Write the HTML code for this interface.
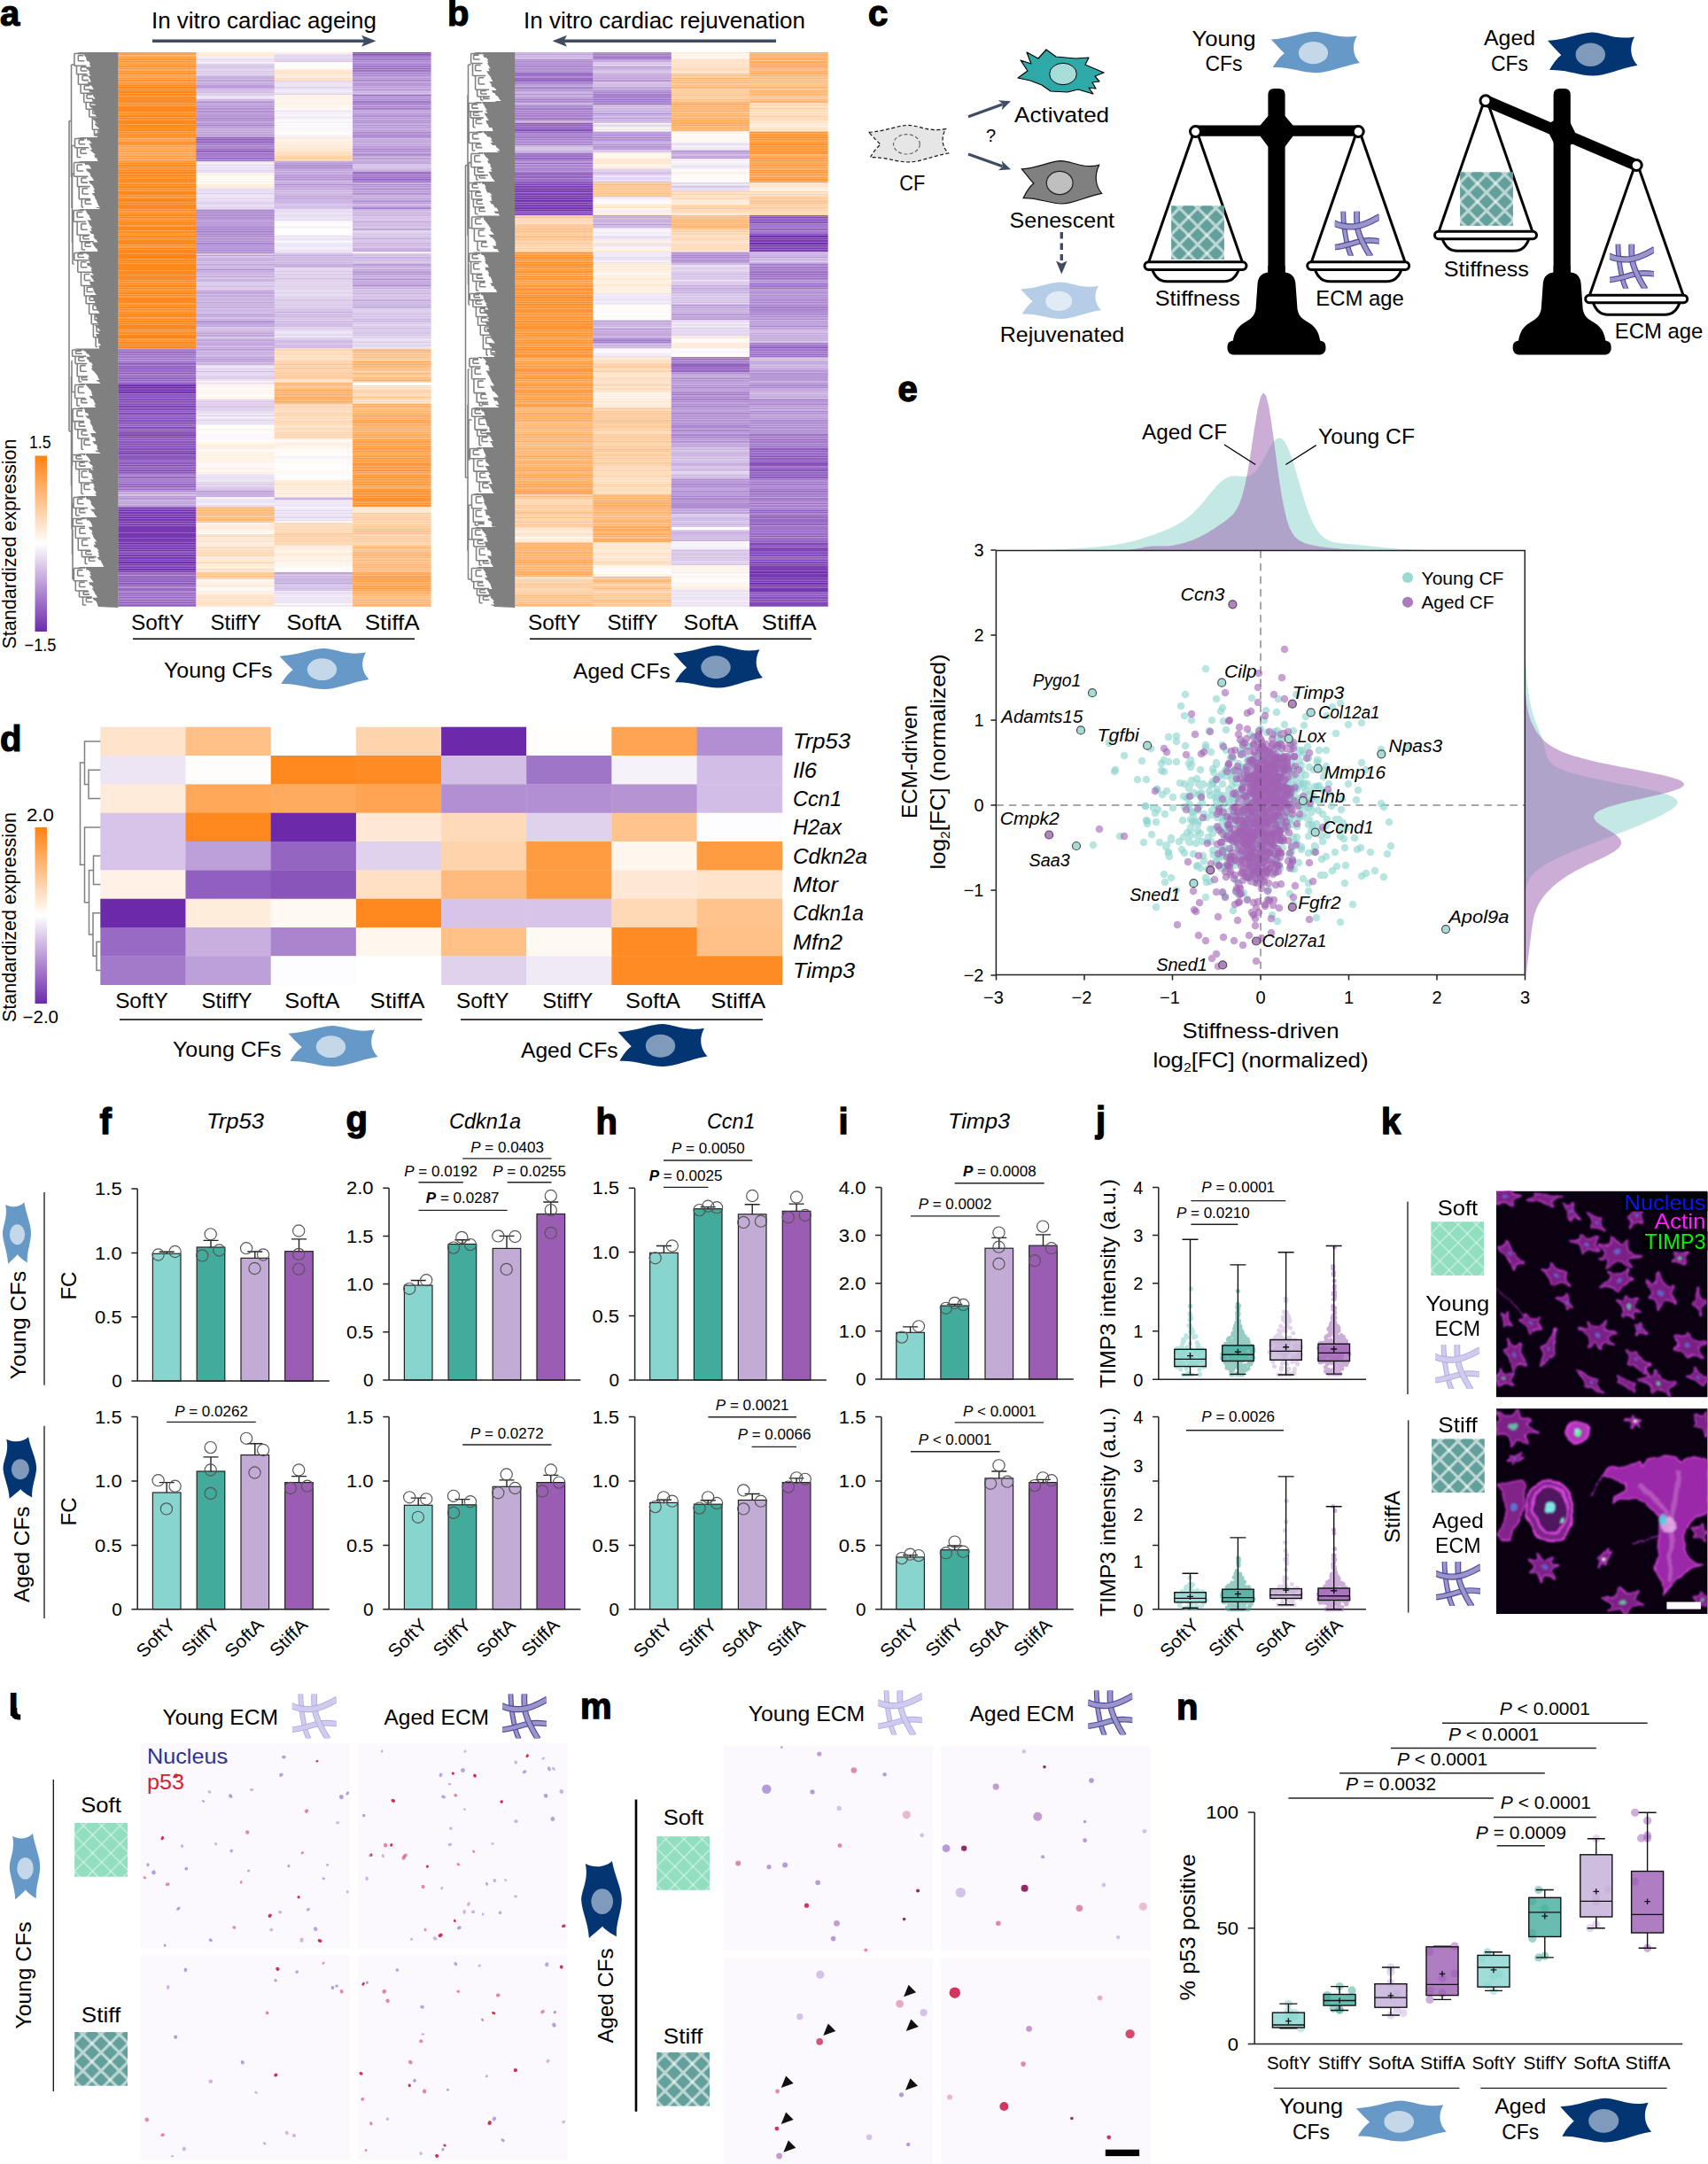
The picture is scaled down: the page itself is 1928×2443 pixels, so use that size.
<!DOCTYPE html>
<html><head><meta charset="utf-8"><title>Figure</title>
<style>html,body{margin:0;padding:0;background:#fff}svg{display:block}text{font-family:"Liberation Sans",sans-serif;fill:#000}</style>
</head><body><svg width="1928" height="2443" viewBox="0 0 1928 2443" fill="none"><rect width="1928" height="2443" fill="#fff"/><text x="0" y="29" font-size="40" font-weight="bold" stroke="#000" stroke-width="1.2">a</text><text x="505" y="29" font-size="40" font-weight="bold" stroke="#000" stroke-width="1.2">b</text><text x="298" y="32" font-size="25" text-anchor="middle" textLength="254" lengthAdjust="spacingAndGlyphs">In vitro cardiac ageing</text><text x="750" y="32" font-size="25" text-anchor="middle" textLength="318" lengthAdjust="spacingAndGlyphs">In vitro cardiac rejuvenation</text><path d="M172 46.3H414" stroke="#3f4d63" stroke-width="3.4"/><path d="M424.5 46.3L408 39.8L411.5 46.3L408 52.8z" fill="#3f4d63"/><path d="M876 46.3H634" stroke="#3f4d63" stroke-width="3.4"/><path d="M623.5 46.3L640 39.8L636.5 46.3L640 52.8z" fill="#3f4d63"/><path d="M133.2 59v3.2h88.4v-3.2z" fill="#ffa04c"/><path d="M133.2 62.2v1.6h88.4v-1.6z" fill="#ffa450"/><path d="M133.2 63.8v1.6h88.4v-1.6z" fill="#ff9c40"/><path d="M133.2 65.4v1.6h88.4v-1.6z" fill="#ff983c"/><path d="M133.2 67v1.6h88.4v-1.6z" fill="#ff9434"/><path d="M133.2 68.6v1.6h88.4v-1.6z" fill="#ff9430"/><path d="M133.2 70.2v1.6h88.4v-1.6z" fill="#ff902c"/><path d="M133.2 71.8v1.6h88.4v-1.6z" fill="#ff9838"/><path d="M133.2 73.4v3.2h88.4v-3.2z" fill="#ff9434"/><path d="M133.2 76.6v1.6h88.4v-1.6z" fill="#ff9838"/><path d="M133.2 78.2v1.6h88.4v-1.6z" fill="#ff9c48"/><path d="M133.2 79.8v1.6h88.4v-1.6z" fill="#ff9434"/><path d="M133.2 81.4v1.6h88.4v-1.6z" fill="#ff902c"/><path d="M133.2 83v1.6h88.4v-1.6z" fill="#ff9434"/><path d="M133.2 84.6v1.6h88.4v-1.6z" fill="#ff9c40"/><path d="M133.2 86.2v1.6h88.4v-1.6z" fill="#ff983c"/><path d="M133.2 87.8v1.6h88.4v-1.6z" fill="#ff9838"/><path d="M133.2 89.4v1.6h88.4v-1.6z" fill="#ff902c"/><path d="M133.2 91v1.6h88.4v-1.6z" fill="#ff9434"/><path d="M133.2 92.6v1.6h88.4v-1.6z" fill="#ff9438"/><path d="M133.2 94.2v1.6h88.4v-1.6z" fill="#ff8418"/><path d="M133.2 95.8v1.6h88.4v-1.6z" fill="#ff881c"/><path d="M133.2 97.4v1.6h88.4v-1.6z" fill="#ff8418"/><path d="M133.2 99v1.6h88.4v-1.6z" fill="#ff8820"/><path d="M133.2 100.6v1.6h88.4v-1.6z" fill="#ff881c"/><path d="M133.2 102.2v3.2h88.4v-3.2z" fill="#ff8418"/><path d="M133.2 105.4v3.2h88.4v-3.2z" fill="#ff881c"/><path d="M133.2 108.6v6.4h88.4v-6.4z" fill="#ff8c24"/><path d="M133.2 115v1.6h88.4v-1.6z" fill="#ff8820"/><path d="M133.2 116.6v1.6h88.4v-1.6z" fill="#ff8c20"/><path d="M133.2 118.2v1.6h88.4v-1.6z" fill="#ff881c"/><path d="M133.2 119.8v3.2h88.4v-3.2z" fill="#ff8820"/><path d="M133.2 123v3.2h88.4v-3.2z" fill="#ff881c"/><path d="M133.2 126.2v1.6h88.4v-1.6z" fill="#ff8418"/><path d="M133.2 127.8v1.6h88.4v-1.6z" fill="#ff8820"/><path d="M133.2 129.4v1.6h88.4v-1.6z" fill="#ff881c"/><path d="M133.2 131v1.6h88.4v-1.6z" fill="#ff8820"/><path d="M133.2 132.6v1.6h88.4v-1.6z" fill="#ff8418"/><path d="M133.2 134.2v1.6h88.4v-1.6z" fill="#ff8414"/><path d="M133.2 135.8v3.2h88.4v-3.2z" fill="#ff881c"/><path d="M133.2 139v1.6h88.4v-1.6z" fill="#ff8820"/><path d="M133.2 140.6v3.2h88.4v-3.2z" fill="#ff881c"/><path d="M133.2 143.8v1.6h88.4v-1.6z" fill="#ff8414"/><path d="M133.2 145.4v1.6h88.4v-1.6z" fill="#ff881c"/><path d="M133.2 147v1.6h88.4v-1.6z" fill="#ff8820"/><path d="M133.2 148.6v1.6h88.4v-1.6z" fill="#ff8c28"/><path d="M133.2 150.2v1.6h88.4v-1.6z" fill="#ff8418"/><path d="M133.2 151.8v1.6h88.4v-1.6z" fill="#ff881c"/><path d="M133.2 153.4v1.6h88.4v-1.6z" fill="#ff8c24"/><path d="M133.2 155v1.6h88.4v-1.6z" fill="#ff9c48"/><path d="M133.2 156.6v1.6h88.4v-1.6z" fill="#ffa050"/><path d="M133.2 158.2v1.6h88.4v-1.6z" fill="#ff9028"/><path d="M133.2 159.8v3.2h88.4v-3.2z" fill="#ff9434"/><path d="M133.2 163v1.6h88.4v-1.6z" fill="#ff9840"/><path d="M133.2 164.6v1.6h88.4v-1.6z" fill="#ffa450"/><path d="M133.2 166.2v1.6h88.4v-1.6z" fill="#ff9c44"/><path d="M133.2 167.8v1.6h88.4v-1.6z" fill="#ffa450"/><path d="M133.2 169.4v1.6h88.4v-1.6z" fill="#ff9c44"/><path d="M133.2 171v1.6h88.4v-1.6z" fill="#ffa858"/><path d="M133.2 172.6v1.6h88.4v-1.6z" fill="#ffa450"/><path d="M133.2 174.2v1.6h88.4v-1.6z" fill="#ff9c40"/><path d="M133.2 175.8v1.6h88.4v-1.6z" fill="#ff9840"/><path d="M133.2 177.4v3.2h88.4v-3.2z" fill="#ffa454"/><path d="M133.2 180.6v1.6h88.4v-1.6z" fill="#ff9c44"/><path d="M133.2 182.2v1.6h88.4v-1.6z" fill="#ff881c"/><path d="M133.2 183.8v1.6h88.4v-1.6z" fill="#ff8c24"/><path d="M133.2 185.4v3.2h88.4v-3.2z" fill="#ff8820"/><path d="M133.2 188.6v1.6h88.4v-1.6z" fill="#ff8c20"/><path d="M133.2 190.2v1.6h88.4v-1.6z" fill="#ff8820"/><path d="M133.2 191.8v1.6h88.4v-1.6z" fill="#ff8418"/><path d="M133.2 193.4v1.6h88.4v-1.6z" fill="#ff881c"/><path d="M133.2 195v1.6h88.4v-1.6z" fill="#ff8418"/><path d="M133.2 196.6v3.2h88.4v-3.2z" fill="#ff8820"/><path d="M133.2 199.8v1.6h88.4v-1.6z" fill="#ff8c20"/><path d="M133.2 201.4v1.6h88.4v-1.6z" fill="#ff8820"/><path d="M133.2 203v3.2h88.4v-3.2z" fill="#ff8c24"/><path d="M133.2 206.2v1.6h88.4v-1.6z" fill="#ff881c"/><path d="M133.2 207.8v1.6h88.4v-1.6z" fill="#ff8418"/><path d="M133.2 209.4v1.6h88.4v-1.6z" fill="#ff881c"/><path d="M133.2 211v1.6h88.4v-1.6z" fill="#ff8418"/><path d="M133.2 212.6v1.6h88.4v-1.6z" fill="#ff881c"/><path d="M133.2 214.2v1.6h88.4v-1.6z" fill="#ff8820"/><path d="M133.2 215.8v3.2h88.4v-3.2z" fill="#ff881c"/><path d="M133.2 219v1.6h88.4v-1.6z" fill="#ff8820"/><path d="M133.2 220.6v1.6h88.4v-1.6z" fill="#ff8c20"/><path d="M133.2 222.2v1.6h88.4v-1.6z" fill="#ff8820"/><path d="M133.2 223.8v4.8h88.4v-4.8z" fill="#ff881c"/><path d="M133.2 228.6v1.6h88.4v-1.6z" fill="#ff8418"/><path d="M133.2 230.2v4.8h88.4v-4.8z" fill="#ff881c"/><path d="M133.2 235v1.6h88.4v-1.6z" fill="#ff8c24"/><path d="M133.2 236.6v1.6h88.4v-1.6z" fill="#ff8c28"/><path d="M133.2 238.2v1.6h88.4v-1.6z" fill="#ff8820"/><path d="M133.2 239.8v1.6h88.4v-1.6z" fill="#ff8c24"/><path d="M133.2 241.4v3.2h88.4v-3.2z" fill="#ff881c"/><path d="M133.2 244.6v1.6h88.4v-1.6z" fill="#ff8418"/><path d="M133.2 246.2v1.6h88.4v-1.6z" fill="#ff881c"/><path d="M133.2 247.8v1.6h88.4v-1.6z" fill="#ff8c24"/><path d="M133.2 249.4v1.6h88.4v-1.6z" fill="#ff881c"/><path d="M133.2 251v3.2h88.4v-3.2z" fill="#ff8c24"/><path d="M133.2 254.2v1.6h88.4v-1.6z" fill="#ff8820"/><path d="M133.2 255.8v4.8h88.4v-4.8z" fill="#ff881c"/><path d="M133.2 260.6v3.2h88.4v-3.2z" fill="#ff8c24"/><path d="M133.2 263.8v1.6h88.4v-1.6z" fill="#ff9028"/><path d="M133.2 265.4v1.6h88.4v-1.6z" fill="#ff8820"/><path d="M133.2 267v1.6h88.4v-1.6z" fill="#ff881c"/><path d="M133.2 268.6v1.6h88.4v-1.6z" fill="#ff8c20"/><path d="M133.2 270.2v4.8h88.4v-4.8z" fill="#ff881c"/><path d="M133.2 275v1.6h88.4v-1.6z" fill="#ff8c20"/><path d="M133.2 276.6v1.6h88.4v-1.6z" fill="#ff8c24"/><path d="M133.2 278.2v1.6h88.4v-1.6z" fill="#ff8c20"/><path d="M133.2 279.8v1.6h88.4v-1.6z" fill="#ff8418"/><path d="M133.2 281.4v4.8h88.4v-4.8z" fill="#ff881c"/><path d="M133.2 286.2v6.4h88.4v-6.4z" fill="#ff8418"/><path d="M133.2 292.6v3.2h88.4v-3.2z" fill="#ff8820"/><path d="M133.2 295.8v1.6h88.4v-1.6z" fill="#ff8418"/><path d="M133.2 297.4v8h88.4v-8z" fill="#ff881c"/><path d="M133.2 305.4v4.8h88.4v-4.8z" fill="#ff8820"/><path d="M133.2 310.2v4.8h88.4v-4.8z" fill="#ff8c24"/><path d="M133.2 315v1.6h88.4v-1.6z" fill="#ff8c20"/><path d="M133.2 316.6v1.6h88.4v-1.6z" fill="#ff881c"/><path d="M133.2 318.2v1.6h88.4v-1.6z" fill="#ff8c24"/><path d="M133.2 319.8v1.6h88.4v-1.6z" fill="#ff881c"/><path d="M133.2 321.4v3.2h88.4v-3.2z" fill="#ff8820"/><path d="M133.2 324.6v1.6h88.4v-1.6z" fill="#ff881c"/><path d="M133.2 326.2v1.6h88.4v-1.6z" fill="#ff8818"/><path d="M133.2 327.8v1.6h88.4v-1.6z" fill="#ff881c"/><path d="M133.2 329.4v3.2h88.4v-3.2z" fill="#ff8820"/><path d="M133.2 332.6v1.6h88.4v-1.6z" fill="#ff881c"/><path d="M133.2 334.2v1.6h88.4v-1.6z" fill="#ff8818"/><path d="M133.2 335.8v3.2h88.4v-3.2z" fill="#ff8820"/><path d="M133.2 339v3.2h88.4v-3.2z" fill="#ff8c20"/><path d="M133.2 342.2v1.6h88.4v-1.6z" fill="#ff8c24"/><path d="M133.2 343.8v1.6h88.4v-1.6z" fill="#ff881c"/><path d="M133.2 345.4v3.2h88.4v-3.2z" fill="#ff8820"/><path d="M133.2 348.6v1.6h88.4v-1.6z" fill="#ff881c"/><path d="M133.2 350.2v1.6h88.4v-1.6z" fill="#ff8820"/><path d="M133.2 351.8v1.6h88.4v-1.6z" fill="#ff881c"/><path d="M133.2 353.4v1.6h88.4v-1.6z" fill="#ff8818"/><path d="M133.2 355v3.2h88.4v-3.2z" fill="#ff8c24"/><path d="M133.2 358.2v1.6h88.4v-1.6z" fill="#ff8c20"/><path d="M133.2 359.8v1.6h88.4v-1.6z" fill="#ff881c"/><path d="M133.2 361.4v1.6h88.4v-1.6z" fill="#ff8818"/><path d="M133.2 363v1.6h88.4v-1.6z" fill="#ff8820"/><path d="M133.2 364.6v1.6h88.4v-1.6z" fill="#ff8418"/><path d="M133.2 366.2v4.8h88.4v-4.8z" fill="#ff881c"/><path d="M133.2 371v1.6h88.4v-1.6z" fill="#ff8820"/><path d="M133.2 372.6v1.6h88.4v-1.6z" fill="#ff8c24"/><path d="M133.2 374.2v3.2h88.4v-3.2z" fill="#ff8c20"/><path d="M133.2 377.4v1.6h88.4v-1.6z" fill="#ff881c"/><path d="M133.2 379v3.2h88.4v-3.2z" fill="#ff8414"/><path d="M133.2 382.2v1.6h88.4v-1.6z" fill="#ff8820"/><path d="M133.2 383.8v1.6h88.4v-1.6z" fill="#ff8c24"/><path d="M133.2 385.4v3.2h88.4v-3.2z" fill="#ff8820"/><path d="M133.2 388.6v1.6h88.4v-1.6z" fill="#ff8418"/><path d="M133.2 390.2v3.2h88.4v-3.2z" fill="#ff881c"/><path d="M133.2 393.4v1.6h88.4v-1.6z" fill="#ac84d0"/><path d="M133.2 395v1.6h88.4v-1.6z" fill="#a47ccc"/><path d="M133.2 396.6v1.6h88.4v-1.6z" fill="#9060c0"/><path d="M133.2 398.2v1.6h88.4v-1.6z" fill="#9868c4"/><path d="M133.2 399.8v1.6h88.4v-1.6z" fill="#9c70c8"/><path d="M133.2 401.4v1.6h88.4v-1.6z" fill="#a078c8"/><path d="M133.2 403v1.6h88.4v-1.6z" fill="#a47ccc"/><path d="M133.2 404.6v1.6h88.4v-1.6z" fill="#a478c8"/><path d="M133.2 406.2v1.6h88.4v-1.6z" fill="#a47ccc"/><path d="M133.2 407.8v1.6h88.4v-1.6z" fill="#9c70c8"/><path d="M133.2 409.4v1.6h88.4v-1.6z" fill="#8c58bc"/><path d="M133.2 411v1.6h88.4v-1.6z" fill="#986cc4"/><path d="M133.2 412.6v3.2h88.4v-3.2z" fill="#9464c0"/><path d="M133.2 415.8v1.6h88.4v-1.6z" fill="#8854bc"/><path d="M133.2 417.4v1.6h88.4v-1.6z" fill="#9464c0"/><path d="M133.2 419v1.6h88.4v-1.6z" fill="#9c6cc4"/><path d="M133.2 420.6v1.6h88.4v-1.6z" fill="#8c58bc"/><path d="M133.2 422.2v1.6h88.4v-1.6z" fill="#9c6cc4"/><path d="M133.2 423.8v1.6h88.4v-1.6z" fill="#9060c0"/><path d="M133.2 425.4v1.6h88.4v-1.6z" fill="#9464c0"/><path d="M133.2 427v1.6h88.4v-1.6z" fill="#9060c0"/><path d="M133.2 428.6v1.6h88.4v-1.6z" fill="#9460c0"/><path d="M133.2 430.2v1.6h88.4v-1.6z" fill="#986cc4"/><path d="M133.2 431.8v1.6h88.4v-1.6z" fill="#8c58bc"/><path d="M133.2 433.4v1.6h88.4v-1.6z" fill="#7438b0"/><path d="M133.2 435v1.6h88.4v-1.6z" fill="#6c2cac"/><path d="M133.2 436.6v1.6h88.4v-1.6z" fill="#6c28a8"/><path d="M133.2 438.2v1.6h88.4v-1.6z" fill="#7030ac"/><path d="M133.2 439.8v1.6h88.4v-1.6z" fill="#6c2cac"/><path d="M133.2 441.4v1.6h88.4v-1.6z" fill="#7030ac"/><path d="M133.2 443v1.6h88.4v-1.6z" fill="#7438b0"/><path d="M133.2 444.6v1.6h88.4v-1.6z" fill="#8450b8"/><path d="M133.2 446.2v1.6h88.4v-1.6z" fill="#7838b0"/><path d="M133.2 447.8v1.6h88.4v-1.6z" fill="#8048b8"/><path d="M133.2 449.4v1.6h88.4v-1.6z" fill="#8854bc"/><path d="M133.2 451v1.6h88.4v-1.6z" fill="#8450b8"/><path d="M133.2 452.6v1.6h88.4v-1.6z" fill="#8048b4"/><path d="M133.2 454.2v1.6h88.4v-1.6z" fill="#8044b4"/><path d="M133.2 455.8v1.6h88.4v-1.6z" fill="#8048b8"/><path d="M133.2 457.4v1.6h88.4v-1.6z" fill="#7c40b4"/><path d="M133.2 459v1.6h88.4v-1.6z" fill="#7c44b4"/><path d="M133.2 460.6v3.2h88.4v-3.2z" fill="#844cb8"/><path d="M133.2 463.8v1.6h88.4v-1.6z" fill="#8c58bc"/><path d="M133.2 465.4v1.6h88.4v-1.6z" fill="#844cb8"/><path d="M133.2 467v1.6h88.4v-1.6z" fill="#7c44b4"/><path d="M133.2 468.6v1.6h88.4v-1.6z" fill="#905cc0"/><path d="M133.2 470.2v1.6h88.4v-1.6z" fill="#8048b8"/><path d="M133.2 471.8v1.6h88.4v-1.6z" fill="#8450b8"/><path d="M133.2 473.4v1.6h88.4v-1.6z" fill="#8850b8"/><path d="M133.2 475v1.6h88.4v-1.6z" fill="#8450b8"/><path d="M133.2 476.6v1.6h88.4v-1.6z" fill="#8048b8"/><path d="M133.2 478.2v1.6h88.4v-1.6z" fill="#8450b8"/><path d="M133.2 479.8v1.6h88.4v-1.6z" fill="#9464c0"/><path d="M133.2 481.4v1.6h88.4v-1.6z" fill="#844cb8"/><path d="M133.2 483v1.6h88.4v-1.6z" fill="#8450b8"/><path d="M133.2 484.6v1.6h88.4v-1.6z" fill="#8c5cbc"/><path d="M133.2 486.2v4.8h88.4v-4.8z" fill="#8c58bc"/><path d="M133.2 491v1.6h88.4v-1.6z" fill="#783cb0"/><path d="M133.2 492.6v1.6h88.4v-1.6z" fill="#8048b4"/><path d="M133.2 494.2v1.6h88.4v-1.6z" fill="#8850b8"/><path d="M133.2 495.8v1.6h88.4v-1.6z" fill="#8854bc"/><path d="M133.2 497.4v1.6h88.4v-1.6z" fill="#8c58bc"/><path d="M133.2 499v1.6h88.4v-1.6z" fill="#8850b8"/><path d="M133.2 500.6v1.6h88.4v-1.6z" fill="#8048b8"/><path d="M133.2 502.2v1.6h88.4v-1.6z" fill="#844cb8"/><path d="M133.2 503.8v1.6h88.4v-1.6z" fill="#8048b4"/><path d="M133.2 505.4v1.6h88.4v-1.6z" fill="#844cb8"/><path d="M133.2 507v1.6h88.4v-1.6z" fill="#8450b8"/><path d="M133.2 508.6v1.6h88.4v-1.6z" fill="#8044b4"/><path d="M133.2 510.2v3.2h88.4v-3.2z" fill="#7c44b4"/><path d="M133.2 513.4v6.4h88.4v-6.4z" fill="#8c58bc"/><path d="M133.2 519.8v1.6h88.4v-1.6z" fill="#8c5cbc"/><path d="M133.2 521.4v1.6h88.4v-1.6z" fill="#8854bc"/><path d="M133.2 523v1.6h88.4v-1.6z" fill="#905cc0"/><path d="M133.2 524.6v1.6h88.4v-1.6z" fill="#844cb8"/><path d="M133.2 526.2v1.6h88.4v-1.6z" fill="#8c58bc"/><path d="M133.2 527.8v1.6h88.4v-1.6z" fill="#8850b8"/><path d="M133.2 529.4v1.6h88.4v-1.6z" fill="#9060c0"/><path d="M133.2 531v1.6h88.4v-1.6z" fill="#8850b8"/><path d="M133.2 532.6v1.6h88.4v-1.6z" fill="#8854bc"/><path d="M133.2 534.2v1.6h88.4v-1.6z" fill="#8c58bc"/><path d="M133.2 535.8v1.6h88.4v-1.6z" fill="#a880cc"/><path d="M133.2 537.4v1.6h88.4v-1.6z" fill="#9868c4"/><path d="M133.2 539v1.6h88.4v-1.6z" fill="#9468c0"/><path d="M133.2 540.6v1.6h88.4v-1.6z" fill="#a478c8"/><path d="M133.2 542.2v1.6h88.4v-1.6z" fill="#9464c0"/><path d="M133.2 543.8v1.6h88.4v-1.6z" fill="#a074c8"/><path d="M133.2 545.4v1.6h88.4v-1.6z" fill="#9868c4"/><path d="M133.2 547v1.6h88.4v-1.6z" fill="#9c6cc4"/><path d="M133.2 548.6v1.6h88.4v-1.6z" fill="#8c58bc"/><path d="M133.2 550.2v1.6h88.4v-1.6z" fill="#a078c8"/><path d="M133.2 551.8v1.6h88.4v-1.6z" fill="#9868c4"/><path d="M133.2 553.4v1.6h88.4v-1.6z" fill="#b088d0"/><path d="M133.2 555v1.6h88.4v-1.6z" fill="#c8ace0"/><path d="M133.2 556.6v1.6h88.4v-1.6z" fill="#bc9cd8"/><path d="M133.2 558.2v1.6h88.4v-1.6z" fill="#d4bce4"/><path d="M133.2 559.8v1.6h88.4v-1.6z" fill="#b898d4"/><path d="M133.2 561.4v1.6h88.4v-1.6z" fill="#b490d4"/><path d="M133.2 563v1.6h88.4v-1.6z" fill="#b898d4"/><path d="M133.2 564.6v1.6h88.4v-1.6z" fill="#c4acdc"/><path d="M133.2 566.2v1.6h88.4v-1.6z" fill="#b898d4"/><path d="M133.2 567.8v1.6h88.4v-1.6z" fill="#bca0d8"/><path d="M133.2 569.4v1.6h88.4v-1.6z" fill="#c0a4dc"/><path d="M133.2 571v1.6h88.4v-1.6z" fill="#b494d4"/><path d="M133.2 572.6v1.6h88.4v-1.6z" fill="#783cb0"/><path d="M133.2 574.2v1.6h88.4v-1.6z" fill="#7438b0"/><path d="M133.2 575.8v1.6h88.4v-1.6z" fill="#7030ac"/><path d="M133.2 577.4v1.6h88.4v-1.6z" fill="#7838b0"/><path d="M133.2 579v1.6h88.4v-1.6z" fill="#7438b0"/><path d="M133.2 580.6v1.6h88.4v-1.6z" fill="#7434b0"/><path d="M133.2 582.2v1.6h88.4v-1.6z" fill="#7030ac"/><path d="M133.2 583.8v1.6h88.4v-1.6z" fill="#6c28a8"/><path d="M133.2 585.4v1.6h88.4v-1.6z" fill="#7838b0"/><path d="M133.2 587v1.6h88.4v-1.6z" fill="#7438b0"/><path d="M133.2 588.6v1.6h88.4v-1.6z" fill="#7034ac"/><path d="M133.2 590.2v1.6h88.4v-1.6z" fill="#783cb0"/><path d="M133.2 591.8v1.6h88.4v-1.6z" fill="#7434ac"/><path d="M133.2 593.4v1.6h88.4v-1.6z" fill="#783cb0"/><path d="M133.2 595v6.4h88.4v-6.4z" fill="#7838b0"/><path d="M133.2 601.4v1.6h88.4v-1.6z" fill="#7434ac"/><path d="M133.2 603v4.8h88.4v-4.8z" fill="#7438b0"/><path d="M133.2 607.8v3.2h88.4v-3.2z" fill="#783cb0"/><path d="M133.2 611v1.6h88.4v-1.6z" fill="#7c40b4"/><path d="M133.2 612.6v1.6h88.4v-1.6z" fill="#6c28a8"/><path d="M133.2 614.2v1.6h88.4v-1.6z" fill="#7434b0"/><path d="M133.2 615.8v1.6h88.4v-1.6z" fill="#7030ac"/><path d="M133.2 617.4v1.6h88.4v-1.6z" fill="#7c40b4"/><path d="M133.2 619v1.6h88.4v-1.6z" fill="#783cb0"/><path d="M133.2 620.6v1.6h88.4v-1.6z" fill="#7434ac"/><path d="M133.2 622.2v1.6h88.4v-1.6z" fill="#7c44b4"/><path d="M133.2 623.8v1.6h88.4v-1.6z" fill="#783cb0"/><path d="M133.2 625.4v1.6h88.4v-1.6z" fill="#7c44b4"/><path d="M133.2 627v1.6h88.4v-1.6z" fill="#7438b0"/><path d="M133.2 628.6v3.2h88.4v-3.2z" fill="#783cb0"/><path d="M133.2 631.8v1.6h88.4v-1.6z" fill="#7838b0"/><path d="M133.2 633.4v1.6h88.4v-1.6z" fill="#7434b0"/><path d="M133.2 635v1.6h88.4v-1.6z" fill="#6c2cac"/><path d="M133.2 636.6v1.6h88.4v-1.6z" fill="#7838b0"/><path d="M133.2 638.2v1.6h88.4v-1.6z" fill="#783cb0"/><path d="M133.2 639.8v1.6h88.4v-1.6z" fill="#7438b0"/><path d="M133.2 641.4v1.6h88.4v-1.6z" fill="#7434ac"/><path d="M133.2 643v1.6h88.4v-1.6z" fill="#7838b0"/><path d="M133.2 644.6v1.6h88.4v-1.6z" fill="#783cb0"/><path d="M133.2 646.2v3.2h88.4v-3.2z" fill="#9868c4"/><path d="M133.2 649.4v1.6h88.4v-1.6z" fill="#a078c8"/><path d="M133.2 651v1.6h88.4v-1.6z" fill="#8c58bc"/><path d="M133.2 652.6v1.6h88.4v-1.6z" fill="#905cc0"/><path d="M133.2 654.2v1.6h88.4v-1.6z" fill="#844cb8"/><path d="M133.2 655.8v1.6h88.4v-1.6z" fill="#8c5cbc"/><path d="M133.2 657.4v1.6h88.4v-1.6z" fill="#905cbc"/><path d="M133.2 659v1.6h88.4v-1.6z" fill="#8c5cbc"/><path d="M133.2 660.6v1.6h88.4v-1.6z" fill="#9060c0"/><path d="M133.2 662.2v1.6h88.4v-1.6z" fill="#a47ccc"/><path d="M133.2 663.8v3.2h88.4v-3.2z" fill="#9868c4"/><path d="M133.2 667v1.6h88.4v-1.6z" fill="#ac84d0"/><path d="M133.2 668.6v1.6h88.4v-1.6z" fill="#986cc4"/><path d="M133.2 670.2v1.6h88.4v-1.6z" fill="#8c5cbc"/><path d="M133.2 671.8v1.6h88.4v-1.6z" fill="#a074c8"/><path d="M133.2 673.4v1.6h88.4v-1.6z" fill="#9468c4"/><path d="M133.2 675v1.6h88.4v-1.6z" fill="#ac84cc"/><path d="M133.2 676.6v1.6h88.4v-1.6z" fill="#9460c0"/><path d="M133.2 678.2v1.6h88.4v-1.6z" fill="#9868c4"/><path d="M133.2 679.8v1.6h88.4v-1.6z" fill="#905cbc"/><path d="M133.2 681.4v1.6h88.4v-1.6z" fill="#9c6cc4"/><path d="M133.2 683v1.6h88.4v-1.6z" fill="#9060c0"/><path d="M133.2 684.6v0.4h88.4v-0.4z" fill="#9868c4"/><path d="M221.3 59v1.6h88.7v-1.6z" fill="#ffe8d4"/><path d="M221.3 60.6v1.6h88.7v-1.6z" fill="#ffecd8"/><path d="M221.3 62.2v1.6h88.7v-1.6z" fill="#ffe4cc"/><path d="M221.3 63.8v1.6h88.7v-1.6z" fill="#f4f0f8"/><path d="M221.3 65.4v1.6h88.7v-1.6z" fill="#ece4f4"/><path d="M221.3 67v1.6h88.7v-1.6z" fill="#e4d8f0"/><path d="M221.3 68.6v1.6h88.7v-1.6z" fill="#ece4f4"/><path d="M221.3 70.2v1.6h88.7v-1.6z" fill="#f4f0f8"/><path d="M221.3 71.8v1.6h88.7v-1.6z" fill="#dcccec"/><path d="M221.3 73.4v3.2h88.7v-3.2z" fill="#d4c4e8"/><path d="M221.3 76.6v1.6h88.7v-1.6z" fill="#d8c8e8"/><path d="M221.3 78.2v1.6h88.7v-1.6z" fill="#e0d0ec"/><path d="M221.3 79.8v1.6h88.7v-1.6z" fill="#d8c8e8"/><path d="M221.3 81.4v1.6h88.7v-1.6z" fill="#dcccec"/><path d="M221.3 83v1.6h88.7v-1.6z" fill="#e0d4ec"/><path d="M221.3 84.6v1.6h88.7v-1.6z" fill="#d4c4e8"/><path d="M221.3 86.2v1.6h88.7v-1.6z" fill="#bc9cd8"/><path d="M221.3 87.8v1.6h88.7v-1.6z" fill="#c4acdc"/><path d="M221.3 89.4v1.6h88.7v-1.6z" fill="#c0a8dc"/><path d="M221.3 91v1.6h88.7v-1.6z" fill="#c0a0d8"/><path d="M221.3 92.6v1.6h88.7v-1.6z" fill="#c8b0e0"/><path d="M221.3 94.2v1.6h88.7v-1.6z" fill="#bca0d8"/><path d="M221.3 95.8v3.2h88.7v-3.2z" fill="#bc9cd8"/><path d="M221.3 99v1.6h88.7v-1.6z" fill="#c0a4dc"/><path d="M221.3 100.6v1.6h88.7v-1.6z" fill="#d0b8e4"/><path d="M221.3 102.2v1.6h88.7v-1.6z" fill="#ccb4e0"/><path d="M221.3 103.8v1.6h88.7v-1.6z" fill="#d0bce4"/><path d="M221.3 105.4v1.6h88.7v-1.6z" fill="#dccce8"/><path d="M221.3 107v1.6h88.7v-1.6z" fill="#dcccec"/><path d="M221.3 108.6v1.6h88.7v-1.6z" fill="#ece4f4"/><path d="M221.3 110.2v1.6h88.7v-1.6z" fill="#e8e0f4"/><path d="M221.3 111.8v1.6h88.7v-1.6z" fill="#ccb4e0"/><path d="M221.3 113.4v1.6h88.7v-1.6z" fill="#c0a4dc"/><path d="M221.3 115v1.6h88.7v-1.6z" fill="#b08cd0"/><path d="M221.3 116.6v1.6h88.7v-1.6z" fill="#bca0d8"/><path d="M221.3 118.2v3.2h88.7v-3.2z" fill="#bc9cd8"/><path d="M221.3 121.4v1.6h88.7v-1.6z" fill="#b08cd0"/><path d="M221.3 123v1.6h88.7v-1.6z" fill="#b898d4"/><path d="M221.3 124.6v3.2h88.7v-3.2z" fill="#b490d4"/><path d="M221.3 127.8v3.2h88.7v-3.2z" fill="#bc9cd8"/><path d="M221.3 131v1.6h88.7v-1.6z" fill="#b090d0"/><path d="M221.3 132.6v1.6h88.7v-1.6z" fill="#ac84d0"/><path d="M221.3 134.2v1.6h88.7v-1.6z" fill="#a47ccc"/><path d="M221.3 135.8v1.6h88.7v-1.6z" fill="#b090d4"/><path d="M221.3 137.4v1.6h88.7v-1.6z" fill="#c0a0d8"/><path d="M221.3 139v1.6h88.7v-1.6z" fill="#b494d4"/><path d="M221.3 140.6v1.6h88.7v-1.6z" fill="#a880cc"/><path d="M221.3 142.2v1.6h88.7v-1.6z" fill="#b08cd0"/><path d="M221.3 143.8v1.6h88.7v-1.6z" fill="#bc9cd8"/><path d="M221.3 145.4v1.6h88.7v-1.6z" fill="#c4acdc"/><path d="M221.3 147v1.6h88.7v-1.6z" fill="#c0a8dc"/><path d="M221.3 148.6v1.6h88.7v-1.6z" fill="#bca0d8"/><path d="M221.3 150.2v1.6h88.7v-1.6z" fill="#c0a0d8"/><path d="M221.3 151.8v1.6h88.7v-1.6z" fill="#b898d4"/><path d="M221.3 153.4v1.6h88.7v-1.6z" fill="#bca0d8"/><path d="M221.3 155v1.6h88.7v-1.6z" fill="#9464c0"/><path d="M221.3 156.6v1.6h88.7v-1.6z" fill="#905cbc"/><path d="M221.3 158.2v1.6h88.7v-1.6z" fill="#9060c0"/><path d="M221.3 159.8v1.6h88.7v-1.6z" fill="#8c5cbc"/><path d="M221.3 161.4v1.6h88.7v-1.6z" fill="#a478c8"/><path d="M221.3 163v1.6h88.7v-1.6z" fill="#ac84d0"/><path d="M221.3 164.6v1.6h88.7v-1.6z" fill="#a47ccc"/><path d="M221.3 166.2v1.6h88.7v-1.6z" fill="#a078c8"/><path d="M221.3 167.8v1.6h88.7v-1.6z" fill="#9c6cc4"/><path d="M221.3 169.4v1.6h88.7v-1.6z" fill="#905cc0"/><path d="M221.3 171v1.6h88.7v-1.6z" fill="#986cc4"/><path d="M221.3 172.6v1.6h88.7v-1.6z" fill="#9c70c4"/><path d="M221.3 174.2v1.6h88.7v-1.6z" fill="#905cbc"/><path d="M221.3 175.8v1.6h88.7v-1.6z" fill="#a478c8"/><path d="M221.3 177.4v1.6h88.7v-1.6z" fill="#986cc4"/><path d="M221.3 179v1.6h88.7v-1.6z" fill="#a078c8"/><path d="M221.3 180.6v1.6h88.7v-1.6z" fill="#a074c8"/><path d="M221.3 182.2v1.6h88.7v-1.6z" fill="#e4d8f0"/><path d="M221.3 183.8v1.6h88.7v-1.6z" fill="#f8f4f8"/><path d="M221.3 185.4v1.6h88.7v-1.6z" fill="#e4d8f0"/><path d="M221.3 187v1.6h88.7v-1.6z" fill="#f0e8f4"/><path d="M221.3 188.6v1.6h88.7v-1.6z" fill="#e8dcf0"/><path d="M221.3 190.2v1.6h88.7v-1.6z" fill="#e8e0f4"/><path d="M221.3 191.8v1.6h88.7v-1.6z" fill="#e4d4f0"/><path d="M221.3 193.4v1.6h88.7v-1.6z" fill="#e4d8f0"/><path d="M221.3 195v1.6h88.7v-1.6z" fill="#fff4ec"/><path d="M221.3 196.6v1.6h88.7v-1.6z" fill="#ffecdc"/><path d="M221.3 198.2v1.6h88.7v-1.6z" fill="#fcf8fc"/><path d="M221.3 199.8v1.6h88.7v-1.6z" fill="#fffcf8"/><path d="M221.3 201.4v1.6h88.7v-1.6z" fill="#fff4e8"/><path d="M221.3 203v1.6h88.7v-1.6z" fill="#fffcfc"/><path d="M221.3 204.6v1.6h88.7v-1.6z" fill="#fff0e4"/><path d="M221.3 206.2v1.6h88.7v-1.6z" fill="#fffcf8"/><path d="M221.3 207.8v3.2h88.7v-3.2z" fill="#fff0e0"/><path d="M221.3 211v1.6h88.7v-1.6z" fill="#ffe8d4"/><path d="M221.3 212.6v1.6h88.7v-1.6z" fill="#e8e0f4"/><path d="M221.3 214.2v1.6h88.7v-1.6z" fill="#e0d0ec"/><path d="M221.3 215.8v1.6h88.7v-1.6z" fill="#e8e0f4"/><path d="M221.3 217.4v1.6h88.7v-1.6z" fill="#e0d0ec"/><path d="M221.3 219v1.6h88.7v-1.6z" fill="#e8e0f4"/><path d="M221.3 220.6v1.6h88.7v-1.6z" fill="#ece4f4"/><path d="M221.3 222.2v1.6h88.7v-1.6z" fill="#e8dcf0"/><path d="M221.3 223.8v1.6h88.7v-1.6z" fill="#e0d4ec"/><path d="M221.3 225.4v1.6h88.7v-1.6z" fill="#ece0f4"/><path d="M221.3 227v1.6h88.7v-1.6z" fill="#e4d8f0"/><path d="M221.3 228.6v1.6h88.7v-1.6z" fill="#dcccec"/><path d="M221.3 230.2v1.6h88.7v-1.6z" fill="#e0d0ec"/><path d="M221.3 231.8v1.6h88.7v-1.6z" fill="#e8e0f4"/><path d="M221.3 233.4v1.6h88.7v-1.6z" fill="#e0d0ec"/><path d="M221.3 235v1.6h88.7v-1.6z" fill="#e4d8f0"/><path d="M221.3 236.6v1.6h88.7v-1.6z" fill="#ac88d0"/><path d="M221.3 238.2v1.6h88.7v-1.6z" fill="#a47ccc"/><path d="M221.3 239.8v1.6h88.7v-1.6z" fill="#ac88d0"/><path d="M221.3 241.4v3.2h88.7v-3.2z" fill="#b08cd0"/><path d="M221.3 244.6v1.6h88.7v-1.6z" fill="#ac88d0"/><path d="M221.3 246.2v1.6h88.7v-1.6z" fill="#a47ccc"/><path d="M221.3 247.8v1.6h88.7v-1.6z" fill="#b898d8"/><path d="M221.3 249.4v1.6h88.7v-1.6z" fill="#b898d4"/><path d="M221.3 251v3.2h88.7v-3.2z" fill="#bc9cd8"/><path d="M221.3 254.2v1.6h88.7v-1.6z" fill="#ac88d0"/><path d="M221.3 255.8v1.6h88.7v-1.6z" fill="#a884cc"/><path d="M221.3 257.4v1.6h88.7v-1.6z" fill="#ac84d0"/><path d="M221.3 259v1.6h88.7v-1.6z" fill="#b490d4"/><path d="M221.3 260.6v1.6h88.7v-1.6z" fill="#a078c8"/><path d="M221.3 262.2v1.6h88.7v-1.6z" fill="#a884cc"/><path d="M221.3 263.8v1.6h88.7v-1.6z" fill="#a880cc"/><path d="M221.3 265.4v1.6h88.7v-1.6z" fill="#b08cd0"/><path d="M221.3 267v1.6h88.7v-1.6z" fill="#b898d4"/><path d="M221.3 268.6v1.6h88.7v-1.6z" fill="#b08cd0"/><path d="M221.3 270.2v1.6h88.7v-1.6z" fill="#ac88d0"/><path d="M221.3 271.8v1.6h88.7v-1.6z" fill="#b090d4"/><path d="M221.3 273.4v1.6h88.7v-1.6z" fill="#ac88d0"/><path d="M221.3 275v1.6h88.7v-1.6z" fill="#a47ccc"/><path d="M221.3 276.6v1.6h88.7v-1.6z" fill="#b090d4"/><path d="M221.3 278.2v1.6h88.7v-1.6z" fill="#ac84d0"/><path d="M221.3 279.8v1.6h88.7v-1.6z" fill="#b490d4"/><path d="M221.3 281.4v1.6h88.7v-1.6z" fill="#ac84cc"/><path d="M221.3 283v1.6h88.7v-1.6z" fill="#b89cd8"/><path d="M221.3 284.6v1.6h88.7v-1.6z" fill="#a884cc"/><path d="M221.3 286.2v1.6h88.7v-1.6z" fill="#d8c4e8"/><path d="M221.3 287.8v1.6h88.7v-1.6z" fill="#c0a0d8"/><path d="M221.3 289.4v1.6h88.7v-1.6z" fill="#d4c0e8"/><path d="M221.3 291v1.6h88.7v-1.6z" fill="#c8b0e0"/><path d="M221.3 292.6v1.6h88.7v-1.6z" fill="#c0a4d8"/><path d="M221.3 294.2v1.6h88.7v-1.6z" fill="#c8b0e0"/><path d="M221.3 295.8v1.6h88.7v-1.6z" fill="#ccb8e4"/><path d="M221.3 297.4v1.6h88.7v-1.6z" fill="#c4a8dc"/><path d="M221.3 299v1.6h88.7v-1.6z" fill="#c4acdc"/><path d="M221.3 300.6v1.6h88.7v-1.6z" fill="#ccb4e0"/><path d="M221.3 302.2v1.6h88.7v-1.6z" fill="#c8ace0"/><path d="M221.3 303.8v1.6h88.7v-1.6z" fill="#b08cd0"/><path d="M221.3 305.4v1.6h88.7v-1.6z" fill="#c4a8dc"/><path d="M221.3 307v1.6h88.7v-1.6z" fill="#c8b0e0"/><path d="M221.3 308.6v1.6h88.7v-1.6z" fill="#c4acdc"/><path d="M221.3 310.2v1.6h88.7v-1.6z" fill="#ccb4e0"/><path d="M221.3 311.8v1.6h88.7v-1.6z" fill="#c0a4d8"/><path d="M221.3 313.4v1.6h88.7v-1.6z" fill="#d8c8e8"/><path d="M221.3 315v3.2h88.7v-3.2z" fill="#ccb4e0"/><path d="M221.3 318.2v1.6h88.7v-1.6z" fill="#d4c4e8"/><path d="M221.3 319.8v1.6h88.7v-1.6z" fill="#d8c8e8"/><path d="M221.3 321.4v1.6h88.7v-1.6z" fill="#d8c4e8"/><path d="M221.3 323v1.6h88.7v-1.6z" fill="#d0bce4"/><path d="M221.3 324.6v1.6h88.7v-1.6z" fill="#dcc8e8"/><path d="M221.3 326.2v1.6h88.7v-1.6z" fill="#d4c0e4"/><path d="M221.3 327.8v1.6h88.7v-1.6z" fill="#c0a4dc"/><path d="M221.3 329.4v1.6h88.7v-1.6z" fill="#bc9cd8"/><path d="M221.3 331v1.6h88.7v-1.6z" fill="#c8ace0"/><path d="M221.3 332.6v3.2h88.7v-3.2z" fill="#c4acdc"/><path d="M221.3 335.8v1.6h88.7v-1.6z" fill="#c8b0e0"/><path d="M221.3 337.4v1.6h88.7v-1.6z" fill="#c4acdc"/><path d="M221.3 339v1.6h88.7v-1.6z" fill="#d0bce4"/><path d="M221.3 340.6v1.6h88.7v-1.6z" fill="#c0a4dc"/><path d="M221.3 342.2v1.6h88.7v-1.6z" fill="#c0a8dc"/><path d="M221.3 343.8v1.6h88.7v-1.6z" fill="#c8ace0"/><path d="M221.3 345.4v3.2h88.7v-3.2z" fill="#c8b0e0"/><path d="M221.3 348.6v1.6h88.7v-1.6z" fill="#d0b8e4"/><path d="M221.3 350.2v1.6h88.7v-1.6z" fill="#c0a4dc"/><path d="M221.3 351.8v1.6h88.7v-1.6z" fill="#ccb8e4"/><path d="M221.3 353.4v1.6h88.7v-1.6z" fill="#c8b0e0"/><path d="M221.3 355v1.6h88.7v-1.6z" fill="#bca0d8"/><path d="M221.3 356.6v1.6h88.7v-1.6z" fill="#c0a4dc"/><path d="M221.3 358.2v1.6h88.7v-1.6z" fill="#d0bce4"/><path d="M221.3 359.8v1.6h88.7v-1.6z" fill="#c4acdc"/><path d="M221.3 361.4v1.6h88.7v-1.6z" fill="#bc9cd8"/><path d="M221.3 363v1.6h88.7v-1.6z" fill="#b088d0"/><path d="M221.3 364.6v1.6h88.7v-1.6z" fill="#b89cd8"/><path d="M221.3 366.2v1.6h88.7v-1.6z" fill="#bc9cd8"/><path d="M221.3 367.8v1.6h88.7v-1.6z" fill="#c0a4dc"/><path d="M221.3 369.4v1.6h88.7v-1.6z" fill="#d8c8e8"/><path d="M221.3 371v1.6h88.7v-1.6z" fill="#d0b8e4"/><path d="M221.3 372.6v1.6h88.7v-1.6z" fill="#ccb8e0"/><path d="M221.3 374.2v1.6h88.7v-1.6z" fill="#c0a8dc"/><path d="M221.3 375.8v1.6h88.7v-1.6z" fill="#c0a0d8"/><path d="M221.3 377.4v1.6h88.7v-1.6z" fill="#c4a8dc"/><path d="M221.3 379v1.6h88.7v-1.6z" fill="#c0a4dc"/><path d="M221.3 380.6v1.6h88.7v-1.6z" fill="#d8c8e8"/><path d="M221.3 382.2v1.6h88.7v-1.6z" fill="#bca0d8"/><path d="M221.3 383.8v1.6h88.7v-1.6z" fill="#bc9cd8"/><path d="M221.3 385.4v1.6h88.7v-1.6z" fill="#c8ace0"/><path d="M221.3 387v1.6h88.7v-1.6z" fill="#c0a4dc"/><path d="M221.3 388.6v1.6h88.7v-1.6z" fill="#b898d8"/><path d="M221.3 390.2v1.6h88.7v-1.6z" fill="#ccb4e0"/><path d="M221.3 391.8v1.6h88.7v-1.6z" fill="#c0a8dc"/><path d="M221.3 393.4v1.6h88.7v-1.6z" fill="#b89cd8"/><path d="M221.3 395v1.6h88.7v-1.6z" fill="#c4acdc"/><path d="M221.3 396.6v1.6h88.7v-1.6z" fill="#c8ace0"/><path d="M221.3 398.2v1.6h88.7v-1.6z" fill="#c0a4dc"/><path d="M221.3 399.8v1.6h88.7v-1.6z" fill="#c8b0e0"/><path d="M221.3 401.4v1.6h88.7v-1.6z" fill="#ccb4e0"/><path d="M221.3 403v1.6h88.7v-1.6z" fill="#c0a4dc"/><path d="M221.3 404.6v1.6h88.7v-1.6z" fill="#b89cd8"/><path d="M221.3 406.2v1.6h88.7v-1.6z" fill="#b494d4"/><path d="M221.3 407.8v1.6h88.7v-1.6z" fill="#c4a8dc"/><path d="M221.3 409.4v1.6h88.7v-1.6z" fill="#ccb4e0"/><path d="M221.3 411v1.6h88.7v-1.6z" fill="#c8b0e0"/><path d="M221.3 412.6v1.6h88.7v-1.6z" fill="#e8e0f4"/><path d="M221.3 414.2v1.6h88.7v-1.6z" fill="#ece4f4"/><path d="M221.3 415.8v1.6h88.7v-1.6z" fill="#dcccec"/><path d="M221.3 417.4v1.6h88.7v-1.6z" fill="#e4d8f0"/><path d="M221.3 419v1.6h88.7v-1.6z" fill="#d0bce4"/><path d="M221.3 420.6v1.6h88.7v-1.6z" fill="#e4d8f0"/><path d="M221.3 422.2v1.6h88.7v-1.6z" fill="#e4d4f0"/><path d="M221.3 423.8v3.2h88.7v-3.2z" fill="#e0d0ec"/><path d="M221.3 427v1.6h88.7v-1.6z" fill="#dcccec"/><path d="M221.3 428.6v1.6h88.7v-1.6z" fill="#ece0f4"/><path d="M221.3 430.2v1.6h88.7v-1.6z" fill="#f8f4fc"/><path d="M221.3 431.8v1.6h88.7v-1.6z" fill="#e8dcf0"/><path d="M221.3 433.4v1.6h88.7v-1.6z" fill="#fff0e4"/><path d="M221.3 435v1.6h88.7v-1.6z" fill="#fff8f4"/><path d="M221.3 436.6v1.6h88.7v-1.6z" fill="#fff4ec"/><path d="M221.3 438.2v1.6h88.7v-1.6z" fill="#fffcfc"/><path d="M221.3 439.8v1.6h88.7v-1.6z" fill="#fff4ec"/><path d="M221.3 441.4v1.6h88.7v-1.6z" fill="#fff8f0"/><path d="M221.3 443v1.6h88.7v-1.6z" fill="#fff4ec"/><path d="M221.3 444.6v1.6h88.7v-1.6z" fill="#fff8f4"/><path d="M221.3 446.2v1.6h88.7v-1.6z" fill="#fffcfc"/><path d="M221.3 447.8v1.6h88.7v-1.6z" fill="#fff8f4"/><path d="M221.3 449.4v1.6h88.7v-1.6z" fill="#fff0e4"/><path d="M221.3 451v1.6h88.7v-1.6z" fill="#e4d8f0"/><path d="M221.3 452.6v1.6h88.7v-1.6z" fill="#d8c8e8"/><path d="M221.3 454.2v4.8h88.7v-4.8z" fill="#e0d0ec"/><path d="M221.3 459v1.6h88.7v-1.6z" fill="#d4c0e4"/><path d="M221.3 460.6v1.6h88.7v-1.6z" fill="#e0d0ec"/><path d="M221.3 462.2v1.6h88.7v-1.6z" fill="#d8c8e8"/><path d="M221.3 463.8v1.6h88.7v-1.6z" fill="#e8dcf0"/><path d="M221.3 465.4v1.6h88.7v-1.6z" fill="#e4d8f0"/><path d="M221.3 467v1.6h88.7v-1.6z" fill="#f4f0f8"/><path d="M221.3 468.6v1.6h88.7v-1.6z" fill="#e0d0ec"/><path d="M221.3 470.2v1.6h88.7v-1.6z" fill="#f4ecf8"/><path d="M221.3 471.8v1.6h88.7v-1.6z" fill="#f0e8f4"/><path d="M221.3 473.4v1.6h88.7v-1.6z" fill="#dcd0ec"/><path d="M221.3 475v1.6h88.7v-1.6z" fill="#e8e0f4"/><path d="M221.3 476.6v1.6h88.7v-1.6z" fill="#e8dcf0"/><path d="M221.3 478.2v1.6h88.7v-1.6z" fill="#e8e0f0"/><path d="M221.3 479.8v1.6h88.7v-1.6z" fill="#fcfcfc"/><path d="M221.3 481.4v1.6h88.7v-1.6z" fill="#ffffff"/><path d="M221.3 483v1.6h88.7v-1.6z" fill="#fffcfc"/><path d="M221.3 484.6v1.6h88.7v-1.6z" fill="#fff0e4"/><path d="M221.3 486.2v1.6h88.7v-1.6z" fill="#fffcfc"/><path d="M221.3 487.8v1.6h88.7v-1.6z" fill="#fffffc"/><path d="M221.3 489.4v4.8h88.7v-4.8z" fill="#fcf8fc"/><path d="M221.3 494.2v1.6h88.7v-1.6z" fill="#f8f4fc"/><path d="M221.3 495.8v1.6h88.7v-1.6z" fill="#fffcf8"/><path d="M221.3 497.4v1.6h88.7v-1.6z" fill="#fffcfc"/><path d="M221.3 499v1.6h88.7v-1.6z" fill="#fff8f0"/><path d="M221.3 500.6v1.6h88.7v-1.6z" fill="#fff4e8"/><path d="M221.3 502.2v1.6h88.7v-1.6z" fill="#ffe8d4"/><path d="M221.3 503.8v3.2h88.7v-3.2z" fill="#fff0e4"/><path d="M221.3 507v1.6h88.7v-1.6z" fill="#fff8f4"/><path d="M221.3 508.6v1.6h88.7v-1.6z" fill="#fffcf8"/><path d="M221.3 510.2v1.6h88.7v-1.6z" fill="#ffecd8"/><path d="M221.3 511.8v1.6h88.7v-1.6z" fill="#fff4e8"/><path d="M221.3 513.4v1.6h88.7v-1.6z" fill="#fff0e0"/><path d="M221.3 515v1.6h88.7v-1.6z" fill="#fff4ec"/><path d="M221.3 516.6v1.6h88.7v-1.6z" fill="#fff0e0"/><path d="M221.3 518.2v1.6h88.7v-1.6z" fill="#fff4e8"/><path d="M221.3 519.8v1.6h88.7v-1.6z" fill="#fff0e4"/><path d="M221.3 521.4v1.6h88.7v-1.6z" fill="#fff4e8"/><path d="M221.3 523v1.6h88.7v-1.6z" fill="#fffcf8"/><path d="M221.3 524.6v1.6h88.7v-1.6z" fill="#f8f4f8"/><path d="M221.3 526.2v1.6h88.7v-1.6z" fill="#fff8f4"/><path d="M221.3 527.8v3.2h88.7v-3.2z" fill="#fff4e8"/><path d="M221.3 531v1.6h88.7v-1.6z" fill="#ffffff"/><path d="M221.3 532.6v3.2h88.7v-3.2z" fill="#fff0e4"/><path d="M221.3 535.8v1.6h88.7v-1.6z" fill="#e8e0f4"/><path d="M221.3 537.4v1.6h88.7v-1.6z" fill="#ece0f4"/><path d="M221.3 539v1.6h88.7v-1.6z" fill="#e4dcf0"/><path d="M221.3 540.6v1.6h88.7v-1.6z" fill="#e8e0f4"/><path d="M221.3 542.2v1.6h88.7v-1.6z" fill="#ece4f4"/><path d="M221.3 543.8v1.6h88.7v-1.6z" fill="#e0d4ec"/><path d="M221.3 545.4v1.6h88.7v-1.6z" fill="#dccce8"/><path d="M221.3 547v1.6h88.7v-1.6z" fill="#e0d4ec"/><path d="M221.3 548.6v1.6h88.7v-1.6z" fill="#e0d0ec"/><path d="M221.3 550.2v1.6h88.7v-1.6z" fill="#d0bce4"/><path d="M221.3 551.8v1.6h88.7v-1.6z" fill="#d4c4e8"/><path d="M221.3 553.4v1.6h88.7v-1.6z" fill="#c0a4dc"/><path d="M221.3 555v1.6h88.7v-1.6z" fill="#c0a0d8"/><path d="M221.3 556.6v1.6h88.7v-1.6z" fill="#c4a8dc"/><path d="M221.3 558.2v1.6h88.7v-1.6z" fill="#bca0d8"/><path d="M221.3 559.8v1.6h88.7v-1.6z" fill="#c8b0e0"/><path d="M221.3 561.4v1.6h88.7v-1.6z" fill="#fcfcff"/><path d="M221.3 563v1.6h88.7v-1.6z" fill="#ece4f4"/><path d="M221.3 564.6v1.6h88.7v-1.6z" fill="#e8e0f4"/><path d="M221.3 566.2v1.6h88.7v-1.6z" fill="#e4dcf0"/><path d="M221.3 567.8v1.6h88.7v-1.6z" fill="#f4f0f8"/><path d="M221.3 569.4v1.6h88.7v-1.6z" fill="#ece4f4"/><path d="M221.3 571v1.6h88.7v-1.6z" fill="#e4d8f0"/><path d="M221.3 572.6v1.6h88.7v-1.6z" fill="#ffb874"/><path d="M221.3 574.2v1.6h88.7v-1.6z" fill="#ffb474"/><path d="M221.3 575.8v1.6h88.7v-1.6z" fill="#ffb470"/><path d="M221.3 577.4v1.6h88.7v-1.6z" fill="#ffc088"/><path d="M221.3 579v1.6h88.7v-1.6z" fill="#ffb878"/><path d="M221.3 580.6v1.6h88.7v-1.6z" fill="#ffb474"/><path d="M221.3 582.2v1.6h88.7v-1.6z" fill="#ffc490"/><path d="M221.3 583.8v1.6h88.7v-1.6z" fill="#ffb878"/><path d="M221.3 585.4v1.6h88.7v-1.6z" fill="#ffb470"/><path d="M221.3 587v1.6h88.7v-1.6z" fill="#ffb878"/><path d="M221.3 588.6v1.6h88.7v-1.6z" fill="#ffc490"/><path d="M221.3 590.2v1.6h88.7v-1.6z" fill="#fff4ec"/><path d="M221.3 591.8v6.4h88.7v-6.4z" fill="#ffecdc"/><path d="M221.3 598.2v1.6h88.7v-1.6z" fill="#fff4e8"/><path d="M221.3 599.8v1.6h88.7v-1.6z" fill="#fff4ec"/><path d="M221.3 601.4v1.6h88.7v-1.6z" fill="#fffcf8"/><path d="M221.3 603v1.6h88.7v-1.6z" fill="#ffe0c8"/><path d="M221.3 604.6v1.6h88.7v-1.6z" fill="#ffd8b4"/><path d="M221.3 606.2v3.2h88.7v-3.2z" fill="#ffe8d8"/><path d="M221.3 609.4v1.6h88.7v-1.6z" fill="#ffe4c8"/><path d="M221.3 611v1.6h88.7v-1.6z" fill="#ffe4cc"/><path d="M221.3 612.6v1.6h88.7v-1.6z" fill="#ffece0"/><path d="M221.3 614.2v1.6h88.7v-1.6z" fill="#ffe8d4"/><path d="M221.3 615.8v1.6h88.7v-1.6z" fill="#ffe8d8"/><path d="M221.3 617.4v1.6h88.7v-1.6z" fill="#ffd4b0"/><path d="M221.3 619v1.6h88.7v-1.6z" fill="#ffe8d0"/><path d="M221.3 620.6v1.6h88.7v-1.6z" fill="#ffdcbc"/><path d="M221.3 622.2v1.6h88.7v-1.6z" fill="#ffd4b0"/><path d="M221.3 623.8v1.6h88.7v-1.6z" fill="#ffd8b0"/><path d="M221.3 625.4v1.6h88.7v-1.6z" fill="#ffdcb8"/><path d="M221.3 627v1.6h88.7v-1.6z" fill="#ffd8b8"/><path d="M221.3 628.6v1.6h88.7v-1.6z" fill="#ffece0"/><path d="M221.3 630.2v1.6h88.7v-1.6z" fill="#ffe8d0"/><path d="M221.3 631.8v1.6h88.7v-1.6z" fill="#ffe8d4"/><path d="M221.3 633.4v1.6h88.7v-1.6z" fill="#ffe4d0"/><path d="M221.3 635v1.6h88.7v-1.6z" fill="#ffd4ac"/><path d="M221.3 636.6v1.6h88.7v-1.6z" fill="#fff0e4"/><path d="M221.3 638.2v1.6h88.7v-1.6z" fill="#ffe4c8"/><path d="M221.3 639.8v1.6h88.7v-1.6z" fill="#fff0e4"/><path d="M221.3 641.4v3.2h88.7v-3.2z" fill="#ffe0c4"/><path d="M221.3 644.6v1.6h88.7v-1.6z" fill="#ffe8d4"/><path d="M221.3 646.2v1.6h88.7v-1.6z" fill="#ffbc7c"/><path d="M221.3 647.8v1.6h88.7v-1.6z" fill="#ffc894"/><path d="M221.3 649.4v1.6h88.7v-1.6z" fill="#ffc084"/><path d="M221.3 651v1.6h88.7v-1.6z" fill="#ffc898"/><path d="M221.3 652.6v1.6h88.7v-1.6z" fill="#ffd0a8"/><path d="M221.3 654.2v1.6h88.7v-1.6z" fill="#fff8f4"/><path d="M221.3 655.8v1.6h88.7v-1.6z" fill="#fff4ec"/><path d="M221.3 657.4v1.6h88.7v-1.6z" fill="#fff0e4"/><path d="M221.3 659v1.6h88.7v-1.6z" fill="#fff4e8"/><path d="M221.3 660.6v1.6h88.7v-1.6z" fill="#ffe4d0"/><path d="M221.3 662.2v1.6h88.7v-1.6z" fill="#fff4ec"/><path d="M221.3 663.8v1.6h88.7v-1.6z" fill="#fff8f0"/><path d="M221.3 665.4v1.6h88.7v-1.6z" fill="#fff8f4"/><path d="M221.3 667v1.6h88.7v-1.6z" fill="#ffecdc"/><path d="M221.3 668.6v1.6h88.7v-1.6z" fill="#fff0e4"/><path d="M221.3 670.2v1.6h88.7v-1.6z" fill="#ffecdc"/><path d="M221.3 671.8v1.6h88.7v-1.6z" fill="#ffe0c4"/><path d="M221.3 673.4v1.6h88.7v-1.6z" fill="#ffe4cc"/><path d="M221.3 675v1.6h88.7v-1.6z" fill="#ffe4d0"/><path d="M221.3 676.6v1.6h88.7v-1.6z" fill="#ffe0c8"/><path d="M221.3 678.2v1.6h88.7v-1.6z" fill="#ffdcbc"/><path d="M221.3 679.8v3.2h88.7v-3.2z" fill="#ffe0c0"/><path d="M221.3 683v2h88.7v-2z" fill="#ffe8d4"/><path d="M309.7 59v1.6h88.7v-1.6z" fill="#fff0e0"/><path d="M309.7 60.6v1.6h88.7v-1.6z" fill="#ece0f4"/><path d="M309.7 62.2v1.6h88.7v-1.6z" fill="#dcccec"/><path d="M309.7 63.8v1.6h88.7v-1.6z" fill="#e4d8f0"/><path d="M309.7 65.4v1.6h88.7v-1.6z" fill="#e0d4ec"/><path d="M309.7 67v1.6h88.7v-1.6z" fill="#e0d0ec"/><path d="M309.7 68.6v1.6h88.7v-1.6z" fill="#d8c8e8"/><path d="M309.7 70.2v1.6h88.7v-1.6z" fill="#fffffc"/><path d="M309.7 71.8v3.2h88.7v-3.2z" fill="#fffcfc"/><path d="M309.7 75v1.6h88.7v-1.6z" fill="#fffcf8"/><path d="M309.7 76.6v1.6h88.7v-1.6z" fill="#fffcfc"/><path d="M309.7 78.2v1.6h88.7v-1.6z" fill="#ffe8d0"/><path d="M309.7 79.8v1.6h88.7v-1.6z" fill="#ffe4c8"/><path d="M309.7 81.4v1.6h88.7v-1.6z" fill="#ffe0c8"/><path d="M309.7 83v1.6h88.7v-1.6z" fill="#ffe8d0"/><path d="M309.7 84.6v1.6h88.7v-1.6z" fill="#ffe8d8"/><path d="M309.7 86.2v1.6h88.7v-1.6z" fill="#ffe8d4"/><path d="M309.7 87.8v3.2h88.7v-3.2z" fill="#ffe0c4"/><path d="M309.7 91v1.6h88.7v-1.6z" fill="#e0d4ec"/><path d="M309.7 92.6v1.6h88.7v-1.6z" fill="#e8dcf0"/><path d="M309.7 94.2v1.6h88.7v-1.6z" fill="#ece0f4"/><path d="M309.7 95.8v1.6h88.7v-1.6z" fill="#ece4f4"/><path d="M309.7 97.4v1.6h88.7v-1.6z" fill="#e4d4f0"/><path d="M309.7 99v1.6h88.7v-1.6z" fill="#e4d8f0"/><path d="M309.7 100.6v1.6h88.7v-1.6z" fill="#ece4f4"/><path d="M309.7 102.2v1.6h88.7v-1.6z" fill="#f4ecf8"/><path d="M309.7 103.8v1.6h88.7v-1.6z" fill="#ece4f4"/><path d="M309.7 105.4v1.6h88.7v-1.6z" fill="#e0d4ec"/><path d="M309.7 107v1.6h88.7v-1.6z" fill="#fff0e8"/><path d="M309.7 108.6v1.6h88.7v-1.6z" fill="#fff4e8"/><path d="M309.7 110.2v1.6h88.7v-1.6z" fill="#fff0e4"/><path d="M309.7 111.8v4.8h88.7v-4.8z" fill="#fff4ec"/><path d="M309.7 116.6v1.6h88.7v-1.6z" fill="#fff0e0"/><path d="M309.7 118.2v1.6h88.7v-1.6z" fill="#fff4e8"/><path d="M309.7 119.8v1.6h88.7v-1.6z" fill="#fff4ec"/><path d="M309.7 121.4v1.6h88.7v-1.6z" fill="#fff8f0"/><path d="M309.7 123v1.6h88.7v-1.6z" fill="#fffcf8"/><path d="M309.7 124.6v1.6h88.7v-1.6z" fill="#ece4f4"/><path d="M309.7 126.2v3.2h88.7v-3.2z" fill="#f4f0f8"/><path d="M309.7 129.4v1.6h88.7v-1.6z" fill="#fcf8fc"/><path d="M309.7 131v1.6h88.7v-1.6z" fill="#f0ecf8"/><path d="M309.7 132.6v1.6h88.7v-1.6z" fill="#f0e8f4"/><path d="M309.7 134.2v1.6h88.7v-1.6z" fill="#f8f4fc"/><path d="M309.7 135.8v1.6h88.7v-1.6z" fill="#fcfcfc"/><path d="M309.7 137.4v1.6h88.7v-1.6z" fill="#f4f0f8"/><path d="M309.7 139v1.6h88.7v-1.6z" fill="#fffcfc"/><path d="M309.7 140.6v1.6h88.7v-1.6z" fill="#f8f8fc"/><path d="M309.7 142.2v1.6h88.7v-1.6z" fill="#fcfcfc"/><path d="M309.7 143.8v1.6h88.7v-1.6z" fill="#f8f4fc"/><path d="M309.7 145.4v3.2h88.7v-3.2z" fill="#fcf8fc"/><path d="M309.7 148.6v1.6h88.7v-1.6z" fill="#fffcf8"/><path d="M309.7 150.2v1.6h88.7v-1.6z" fill="#ffffff"/><path d="M309.7 151.8v1.6h88.7v-1.6z" fill="#f8f4fc"/><path d="M309.7 153.4v1.6h88.7v-1.6z" fill="#f4f0f8"/><path d="M309.7 155v1.6h88.7v-1.6z" fill="#ffe8d8"/><path d="M309.7 156.6v1.6h88.7v-1.6z" fill="#fff0e0"/><path d="M309.7 158.2v1.6h88.7v-1.6z" fill="#fff4ec"/><path d="M309.7 159.8v1.6h88.7v-1.6z" fill="#ffecd8"/><path d="M309.7 161.4v1.6h88.7v-1.6z" fill="#fff0e8"/><path d="M309.7 163v3.2h88.7v-3.2z" fill="#ffecdc"/><path d="M309.7 166.2v1.6h88.7v-1.6z" fill="#ffe8d4"/><path d="M309.7 167.8v1.6h88.7v-1.6z" fill="#ffe4c8"/><path d="M309.7 169.4v1.6h88.7v-1.6z" fill="#ffe8d8"/><path d="M309.7 171v1.6h88.7v-1.6z" fill="#ffdcb8"/><path d="M309.7 172.6v1.6h88.7v-1.6z" fill="#ffdcbc"/><path d="M309.7 174.2v1.6h88.7v-1.6z" fill="#ffd8b4"/><path d="M309.7 175.8v1.6h88.7v-1.6z" fill="#ffd0a8"/><path d="M309.7 177.4v1.6h88.7v-1.6z" fill="#ffcca0"/><path d="M309.7 179v1.6h88.7v-1.6z" fill="#ffd4b0"/><path d="M309.7 180.6v1.6h88.7v-1.6z" fill="#ffd0a8"/><path d="M309.7 182.2v1.6h88.7v-1.6z" fill="#b494d4"/><path d="M309.7 183.8v1.6h88.7v-1.6z" fill="#b898d4"/><path d="M309.7 185.4v1.6h88.7v-1.6z" fill="#b08cd0"/><path d="M309.7 187v1.6h88.7v-1.6z" fill="#b490d4"/><path d="M309.7 188.6v1.6h88.7v-1.6z" fill="#ac88d0"/><path d="M309.7 190.2v1.6h88.7v-1.6z" fill="#b894d4"/><path d="M309.7 191.8v1.6h88.7v-1.6z" fill="#c0a4dc"/><path d="M309.7 193.4v1.6h88.7v-1.6z" fill="#c4a8dc"/><path d="M309.7 195v1.6h88.7v-1.6z" fill="#c4acdc"/><path d="M309.7 196.6v1.6h88.7v-1.6z" fill="#bc9cd8"/><path d="M309.7 198.2v1.6h88.7v-1.6z" fill="#b08cd0"/><path d="M309.7 199.8v1.6h88.7v-1.6z" fill="#b894d4"/><path d="M309.7 201.4v1.6h88.7v-1.6z" fill="#b490d4"/><path d="M309.7 203v1.6h88.7v-1.6z" fill="#c4a8dc"/><path d="M309.7 204.6v1.6h88.7v-1.6z" fill="#c4acdc"/><path d="M309.7 206.2v1.6h88.7v-1.6z" fill="#c0a4dc"/><path d="M309.7 207.8v1.6h88.7v-1.6z" fill="#b08cd0"/><path d="M309.7 209.4v1.6h88.7v-1.6z" fill="#c0a4dc"/><path d="M309.7 211v1.6h88.7v-1.6z" fill="#c4acdc"/><path d="M309.7 212.6v1.6h88.7v-1.6z" fill="#c0a0d8"/><path d="M309.7 214.2v1.6h88.7v-1.6z" fill="#c8b0e0"/><path d="M309.7 215.8v1.6h88.7v-1.6z" fill="#ccb4e0"/><path d="M309.7 217.4v1.6h88.7v-1.6z" fill="#d0b8e4"/><path d="M309.7 219v1.6h88.7v-1.6z" fill="#ccb4e0"/><path d="M309.7 220.6v1.6h88.7v-1.6z" fill="#c0a4dc"/><path d="M309.7 222.2v1.6h88.7v-1.6z" fill="#c0a0d8"/><path d="M309.7 223.8v1.6h88.7v-1.6z" fill="#c0a4dc"/><path d="M309.7 225.4v1.6h88.7v-1.6z" fill="#c8b0e0"/><path d="M309.7 227v3.2h88.7v-3.2z" fill="#d0b8e4"/><path d="M309.7 230.2v1.6h88.7v-1.6z" fill="#ccb8e4"/><path d="M309.7 231.8v3.2h88.7v-3.2z" fill="#d4c0e8"/><path d="M309.7 235v1.6h88.7v-1.6z" fill="#d8c4e8"/><path d="M309.7 236.6v1.6h88.7v-1.6z" fill="#ece0f4"/><path d="M309.7 238.2v1.6h88.7v-1.6z" fill="#e0d0ec"/><path d="M309.7 239.8v1.6h88.7v-1.6z" fill="#ece0f4"/><path d="M309.7 241.4v1.6h88.7v-1.6z" fill="#e8e0f4"/><path d="M309.7 243v1.6h88.7v-1.6z" fill="#e4d8f0"/><path d="M309.7 244.6v1.6h88.7v-1.6z" fill="#e8e0f4"/><path d="M309.7 246.2v1.6h88.7v-1.6z" fill="#e8e0f0"/><path d="M309.7 247.8v1.6h88.7v-1.6z" fill="#e8dcf0"/><path d="M309.7 249.4v1.6h88.7v-1.6z" fill="#f8f8fc"/><path d="M309.7 251v3.2h88.7v-3.2z" fill="#fffcfc"/><path d="M309.7 254.2v1.6h88.7v-1.6z" fill="#fcfcff"/><path d="M309.7 255.8v1.6h88.7v-1.6z" fill="#f4f0f8"/><path d="M309.7 257.4v1.6h88.7v-1.6z" fill="#fcfcfc"/><path d="M309.7 259v1.6h88.7v-1.6z" fill="#fffffc"/><path d="M309.7 260.6v1.6h88.7v-1.6z" fill="#ffffff"/><path d="M309.7 262.2v1.6h88.7v-1.6z" fill="#fffcfc"/><path d="M309.7 263.8v1.6h88.7v-1.6z" fill="#fffffc"/><path d="M309.7 265.4v1.6h88.7v-1.6z" fill="#ece4f4"/><path d="M309.7 267v1.6h88.7v-1.6z" fill="#f0e8f8"/><path d="M309.7 268.6v3.2h88.7v-3.2z" fill="#ece4f4"/><path d="M309.7 271.8v1.6h88.7v-1.6z" fill="#fcfcff"/><path d="M309.7 273.4v1.6h88.7v-1.6z" fill="#f0ecf8"/><path d="M309.7 275v1.6h88.7v-1.6z" fill="#f0e8f8"/><path d="M309.7 276.6v1.6h88.7v-1.6z" fill="#e8e0f4"/><path d="M309.7 278.2v1.6h88.7v-1.6z" fill="#f0e8f8"/><path d="M309.7 279.8v1.6h88.7v-1.6z" fill="#f4ecf8"/><path d="M309.7 281.4v3.2h88.7v-3.2z" fill="#ece4f4"/><path d="M309.7 284.6v1.6h88.7v-1.6z" fill="#e4d8f0"/><path d="M309.7 286.2v1.6h88.7v-1.6z" fill="#ccb4e0"/><path d="M309.7 287.8v1.6h88.7v-1.6z" fill="#c4acdc"/><path d="M309.7 289.4v1.6h88.7v-1.6z" fill="#ccb8e4"/><path d="M309.7 291v1.6h88.7v-1.6z" fill="#d0bce4"/><path d="M309.7 292.6v1.6h88.7v-1.6z" fill="#c8b0e0"/><path d="M309.7 294.2v1.6h88.7v-1.6z" fill="#d0b8e4"/><path d="M309.7 295.8v1.6h88.7v-1.6z" fill="#ccb4e0"/><path d="M309.7 297.4v4.8h88.7v-4.8z" fill="#c8b0e0"/><path d="M309.7 302.2v3.2h88.7v-3.2z" fill="#e4d8f0"/><path d="M309.7 305.4v1.6h88.7v-1.6z" fill="#d8c8e8"/><path d="M309.7 307v1.6h88.7v-1.6z" fill="#e4d4f0"/><path d="M309.7 308.6v1.6h88.7v-1.6z" fill="#dcccec"/><path d="M309.7 310.2v1.6h88.7v-1.6z" fill="#d4c4e8"/><path d="M309.7 311.8v1.6h88.7v-1.6z" fill="#e0d4ec"/><path d="M309.7 313.4v1.6h88.7v-1.6z" fill="#d4c0e4"/><path d="M309.7 315v1.6h88.7v-1.6z" fill="#dcd0ec"/><path d="M309.7 316.6v1.6h88.7v-1.6z" fill="#dcc8e8"/><path d="M309.7 318.2v1.6h88.7v-1.6z" fill="#e0d0ec"/><path d="M309.7 319.8v1.6h88.7v-1.6z" fill="#dcd0ec"/><path d="M309.7 321.4v1.6h88.7v-1.6z" fill="#e0d4ec"/><path d="M309.7 323v1.6h88.7v-1.6z" fill="#e0d0ec"/><path d="M309.7 324.6v3.2h88.7v-3.2z" fill="#e0d4ec"/><path d="M309.7 327.8v1.6h88.7v-1.6z" fill="#e8dcf0"/><path d="M309.7 329.4v1.6h88.7v-1.6z" fill="#e0d0ec"/><path d="M309.7 331v1.6h88.7v-1.6z" fill="#e4d8f0"/><path d="M309.7 332.6v1.6h88.7v-1.6z" fill="#e4dcf0"/><path d="M309.7 334.2v1.6h88.7v-1.6z" fill="#dcccec"/><path d="M309.7 335.8v1.6h88.7v-1.6z" fill="#e0d0ec"/><path d="M309.7 337.4v3.2h88.7v-3.2z" fill="#d8c8e8"/><path d="M309.7 340.6v1.6h88.7v-1.6z" fill="#dccce8"/><path d="M309.7 342.2v1.6h88.7v-1.6z" fill="#d8c8e8"/><path d="M309.7 343.8v1.6h88.7v-1.6z" fill="#d8c4e8"/><path d="M309.7 345.4v1.6h88.7v-1.6z" fill="#dccce8"/><path d="M309.7 347v1.6h88.7v-1.6z" fill="#dcccec"/><path d="M309.7 348.6v1.6h88.7v-1.6z" fill="#d0bce4"/><path d="M309.7 350.2v1.6h88.7v-1.6z" fill="#d4bce4"/><path d="M309.7 351.8v1.6h88.7v-1.6z" fill="#c4acdc"/><path d="M309.7 353.4v1.6h88.7v-1.6z" fill="#d4c4e8"/><path d="M309.7 355v1.6h88.7v-1.6z" fill="#d0b8e4"/><path d="M309.7 356.6v1.6h88.7v-1.6z" fill="#ccb4e0"/><path d="M309.7 358.2v1.6h88.7v-1.6z" fill="#d0bce4"/><path d="M309.7 359.8v1.6h88.7v-1.6z" fill="#d4c4e8"/><path d="M309.7 361.4v1.6h88.7v-1.6z" fill="#d8c4e8"/><path d="M309.7 363v1.6h88.7v-1.6z" fill="#d0b8e4"/><path d="M309.7 364.6v1.6h88.7v-1.6z" fill="#d0bce4"/><path d="M309.7 366.2v1.6h88.7v-1.6z" fill="#c8ace0"/><path d="M309.7 367.8v1.6h88.7v-1.6z" fill="#d0bce4"/><path d="M309.7 369.4v1.6h88.7v-1.6z" fill="#e0d0ec"/><path d="M309.7 371v1.6h88.7v-1.6z" fill="#dcd0ec"/><path d="M309.7 372.6v1.6h88.7v-1.6z" fill="#e4d8f0"/><path d="M309.7 374.2v1.6h88.7v-1.6z" fill="#ece4f4"/><path d="M309.7 375.8v1.6h88.7v-1.6z" fill="#e8e0f4"/><path d="M309.7 377.4v1.6h88.7v-1.6z" fill="#e0d4ec"/><path d="M309.7 379v1.6h88.7v-1.6z" fill="#f0e8f4"/><path d="M309.7 380.6v1.6h88.7v-1.6z" fill="#e0d4f0"/><path d="M309.7 382.2v1.6h88.7v-1.6z" fill="#d4c4e8"/><path d="M309.7 383.8v3.2h88.7v-3.2z" fill="#d0bce4"/><path d="M309.7 387v1.6h88.7v-1.6z" fill="#d4c0e4"/><path d="M309.7 388.6v4.8h88.7v-4.8z" fill="#d0bce4"/><path d="M309.7 393.4v1.6h88.7v-1.6z" fill="#ffd8b8"/><path d="M309.7 395v1.6h88.7v-1.6z" fill="#ffd4a8"/><path d="M309.7 396.6v4.8h88.7v-4.8z" fill="#ffdcbc"/><path d="M309.7 401.4v1.6h88.7v-1.6z" fill="#ffe0c0"/><path d="M309.7 403v1.6h88.7v-1.6z" fill="#ffdcbc"/><path d="M309.7 404.6v1.6h88.7v-1.6z" fill="#ffe4c8"/><path d="M309.7 406.2v1.6h88.7v-1.6z" fill="#ffd4ac"/><path d="M309.7 407.8v1.6h88.7v-1.6z" fill="#ffd0a8"/><path d="M309.7 409.4v1.6h88.7v-1.6z" fill="#ffd4ac"/><path d="M309.7 411v1.6h88.7v-1.6z" fill="#ffc490"/><path d="M309.7 412.6v1.6h88.7v-1.6z" fill="#ffd4ac"/><path d="M309.7 414.2v3.2h88.7v-3.2z" fill="#ffcca0"/><path d="M309.7 417.4v1.6h88.7v-1.6z" fill="#ffd4ac"/><path d="M309.7 419v1.6h88.7v-1.6z" fill="#ffd0a8"/><path d="M309.7 420.6v1.6h88.7v-1.6z" fill="#ffc898"/><path d="M309.7 422.2v1.6h88.7v-1.6z" fill="#ffcc9c"/><path d="M309.7 423.8v1.6h88.7v-1.6z" fill="#ffc898"/><path d="M309.7 425.4v1.6h88.7v-1.6z" fill="#ffc894"/><path d="M309.7 427v1.6h88.7v-1.6z" fill="#ffd0a8"/><path d="M309.7 428.6v1.6h88.7v-1.6z" fill="#ffe0c8"/><path d="M309.7 430.2v1.6h88.7v-1.6z" fill="#ffe0c4"/><path d="M309.7 431.8v1.6h88.7v-1.6z" fill="#ffb474"/><path d="M309.7 433.4v1.6h88.7v-1.6z" fill="#ffb87c"/><path d="M309.7 435v1.6h88.7v-1.6z" fill="#ffc084"/><path d="M309.7 436.6v1.6h88.7v-1.6z" fill="#ffc48c"/><path d="M309.7 438.2v1.6h88.7v-1.6z" fill="#ffb46c"/><path d="M309.7 439.8v1.6h88.7v-1.6z" fill="#ffa85c"/><path d="M309.7 441.4v1.6h88.7v-1.6z" fill="#ffb874"/><path d="M309.7 443v1.6h88.7v-1.6z" fill="#ffb87c"/><path d="M309.7 444.6v1.6h88.7v-1.6z" fill="#ffac60"/><path d="M309.7 446.2v1.6h88.7v-1.6z" fill="#ffb06c"/><path d="M309.7 447.8v3.2h88.7v-3.2z" fill="#ffb068"/><path d="M309.7 451v1.6h88.7v-1.6z" fill="#ffb470"/><path d="M309.7 452.6v1.6h88.7v-1.6z" fill="#ffac60"/><path d="M309.7 454.2v1.6h88.7v-1.6z" fill="#ffa85c"/><path d="M309.7 455.8v1.6h88.7v-1.6z" fill="#ffd4b0"/><path d="M309.7 457.4v1.6h88.7v-1.6z" fill="#ffdcbc"/><path d="M309.7 459v1.6h88.7v-1.6z" fill="#ffd0a8"/><path d="M309.7 460.6v1.6h88.7v-1.6z" fill="#ffd8b8"/><path d="M309.7 462.2v1.6h88.7v-1.6z" fill="#ffd4b0"/><path d="M309.7 463.8v1.6h88.7v-1.6z" fill="#ffe0c4"/><path d="M309.7 465.4v1.6h88.7v-1.6z" fill="#ffd4b0"/><path d="M309.7 467v1.6h88.7v-1.6z" fill="#ffd8b0"/><path d="M309.7 468.6v1.6h88.7v-1.6z" fill="#ffd4ac"/><path d="M309.7 470.2v1.6h88.7v-1.6z" fill="#ffdcbc"/><path d="M309.7 471.8v1.6h88.7v-1.6z" fill="#ffd8b8"/><path d="M309.7 473.4v1.6h88.7v-1.6z" fill="#ffe0c4"/><path d="M309.7 475v3.2h88.7v-3.2z" fill="#ffd8b4"/><path d="M309.7 478.2v1.6h88.7v-1.6z" fill="#ffd4b0"/><path d="M309.7 479.8v1.6h88.7v-1.6z" fill="#ffe0c0"/><path d="M309.7 481.4v1.6h88.7v-1.6z" fill="#ffe4cc"/><path d="M309.7 483v3.2h88.7v-3.2z" fill="#ffdcbc"/><path d="M309.7 486.2v1.6h88.7v-1.6z" fill="#ffdcc0"/><path d="M309.7 487.8v1.6h88.7v-1.6z" fill="#ffd4b0"/><path d="M309.7 489.4v1.6h88.7v-1.6z" fill="#ffd4ac"/><path d="M309.7 491v1.6h88.7v-1.6z" fill="#ffd8b4"/><path d="M309.7 492.6v1.6h88.7v-1.6z" fill="#ffd4b0"/><path d="M309.7 494.2v1.6h88.7v-1.6z" fill="#ffdcb8"/><path d="M309.7 495.8v1.6h88.7v-1.6z" fill="#fff8f4"/><path d="M309.7 497.4v1.6h88.7v-1.6z" fill="#fff8f0"/><path d="M309.7 499v1.6h88.7v-1.6z" fill="#fff4ec"/><path d="M309.7 500.6v3.2h88.7v-3.2z" fill="#fff0e4"/><path d="M309.7 503.8v1.6h88.7v-1.6z" fill="#fff4e8"/><path d="M309.7 505.4v1.6h88.7v-1.6z" fill="#fff8f0"/><path d="M309.7 507v3.2h88.7v-3.2z" fill="#fffcf8"/><path d="M309.7 510.2v1.6h88.7v-1.6z" fill="#fff8f0"/><path d="M309.7 511.8v1.6h88.7v-1.6z" fill="#fffcfc"/><path d="M309.7 513.4v1.6h88.7v-1.6z" fill="#fffcf8"/><path d="M309.7 515v1.6h88.7v-1.6z" fill="#f4f0f8"/><path d="M309.7 516.6v1.6h88.7v-1.6z" fill="#f8f4fc"/><path d="M309.7 518.2v1.6h88.7v-1.6z" fill="#fcf8fc"/><path d="M309.7 519.8v1.6h88.7v-1.6z" fill="#fffcf8"/><path d="M309.7 521.4v1.6h88.7v-1.6z" fill="#fff8f4"/><path d="M309.7 523v1.6h88.7v-1.6z" fill="#ffffff"/><path d="M309.7 524.6v1.6h88.7v-1.6z" fill="#fffcff"/><path d="M309.7 526.2v3.2h88.7v-3.2z" fill="#ffffff"/><path d="M309.7 529.4v1.6h88.7v-1.6z" fill="#fffcf8"/><path d="M309.7 531v1.6h88.7v-1.6z" fill="#fffcfc"/><path d="M309.7 532.6v1.6h88.7v-1.6z" fill="#fff8f0"/><path d="M309.7 534.2v1.6h88.7v-1.6z" fill="#fffcf8"/><path d="M309.7 535.8v1.6h88.7v-1.6z" fill="#fcfcff"/><path d="M309.7 537.4v3.2h88.7v-3.2z" fill="#fffcfc"/><path d="M309.7 540.6v1.6h88.7v-1.6z" fill="#fff8f4"/><path d="M309.7 542.2v1.6h88.7v-1.6z" fill="#ffe8d0"/><path d="M309.7 543.8v1.6h88.7v-1.6z" fill="#ffecd8"/><path d="M309.7 545.4v1.6h88.7v-1.6z" fill="#ffe4cc"/><path d="M309.7 547v1.6h88.7v-1.6z" fill="#ffe8d0"/><path d="M309.7 548.6v3.2h88.7v-3.2z" fill="#ffecd8"/><path d="M309.7 551.8v1.6h88.7v-1.6z" fill="#ffe8d8"/><path d="M309.7 553.4v1.6h88.7v-1.6z" fill="#fff0e0"/><path d="M309.7 555v1.6h88.7v-1.6z" fill="#fff0e4"/><path d="M309.7 556.6v1.6h88.7v-1.6z" fill="#ffe8d4"/><path d="M309.7 558.2v1.6h88.7v-1.6z" fill="#fff0e0"/><path d="M309.7 559.8v1.6h88.7v-1.6z" fill="#fff0e4"/><path d="M309.7 561.4v1.6h88.7v-1.6z" fill="#ccb8e0"/><path d="M309.7 563v1.6h88.7v-1.6z" fill="#c8ace0"/><path d="M309.7 564.6v1.6h88.7v-1.6z" fill="#f0e8f4"/><path d="M309.7 566.2v1.6h88.7v-1.6z" fill="#e8e0f4"/><path d="M309.7 567.8v1.6h88.7v-1.6z" fill="#f0e8f4"/><path d="M309.7 569.4v1.6h88.7v-1.6z" fill="#e8e0f4"/><path d="M309.7 571v1.6h88.7v-1.6z" fill="#f0e8f8"/><path d="M309.7 572.6v1.6h88.7v-1.6z" fill="#f4f0f8"/><path d="M309.7 574.2v1.6h88.7v-1.6z" fill="#ece4f4"/><path d="M309.7 575.8v1.6h88.7v-1.6z" fill="#e4d8f0"/><path d="M309.7 577.4v1.6h88.7v-1.6z" fill="#f0e8f4"/><path d="M309.7 579v1.6h88.7v-1.6z" fill="#e4d8f0"/><path d="M309.7 580.6v1.6h88.7v-1.6z" fill="#f0e8f4"/><path d="M309.7 582.2v1.6h88.7v-1.6z" fill="#e4d8f0"/><path d="M309.7 583.8v1.6h88.7v-1.6z" fill="#e0d4ec"/><path d="M309.7 585.4v1.6h88.7v-1.6z" fill="#f4ecf8"/><path d="M309.7 587v1.6h88.7v-1.6z" fill="#e8dcf0"/><path d="M309.7 588.6v1.6h88.7v-1.6z" fill="#fffcfc"/><path d="M309.7 590.2v1.6h88.7v-1.6z" fill="#ffd0a4"/><path d="M309.7 591.8v1.6h88.7v-1.6z" fill="#ffdcc0"/><path d="M309.7 593.4v1.6h88.7v-1.6z" fill="#ffd8b4"/><path d="M309.7 595v1.6h88.7v-1.6z" fill="#ffdcbc"/><path d="M309.7 596.6v1.6h88.7v-1.6z" fill="#ffd4b0"/><path d="M309.7 598.2v1.6h88.7v-1.6z" fill="#ffd8b0"/><path d="M309.7 599.8v1.6h88.7v-1.6z" fill="#ffd8b8"/><path d="M309.7 601.4v1.6h88.7v-1.6z" fill="#ffd0a8"/><path d="M309.7 603v1.6h88.7v-1.6z" fill="#ffcc9c"/><path d="M309.7 604.6v1.6h88.7v-1.6z" fill="#ffd0a8"/><path d="M309.7 606.2v1.6h88.7v-1.6z" fill="#ffd0a4"/><path d="M309.7 607.8v3.2h88.7v-3.2z" fill="#ffd4b0"/><path d="M309.7 611v1.6h88.7v-1.6z" fill="#ffd4ac"/><path d="M309.7 612.6v1.6h88.7v-1.6z" fill="#ffd4b0"/><path d="M309.7 614.2v1.6h88.7v-1.6z" fill="#ffd0a8"/><path d="M309.7 615.8v1.6h88.7v-1.6z" fill="#ffece0"/><path d="M309.7 617.4v3.2h88.7v-3.2z" fill="#ffecdc"/><path d="M309.7 620.6v1.6h88.7v-1.6z" fill="#fff0e0"/><path d="M309.7 622.2v1.6h88.7v-1.6z" fill="#fff4e8"/><path d="M309.7 623.8v1.6h88.7v-1.6z" fill="#ffecdc"/><path d="M309.7 625.4v1.6h88.7v-1.6z" fill="#ffe8d8"/><path d="M309.7 627v1.6h88.7v-1.6z" fill="#fff0e4"/><path d="M309.7 628.6v3.2h88.7v-3.2z" fill="#fff4e8"/><path d="M309.7 631.8v1.6h88.7v-1.6z" fill="#ffecdc"/><path d="M309.7 633.4v1.6h88.7v-1.6z" fill="#fff0e4"/><path d="M309.7 635v1.6h88.7v-1.6z" fill="#fff8f0"/><path d="M309.7 636.6v1.6h88.7v-1.6z" fill="#fff4e8"/><path d="M309.7 638.2v1.6h88.7v-1.6z" fill="#fff4ec"/><path d="M309.7 639.8v1.6h88.7v-1.6z" fill="#fcfcff"/><path d="M309.7 641.4v3.2h88.7v-3.2z" fill="#fcfcfc"/><path d="M309.7 644.6v1.6h88.7v-1.6z" fill="#fff8f4"/><path d="M309.7 646.2v1.6h88.7v-1.6z" fill="#a880cc"/><path d="M309.7 647.8v1.6h88.7v-1.6z" fill="#d0bce4"/><path d="M309.7 649.4v1.6h88.7v-1.6z" fill="#d0b8e4"/><path d="M309.7 651v1.6h88.7v-1.6z" fill="#ccb8e4"/><path d="M309.7 652.6v1.6h88.7v-1.6z" fill="#c8b0e0"/><path d="M309.7 654.2v1.6h88.7v-1.6z" fill="#bca0d8"/><path d="M309.7 655.8v1.6h88.7v-1.6z" fill="#ccb8e4"/><path d="M309.7 657.4v1.6h88.7v-1.6z" fill="#c0a8dc"/><path d="M309.7 659v1.6h88.7v-1.6z" fill="#d4c0e4"/><path d="M309.7 660.6v1.6h88.7v-1.6z" fill="#d4c4e8"/><path d="M309.7 662.2v1.6h88.7v-1.6z" fill="#d0bce4"/><path d="M309.7 663.8v1.6h88.7v-1.6z" fill="#d0b8e4"/><path d="M309.7 665.4v1.6h88.7v-1.6z" fill="#d4c0e8"/><path d="M309.7 667v1.6h88.7v-1.6z" fill="#f0e8f8"/><path d="M309.7 668.6v1.6h88.7v-1.6z" fill="#e4d8f0"/><path d="M309.7 670.2v1.6h88.7v-1.6z" fill="#e8dcf0"/><path d="M309.7 671.8v1.6h88.7v-1.6z" fill="#f0ecf8"/><path d="M309.7 673.4v3.2h88.7v-3.2z" fill="#ece4f4"/><path d="M309.7 676.6v1.6h88.7v-1.6z" fill="#ece0f4"/><path d="M309.7 678.2v3.2h88.7v-3.2z" fill="#ece4f4"/><path d="M309.7 681.4v1.6h88.7v-1.6z" fill="#fffcfc"/><path d="M309.7 683v1.6h88.7v-1.6z" fill="#e8e0f0"/><path d="M309.7 684.6v0.4h88.7v-0.4z" fill="#f8f4f8"/><path d="M398.1 59v1.6h88.5v-1.6z" fill="#844cb8"/><path d="M398.1 60.6v1.6h88.5v-1.6z" fill="#8c58bc"/><path d="M398.1 62.2v1.6h88.5v-1.6z" fill="#844cb8"/><path d="M398.1 63.8v3.2h88.5v-3.2z" fill="#ac88d0"/><path d="M398.1 67v1.6h88.5v-1.6z" fill="#a078c8"/><path d="M398.1 68.6v1.6h88.5v-1.6z" fill="#ac88d0"/><path d="M398.1 70.2v1.6h88.5v-1.6z" fill="#ac84d0"/><path d="M398.1 71.8v1.6h88.5v-1.6z" fill="#a47ccc"/><path d="M398.1 73.4v1.6h88.5v-1.6z" fill="#a074c8"/><path d="M398.1 75v1.6h88.5v-1.6z" fill="#a47cc8"/><path d="M398.1 76.6v1.6h88.5v-1.6z" fill="#9868c4"/><path d="M398.1 78.2v3.2h88.5v-3.2z" fill="#a074c8"/><path d="M398.1 81.4v1.6h88.5v-1.6z" fill="#ac88d0"/><path d="M398.1 83v1.6h88.5v-1.6z" fill="#b08cd0"/><path d="M398.1 84.6v1.6h88.5v-1.6z" fill="#a884cc"/><path d="M398.1 86.2v1.6h88.5v-1.6z" fill="#b494d4"/><path d="M398.1 87.8v1.6h88.5v-1.6z" fill="#b898d4"/><path d="M398.1 89.4v1.6h88.5v-1.6z" fill="#ac84d0"/><path d="M398.1 91v1.6h88.5v-1.6z" fill="#b490d4"/><path d="M398.1 92.6v1.6h88.5v-1.6z" fill="#bca0d8"/><path d="M398.1 94.2v1.6h88.5v-1.6z" fill="#a47ccc"/><path d="M398.1 95.8v1.6h88.5v-1.6z" fill="#b490d4"/><path d="M398.1 97.4v1.6h88.5v-1.6z" fill="#bc9cd8"/><path d="M398.1 99v1.6h88.5v-1.6z" fill="#c8b0e0"/><path d="M398.1 100.6v1.6h88.5v-1.6z" fill="#b08cd0"/><path d="M398.1 102.2v1.6h88.5v-1.6z" fill="#c4a8dc"/><path d="M398.1 103.8v1.6h88.5v-1.6z" fill="#ccb4e0"/><path d="M398.1 105.4v1.6h88.5v-1.6z" fill="#c8ace0"/><path d="M398.1 107v1.6h88.5v-1.6z" fill="#9868c4"/><path d="M398.1 108.6v1.6h88.5v-1.6z" fill="#b490d4"/><path d="M398.1 110.2v1.6h88.5v-1.6z" fill="#ac88d0"/><path d="M398.1 111.8v1.6h88.5v-1.6z" fill="#b08cd0"/><path d="M398.1 113.4v1.6h88.5v-1.6z" fill="#a47ccc"/><path d="M398.1 115v1.6h88.5v-1.6z" fill="#a074c8"/><path d="M398.1 116.6v1.6h88.5v-1.6z" fill="#a078c8"/><path d="M398.1 118.2v1.6h88.5v-1.6z" fill="#b08cd0"/><path d="M398.1 119.8v1.6h88.5v-1.6z" fill="#ac88d0"/><path d="M398.1 121.4v1.6h88.5v-1.6z" fill="#a47ccc"/><path d="M398.1 123v1.6h88.5v-1.6z" fill="#ac84cc"/><path d="M398.1 124.6v1.6h88.5v-1.6z" fill="#c0a0d8"/><path d="M398.1 126.2v1.6h88.5v-1.6z" fill="#bc9cd8"/><path d="M398.1 127.8v1.6h88.5v-1.6z" fill="#b894d4"/><path d="M398.1 129.4v1.6h88.5v-1.6z" fill="#b08cd0"/><path d="M398.1 131v1.6h88.5v-1.6z" fill="#b090d4"/><path d="M398.1 132.6v1.6h88.5v-1.6z" fill="#b894d4"/><path d="M398.1 134.2v1.6h88.5v-1.6z" fill="#b898d4"/><path d="M398.1 135.8v1.6h88.5v-1.6z" fill="#b08cd0"/><path d="M398.1 137.4v1.6h88.5v-1.6z" fill="#b090d4"/><path d="M398.1 139v1.6h88.5v-1.6z" fill="#c4acdc"/><path d="M398.1 140.6v1.6h88.5v-1.6z" fill="#b494d4"/><path d="M398.1 142.2v1.6h88.5v-1.6z" fill="#b490d4"/><path d="M398.1 143.8v1.6h88.5v-1.6z" fill="#b898d8"/><path d="M398.1 145.4v1.6h88.5v-1.6z" fill="#c4a8dc"/><path d="M398.1 147v1.6h88.5v-1.6z" fill="#bca0d8"/><path d="M398.1 148.6v1.6h88.5v-1.6z" fill="#ac84d0"/><path d="M398.1 150.2v1.6h88.5v-1.6z" fill="#a880cc"/><path d="M398.1 151.8v3.2h88.5v-3.2z" fill="#b08cd0"/><path d="M398.1 155v1.6h88.5v-1.6z" fill="#b898d8"/><path d="M398.1 156.6v1.6h88.5v-1.6z" fill="#c8ace0"/><path d="M398.1 158.2v1.6h88.5v-1.6z" fill="#b898d4"/><path d="M398.1 159.8v1.6h88.5v-1.6z" fill="#bca0d8"/><path d="M398.1 161.4v1.6h88.5v-1.6z" fill="#c4acdc"/><path d="M398.1 163v1.6h88.5v-1.6z" fill="#c4a8dc"/><path d="M398.1 164.6v1.6h88.5v-1.6z" fill="#b898d4"/><path d="M398.1 166.2v1.6h88.5v-1.6z" fill="#b490d4"/><path d="M398.1 167.8v1.6h88.5v-1.6z" fill="#ac84d0"/><path d="M398.1 169.4v1.6h88.5v-1.6z" fill="#b08cd0"/><path d="M398.1 171v1.6h88.5v-1.6z" fill="#bca0d8"/><path d="M398.1 172.6v1.6h88.5v-1.6z" fill="#b494d4"/><path d="M398.1 174.2v1.6h88.5v-1.6z" fill="#9868c4"/><path d="M398.1 175.8v1.6h88.5v-1.6z" fill="#c4a8dc"/><path d="M398.1 177.4v1.6h88.5v-1.6z" fill="#c0a4d8"/><path d="M398.1 179v1.6h88.5v-1.6z" fill="#bc9cd8"/><path d="M398.1 180.6v1.6h88.5v-1.6z" fill="#c4acdc"/><path d="M398.1 182.2v1.6h88.5v-1.6z" fill="#b898d4"/><path d="M398.1 183.8v1.6h88.5v-1.6z" fill="#c0a4dc"/><path d="M398.1 185.4v1.6h88.5v-1.6z" fill="#d4c0e8"/><path d="M398.1 187v3.2h88.5v-3.2z" fill="#d8c8e8"/><path d="M398.1 190.2v1.6h88.5v-1.6z" fill="#c4a8dc"/><path d="M398.1 191.8v1.6h88.5v-1.6z" fill="#c8b0e0"/><path d="M398.1 193.4v1.6h88.5v-1.6z" fill="#a078c8"/><path d="M398.1 195v1.6h88.5v-1.6z" fill="#9464c0"/><path d="M398.1 196.6v1.6h88.5v-1.6z" fill="#a47ccc"/><path d="M398.1 198.2v1.6h88.5v-1.6z" fill="#9868c4"/><path d="M398.1 199.8v1.6h88.5v-1.6z" fill="#9c70c4"/><path d="M398.1 201.4v1.6h88.5v-1.6z" fill="#9464c0"/><path d="M398.1 203v1.6h88.5v-1.6z" fill="#a074c8"/><path d="M398.1 204.6v1.6h88.5v-1.6z" fill="#9c70c8"/><path d="M398.1 206.2v1.6h88.5v-1.6z" fill="#c0a4dc"/><path d="M398.1 207.8v1.6h88.5v-1.6z" fill="#ac88d0"/><path d="M398.1 209.4v1.6h88.5v-1.6z" fill="#b494d4"/><path d="M398.1 211v1.6h88.5v-1.6z" fill="#c4a8dc"/><path d="M398.1 212.6v1.6h88.5v-1.6z" fill="#a884cc"/><path d="M398.1 214.2v1.6h88.5v-1.6z" fill="#b898d4"/><path d="M398.1 215.8v1.6h88.5v-1.6z" fill="#b89cd8"/><path d="M398.1 217.4v1.6h88.5v-1.6z" fill="#b490d4"/><path d="M398.1 219v1.6h88.5v-1.6z" fill="#b494d4"/><path d="M398.1 220.6v1.6h88.5v-1.6z" fill="#c4acdc"/><path d="M398.1 222.2v1.6h88.5v-1.6z" fill="#c4a8dc"/><path d="M398.1 223.8v1.6h88.5v-1.6z" fill="#bca0d8"/><path d="M398.1 225.4v1.6h88.5v-1.6z" fill="#bc9cd8"/><path d="M398.1 227v1.6h88.5v-1.6z" fill="#b08cd0"/><path d="M398.1 228.6v1.6h88.5v-1.6z" fill="#bc9cd8"/><path d="M398.1 230.2v1.6h88.5v-1.6z" fill="#ccb4e0"/><path d="M398.1 231.8v1.6h88.5v-1.6z" fill="#c4a8dc"/><path d="M398.1 233.4v1.6h88.5v-1.6z" fill="#b088d0"/><path d="M398.1 235v1.6h88.5v-1.6z" fill="#a880cc"/><path d="M398.1 236.6v1.6h88.5v-1.6z" fill="#c8b4e0"/><path d="M398.1 238.2v1.6h88.5v-1.6z" fill="#d0b8e4"/><path d="M398.1 239.8v1.6h88.5v-1.6z" fill="#c8b0e0"/><path d="M398.1 241.4v1.6h88.5v-1.6z" fill="#ccb4e0"/><path d="M398.1 243v1.6h88.5v-1.6z" fill="#d0b8e4"/><path d="M398.1 244.6v1.6h88.5v-1.6z" fill="#d4c0e4"/><path d="M398.1 246.2v1.6h88.5v-1.6z" fill="#d0b8e4"/><path d="M398.1 247.8v1.6h88.5v-1.6z" fill="#d8c4e8"/><path d="M398.1 249.4v1.6h88.5v-1.6z" fill="#c4a8dc"/><path d="M398.1 251v3.2h88.5v-3.2z" fill="#d4c0e4"/><path d="M398.1 254.2v1.6h88.5v-1.6z" fill="#c4a8dc"/><path d="M398.1 255.8v1.6h88.5v-1.6z" fill="#d8c8e8"/><path d="M398.1 257.4v3.2h88.5v-3.2z" fill="#c4a8dc"/><path d="M398.1 260.6v1.6h88.5v-1.6z" fill="#e4d8f0"/><path d="M398.1 262.2v1.6h88.5v-1.6z" fill="#d8c8e8"/><path d="M398.1 263.8v1.6h88.5v-1.6z" fill="#d4c0e4"/><path d="M398.1 265.4v1.6h88.5v-1.6z" fill="#d8c8e8"/><path d="M398.1 267v1.6h88.5v-1.6z" fill="#d8c4e8"/><path d="M398.1 268.6v1.6h88.5v-1.6z" fill="#c4acdc"/><path d="M398.1 270.2v1.6h88.5v-1.6z" fill="#d0bce4"/><path d="M398.1 271.8v1.6h88.5v-1.6z" fill="#d8c4e8"/><path d="M398.1 273.4v1.6h88.5v-1.6z" fill="#ccb4e0"/><path d="M398.1 275v1.6h88.5v-1.6z" fill="#d0b8e4"/><path d="M398.1 276.6v1.6h88.5v-1.6z" fill="#ccb4e0"/><path d="M398.1 278.2v1.6h88.5v-1.6z" fill="#d4c0e4"/><path d="M398.1 279.8v3.2h88.5v-3.2z" fill="#c8b0e0"/><path d="M398.1 283v1.6h88.5v-1.6z" fill="#c4a8dc"/><path d="M398.1 284.6v1.6h88.5v-1.6z" fill="#fcf8fc"/><path d="M398.1 286.2v1.6h88.5v-1.6z" fill="#d0b8e4"/><path d="M398.1 287.8v1.6h88.5v-1.6z" fill="#d0bce4"/><path d="M398.1 289.4v1.6h88.5v-1.6z" fill="#ccb4e0"/><path d="M398.1 291v1.6h88.5v-1.6z" fill="#c8b0e0"/><path d="M398.1 292.6v3.2h88.5v-3.2z" fill="#d0bce4"/><path d="M398.1 295.8v1.6h88.5v-1.6z" fill="#d8c8e8"/><path d="M398.1 297.4v3.2h88.5v-3.2z" fill="#bc9cd8"/><path d="M398.1 300.6v1.6h88.5v-1.6z" fill="#c4a8dc"/><path d="M398.1 302.2v1.6h88.5v-1.6z" fill="#ccb8e0"/><path d="M398.1 303.8v1.6h88.5v-1.6z" fill="#c0a4d8"/><path d="M398.1 305.4v1.6h88.5v-1.6z" fill="#bca0d8"/><path d="M398.1 307v1.6h88.5v-1.6z" fill="#b494d4"/><path d="M398.1 308.6v1.6h88.5v-1.6z" fill="#b894d4"/><path d="M398.1 310.2v1.6h88.5v-1.6z" fill="#c0a4dc"/><path d="M398.1 311.8v1.6h88.5v-1.6z" fill="#c0a8dc"/><path d="M398.1 313.4v1.6h88.5v-1.6z" fill="#c4acdc"/><path d="M398.1 315v1.6h88.5v-1.6z" fill="#b490d4"/><path d="M398.1 316.6v1.6h88.5v-1.6z" fill="#c4acdc"/><path d="M398.1 318.2v1.6h88.5v-1.6z" fill="#b898d4"/><path d="M398.1 319.8v1.6h88.5v-1.6z" fill="#c0a8dc"/><path d="M398.1 321.4v1.6h88.5v-1.6z" fill="#ac88d0"/><path d="M398.1 323v1.6h88.5v-1.6z" fill="#ccb4e0"/><path d="M398.1 324.6v1.6h88.5v-1.6z" fill="#c4acdc"/><path d="M398.1 326.2v1.6h88.5v-1.6z" fill="#d4c0e4"/><path d="M398.1 327.8v1.6h88.5v-1.6z" fill="#ccb4e0"/><path d="M398.1 329.4v1.6h88.5v-1.6z" fill="#d4c0e4"/><path d="M398.1 331v1.6h88.5v-1.6z" fill="#c8b0e0"/><path d="M398.1 332.6v1.6h88.5v-1.6z" fill="#d8c8e8"/><path d="M398.1 334.2v1.6h88.5v-1.6z" fill="#ccb4e0"/><path d="M398.1 335.8v1.6h88.5v-1.6z" fill="#d8c4e8"/><path d="M398.1 337.4v1.6h88.5v-1.6z" fill="#c8b0e0"/><path d="M398.1 339v1.6h88.5v-1.6z" fill="#c4a8dc"/><path d="M398.1 340.6v1.6h88.5v-1.6z" fill="#ccb8e4"/><path d="M398.1 342.2v1.6h88.5v-1.6z" fill="#c8ace0"/><path d="M398.1 343.8v1.6h88.5v-1.6z" fill="#c8b4e0"/><path d="M398.1 345.4v1.6h88.5v-1.6z" fill="#c4a8dc"/><path d="M398.1 347v1.6h88.5v-1.6z" fill="#ccb4e0"/><path d="M398.1 348.6v1.6h88.5v-1.6z" fill="#dcccec"/><path d="M398.1 350.2v1.6h88.5v-1.6z" fill="#d8c8e8"/><path d="M398.1 351.8v1.6h88.5v-1.6z" fill="#dcccec"/><path d="M398.1 353.4v1.6h88.5v-1.6z" fill="#d0bce4"/><path d="M398.1 355v1.6h88.5v-1.6z" fill="#dcccec"/><path d="M398.1 356.6v1.6h88.5v-1.6z" fill="#d4c0e4"/><path d="M398.1 358.2v1.6h88.5v-1.6z" fill="#d8c8e8"/><path d="M398.1 359.8v1.6h88.5v-1.6z" fill="#ccb4e0"/><path d="M398.1 361.4v1.6h88.5v-1.6z" fill="#d0b8e4"/><path d="M398.1 363v1.6h88.5v-1.6z" fill="#d4c0e4"/><path d="M398.1 364.6v1.6h88.5v-1.6z" fill="#d8c8e8"/><path d="M398.1 366.2v1.6h88.5v-1.6z" fill="#dcd0ec"/><path d="M398.1 367.8v1.6h88.5v-1.6z" fill="#d8c8e8"/><path d="M398.1 369.4v1.6h88.5v-1.6z" fill="#d4c0e4"/><path d="M398.1 371v1.6h88.5v-1.6z" fill="#d8c4e8"/><path d="M398.1 372.6v1.6h88.5v-1.6z" fill="#d8c8e8"/><path d="M398.1 374.2v1.6h88.5v-1.6z" fill="#d0bce4"/><path d="M398.1 375.8v1.6h88.5v-1.6z" fill="#d4c0e4"/><path d="M398.1 377.4v1.6h88.5v-1.6z" fill="#d8c4e8"/><path d="M398.1 379v1.6h88.5v-1.6z" fill="#e0d4ec"/><path d="M398.1 380.6v1.6h88.5v-1.6z" fill="#dcccec"/><path d="M398.1 382.2v1.6h88.5v-1.6z" fill="#e8e0f4"/><path d="M398.1 383.8v1.6h88.5v-1.6z" fill="#e4dcf0"/><path d="M398.1 385.4v1.6h88.5v-1.6z" fill="#dcccec"/><path d="M398.1 387v1.6h88.5v-1.6z" fill="#e8dcf0"/><path d="M398.1 388.6v3.2h88.5v-3.2z" fill="#e0d4ec"/><path d="M398.1 391.8v1.6h88.5v-1.6z" fill="#ece4f4"/><path d="M398.1 393.4v1.6h88.5v-1.6z" fill="#ffc89c"/><path d="M398.1 395v1.6h88.5v-1.6z" fill="#ffb068"/><path d="M398.1 396.6v1.6h88.5v-1.6z" fill="#ffb87c"/><path d="M398.1 398.2v1.6h88.5v-1.6z" fill="#ffc490"/><path d="M398.1 399.8v1.6h88.5v-1.6z" fill="#ffbc80"/><path d="M398.1 401.4v1.6h88.5v-1.6z" fill="#ffc894"/><path d="M398.1 403v1.6h88.5v-1.6z" fill="#ffc088"/><path d="M398.1 404.6v1.6h88.5v-1.6z" fill="#ffc898"/><path d="M398.1 406.2v1.6h88.5v-1.6z" fill="#ffcc9c"/><path d="M398.1 407.8v1.6h88.5v-1.6z" fill="#ffa454"/><path d="M398.1 409.4v1.6h88.5v-1.6z" fill="#ffbc84"/><path d="M398.1 411v1.6h88.5v-1.6z" fill="#ffac64"/><path d="M398.1 412.6v1.6h88.5v-1.6z" fill="#ffb878"/><path d="M398.1 414.2v1.6h88.5v-1.6z" fill="#ffb06c"/><path d="M398.1 415.8v3.2h88.5v-3.2z" fill="#ffc490"/><path d="M398.1 419v1.6h88.5v-1.6z" fill="#ffdcbc"/><path d="M398.1 420.6v1.6h88.5v-1.6z" fill="#ffb474"/><path d="M398.1 422.2v1.6h88.5v-1.6z" fill="#ffbc80"/><path d="M398.1 423.8v1.6h88.5v-1.6z" fill="#ffcca0"/><path d="M398.1 425.4v1.6h88.5v-1.6z" fill="#ffbc80"/><path d="M398.1 427v1.6h88.5v-1.6z" fill="#ffc084"/><path d="M398.1 428.6v1.6h88.5v-1.6z" fill="#ffa85c"/><path d="M398.1 430.2v1.6h88.5v-1.6z" fill="#ffc48c"/><path d="M398.1 431.8v3.2h88.5v-3.2z" fill="#ffffff"/><path d="M398.1 435v1.6h88.5v-1.6z" fill="#ffdcbc"/><path d="M398.1 436.6v1.6h88.5v-1.6z" fill="#ffe0c8"/><path d="M398.1 438.2v1.6h88.5v-1.6z" fill="#ffe0c4"/><path d="M398.1 439.8v1.6h88.5v-1.6z" fill="#ffd4ac"/><path d="M398.1 441.4v1.6h88.5v-1.6z" fill="#ffcca0"/><path d="M398.1 443v3.2h88.5v-3.2z" fill="#ffdcbc"/><path d="M398.1 446.2v1.6h88.5v-1.6z" fill="#ffd4ac"/><path d="M398.1 447.8v1.6h88.5v-1.6z" fill="#ffc490"/><path d="M398.1 449.4v1.6h88.5v-1.6z" fill="#ffd4b0"/><path d="M398.1 451v1.6h88.5v-1.6z" fill="#ffe8d0"/><path d="M398.1 452.6v1.6h88.5v-1.6z" fill="#ffd8b8"/><path d="M398.1 454.2v1.6h88.5v-1.6z" fill="#ffe0c4"/><path d="M398.1 455.8v1.6h88.5v-1.6z" fill="#ffac60"/><path d="M398.1 457.4v1.6h88.5v-1.6z" fill="#ffb474"/><path d="M398.1 459v1.6h88.5v-1.6z" fill="#ffac60"/><path d="M398.1 460.6v1.6h88.5v-1.6z" fill="#ffbc7c"/><path d="M398.1 462.2v1.6h88.5v-1.6z" fill="#ffb068"/><path d="M398.1 463.8v1.6h88.5v-1.6z" fill="#ffb06c"/><path d="M398.1 465.4v1.6h88.5v-1.6z" fill="#ffb878"/><path d="M398.1 467v1.6h88.5v-1.6z" fill="#ffb068"/><path d="M398.1 468.6v1.6h88.5v-1.6z" fill="#ffa450"/><path d="M398.1 470.2v1.6h88.5v-1.6z" fill="#ffa454"/><path d="M398.1 471.8v1.6h88.5v-1.6z" fill="#ffb068"/><path d="M398.1 473.4v1.6h88.5v-1.6z" fill="#ffa858"/><path d="M398.1 475v3.2h88.5v-3.2z" fill="#ffa85c"/><path d="M398.1 478.2v3.2h88.5v-3.2z" fill="#ffac64"/><path d="M398.1 481.4v1.6h88.5v-1.6z" fill="#ffb474"/><path d="M398.1 483v1.6h88.5v-1.6z" fill="#ffb068"/><path d="M398.1 484.6v1.6h88.5v-1.6z" fill="#ffac64"/><path d="M398.1 486.2v1.6h88.5v-1.6z" fill="#ffb06c"/><path d="M398.1 487.8v1.6h88.5v-1.6z" fill="#ffac64"/><path d="M398.1 489.4v3.2h88.5v-3.2z" fill="#ffac60"/><path d="M398.1 492.6v1.6h88.5v-1.6z" fill="#ffa454"/><path d="M398.1 494.2v1.6h88.5v-1.6z" fill="#ffb470"/><path d="M398.1 495.8v1.6h88.5v-1.6z" fill="#ffa048"/><path d="M398.1 497.4v1.6h88.5v-1.6z" fill="#ff9c44"/><path d="M398.1 499v1.6h88.5v-1.6z" fill="#ffa048"/><path d="M398.1 500.6v1.6h88.5v-1.6z" fill="#ff9c40"/><path d="M398.1 502.2v1.6h88.5v-1.6z" fill="#ffa048"/><path d="M398.1 503.8v1.6h88.5v-1.6z" fill="#ff9838"/><path d="M398.1 505.4v1.6h88.5v-1.6z" fill="#ff9c48"/><path d="M398.1 507v1.6h88.5v-1.6z" fill="#ffa050"/><path d="M398.1 508.6v1.6h88.5v-1.6z" fill="#ff9840"/><path d="M398.1 510.2v1.6h88.5v-1.6z" fill="#ff9838"/><path d="M398.1 511.8v1.6h88.5v-1.6z" fill="#ffa85c"/><path d="M398.1 513.4v1.6h88.5v-1.6z" fill="#ffa04c"/><path d="M398.1 515v1.6h88.5v-1.6z" fill="#ffa048"/><path d="M398.1 516.6v1.6h88.5v-1.6z" fill="#ff983c"/><path d="M398.1 518.2v1.6h88.5v-1.6z" fill="#ff9434"/><path d="M398.1 519.8v1.6h88.5v-1.6z" fill="#ff9840"/><path d="M398.1 521.4v1.6h88.5v-1.6z" fill="#ffa050"/><path d="M398.1 523v3.2h88.5v-3.2z" fill="#ff983c"/><path d="M398.1 526.2v3.2h88.5v-3.2z" fill="#ff9c44"/><path d="M398.1 529.4v1.6h88.5v-1.6z" fill="#ffa04c"/><path d="M398.1 531v1.6h88.5v-1.6z" fill="#ff902c"/><path d="M398.1 532.6v1.6h88.5v-1.6z" fill="#ffa048"/><path d="M398.1 534.2v1.6h88.5v-1.6z" fill="#ffa04c"/><path d="M398.1 535.8v1.6h88.5v-1.6z" fill="#ff9438"/><path d="M398.1 537.4v1.6h88.5v-1.6z" fill="#ff9840"/><path d="M398.1 539v1.6h88.5v-1.6z" fill="#ff983c"/><path d="M398.1 540.6v1.6h88.5v-1.6z" fill="#ff9840"/><path d="M398.1 542.2v1.6h88.5v-1.6z" fill="#ff9434"/><path d="M398.1 543.8v1.6h88.5v-1.6z" fill="#ff9438"/><path d="M398.1 545.4v1.6h88.5v-1.6z" fill="#ffa04c"/><path d="M398.1 547v1.6h88.5v-1.6z" fill="#ff983c"/><path d="M398.1 548.6v1.6h88.5v-1.6z" fill="#ffa450"/><path d="M398.1 550.2v1.6h88.5v-1.6z" fill="#ffa454"/><path d="M398.1 551.8v1.6h88.5v-1.6z" fill="#ff983c"/><path d="M398.1 553.4v1.6h88.5v-1.6z" fill="#ff902c"/><path d="M398.1 555v1.6h88.5v-1.6z" fill="#ff9438"/><path d="M398.1 556.6v1.6h88.5v-1.6z" fill="#ff8c28"/><path d="M398.1 558.2v1.6h88.5v-1.6z" fill="#ff902c"/><path d="M398.1 559.8v1.6h88.5v-1.6z" fill="#ff8c28"/><path d="M398.1 561.4v1.6h88.5v-1.6z" fill="#ff902c"/><path d="M398.1 563v3.2h88.5v-3.2z" fill="#ff9434"/><path d="M398.1 566.2v1.6h88.5v-1.6z" fill="#ff9028"/><path d="M398.1 567.8v1.6h88.5v-1.6z" fill="#ff9434"/><path d="M398.1 569.4v1.6h88.5v-1.6z" fill="#ff902c"/><path d="M398.1 571v1.6h88.5v-1.6z" fill="#ff9030"/><path d="M398.1 572.6v1.6h88.5v-1.6z" fill="#ffecd8"/><path d="M398.1 574.2v1.6h88.5v-1.6z" fill="#ffe4d0"/><path d="M398.1 575.8v1.6h88.5v-1.6z" fill="#ffe8d4"/><path d="M398.1 577.4v1.6h88.5v-1.6z" fill="#ffe8d0"/><path d="M398.1 579v1.6h88.5v-1.6z" fill="#ffc894"/><path d="M398.1 580.6v1.6h88.5v-1.6z" fill="#ffd4ac"/><path d="M398.1 582.2v3.2h88.5v-3.2z" fill="#ffd0a8"/><path d="M398.1 585.4v1.6h88.5v-1.6z" fill="#ffcca0"/><path d="M398.1 587v1.6h88.5v-1.6z" fill="#ffd4ac"/><path d="M398.1 588.6v1.6h88.5v-1.6z" fill="#ffcca0"/><path d="M398.1 590.2v1.6h88.5v-1.6z" fill="#ffd4b0"/><path d="M398.1 591.8v1.6h88.5v-1.6z" fill="#ffcca0"/><path d="M398.1 593.4v1.6h88.5v-1.6z" fill="#ffcc9c"/><path d="M398.1 595v1.6h88.5v-1.6z" fill="#ffd0a4"/><path d="M398.1 596.6v1.6h88.5v-1.6z" fill="#ffc084"/><path d="M398.1 598.2v3.2h88.5v-3.2z" fill="#ffc490"/><path d="M398.1 601.4v1.6h88.5v-1.6z" fill="#ffc494"/><path d="M398.1 603v1.6h88.5v-1.6z" fill="#ffd4ac"/><path d="M398.1 604.6v3.2h88.5v-3.2z" fill="#ffd0a8"/><path d="M398.1 607.8v1.6h88.5v-1.6z" fill="#ffc894"/><path d="M398.1 609.4v1.6h88.5v-1.6z" fill="#ffd4ac"/><path d="M398.1 611v1.6h88.5v-1.6z" fill="#ffcc9c"/><path d="M398.1 612.6v1.6h88.5v-1.6z" fill="#ffd4ac"/><path d="M398.1 614.2v1.6h88.5v-1.6z" fill="#ffd0a4"/><path d="M398.1 615.8v1.6h88.5v-1.6z" fill="#ffc084"/><path d="M398.1 617.4v1.6h88.5v-1.6z" fill="#ffb474"/><path d="M398.1 619v1.6h88.5v-1.6z" fill="#ffc894"/><path d="M398.1 620.6v1.6h88.5v-1.6z" fill="#ffc084"/><path d="M398.1 622.2v4.8h88.5v-4.8z" fill="#ffbc80"/><path d="M398.1 627v1.6h88.5v-1.6z" fill="#ffb474"/><path d="M398.1 628.6v1.6h88.5v-1.6z" fill="#ffb878"/><path d="M398.1 630.2v1.6h88.5v-1.6z" fill="#ffc088"/><path d="M398.1 631.8v1.6h88.5v-1.6z" fill="#ffb878"/><path d="M398.1 633.4v1.6h88.5v-1.6z" fill="#ffc48c"/><path d="M398.1 635v1.6h88.5v-1.6z" fill="#ffc088"/><path d="M398.1 636.6v1.6h88.5v-1.6z" fill="#ffb474"/><path d="M398.1 638.2v1.6h88.5v-1.6z" fill="#ffb068"/><path d="M398.1 639.8v1.6h88.5v-1.6z" fill="#ffb474"/><path d="M398.1 641.4v1.6h88.5v-1.6z" fill="#ffbc80"/><path d="M398.1 643v3.2h88.5v-3.2z" fill="#ffc490"/><path d="M398.1 646.2v1.6h88.5v-1.6z" fill="#ff9840"/><path d="M398.1 647.8v1.6h88.5v-1.6z" fill="#ffa450"/><path d="M398.1 649.4v1.6h88.5v-1.6z" fill="#ffac60"/><path d="M398.1 651v1.6h88.5v-1.6z" fill="#ff983c"/><path d="M398.1 652.6v1.6h88.5v-1.6z" fill="#ff9c48"/><path d="M398.1 654.2v1.6h88.5v-1.6z" fill="#ff983c"/><path d="M398.1 655.8v1.6h88.5v-1.6z" fill="#ffa048"/><path d="M398.1 657.4v1.6h88.5v-1.6z" fill="#ffb064"/><path d="M398.1 659v1.6h88.5v-1.6z" fill="#ffa458"/><path d="M398.1 660.6v3.2h88.5v-3.2z" fill="#ffa450"/><path d="M398.1 663.8v1.6h88.5v-1.6z" fill="#ff9840"/><path d="M398.1 665.4v1.6h88.5v-1.6z" fill="#ffa858"/><path d="M398.1 667v4.8h88.5v-4.8z" fill="#ffb470"/><path d="M398.1 671.8v1.6h88.5v-1.6z" fill="#ffb87c"/><path d="M398.1 673.4v1.6h88.5v-1.6z" fill="#ffbc7c"/><path d="M398.1 675v1.6h88.5v-1.6z" fill="#ffc48c"/><path d="M398.1 676.6v1.6h88.5v-1.6z" fill="#ffb06c"/><path d="M398.1 678.2v1.6h88.5v-1.6z" fill="#ffb474"/><path d="M398.1 679.8v1.6h88.5v-1.6z" fill="#ffb470"/><path d="M398.1 681.4v1.6h88.5v-1.6z" fill="#ffb87c"/><path d="M398.1 683v1.6h88.5v-1.6z" fill="#ffb06c"/><path d="M398.1 684.6v0.4h88.5v-0.4z" fill="#ffb474"/><path d="M133.4 59L86.5 59L94 61.2L94 59L95.1 62.3L95 62.3L97.7 65.6L96.8 65.6L98.3 68.9L100.1 68.9L102 72.2L100.7 72.2L102.6 75.5L96.2 75.5L98.4 78.8L99.6 78.8L101.6 82.2L100 82.2L102.4 85.6L98.8 85.6L101.4 89L101.3 89L102.9 92.4L98.4 92.4L100.4 96.6L103 96.6L105.8 100.8L99.6 100.8L101.4 104.4L103.2 104.4L105.1 108L104.9 108L107.6 111.6L103.6 111.6L104.9 115.2L105.2 115.2L108.1 118.8L102 118.8L103.6 122.4L104.8 122.4L106.5 125.9L105.5 125.9L107.7 129.4L107.5 129.4L110.3 132.9L103.9 132.9L106.6 136.4L108.1 136.4L110.4 140L106.8 140L109.6 143.5L110.5 143.5L113.3 147L110.5 147L113 150.5L106.2 150.5L108.4 152.7L109.2 152.7L110.3 155L115.3 155L87.8 155L97 157.2L97 155L98.5 158.4L100.9 158.4L103.6 161.9L100.3 161.9L102.5 165.3L101.9 165.3L104.3 168.7L101.4 168.7L104.4 171.9L104.9 171.9L107.9 175.1L106.3 175.1L107.4 178.2L109.1 178.2L110.2 181.4L111.4 182L88 182L94.6 184.2L94.6 182L96.3 186.3L100.4 186.3L103.2 190.6L96.8 190.6L98.8 193.9L100.2 193.9L102.4 197.2L101.4 197.2L103.7 200.6L104.1 200.6L106.1 203.9L100.1 203.9L101.6 207.4L102.7 207.4L105.7 210.9L105.1 210.9L107.2 214.4L105.2 214.4L107.1 217.9L103.6 217.9L105.8 221.1L106.6 221.1L107.7 224.4L107.7 224.4L109.7 227.6L109 227.6L110.7 230.8L110.2 230.8L112.7 234L107.6 234L110 235L111.6 235L113.1 236L113.9 236L87.9 236L95.4 238.2L95.4 236L97.6 239.1L97.6 239.1L99.3 242.2L100.3 242.2L101.4 245.3L101 245.3L103.5 248.4L98.2 248.4L100.8 251.5L100.1 251.5L101.5 254.5L101.9 254.5L104.3 257.6L102.1 257.6L103.8 260.7L101 260.7L102.9 263.9L105.2 263.9L106.5 267.1L105.2 267.1L107.5 270.2L108.5 270.2L110.4 273.4L103.8 273.4L105.9 276.9L105.8 276.9L108.4 280.5L109.2 280.5L110.5 284L112.4 284L87 284L96.2 286.2L96.2 284L97.8 287.2L99.5 287.2L101 290.4L99 290.4L100.8 293.6L100.1 293.6L101.9 296.8L97.8 296.8L98.9 300.3L101.4 300.3L104.2 303.8L102.3 303.8L104.2 307.3L103 307.3L105.8 310.8L101.5 310.8L104 314.2L104.1 314.2L106.4 317.7L100.5 317.7L102.2 320.8L102 320.8L103.1 323.8L103.9 323.8L105.5 326.9L105.4 326.9L106.5 329.9L106.5 329.9L108.9 333L102.4 333L105.2 336.5L105.2 336.5L106.2 340L106.8 340L108.1 343.5L106.5 343.5L108.8 346.9L108.2 346.9L110 350.4L110.5 350.4L112.7 353.9L105 353.9L107.8 357.1L107.4 357.1L110 360.3L108 360.3L109.3 363.5L109.4 363.5L112.1 366.7L106.6 366.7L109.5 370.2L110.6 370.2L113.3 373.6L109.8 373.6L112.1 377.1L107.9 377.1L109.5 380.4L109.5 380.4L111.5 383.7L110.7 383.7L112.6 386.9L112.5 386.9L113.5 390.2L111.1 390.2L112.3 393.5L112.6 393.5L83.9 393.5L93.3 395.7L93.3 393.5L94.9 396.6L96.4 396.6L98.1 399.6L99.7 399.6L101.8 402.7L97.2 402.7L98.8 406L99.4 406L101.5 409.2L103.1 409.2L104.9 412.5L103.1 412.5L104.4 415.8L102.7 415.8L105.3 419.1L106 419.1L108.6 422.4L108.9 422.4L110.8 425.7L110.3 425.7L112.3 429L108.3 429L110.7 431L111.9 431L113.3 433L115.2 433L88.1 433L95.8 435.2L95.8 433L98.7 436.5L98.9 436.5L101.7 440L102.2 440L103.8 443.5L103.3 443.5L104.5 447L100.3 447L103 450.2L104.5 450.2L106.8 453.5L106.1 453.5L108.2 456.7L106.1 456.7L108.2 460L110.6 460L87.4 460L93.6 462.2L93.6 460L96.3 463.1L95.6 463.1L96.6 466.2L99 466.2L100.3 469.3L96.2 469.3L98.9 472.6L100.6 472.6L102.7 475.9L101.6 475.9L102.7 479.2L103 479.2L105 482.5L104.3 482.5L105.5 485.8L105.9 485.8L108.8 489.1L102 489.1L104.1 493.5L106.9 493.5L108.3 498L104.5 498L106.7 501.5L108.5 501.5L110.3 505L109 505L110.8 508.5L107.5 508.5L108.7 510.2L110.8 510.2L113.8 512L114.1 512L87.2 512L96 514.2L96 512L98 515.1L98.6 515.1L100.9 518.2L101 518.2L102.3 521.3L99.7 521.3L102.2 524.4L103.3 524.4L105.3 527.5L103 527.5L105.5 530.6L99.6 530.6L101 534.1L102.8 534.1L104.5 537.7L103.2 537.7L105.6 541.2L101.7 541.2L104.1 544.3L104 544.3L106.7 547.5L105.5 547.5L107 550.6L105.4 550.6L106.4 553.7L107.1 553.7L108.9 556.9L107.2 556.9L108.9 560L112.1 560L86.1 560L96.1 562.2L96.1 560L98 563.7L100.8 563.7L103.4 567.4L102.1 567.4L104.1 571L104.8 571L107.5 574.7L101.8 574.7L104.7 577.8L105.5 577.8L107 580.9L107.1 580.9L109.6 584L113.5 584L89.9 584L96.8 586.2L96.8 584L98.2 587.6L100.7 587.6L103.4 591.1L103 591.1L104.5 594.7L99.8 594.7L101.7 598L103.3 598L104.5 601.4L102.7 601.4L105.4 604.7L104.7 604.7L106.4 608.1L106.8 608.1L109.2 611.4L106.4 611.4L108.1 614.8L105.5 614.8L106.9 618.3L108.9 618.3L111.8 621.8L110 621.8L112 625.3L110.8 625.3L112.4 628.9L109.4 628.9L112.2 632.6L113.8 632.6L115 636.3L115.5 636.3L117.2 640L115.8 640L87.3 640L96 642.2L96 640L97.6 643.4L99.8 643.4L102.7 646.9L101.1 646.9L103.2 650.3L100.9 650.3L102.9 653.7L103.1 653.7L105.6 657.2L100.1 657.2L101.5 660.7L103.4 660.7L105.7 664.2L103.5 664.2L106.2 667.7L106.3 667.7L107.5 671.2L108.5 671.2L109.8 674.7L104.2 674.7L106.4 678.1L107.8 678.1L110.1 681.6L109.4 681.6L111.1 685L111.9 685L133.4 686z" fill="#808080"/><path d="M83.9 60.5L83.9 74.3M83.9 60.5L95.6 60.5M88.3 62.6L88.3 68.8M88.3 62.6L94.3 62.6M88.3 68.8L95.3 68.8M83.9 74.3L86.5 74.3M86.5 74.3L86.5 83.7M86.5 74.3L97.4 74.3M91.3 75.7L91.3 79.9M91.3 75.7L97.3 75.7M91.3 79.9L98.3 79.9M86.5 83.7L88.4 83.7M88.4 83.7L88.4 95.2M88.4 83.7L98.7 83.7M93 85.4L93 90.6M93 85.4L99 85.4M93 90.6L100 90.6M88.4 95.2L91.1 95.2M91.1 95.2L91.1 105.2M91.1 95.2L102.1 95.2M95.2 96.7L95.2 101.2M95.2 96.7L101.2 96.7M95.2 101.2L102.2 101.2M91.1 105.2L94.7 105.2M94.7 105.2L94.7 115.4M94.7 105.2L108 105.2M98 106.7L98 111.3M98 106.7L104 106.7M98 111.3L105 111.3M94.7 115.4L97.2 115.4M97.2 115.4L97.2 123.3M97.2 115.4L106.7 115.4M101.7 116.6L101.7 120.1M101.7 116.6L107.7 116.6M101.7 120.1L108.7 120.1M97.2 123.3L100.7 123.3M100.7 123.3L100.7 132M100.7 123.3L110.7 123.3M104.6 124.6L104.6 128.5M104.6 124.6L110.6 124.6M104.6 128.5L111.6 128.5M100.7 132L104.3 132M104.3 132L104.3 146.3M104.3 132L117.1 132M108.5 134.1L108.5 140.6M108.5 134.1L114.5 134.1M108.5 140.6L115.5 140.6M104.3 146.3L106.5 146.3M106.5 146.3L106.5 153M106.5 146.3L116.4 146.3M110.5 147.3L110.5 150.3M110.5 147.3L116.5 147.3M110.5 150.3L117.5 150.3M106.5 153L109.6 153M84.5 156.5L84.5 166.8M84.5 156.5L94.9 156.5M89.2 158L89.2 162.7M89.2 158L95.2 158M89.2 162.7L96.2 162.7M84.5 166.8L87.3 166.8M87.3 166.8L87.3 177.5M87.3 166.8L100.4 166.8M91 168.4L91 173.2M91 168.4L97 168.4M91 173.2L98 173.2M87.3 177.5L91.3 177.5M83.5 183.5L83.5 199.3M83.5 183.5L96 183.5M87.1 185.9L87.1 193M87.1 185.9L93.1 185.9M87.1 193L94.1 193M83.5 199.3L87.4 199.3M87.4 199.3L87.4 210.6M87.4 199.3L99.4 199.3M91.9 201L91.9 206.1M91.9 201L97.9 201M91.9 206.1L98.9 206.1M87.4 210.6L89.2 210.6M89.2 210.6L89.2 224.6M89.2 210.6L101.5 210.6M93.2 212.7L93.2 219M93.2 212.7L99.2 212.7M93.2 219L100.2 219M89.2 224.6L92.3 224.6M92.3 224.6L92.3 234M92.3 224.6L102.2 224.6M96.3 226L96.3 230.2M96.3 226L102.3 226M96.3 230.2L103.3 230.2M92.3 234L94.1 234M83 237.5L83 250.3M83 237.5L94.2 237.5M87.1 239.4L87.1 245.2M87.1 239.4L93.1 239.4M87.1 245.2L94.1 245.2M83 250.3L87.1 250.3M87.1 250.3L87.1 265.3M87.1 250.3L96.8 250.3M91.7 252.6L91.7 259.3M91.7 252.6L97.7 252.6M91.7 259.3L98.7 259.3M87.1 265.3L90.4 265.3M90.4 265.3L90.4 272.8M90.4 265.3L101.2 265.3M93.9 266.5L93.9 269.8M93.9 266.5L99.9 266.5M93.9 269.8L100.9 269.8M90.4 272.8L92.4 272.8M92.4 272.8L92.4 282M92.4 272.8L106 272.8M96 274.2L96 278.3M96 274.2L102 274.2M96 278.3L103 278.3M92.4 282L96.3 282M83.8 285.5L83.8 293.7M83.8 285.5L97.1 285.5M88 286.7L88 290.4M88 286.7L94 286.7M88 290.4L95 290.4M83.8 293.7L87.8 293.7M87.8 293.7L87.8 307.2M87.8 293.7L100.5 293.7M91.5 295.7L91.5 301.8M91.5 295.7L97.5 295.7M91.5 301.8L98.5 301.8M87.8 307.2L91.5 307.2M91.5 307.2L91.5 322.5M91.5 307.2L104.8 307.2M95.4 309.5L95.4 316.4M95.4 309.5L101.4 309.5M95.4 316.4L102.4 316.4M91.5 322.5L95.2 322.5M95.2 322.5L95.2 333.9M95.2 322.5L104.7 322.5M98.2 324.2L98.2 329.4M98.2 324.2L104.2 324.2M98.2 329.4L105.2 329.4M95.2 333.9L97.1 333.9M97.1 333.9L97.1 342.7M97.1 333.9L106.9 333.9M101.1 335.2L101.1 339.2M101.1 335.2L107.1 335.2M101.1 339.2L108.1 339.2M97.1 342.7L100.6 342.7M100.6 342.7L100.6 354.5M100.6 342.7L111.7 342.7M104.9 344.5L104.9 349.8M104.9 344.5L110.9 344.5M104.9 349.8L111.9 349.8M100.6 354.5L103.2 354.5M103.2 354.5L103.2 365.7M103.2 354.5L115.9 354.5M107 356.2L107 361.3M107 356.2L113 356.2M107 361.3L114 361.3M103.2 365.7L105.4 365.7M105.4 365.7L105.4 380.8M105.4 365.7L118 365.7M109.1 368L109.1 374.8M109.1 368L115.1 368M109.1 374.8L116.1 374.8M105.4 380.8L108.1 380.8M108.1 380.8L108.1 391.5M108.1 380.8L120.1 380.8M111.5 382.4L111.5 387.2M111.5 382.4L117.5 382.4M111.5 387.2L118.5 387.2M108.1 391.5L109.9 391.5M82 250L82 298M82 250L83 250M82 298L83.8 298M81.5 196L81.5 274M81.5 196L83.5 196M81.5 274L82 274M81 164.4L81 235M81 164.4L84.5 164.4M81 235L81.5 235M80.5 73L80.5 199.7M80.5 73L83.9 73M80.5 199.7L81 199.7M81.6 395L81.6 402.2M81.6 395L93.6 395M85.6 396.1L85.6 399.3M85.6 396.1L91.6 396.1M85.6 399.3L92.6 399.3M81.6 402.2L85 402.2M85 402.2L85 410.5M85 402.2L97 402.2M88.8 403.4L88.8 407.2M88.8 403.4L94.8 403.4M88.8 407.2L95.8 407.2M85 410.5L87.2 410.5M87.2 410.5L87.2 425M87.2 410.5L98.2 410.5M90.8 412.6L90.8 419.2M90.8 412.6L96.8 412.6M90.8 419.2L97.8 419.2M87.2 425L89.1 425M89.1 425L89.1 431M89.1 425L99.3 425M92.2 425.9L92.2 428.6M92.2 425.9L98.2 425.9M92.2 428.6L99.2 428.6M89.1 431L92.1 431M84.6 434.5L84.6 449.4M84.6 434.5L94.8 434.5M88.4 436.7L88.4 443.5M88.4 436.7L94.4 436.7M88.4 443.5L95.4 443.5M84.6 449.4L86.9 449.4M86.9 449.4L86.9 458M86.9 449.4L96.5 449.4M91.7 450.7L91.7 454.6M91.7 450.7L97.7 450.7M91.7 454.6L98.7 454.6M86.9 458L90.1 458M81 407.3L81 442.4M81 407.3L81.6 407.3M81 442.4L84.6 442.4M82.1 461.5L82.1 475.6M82.1 461.5L93.4 461.5M87 463.6L87 470M87 463.6L93 463.6M87 470L94 470M82.1 475.6L84.6 475.6M84.6 475.6L84.6 484.8M84.6 475.6L95 475.6M89.3 477L89.3 481.1M89.3 477L95.3 477M89.3 481.1L96.3 481.1M84.6 484.8L87.9 484.8M87.9 484.8L87.9 494.9M87.9 484.8L97.4 484.8M92.3 486.4L92.3 490.9M92.3 486.4L98.3 486.4M92.3 490.9L99.3 490.9M87.9 494.9L92.1 494.9M92.1 494.9L92.1 507.3M92.1 494.9L101.1 494.9M95.1 496.8L95.1 502.3M95.1 496.8L101.1 496.8M95.1 502.3L102.1 502.3M92.1 507.3L94.1 507.3M81.7 513.5L81.7 520.8M81.7 513.5L91 513.5M86 514.6L86 517.9M86 514.6L92 514.6M86 517.9L93 517.9M81.7 520.8L85.6 520.8M85.6 520.8L85.6 529.6M85.6 520.8L99.5 520.8M89.6 522.2L89.6 526.1M89.6 522.2L95.6 522.2M89.6 526.1L96.6 526.1M85.6 529.6L89.4 529.6M89.4 529.6L89.4 544.9M89.4 529.6L103.1 529.6M92.4 531.9L92.4 538.8M92.4 531.9L98.4 531.9M92.4 538.8L99.4 538.8M89.4 544.9L91.9 544.9M91.9 544.9L91.9 557.4M91.9 544.9L105.6 544.9M95.1 546.8L95.1 552.4M95.1 546.8L101.1 546.8M95.1 552.4L102.1 552.4M91.9 557.4L94.4 557.4M81.5 474L81.5 526M81.5 474L82.1 474M81.5 526L81.7 526M83 561.5L83 573.4M83 561.5L94.7 561.5M87.6 563.3L87.6 568.7M87.6 563.3L93.6 563.3M87.6 568.7L94.6 568.7M83 573.4L85.8 573.4M85.8 573.4L85.8 582M85.8 573.4L99.1 573.4M89.6 574.7L89.6 578.6M89.6 574.7L95.6 574.7M89.6 578.6L96.6 578.6M85.8 582L89.8 582M82.4 585.5L82.4 594.2M82.4 585.5L95.4 585.5M86.3 586.8L86.3 590.7M86.3 586.8L92.3 586.8M86.3 590.7L93.3 590.7M82.4 594.2L85.3 594.2M85.3 594.2L85.3 607.5M85.3 594.2L96 594.2M89.9 596.2L89.9 602.2M89.9 596.2L95.9 596.2M89.9 602.2L96.9 602.2M85.3 607.5L88.3 607.5M88.3 607.5L88.3 621.3M88.3 607.5L101.9 607.5M92.7 609.5L92.7 615.7M92.7 609.5L98.7 609.5M92.7 615.7L99.7 615.7M88.3 621.3L92.4 621.3M92.4 621.3L92.4 628.6M92.4 621.3L102.3 621.3M96.9 622.4L96.9 625.7M96.9 622.4L102.9 622.4M96.9 625.7L103.9 625.7M92.4 628.6L96.2 628.6M96.2 628.6L96.2 636.5M96.2 628.6L108.6 628.6M100.5 629.8L100.5 633.3M100.5 629.8L106.5 629.8M100.5 633.3L107.5 633.3M96.2 636.5L98.7 636.5M83.4 641.5L83.4 655.7M83.4 641.5L92.7 641.5M87.6 643.6L87.6 650M87.6 643.6L93.6 643.6M87.6 650L94.6 650M83.4 655.7L85.3 655.7M85.3 655.7L85.3 666.9M85.3 655.7L98.7 655.7M89.6 657.4L89.6 662.4M89.6 657.4L95.6 657.4M89.6 662.4L96.6 662.4M85.3 666.9L89.5 666.9M89.5 666.9L89.5 673.9M89.5 666.9L99.5 666.9M94.1 668L94.1 671.1M94.1 668L100.1 668M94.1 671.1L101.1 671.1M89.5 673.9L93.5 673.9M93.5 673.9L93.5 683M93.5 673.9L104.1 673.9M97.4 675.3L97.4 679.4M97.4 675.3L103.4 675.3M97.4 679.4L104.4 679.4M93.5 683L97.3 683M82 598L82 654M82 598L82.4 598M82 654L83.4 654M81.5 568.4L81.5 626M81.5 568.4L83 568.4M81.5 626L82 626M81 500L81 597.2M81 500L81.5 500M81 597.2L81.5 597.2M80.5 424.9L80.5 548.6M80.5 424.9L81 424.9M80.5 548.6L81 548.6M78 136.4L78 486.7M78 136.4L80.5 136.4M78 486.7L80.5 486.7" stroke="#808080" stroke-width="1.55" fill="none"/><path d="M581 59v1.6h88.7v-1.6z" fill="#c8ace0"/><path d="M581 60.6v1.6h88.7v-1.6z" fill="#c0a4dc"/><path d="M581 62.2v1.6h88.7v-1.6z" fill="#c8ace0"/><path d="M581 63.8v1.6h88.7v-1.6z" fill="#c8b0e0"/><path d="M581 65.4v1.6h88.7v-1.6z" fill="#d0bce4"/><path d="M581 67v1.6h88.7v-1.6z" fill="#ac88d0"/><path d="M581 68.6v1.6h88.7v-1.6z" fill="#b088d0"/><path d="M581 70.2v1.6h88.7v-1.6z" fill="#a880cc"/><path d="M581 71.8v1.6h88.7v-1.6z" fill="#b08cd0"/><path d="M581 73.4v1.6h88.7v-1.6z" fill="#a880cc"/><path d="M581 75v1.6h88.7v-1.6z" fill="#b090d4"/><path d="M581 76.6v1.6h88.7v-1.6z" fill="#ac84d0"/><path d="M581 78.2v1.6h88.7v-1.6z" fill="#a47ccc"/><path d="M581 79.8v1.6h88.7v-1.6z" fill="#b090d4"/><path d="M581 81.4v1.6h88.7v-1.6z" fill="#986cc4"/><path d="M581 83v3.2h88.7v-3.2z" fill="#9c70c8"/><path d="M581 86.2v1.6h88.7v-1.6z" fill="#a478c8"/><path d="M581 87.8v3.2h88.7v-3.2z" fill="#986cc4"/><path d="M581 91v1.6h88.7v-1.6z" fill="#9464c0"/><path d="M581 92.6v1.6h88.7v-1.6z" fill="#a47ccc"/><path d="M581 94.2v1.6h88.7v-1.6z" fill="#a078c8"/><path d="M581 95.8v1.6h88.7v-1.6z" fill="#bca0d8"/><path d="M581 97.4v1.6h88.7v-1.6z" fill="#b490d4"/><path d="M581 99v1.6h88.7v-1.6z" fill="#a478c8"/><path d="M581 100.6v1.6h88.7v-1.6z" fill="#b898d4"/><path d="M581 102.2v1.6h88.7v-1.6z" fill="#ac88d0"/><path d="M581 103.8v1.6h88.7v-1.6z" fill="#ccb8e0"/><path d="M581 105.4v1.6h88.7v-1.6z" fill="#b090d0"/><path d="M581 107v1.6h88.7v-1.6z" fill="#c4ace0"/><path d="M581 108.6v1.6h88.7v-1.6z" fill="#c0a4dc"/><path d="M581 110.2v1.6h88.7v-1.6z" fill="#ac88d0"/><path d="M581 111.8v1.6h88.7v-1.6z" fill="#a880cc"/><path d="M581 113.4v1.6h88.7v-1.6z" fill="#ac88d0"/><path d="M581 115v1.6h88.7v-1.6z" fill="#b490d4"/><path d="M581 116.6v1.6h88.7v-1.6z" fill="#c8b0e0"/><path d="M581 118.2v3.2h88.7v-3.2z" fill="#b08cd0"/><path d="M581 121.4v1.6h88.7v-1.6z" fill="#a478c8"/><path d="M581 123v1.6h88.7v-1.6z" fill="#a47ccc"/><path d="M581 124.6v1.6h88.7v-1.6z" fill="#a884cc"/><path d="M581 126.2v1.6h88.7v-1.6z" fill="#a47ccc"/><path d="M581 127.8v1.6h88.7v-1.6z" fill="#a478c8"/><path d="M581 129.4v1.6h88.7v-1.6z" fill="#a47ccc"/><path d="M581 131v1.6h88.7v-1.6z" fill="#ac84d0"/><path d="M581 132.6v3.2h88.7v-3.2z" fill="#a478c8"/><path d="M581 135.8v1.6h88.7v-1.6z" fill="#c0a0d8"/><path d="M581 137.4v1.6h88.7v-1.6z" fill="#c4a8dc"/><path d="M581 139v1.6h88.7v-1.6z" fill="#8850b8"/><path d="M581 140.6v1.6h88.7v-1.6z" fill="#9060c0"/><path d="M581 142.2v1.6h88.7v-1.6z" fill="#905cc0"/><path d="M581 143.8v1.6h88.7v-1.6z" fill="#9060c0"/><path d="M581 145.4v1.6h88.7v-1.6z" fill="#8450b8"/><path d="M581 147v1.6h88.7v-1.6z" fill="#8850b8"/><path d="M581 148.6v1.6h88.7v-1.6z" fill="#9468c4"/><path d="M581 150.2v1.6h88.7v-1.6z" fill="#a074c8"/><path d="M581 151.8v1.6h88.7v-1.6z" fill="#a47ccc"/><path d="M581 153.4v1.6h88.7v-1.6z" fill="#a078c8"/><path d="M581 155v1.6h88.7v-1.6z" fill="#a880cc"/><path d="M581 156.6v1.6h88.7v-1.6z" fill="#a478c8"/><path d="M581 158.2v1.6h88.7v-1.6z" fill="#ac84d0"/><path d="M581 159.8v1.6h88.7v-1.6z" fill="#a880cc"/><path d="M581 161.4v1.6h88.7v-1.6z" fill="#b08cd0"/><path d="M581 163v1.6h88.7v-1.6z" fill="#ac88d0"/><path d="M581 164.6v1.6h88.7v-1.6z" fill="#ccb4e0"/><path d="M581 166.2v1.6h88.7v-1.6z" fill="#d0bce4"/><path d="M581 167.8v1.6h88.7v-1.6z" fill="#d4c4e8"/><path d="M581 169.4v1.6h88.7v-1.6z" fill="#c8b0e0"/><path d="M581 171v1.6h88.7v-1.6z" fill="#ccb8e4"/><path d="M581 172.6v1.6h88.7v-1.6z" fill="#a074c8"/><path d="M581 174.2v1.6h88.7v-1.6z" fill="#905cc0"/><path d="M581 175.8v1.6h88.7v-1.6z" fill="#9868c4"/><path d="M581 177.4v1.6h88.7v-1.6z" fill="#986cc4"/><path d="M581 179v1.6h88.7v-1.6z" fill="#9060c0"/><path d="M581 180.6v1.6h88.7v-1.6z" fill="#a47ccc"/><path d="M581 182.2v1.6h88.7v-1.6z" fill="#b08cd0"/><path d="M581 183.8v1.6h88.7v-1.6z" fill="#9868c4"/><path d="M581 185.4v1.6h88.7v-1.6z" fill="#b490d4"/><path d="M581 187v1.6h88.7v-1.6z" fill="#a074c8"/><path d="M581 188.6v1.6h88.7v-1.6z" fill="#b08cd0"/><path d="M581 190.2v1.6h88.7v-1.6z" fill="#9464c0"/><path d="M581 191.8v1.6h88.7v-1.6z" fill="#ac88d0"/><path d="M581 193.4v1.6h88.7v-1.6z" fill="#a47ccc"/><path d="M581 195v3.2h88.7v-3.2z" fill="#9868c4"/><path d="M581 198.2v3.2h88.7v-3.2z" fill="#9464c0"/><path d="M581 201.4v1.6h88.7v-1.6z" fill="#9c70c8"/><path d="M581 203v1.6h88.7v-1.6z" fill="#986cc4"/><path d="M581 204.6v1.6h88.7v-1.6z" fill="#8850b8"/><path d="M581 206.2v1.6h88.7v-1.6z" fill="#7c40b4"/><path d="M581 207.8v1.6h88.7v-1.6z" fill="#8044b4"/><path d="M581 209.4v1.6h88.7v-1.6z" fill="#7c40b4"/><path d="M581 211v1.6h88.7v-1.6z" fill="#844cb8"/><path d="M581 212.6v1.6h88.7v-1.6z" fill="#6c2cac"/><path d="M581 214.2v3.2h88.7v-3.2z" fill="#7c40b4"/><path d="M581 217.4v1.6h88.7v-1.6z" fill="#8048b8"/><path d="M581 219v1.6h88.7v-1.6z" fill="#7838b0"/><path d="M581 220.6v1.6h88.7v-1.6z" fill="#7438b0"/><path d="M581 222.2v3.2h88.7v-3.2z" fill="#7c40b4"/><path d="M581 225.4v1.6h88.7v-1.6z" fill="#6c2cac"/><path d="M581 227v1.6h88.7v-1.6z" fill="#783cb0"/><path d="M581 228.6v1.6h88.7v-1.6z" fill="#7438b0"/><path d="M581 230.2v1.6h88.7v-1.6z" fill="#783cb0"/><path d="M581 231.8v1.6h88.7v-1.6z" fill="#6c28a8"/><path d="M581 233.4v1.6h88.7v-1.6z" fill="#783cb0"/><path d="M581 235v1.6h88.7v-1.6z" fill="#7030ac"/><path d="M581 236.6v1.6h88.7v-1.6z" fill="#7434ac"/><path d="M581 238.2v1.6h88.7v-1.6z" fill="#7c40b4"/><path d="M581 239.8v1.6h88.7v-1.6z" fill="#844cb8"/><path d="M581 241.4v1.6h88.7v-1.6z" fill="#7c40b4"/><path d="M581 243v1.6h88.7v-1.6z" fill="#ffd0a8"/><path d="M581 244.6v1.6h88.7v-1.6z" fill="#ffc088"/><path d="M581 246.2v1.6h88.7v-1.6z" fill="#ffd8b4"/><path d="M581 247.8v1.6h88.7v-1.6z" fill="#ffd4ac"/><path d="M581 249.4v1.6h88.7v-1.6z" fill="#ffd8b8"/><path d="M581 251v1.6h88.7v-1.6z" fill="#ffe0c4"/><path d="M581 252.6v1.6h88.7v-1.6z" fill="#ffd0a8"/><path d="M581 254.2v1.6h88.7v-1.6z" fill="#ffbc80"/><path d="M581 255.8v1.6h88.7v-1.6z" fill="#ffc898"/><path d="M581 257.4v1.6h88.7v-1.6z" fill="#ffc08c"/><path d="M581 259v1.6h88.7v-1.6z" fill="#ffc894"/><path d="M581 260.6v1.6h88.7v-1.6z" fill="#ffbc80"/><path d="M581 262.2v1.6h88.7v-1.6z" fill="#ffc490"/><path d="M581 263.8v1.6h88.7v-1.6z" fill="#ffcca0"/><path d="M581 265.4v1.6h88.7v-1.6z" fill="#ffc490"/><path d="M581 267v1.6h88.7v-1.6z" fill="#ffb878"/><path d="M581 268.6v1.6h88.7v-1.6z" fill="#ffc894"/><path d="M581 270.2v1.6h88.7v-1.6z" fill="#ffbc80"/><path d="M581 271.8v1.6h88.7v-1.6z" fill="#ffd4b0"/><path d="M581 273.4v1.6h88.7v-1.6z" fill="#ffc894"/><path d="M581 275v1.6h88.7v-1.6z" fill="#ffd4ac"/><path d="M581 276.6v1.6h88.7v-1.6z" fill="#ffd0a8"/><path d="M581 278.2v1.6h88.7v-1.6z" fill="#ffd8b4"/><path d="M581 279.8v1.6h88.7v-1.6z" fill="#ffd0a4"/><path d="M581 281.4v1.6h88.7v-1.6z" fill="#ffd8b4"/><path d="M581 283v1.6h88.7v-1.6z" fill="#ffe0c4"/><path d="M581 284.6v1.6h88.7v-1.6z" fill="#ff9430"/><path d="M581 286.2v1.6h88.7v-1.6z" fill="#ff983c"/><path d="M581 287.8v1.6h88.7v-1.6z" fill="#ff902c"/><path d="M581 289.4v1.6h88.7v-1.6z" fill="#ff9030"/><path d="M581 291v1.6h88.7v-1.6z" fill="#ff9434"/><path d="M581 292.6v1.6h88.7v-1.6z" fill="#ff9030"/><path d="M581 294.2v1.6h88.7v-1.6z" fill="#ff9c44"/><path d="M581 295.8v1.6h88.7v-1.6z" fill="#ff8c28"/><path d="M581 297.4v1.6h88.7v-1.6z" fill="#ff9438"/><path d="M581 299v1.6h88.7v-1.6z" fill="#ff9030"/><path d="M581 300.6v1.6h88.7v-1.6z" fill="#ff8c24"/><path d="M581 302.2v1.6h88.7v-1.6z" fill="#ff9c40"/><path d="M581 303.8v1.6h88.7v-1.6z" fill="#ff9438"/><path d="M581 305.4v3.2h88.7v-3.2z" fill="#ff9430"/><path d="M581 308.6v1.6h88.7v-1.6z" fill="#ff9840"/><path d="M581 310.2v1.6h88.7v-1.6z" fill="#ff983c"/><path d="M581 311.8v1.6h88.7v-1.6z" fill="#ff902c"/><path d="M581 313.4v1.6h88.7v-1.6z" fill="#ff983c"/><path d="M581 315v1.6h88.7v-1.6z" fill="#ff9838"/><path d="M581 316.6v1.6h88.7v-1.6z" fill="#ff9c44"/><path d="M581 318.2v1.6h88.7v-1.6z" fill="#ff9c40"/><path d="M581 319.8v1.6h88.7v-1.6z" fill="#ff9c48"/><path d="M581 321.4v1.6h88.7v-1.6z" fill="#ff9838"/><path d="M581 323v1.6h88.7v-1.6z" fill="#ff9434"/><path d="M581 324.6v4.8h88.7v-4.8z" fill="#ff983c"/><path d="M581 329.4v1.6h88.7v-1.6z" fill="#ff9438"/><path d="M581 331v1.6h88.7v-1.6z" fill="#ff9838"/><path d="M581 332.6v1.6h88.7v-1.6z" fill="#ff9430"/><path d="M581 334.2v3.2h88.7v-3.2z" fill="#ff8c24"/><path d="M581 337.4v1.6h88.7v-1.6z" fill="#ff9438"/><path d="M581 339v1.6h88.7v-1.6z" fill="#ff983c"/><path d="M581 340.6v1.6h88.7v-1.6z" fill="#ff8c28"/><path d="M581 342.2v3.2h88.7v-3.2z" fill="#ff9030"/><path d="M581 345.4v1.6h88.7v-1.6z" fill="#ff9434"/><path d="M581 347v1.6h88.7v-1.6z" fill="#ff983c"/><path d="M581 348.6v4.8h88.7v-4.8z" fill="#ff9434"/><path d="M581 353.4v1.6h88.7v-1.6z" fill="#ff9c44"/><path d="M581 355v1.6h88.7v-1.6z" fill="#ff9434"/><path d="M581 356.6v3.2h88.7v-3.2z" fill="#ff983c"/><path d="M581 359.8v1.6h88.7v-1.6z" fill="#ff9438"/><path d="M581 361.4v1.6h88.7v-1.6z" fill="#ff983c"/><path d="M581 363v1.6h88.7v-1.6z" fill="#ff8c28"/><path d="M581 364.6v3.2h88.7v-3.2z" fill="#ff9430"/><path d="M581 367.8v3.2h88.7v-3.2z" fill="#ff9434"/><path d="M581 371v1.6h88.7v-1.6z" fill="#ff9438"/><path d="M581 372.6v1.6h88.7v-1.6z" fill="#ff9434"/><path d="M581 374.2v1.6h88.7v-1.6z" fill="#ff9430"/><path d="M581 375.8v1.6h88.7v-1.6z" fill="#ff9434"/><path d="M581 377.4v1.6h88.7v-1.6z" fill="#ff9c40"/><path d="M581 379v1.6h88.7v-1.6z" fill="#ff983c"/><path d="M581 380.6v1.6h88.7v-1.6z" fill="#ff9838"/><path d="M581 382.2v1.6h88.7v-1.6z" fill="#ff9c40"/><path d="M581 383.8v1.6h88.7v-1.6z" fill="#ff9438"/><path d="M581 385.4v1.6h88.7v-1.6z" fill="#ff983c"/><path d="M581 387v1.6h88.7v-1.6z" fill="#ff9838"/><path d="M581 388.6v1.6h88.7v-1.6z" fill="#ff9438"/><path d="M581 390.2v1.6h88.7v-1.6z" fill="#ff983c"/><path d="M581 391.8v1.6h88.7v-1.6z" fill="#ff902c"/><path d="M581 393.4v1.6h88.7v-1.6z" fill="#ff9030"/><path d="M581 395v1.6h88.7v-1.6z" fill="#ff9438"/><path d="M581 396.6v1.6h88.7v-1.6z" fill="#ff9030"/><path d="M581 398.2v1.6h88.7v-1.6z" fill="#ff902c"/><path d="M581 399.8v3.2h88.7v-3.2z" fill="#ff9438"/><path d="M581 403v1.6h88.7v-1.6z" fill="#ff9c40"/><path d="M581 404.6v1.6h88.7v-1.6z" fill="#ffac60"/><path d="M581 406.2v1.6h88.7v-1.6z" fill="#ffa454"/><path d="M581 407.8v1.6h88.7v-1.6z" fill="#ff9c48"/><path d="M581 409.4v1.6h88.7v-1.6z" fill="#ff9c44"/><path d="M581 411v1.6h88.7v-1.6z" fill="#ffa450"/><path d="M581 412.6v1.6h88.7v-1.6z" fill="#ff9840"/><path d="M581 414.2v1.6h88.7v-1.6z" fill="#ff9430"/><path d="M581 415.8v4.8h88.7v-4.8z" fill="#ff983c"/><path d="M581 420.6v1.6h88.7v-1.6z" fill="#ff9c48"/><path d="M581 422.2v1.6h88.7v-1.6z" fill="#ff983c"/><path d="M581 423.8v1.6h88.7v-1.6z" fill="#ff9c40"/><path d="M581 425.4v1.6h88.7v-1.6z" fill="#ff9840"/><path d="M581 427v1.6h88.7v-1.6z" fill="#ff983c"/><path d="M581 428.6v1.6h88.7v-1.6z" fill="#ffa048"/><path d="M581 430.2v1.6h88.7v-1.6z" fill="#ffa04c"/><path d="M581 431.8v1.6h88.7v-1.6z" fill="#ff9c48"/><path d="M581 433.4v1.6h88.7v-1.6z" fill="#ff9838"/><path d="M581 435v1.6h88.7v-1.6z" fill="#ffa050"/><path d="M581 436.6v1.6h88.7v-1.6z" fill="#ff9c40"/><path d="M581 438.2v1.6h88.7v-1.6z" fill="#ffa048"/><path d="M581 439.8v3.2h88.7v-3.2z" fill="#ff9c44"/><path d="M581 443v1.6h88.7v-1.6z" fill="#ffa04c"/><path d="M581 444.6v1.6h88.7v-1.6z" fill="#ff9c44"/><path d="M581 446.2v1.6h88.7v-1.6z" fill="#ff9c48"/><path d="M581 447.8v1.6h88.7v-1.6z" fill="#ffa04c"/><path d="M581 449.4v1.6h88.7v-1.6z" fill="#ffa048"/><path d="M581 451v1.6h88.7v-1.6z" fill="#ffa450"/><path d="M581 452.6v1.6h88.7v-1.6z" fill="#ffa048"/><path d="M581 454.2v1.6h88.7v-1.6z" fill="#ffa454"/><path d="M581 455.8v3.2h88.7v-3.2z" fill="#ffa04c"/><path d="M581 459v1.6h88.7v-1.6z" fill="#ffa858"/><path d="M581 460.6v1.6h88.7v-1.6z" fill="#ffb878"/><path d="M581 462.2v1.6h88.7v-1.6z" fill="#ffac64"/><path d="M581 463.8v1.6h88.7v-1.6z" fill="#ffb470"/><path d="M581 465.4v1.6h88.7v-1.6z" fill="#ffac64"/><path d="M581 467v1.6h88.7v-1.6z" fill="#ffa85c"/><path d="M581 468.6v1.6h88.7v-1.6z" fill="#ffac60"/><path d="M581 470.2v1.6h88.7v-1.6z" fill="#ffa450"/><path d="M581 471.8v1.6h88.7v-1.6z" fill="#ffb068"/><path d="M581 473.4v1.6h88.7v-1.6z" fill="#ffac60"/><path d="M581 475v1.6h88.7v-1.6z" fill="#ffb06c"/><path d="M581 476.6v1.6h88.7v-1.6z" fill="#ffbc84"/><path d="M581 478.2v1.6h88.7v-1.6z" fill="#ffb068"/><path d="M581 479.8v1.6h88.7v-1.6z" fill="#ffb878"/><path d="M581 481.4v1.6h88.7v-1.6z" fill="#ffb474"/><path d="M581 483v1.6h88.7v-1.6z" fill="#ffb878"/><path d="M581 484.6v1.6h88.7v-1.6z" fill="#ffb87c"/><path d="M581 486.2v1.6h88.7v-1.6z" fill="#ffb878"/><path d="M581 487.8v1.6h88.7v-1.6z" fill="#ffb874"/><path d="M581 489.4v1.6h88.7v-1.6z" fill="#ffb06c"/><path d="M581 491v1.6h88.7v-1.6z" fill="#ffb874"/><path d="M581 492.6v1.6h88.7v-1.6z" fill="#ffb068"/><path d="M581 494.2v1.6h88.7v-1.6z" fill="#ffb06c"/><path d="M581 495.8v1.6h88.7v-1.6z" fill="#ffb87c"/><path d="M581 497.4v1.6h88.7v-1.6z" fill="#ffb06c"/><path d="M581 499v1.6h88.7v-1.6z" fill="#ffc08c"/><path d="M581 500.6v1.6h88.7v-1.6z" fill="#ffb874"/><path d="M581 502.2v1.6h88.7v-1.6z" fill="#ffbc80"/><path d="M581 503.8v1.6h88.7v-1.6z" fill="#ffb878"/><path d="M581 505.4v1.6h88.7v-1.6z" fill="#ffb06c"/><path d="M581 507v1.6h88.7v-1.6z" fill="#ffb878"/><path d="M581 508.6v1.6h88.7v-1.6z" fill="#ffb874"/><path d="M581 510.2v1.6h88.7v-1.6z" fill="#ffac64"/><path d="M581 511.8v1.6h88.7v-1.6z" fill="#ffb474"/><path d="M581 513.4v1.6h88.7v-1.6z" fill="#ffb470"/><path d="M581 515v1.6h88.7v-1.6z" fill="#ffac60"/><path d="M581 516.6v1.6h88.7v-1.6z" fill="#ffac64"/><path d="M581 518.2v1.6h88.7v-1.6z" fill="#ffb874"/><path d="M581 519.8v1.6h88.7v-1.6z" fill="#ffb068"/><path d="M581 521.4v1.6h88.7v-1.6z" fill="#ffac64"/><path d="M581 523v1.6h88.7v-1.6z" fill="#ffb470"/><path d="M581 524.6v1.6h88.7v-1.6z" fill="#ffb474"/><path d="M581 526.2v1.6h88.7v-1.6z" fill="#ffa858"/><path d="M581 527.8v1.6h88.7v-1.6z" fill="#ffa85c"/><path d="M581 529.4v1.6h88.7v-1.6z" fill="#ffb064"/><path d="M581 531v1.6h88.7v-1.6z" fill="#ffa858"/><path d="M581 532.6v1.6h88.7v-1.6z" fill="#ffb474"/><path d="M581 534.2v1.6h88.7v-1.6z" fill="#ffac64"/><path d="M581 535.8v1.6h88.7v-1.6z" fill="#ffa050"/><path d="M581 537.4v1.6h88.7v-1.6z" fill="#ffb06c"/><path d="M581 539v1.6h88.7v-1.6z" fill="#ffac60"/><path d="M581 540.6v1.6h88.7v-1.6z" fill="#ffb474"/><path d="M581 542.2v3.2h88.7v-3.2z" fill="#ffb068"/><path d="M581 545.4v1.6h88.7v-1.6z" fill="#ffa85c"/><path d="M581 547v1.6h88.7v-1.6z" fill="#ffac60"/><path d="M581 548.6v1.6h88.7v-1.6z" fill="#ffa04c"/><path d="M581 550.2v1.6h88.7v-1.6z" fill="#ffac64"/><path d="M581 551.8v1.6h88.7v-1.6z" fill="#ffa858"/><path d="M581 553.4v1.6h88.7v-1.6z" fill="#ffa454"/><path d="M581 555v1.6h88.7v-1.6z" fill="#ffa450"/><path d="M581 556.6v1.6h88.7v-1.6z" fill="#ffa04c"/><path d="M581 558.2v1.6h88.7v-1.6z" fill="#ffcca0"/><path d="M581 559.8v1.6h88.7v-1.6z" fill="#ffb87c"/><path d="M581 561.4v1.6h88.7v-1.6z" fill="#ffcc9c"/><path d="M581 563v1.6h88.7v-1.6z" fill="#ffd0a4"/><path d="M581 564.6v1.6h88.7v-1.6z" fill="#ffd8b4"/><path d="M581 566.2v1.6h88.7v-1.6z" fill="#ffd0a4"/><path d="M581 567.8v1.6h88.7v-1.6z" fill="#ffd8b4"/><path d="M581 569.4v1.6h88.7v-1.6z" fill="#ffcc9c"/><path d="M581 571v1.6h88.7v-1.6z" fill="#ffd0a4"/><path d="M581 572.6v1.6h88.7v-1.6z" fill="#ffc898"/><path d="M581 574.2v1.6h88.7v-1.6z" fill="#ffd0a8"/><path d="M581 575.8v1.6h88.7v-1.6z" fill="#ffcca0"/><path d="M581 577.4v1.6h88.7v-1.6z" fill="#ffc088"/><path d="M581 579v1.6h88.7v-1.6z" fill="#ffc490"/><path d="M581 580.6v1.6h88.7v-1.6z" fill="#ffcc9c"/><path d="M581 582.2v1.6h88.7v-1.6z" fill="#ffd0a8"/><path d="M581 583.8v1.6h88.7v-1.6z" fill="#ffc08c"/><path d="M581 585.4v1.6h88.7v-1.6z" fill="#ffd8b0"/><path d="M581 587v1.6h88.7v-1.6z" fill="#ffd4b0"/><path d="M581 588.6v1.6h88.7v-1.6z" fill="#ffc490"/><path d="M581 590.2v1.6h88.7v-1.6z" fill="#ffd4a8"/><path d="M581 591.8v1.6h88.7v-1.6z" fill="#ffc490"/><path d="M581 593.4v1.6h88.7v-1.6z" fill="#ffc898"/><path d="M581 595v1.6h88.7v-1.6z" fill="#ffe0c0"/><path d="M581 596.6v1.6h88.7v-1.6z" fill="#ffe0c4"/><path d="M581 598.2v1.6h88.7v-1.6z" fill="#ffe4cc"/><path d="M581 599.8v1.6h88.7v-1.6z" fill="#ffecd8"/><path d="M581 601.4v1.6h88.7v-1.6z" fill="#ffe4cc"/><path d="M581 603v1.6h88.7v-1.6z" fill="#ffe0c0"/><path d="M581 604.6v1.6h88.7v-1.6z" fill="#ffe8d0"/><path d="M581 606.2v1.6h88.7v-1.6z" fill="#fff8f4"/><path d="M581 607.8v4.8h88.7v-4.8z" fill="#ffecdc"/><path d="M581 612.6v1.6h88.7v-1.6z" fill="#ffb068"/><path d="M581 614.2v1.6h88.7v-1.6z" fill="#ffa85c"/><path d="M581 615.8v1.6h88.7v-1.6z" fill="#ffb470"/><path d="M581 617.4v1.6h88.7v-1.6z" fill="#ffac60"/><path d="M581 619v3.2h88.7v-3.2z" fill="#ffb878"/><path d="M581 622.2v3.2h88.7v-3.2z" fill="#ffb06c"/><path d="M581 625.4v3.2h88.7v-3.2z" fill="#ffb470"/><path d="M581 628.6v1.6h88.7v-1.6z" fill="#ffb068"/><path d="M581 630.2v1.6h88.7v-1.6z" fill="#ffac64"/><path d="M581 631.8v1.6h88.7v-1.6z" fill="#ffac60"/><path d="M581 633.4v1.6h88.7v-1.6z" fill="#ffa85c"/><path d="M581 635v1.6h88.7v-1.6z" fill="#ffac60"/><path d="M581 636.6v1.6h88.7v-1.6z" fill="#ffb068"/><path d="M581 638.2v1.6h88.7v-1.6z" fill="#ffb470"/><path d="M581 639.8v1.6h88.7v-1.6z" fill="#ffb06c"/><path d="M581 641.4v1.6h88.7v-1.6z" fill="#ffb878"/><path d="M581 643v1.6h88.7v-1.6z" fill="#ffb470"/><path d="M581 644.6v3.2h88.7v-3.2z" fill="#ffac64"/><path d="M581 647.8v1.6h88.7v-1.6z" fill="#ffa85c"/><path d="M581 649.4v1.6h88.7v-1.6z" fill="#ffb470"/><path d="M581 651v1.6h88.7v-1.6z" fill="#ffe4c8"/><path d="M581 652.6v1.6h88.7v-1.6z" fill="#ffdcbc"/><path d="M581 654.2v1.6h88.7v-1.6z" fill="#ffc898"/><path d="M581 655.8v1.6h88.7v-1.6z" fill="#ffd0a4"/><path d="M581 657.4v1.6h88.7v-1.6z" fill="#ffd4ac"/><path d="M581 659v1.6h88.7v-1.6z" fill="#ffc494"/><path d="M581 660.6v1.6h88.7v-1.6z" fill="#ffcca0"/><path d="M581 662.2v1.6h88.7v-1.6z" fill="#ffc48c"/><path d="M581 663.8v1.6h88.7v-1.6z" fill="#ffd4ac"/><path d="M581 665.4v1.6h88.7v-1.6z" fill="#ffd4b0"/><path d="M581 667v1.6h88.7v-1.6z" fill="#ffd0a4"/><path d="M581 668.6v1.6h88.7v-1.6z" fill="#ffcc9c"/><path d="M581 670.2v1.6h88.7v-1.6z" fill="#ffc494"/><path d="M581 671.8v1.6h88.7v-1.6z" fill="#ffbc80"/><path d="M581 673.4v1.6h88.7v-1.6z" fill="#ffc48c"/><path d="M581 675v1.6h88.7v-1.6z" fill="#ffc898"/><path d="M581 676.6v1.6h88.7v-1.6z" fill="#ffc08c"/><path d="M581 678.2v1.6h88.7v-1.6z" fill="#ffc084"/><path d="M581 679.8v1.6h88.7v-1.6z" fill="#ffc088"/><path d="M581 681.4v1.6h88.7v-1.6z" fill="#ffbc80"/><path d="M581 683v1.6h88.7v-1.6z" fill="#ffb87c"/><path d="M581 684.6v0.4h88.7v-0.4z" fill="#ffc08c"/><path d="M669.4 59v1.6h88.7v-1.6z" fill="#a880cc"/><path d="M669.4 60.6v1.6h88.7v-1.6z" fill="#a478c8"/><path d="M669.4 62.2v1.6h88.7v-1.6z" fill="#a47ccc"/><path d="M669.4 63.8v1.6h88.7v-1.6z" fill="#9868c4"/><path d="M669.4 65.4v1.6h88.7v-1.6z" fill="#a074c8"/><path d="M669.4 67v3.2h88.7v-3.2z" fill="#c4acdc"/><path d="M669.4 70.2v1.6h88.7v-1.6z" fill="#d4c4e8"/><path d="M669.4 71.8v1.6h88.7v-1.6z" fill="#d4c0e4"/><path d="M669.4 73.4v1.6h88.7v-1.6z" fill="#e0d0ec"/><path d="M669.4 75v1.6h88.7v-1.6z" fill="#b494d4"/><path d="M669.4 76.6v1.6h88.7v-1.6z" fill="#c4acdc"/><path d="M669.4 78.2v1.6h88.7v-1.6z" fill="#c4a8dc"/><path d="M669.4 79.8v3.2h88.7v-3.2z" fill="#d8c8e8"/><path d="M669.4 83v1.6h88.7v-1.6z" fill="#c0a4dc"/><path d="M669.4 84.6v1.6h88.7v-1.6z" fill="#c4a8dc"/><path d="M669.4 86.2v1.6h88.7v-1.6z" fill="#bc9cd8"/><path d="M669.4 87.8v1.6h88.7v-1.6z" fill="#c0a0d8"/><path d="M669.4 89.4v1.6h88.7v-1.6z" fill="#c0a4dc"/><path d="M669.4 91v1.6h88.7v-1.6z" fill="#ac88d0"/><path d="M669.4 92.6v1.6h88.7v-1.6z" fill="#d8c4e8"/><path d="M669.4 94.2v1.6h88.7v-1.6z" fill="#c8ace0"/><path d="M669.4 95.8v1.6h88.7v-1.6z" fill="#d0bce4"/><path d="M669.4 97.4v1.6h88.7v-1.6z" fill="#c4acdc"/><path d="M669.4 99v1.6h88.7v-1.6z" fill="#bca0d8"/><path d="M669.4 100.6v1.6h88.7v-1.6z" fill="#c0a4dc"/><path d="M669.4 102.2v1.6h88.7v-1.6z" fill="#a47ccc"/><path d="M669.4 103.8v1.6h88.7v-1.6z" fill="#ac84d0"/><path d="M669.4 105.4v1.6h88.7v-1.6z" fill="#a880cc"/><path d="M669.4 107v1.6h88.7v-1.6z" fill="#a078c8"/><path d="M669.4 108.6v1.6h88.7v-1.6z" fill="#9c6cc4"/><path d="M669.4 110.2v1.6h88.7v-1.6z" fill="#a880cc"/><path d="M669.4 111.8v1.6h88.7v-1.6z" fill="#9c70c8"/><path d="M669.4 113.4v1.6h88.7v-1.6z" fill="#a47ccc"/><path d="M669.4 115v1.6h88.7v-1.6z" fill="#b08cd0"/><path d="M669.4 116.6v1.6h88.7v-1.6z" fill="#9c70c8"/><path d="M669.4 118.2v1.6h88.7v-1.6z" fill="#c4a8dc"/><path d="M669.4 119.8v1.6h88.7v-1.6z" fill="#d0bce4"/><path d="M669.4 121.4v1.6h88.7v-1.6z" fill="#ccb4e0"/><path d="M669.4 123v1.6h88.7v-1.6z" fill="#d0bce4"/><path d="M669.4 124.6v1.6h88.7v-1.6z" fill="#c4a8dc"/><path d="M669.4 126.2v1.6h88.7v-1.6z" fill="#c8b0e0"/><path d="M669.4 127.8v1.6h88.7v-1.6z" fill="#b090d4"/><path d="M669.4 129.4v1.6h88.7v-1.6z" fill="#c8ace0"/><path d="M669.4 131v1.6h88.7v-1.6z" fill="#d4c4e8"/><path d="M669.4 132.6v1.6h88.7v-1.6z" fill="#bc9cd8"/><path d="M669.4 134.2v1.6h88.7v-1.6z" fill="#c4a8dc"/><path d="M669.4 135.8v1.6h88.7v-1.6z" fill="#ccb4e0"/><path d="M669.4 137.4v1.6h88.7v-1.6z" fill="#d0b8e4"/><path d="M669.4 139v1.6h88.7v-1.6z" fill="#fffcfc"/><path d="M669.4 140.6v1.6h88.7v-1.6z" fill="#e0d4ec"/><path d="M669.4 142.2v1.6h88.7v-1.6z" fill="#e4d8f0"/><path d="M669.4 143.8v1.6h88.7v-1.6z" fill="#fff8f0"/><path d="M669.4 145.4v1.6h88.7v-1.6z" fill="#ece4f4"/><path d="M669.4 147v1.6h88.7v-1.6z" fill="#fcfcfc"/><path d="M669.4 148.6v3.2h88.7v-3.2z" fill="#bca0d8"/><path d="M669.4 151.8v1.6h88.7v-1.6z" fill="#a884cc"/><path d="M669.4 153.4v1.6h88.7v-1.6z" fill="#bca0d8"/><path d="M669.4 155v1.6h88.7v-1.6z" fill="#ac88d0"/><path d="M669.4 156.6v3.2h88.7v-3.2z" fill="#b494d4"/><path d="M669.4 159.8v1.6h88.7v-1.6z" fill="#c8ace0"/><path d="M669.4 161.4v1.6h88.7v-1.6z" fill="#c0a4d8"/><path d="M669.4 163v1.6h88.7v-1.6z" fill="#bc9cd8"/><path d="M669.4 164.6v1.6h88.7v-1.6z" fill="#b490d4"/><path d="M669.4 166.2v1.6h88.7v-1.6z" fill="#ac84d0"/><path d="M669.4 167.8v1.6h88.7v-1.6z" fill="#bc9cd8"/><path d="M669.4 169.4v1.6h88.7v-1.6z" fill="#d8c4e8"/><path d="M669.4 171v1.6h88.7v-1.6z" fill="#dcccec"/><path d="M669.4 172.6v1.6h88.7v-1.6z" fill="#fff0e0"/><path d="M669.4 174.2v1.6h88.7v-1.6z" fill="#fff8f0"/><path d="M669.4 175.8v1.6h88.7v-1.6z" fill="#fff4e8"/><path d="M669.4 177.4v1.6h88.7v-1.6z" fill="#fff4ec"/><path d="M669.4 179v4.8h88.7v-4.8z" fill="#ffe8d4"/><path d="M669.4 183.8v1.6h88.7v-1.6z" fill="#ffe4cc"/><path d="M669.4 185.4v1.6h88.7v-1.6z" fill="#fff8f0"/><path d="M669.4 187v3.2h88.7v-3.2z" fill="#fff0e0"/><path d="M669.4 190.2v1.6h88.7v-1.6z" fill="#e0d4ec"/><path d="M669.4 191.8v1.6h88.7v-1.6z" fill="#dcccec"/><path d="M669.4 193.4v1.6h88.7v-1.6z" fill="#d8c8e8"/><path d="M669.4 195v1.6h88.7v-1.6z" fill="#ccb8e4"/><path d="M669.4 196.6v1.6h88.7v-1.6z" fill="#dcccec"/><path d="M669.4 198.2v1.6h88.7v-1.6z" fill="#ece0f4"/><path d="M669.4 199.8v3.2h88.7v-3.2z" fill="#e4d8f0"/><path d="M669.4 203v1.6h88.7v-1.6z" fill="#ece4f4"/><path d="M669.4 204.6v1.6h88.7v-1.6z" fill="#d8c4e8"/><path d="M669.4 206.2v1.6h88.7v-1.6z" fill="#ffc48c"/><path d="M669.4 207.8v1.6h88.7v-1.6z" fill="#ffb87c"/><path d="M669.4 209.4v1.6h88.7v-1.6z" fill="#ffc494"/><path d="M669.4 211v1.6h88.7v-1.6z" fill="#ffc898"/><path d="M669.4 212.6v1.6h88.7v-1.6z" fill="#ffc084"/><path d="M669.4 214.2v1.6h88.7v-1.6z" fill="#ffc490"/><path d="M669.4 215.8v1.6h88.7v-1.6z" fill="#ffc898"/><path d="M669.4 217.4v1.6h88.7v-1.6z" fill="#ffc088"/><path d="M669.4 219v1.6h88.7v-1.6z" fill="#ffcca4"/><path d="M669.4 220.6v1.6h88.7v-1.6z" fill="#ffbc80"/><path d="M669.4 222.2v1.6h88.7v-1.6z" fill="#ece0f4"/><path d="M669.4 223.8v1.6h88.7v-1.6z" fill="#f4ecf8"/><path d="M669.4 225.4v1.6h88.7v-1.6z" fill="#fff8f4"/><path d="M669.4 227v1.6h88.7v-1.6z" fill="#fcfcfc"/><path d="M669.4 228.6v1.6h88.7v-1.6z" fill="#fffcf8"/><path d="M669.4 230.2v1.6h88.7v-1.6z" fill="#ffecdc"/><path d="M669.4 231.8v1.6h88.7v-1.6z" fill="#ffe8d4"/><path d="M669.4 233.4v1.6h88.7v-1.6z" fill="#ffe4c8"/><path d="M669.4 235v1.6h88.7v-1.6z" fill="#fffffc"/><path d="M669.4 236.6v1.6h88.7v-1.6z" fill="#ffece0"/><path d="M669.4 238.2v1.6h88.7v-1.6z" fill="#f0e8f4"/><path d="M669.4 239.8v1.6h88.7v-1.6z" fill="#fff0e4"/><path d="M669.4 241.4v1.6h88.7v-1.6z" fill="#ffece0"/><path d="M669.4 243v1.6h88.7v-1.6z" fill="#bc9cd8"/><path d="M669.4 244.6v1.6h88.7v-1.6z" fill="#c4a8dc"/><path d="M669.4 246.2v1.6h88.7v-1.6z" fill="#c8b0e0"/><path d="M669.4 247.8v1.6h88.7v-1.6z" fill="#c4a8dc"/><path d="M669.4 249.4v1.6h88.7v-1.6z" fill="#c0a4dc"/><path d="M669.4 251v1.6h88.7v-1.6z" fill="#d8c8e8"/><path d="M669.4 252.6v1.6h88.7v-1.6z" fill="#bc9cd8"/><path d="M669.4 254.2v1.6h88.7v-1.6z" fill="#c8ace0"/><path d="M669.4 255.8v1.6h88.7v-1.6z" fill="#ccb4e0"/><path d="M669.4 257.4v1.6h88.7v-1.6z" fill="#f0e8f4"/><path d="M669.4 259v3.2h88.7v-3.2z" fill="#f8f4fc"/><path d="M669.4 262.2v1.6h88.7v-1.6z" fill="#ece4f4"/><path d="M669.4 263.8v1.6h88.7v-1.6z" fill="#f8f4fc"/><path d="M669.4 265.4v1.6h88.7v-1.6z" fill="#f0e8f8"/><path d="M669.4 267v1.6h88.7v-1.6z" fill="#e4d8f0"/><path d="M669.4 268.6v1.6h88.7v-1.6z" fill="#ece0f4"/><path d="M669.4 270.2v1.6h88.7v-1.6z" fill="#f0e8f8"/><path d="M669.4 271.8v1.6h88.7v-1.6z" fill="#fff0e4"/><path d="M669.4 273.4v1.6h88.7v-1.6z" fill="#f0ecf8"/><path d="M669.4 275v1.6h88.7v-1.6z" fill="#ffe0c4"/><path d="M669.4 276.6v1.6h88.7v-1.6z" fill="#ece0f4"/><path d="M669.4 278.2v1.6h88.7v-1.6z" fill="#f4f0f8"/><path d="M669.4 279.8v3.2h88.7v-3.2z" fill="#fff4e8"/><path d="M669.4 283v1.6h88.7v-1.6z" fill="#ffe4cc"/><path d="M669.4 284.6v3.2h88.7v-3.2z" fill="#f0e8f8"/><path d="M669.4 287.8v1.6h88.7v-1.6z" fill="#f0ecf8"/><path d="M669.4 289.4v1.6h88.7v-1.6z" fill="#e8dcf0"/><path d="M669.4 291v1.6h88.7v-1.6z" fill="#e4dcf0"/><path d="M669.4 292.6v1.6h88.7v-1.6z" fill="#ece0f4"/><path d="M669.4 294.2v1.6h88.7v-1.6z" fill="#f4f0f8"/><path d="M669.4 295.8v1.6h88.7v-1.6z" fill="#ece4f4"/><path d="M669.4 297.4v1.6h88.7v-1.6z" fill="#ffe8d0"/><path d="M669.4 299v1.6h88.7v-1.6z" fill="#fff0e0"/><path d="M669.4 300.6v1.6h88.7v-1.6z" fill="#ffe8d4"/><path d="M669.4 302.2v1.6h88.7v-1.6z" fill="#ffecd8"/><path d="M669.4 303.8v1.6h88.7v-1.6z" fill="#ffe8d8"/><path d="M669.4 305.4v3.2h88.7v-3.2z" fill="#fff0e4"/><path d="M669.4 308.6v1.6h88.7v-1.6z" fill="#fff8f0"/><path d="M669.4 310.2v1.6h88.7v-1.6z" fill="#ffecdc"/><path d="M669.4 311.8v1.6h88.7v-1.6z" fill="#fff0e0"/><path d="M669.4 313.4v1.6h88.7v-1.6z" fill="#ffecd8"/><path d="M669.4 315v1.6h88.7v-1.6z" fill="#ffe8d4"/><path d="M669.4 316.6v3.2h88.7v-3.2z" fill="#fff0e0"/><path d="M669.4 319.8v1.6h88.7v-1.6z" fill="#ffecd8"/><path d="M669.4 321.4v1.6h88.7v-1.6z" fill="#ffe4cc"/><path d="M669.4 323v4.8h88.7v-4.8z" fill="#fff0e4"/><path d="M669.4 327.8v1.6h88.7v-1.6z" fill="#fff0e0"/><path d="M669.4 329.4v1.6h88.7v-1.6z" fill="#fff0e4"/><path d="M669.4 331v1.6h88.7v-1.6z" fill="#ece0f4"/><path d="M669.4 332.6v1.6h88.7v-1.6z" fill="#f4ecf8"/><path d="M669.4 334.2v1.6h88.7v-1.6z" fill="#ece0f4"/><path d="M669.4 335.8v1.6h88.7v-1.6z" fill="#f0e8f8"/><path d="M669.4 337.4v1.6h88.7v-1.6z" fill="#e8e0f4"/><path d="M669.4 339v1.6h88.7v-1.6z" fill="#f0e8f4"/><path d="M669.4 340.6v1.6h88.7v-1.6z" fill="#f4ecf8"/><path d="M669.4 342.2v1.6h88.7v-1.6z" fill="#e4d8f0"/><path d="M669.4 343.8v3.2h88.7v-3.2z" fill="#fffcf8"/><path d="M669.4 347v1.6h88.7v-1.6z" fill="#fffcfc"/><path d="M669.4 348.6v3.2h88.7v-3.2z" fill="#fffcf8"/><path d="M669.4 351.8v1.6h88.7v-1.6z" fill="#f8f8fc"/><path d="M669.4 353.4v1.6h88.7v-1.6z" fill="#ffffff"/><path d="M669.4 355v1.6h88.7v-1.6z" fill="#fffcf8"/><path d="M669.4 356.6v1.6h88.7v-1.6z" fill="#fff8f4"/><path d="M669.4 358.2v1.6h88.7v-1.6z" fill="#fcfcff"/><path d="M669.4 359.8v1.6h88.7v-1.6z" fill="#fffcf8"/><path d="M669.4 361.4v1.6h88.7v-1.6z" fill="#c0a4d8"/><path d="M669.4 363v1.6h88.7v-1.6z" fill="#c8b0e0"/><path d="M669.4 364.6v1.6h88.7v-1.6z" fill="#c0a4dc"/><path d="M669.4 366.2v1.6h88.7v-1.6z" fill="#c0a8dc"/><path d="M669.4 367.8v1.6h88.7v-1.6z" fill="#ccb4e0"/><path d="M669.4 369.4v1.6h88.7v-1.6z" fill="#d4c0e8"/><path d="M669.4 371v1.6h88.7v-1.6z" fill="#b090d4"/><path d="M669.4 372.6v1.6h88.7v-1.6z" fill="#c8b0e0"/><path d="M669.4 374.2v1.6h88.7v-1.6z" fill="#b898d4"/><path d="M669.4 375.8v3.2h88.7v-3.2z" fill="#c4a8dc"/><path d="M669.4 379v1.6h88.7v-1.6z" fill="#ccb4e0"/><path d="M669.4 380.6v1.6h88.7v-1.6z" fill="#c0a4dc"/><path d="M669.4 382.2v1.6h88.7v-1.6z" fill="#a074c8"/><path d="M669.4 383.8v1.6h88.7v-1.6z" fill="#a078c8"/><path d="M669.4 385.4v1.6h88.7v-1.6z" fill="#a47ccc"/><path d="M669.4 387v1.6h88.7v-1.6z" fill="#c0a8dc"/><path d="M669.4 388.6v3.2h88.7v-3.2z" fill="#ccb4e0"/><path d="M669.4 391.8v1.6h88.7v-1.6z" fill="#d0b8e4"/><path d="M669.4 393.4v1.6h88.7v-1.6z" fill="#f8f4fc"/><path d="M669.4 395v3.2h88.7v-3.2z" fill="#fcf8fc"/><path d="M669.4 398.2v3.2h88.7v-3.2z" fill="#f4ecf8"/><path d="M669.4 401.4v1.6h88.7v-1.6z" fill="#e8e0f4"/><path d="M669.4 403v1.6h88.7v-1.6z" fill="#ffe4cc"/><path d="M669.4 404.6v1.6h88.7v-1.6z" fill="#ffe8d4"/><path d="M669.4 406.2v1.6h88.7v-1.6z" fill="#ffd8b4"/><path d="M669.4 407.8v1.6h88.7v-1.6z" fill="#ffe0c4"/><path d="M669.4 409.4v1.6h88.7v-1.6z" fill="#ffd8b8"/><path d="M669.4 411v1.6h88.7v-1.6z" fill="#ffd0a4"/><path d="M669.4 412.6v3.2h88.7v-3.2z" fill="#ffcca0"/><path d="M669.4 415.8v1.6h88.7v-1.6z" fill="#ffdcbc"/><path d="M669.4 417.4v1.6h88.7v-1.6z" fill="#ffd4b0"/><path d="M669.4 419v1.6h88.7v-1.6z" fill="#ffd0a8"/><path d="M669.4 420.6v1.6h88.7v-1.6z" fill="#ffe4c8"/><path d="M669.4 422.2v1.6h88.7v-1.6z" fill="#ffe0c4"/><path d="M669.4 423.8v1.6h88.7v-1.6z" fill="#ffe4d0"/><path d="M669.4 425.4v1.6h88.7v-1.6z" fill="#ffe0c8"/><path d="M669.4 427v1.6h88.7v-1.6z" fill="#ffd8b8"/><path d="M669.4 428.6v1.6h88.7v-1.6z" fill="#ffdcc0"/><path d="M669.4 430.2v1.6h88.7v-1.6z" fill="#ffe0c4"/><path d="M669.4 431.8v1.6h88.7v-1.6z" fill="#ffe0c8"/><path d="M669.4 433.4v1.6h88.7v-1.6z" fill="#ffd4b0"/><path d="M669.4 435v1.6h88.7v-1.6z" fill="#ffdcb8"/><path d="M669.4 436.6v1.6h88.7v-1.6z" fill="#ffe8d4"/><path d="M669.4 438.2v1.6h88.7v-1.6z" fill="#ffd0a8"/><path d="M669.4 439.8v1.6h88.7v-1.6z" fill="#ffe0c8"/><path d="M669.4 441.4v1.6h88.7v-1.6z" fill="#ffe0c4"/><path d="M669.4 443v3.2h88.7v-3.2z" fill="#fff4e8"/><path d="M669.4 446.2v1.6h88.7v-1.6z" fill="#ffecdc"/><path d="M669.4 447.8v1.6h88.7v-1.6z" fill="#fff4ec"/><path d="M669.4 449.4v1.6h88.7v-1.6z" fill="#ffece0"/><path d="M669.4 451v1.6h88.7v-1.6z" fill="#fff0e0"/><path d="M669.4 452.6v1.6h88.7v-1.6z" fill="#ffe8d4"/><path d="M669.4 454.2v4.8h88.7v-4.8z" fill="#ffecdc"/><path d="M669.4 459v1.6h88.7v-1.6z" fill="#ffece0"/><path d="M669.4 460.6v1.6h88.7v-1.6z" fill="#ffc89c"/><path d="M669.4 462.2v1.6h88.7v-1.6z" fill="#ffd8b4"/><path d="M669.4 463.8v1.6h88.7v-1.6z" fill="#ffc898"/><path d="M669.4 465.4v1.6h88.7v-1.6z" fill="#ffcca0"/><path d="M669.4 467v1.6h88.7v-1.6z" fill="#ffc894"/><path d="M669.4 468.6v1.6h88.7v-1.6z" fill="#ffc898"/><path d="M669.4 470.2v3.2h88.7v-3.2z" fill="#ffcc9c"/><path d="M669.4 473.4v1.6h88.7v-1.6z" fill="#ffc89c"/><path d="M669.4 475v1.6h88.7v-1.6z" fill="#ffc08c"/><path d="M669.4 476.6v1.6h88.7v-1.6z" fill="#ffc494"/><path d="M669.4 478.2v1.6h88.7v-1.6z" fill="#ffcca0"/><path d="M669.4 479.8v3.2h88.7v-3.2z" fill="#ffcc9c"/><path d="M669.4 483v1.6h88.7v-1.6z" fill="#ffd0a4"/><path d="M669.4 484.6v1.6h88.7v-1.6z" fill="#ffcca0"/><path d="M669.4 486.2v1.6h88.7v-1.6z" fill="#ffd0a8"/><path d="M669.4 487.8v1.6h88.7v-1.6z" fill="#ffdcbc"/><path d="M669.4 489.4v1.6h88.7v-1.6z" fill="#ffcca0"/><path d="M669.4 491v1.6h88.7v-1.6z" fill="#ffcc9c"/><path d="M669.4 492.6v1.6h88.7v-1.6z" fill="#ffc894"/><path d="M669.4 494.2v1.6h88.7v-1.6z" fill="#ffc48c"/><path d="M669.4 495.8v1.6h88.7v-1.6z" fill="#ffd0a4"/><path d="M669.4 497.4v1.6h88.7v-1.6z" fill="#ffc898"/><path d="M669.4 499v1.6h88.7v-1.6z" fill="#ffcc9c"/><path d="M669.4 500.6v1.6h88.7v-1.6z" fill="#ffd4ac"/><path d="M669.4 502.2v1.6h88.7v-1.6z" fill="#ffcca0"/><path d="M669.4 503.8v1.6h88.7v-1.6z" fill="#ffc898"/><path d="M669.4 505.4v1.6h88.7v-1.6z" fill="#ffd0a8"/><path d="M669.4 507v1.6h88.7v-1.6z" fill="#ffc088"/><path d="M669.4 508.6v1.6h88.7v-1.6z" fill="#ffc898"/><path d="M669.4 510.2v1.6h88.7v-1.6z" fill="#ffcca0"/><path d="M669.4 511.8v3.2h88.7v-3.2z" fill="#ffd0a4"/><path d="M669.4 515v1.6h88.7v-1.6z" fill="#ffd4ac"/><path d="M669.4 516.6v1.6h88.7v-1.6z" fill="#ffc898"/><path d="M669.4 518.2v1.6h88.7v-1.6z" fill="#ffcca0"/><path d="M669.4 519.8v1.6h88.7v-1.6z" fill="#ffd4ac"/><path d="M669.4 521.4v1.6h88.7v-1.6z" fill="#ffcc9c"/><path d="M669.4 523v1.6h88.7v-1.6z" fill="#ffcca0"/><path d="M669.4 524.6v1.6h88.7v-1.6z" fill="#ffd0a4"/><path d="M669.4 526.2v1.6h88.7v-1.6z" fill="#ffd4b0"/><path d="M669.4 527.8v1.6h88.7v-1.6z" fill="#ffd8b8"/><path d="M669.4 529.4v1.6h88.7v-1.6z" fill="#ffd8b4"/><path d="M669.4 531v1.6h88.7v-1.6z" fill="#ffd4ac"/><path d="M669.4 532.6v3.2h88.7v-3.2z" fill="#ffdcbc"/><path d="M669.4 535.8v3.2h88.7v-3.2z" fill="#ffd8b4"/><path d="M669.4 539v1.6h88.7v-1.6z" fill="#ffe4cc"/><path d="M669.4 540.6v1.6h88.7v-1.6z" fill="#ffdcbc"/><path d="M669.4 542.2v1.6h88.7v-1.6z" fill="#ffe0c0"/><path d="M669.4 543.8v1.6h88.7v-1.6z" fill="#ffdcbc"/><path d="M669.4 545.4v1.6h88.7v-1.6z" fill="#ffd8b4"/><path d="M669.4 547v3.2h88.7v-3.2z" fill="#ffd8b0"/><path d="M669.4 550.2v1.6h88.7v-1.6z" fill="#ffdcb8"/><path d="M669.4 551.8v3.2h88.7v-3.2z" fill="#ffdcbc"/><path d="M669.4 555v1.6h88.7v-1.6z" fill="#ffe4c8"/><path d="M669.4 556.6v1.6h88.7v-1.6z" fill="#ffd8b4"/><path d="M669.4 558.2v3.2h88.7v-3.2z" fill="#ffb878"/><path d="M669.4 561.4v1.6h88.7v-1.6z" fill="#ffb46c"/><path d="M669.4 563v1.6h88.7v-1.6z" fill="#ffbc84"/><path d="M669.4 564.6v1.6h88.7v-1.6z" fill="#ffac60"/><path d="M669.4 566.2v3.2h88.7v-3.2z" fill="#ffb068"/><path d="M669.4 569.4v3.2h88.7v-3.2z" fill="#ffac64"/><path d="M669.4 572.6v1.6h88.7v-1.6z" fill="#ffb068"/><path d="M669.4 574.2v1.6h88.7v-1.6z" fill="#ffac64"/><path d="M669.4 575.8v1.6h88.7v-1.6z" fill="#ffb878"/><path d="M669.4 577.4v1.6h88.7v-1.6z" fill="#ffb474"/><path d="M669.4 579v1.6h88.7v-1.6z" fill="#ffb874"/><path d="M669.4 580.6v1.6h88.7v-1.6z" fill="#ffb470"/><path d="M669.4 582.2v1.6h88.7v-1.6z" fill="#ffc088"/><path d="M669.4 583.8v1.6h88.7v-1.6z" fill="#ffb878"/><path d="M669.4 585.4v1.6h88.7v-1.6z" fill="#ffbc7c"/><path d="M669.4 587v3.2h88.7v-3.2z" fill="#ffb474"/><path d="M669.4 590.2v1.6h88.7v-1.6z" fill="#ffb878"/><path d="M669.4 591.8v1.6h88.7v-1.6z" fill="#ffb470"/><path d="M669.4 593.4v1.6h88.7v-1.6z" fill="#ffb46c"/><path d="M669.4 595v1.6h88.7v-1.6z" fill="#ffa454"/><path d="M669.4 596.6v3.2h88.7v-3.2z" fill="#ffa85c"/><path d="M669.4 599.8v1.6h88.7v-1.6z" fill="#ffb06c"/><path d="M669.4 601.4v1.6h88.7v-1.6z" fill="#ffb068"/><path d="M669.4 603v1.6h88.7v-1.6z" fill="#ffac64"/><path d="M669.4 604.6v1.6h88.7v-1.6z" fill="#ffac60"/><path d="M669.4 606.2v1.6h88.7v-1.6z" fill="#ffb470"/><path d="M669.4 607.8v4.8h88.7v-4.8z" fill="#ffac64"/><path d="M669.4 612.6v4.8h88.7v-4.8z" fill="#ffe8d0"/><path d="M669.4 617.4v1.6h88.7v-1.6z" fill="#ffe4cc"/><path d="M669.4 619v1.6h88.7v-1.6z" fill="#ffe0c4"/><path d="M669.4 620.6v3.2h88.7v-3.2z" fill="#ffecd8"/><path d="M669.4 623.8v1.6h88.7v-1.6z" fill="#ffe0c8"/><path d="M669.4 625.4v1.6h88.7v-1.6z" fill="#ffe4c8"/><path d="M669.4 627v1.6h88.7v-1.6z" fill="#ffe8d0"/><path d="M669.4 628.6v1.6h88.7v-1.6z" fill="#ffecd8"/><path d="M669.4 630.2v1.6h88.7v-1.6z" fill="#ffdcc0"/><path d="M669.4 631.8v1.6h88.7v-1.6z" fill="#ffe8d0"/><path d="M669.4 633.4v1.6h88.7v-1.6z" fill="#ffd8b8"/><path d="M669.4 635v1.6h88.7v-1.6z" fill="#ffdcbc"/><path d="M669.4 636.6v1.6h88.7v-1.6z" fill="#ffe0c4"/><path d="M669.4 638.2v1.6h88.7v-1.6z" fill="#fff4ec"/><path d="M669.4 639.8v1.6h88.7v-1.6z" fill="#fff4e8"/><path d="M669.4 641.4v1.6h88.7v-1.6z" fill="#fff8f4"/><path d="M669.4 643v1.6h88.7v-1.6z" fill="#ffffff"/><path d="M669.4 644.6v1.6h88.7v-1.6z" fill="#fff8f4"/><path d="M669.4 646.2v1.6h88.7v-1.6z" fill="#ffffff"/><path d="M669.4 647.8v1.6h88.7v-1.6z" fill="#fff4e8"/><path d="M669.4 649.4v1.6h88.7v-1.6z" fill="#fff0e4"/><path d="M669.4 651v1.6h88.7v-1.6z" fill="#ffb878"/><path d="M669.4 652.6v1.6h88.7v-1.6z" fill="#ffc898"/><path d="M669.4 654.2v1.6h88.7v-1.6z" fill="#ffac64"/><path d="M669.4 655.8v1.6h88.7v-1.6z" fill="#ffb46c"/><path d="M669.4 657.4v1.6h88.7v-1.6z" fill="#ffc48c"/><path d="M669.4 659v1.6h88.7v-1.6z" fill="#ffd4ac"/><path d="M669.4 660.6v1.6h88.7v-1.6z" fill="#ffcca0"/><path d="M669.4 662.2v1.6h88.7v-1.6z" fill="#ffc084"/><path d="M669.4 663.8v1.6h88.7v-1.6z" fill="#ffb878"/><path d="M669.4 665.4v1.6h88.7v-1.6z" fill="#ffcca0"/><path d="M669.4 667v1.6h88.7v-1.6z" fill="#ffd8b4"/><path d="M669.4 668.6v1.6h88.7v-1.6z" fill="#ffd0a8"/><path d="M669.4 670.2v1.6h88.7v-1.6z" fill="#ffc088"/><path d="M669.4 671.8v1.6h88.7v-1.6z" fill="#ffc894"/><path d="M669.4 673.4v1.6h88.7v-1.6z" fill="#ffcc9c"/><path d="M669.4 675v1.6h88.7v-1.6z" fill="#ffd0a4"/><path d="M669.4 676.6v3.2h88.7v-3.2z" fill="#ffc088"/><path d="M669.4 679.8v1.6h88.7v-1.6z" fill="#ffc494"/><path d="M669.4 681.4v3.2h88.7v-3.2z" fill="#ffc894"/><path d="M669.4 684.6v0.4h88.7v-0.4z" fill="#ffcc9c"/><path d="M757.8 59v1.6h88.6v-1.6z" fill="#ffe8d0"/><path d="M757.8 60.6v1.6h88.6v-1.6z" fill="#fff8f0"/><path d="M757.8 62.2v1.6h88.6v-1.6z" fill="#fff0e4"/><path d="M757.8 63.8v1.6h88.6v-1.6z" fill="#fff8f0"/><path d="M757.8 65.4v1.6h88.6v-1.6z" fill="#fff0e0"/><path d="M757.8 67v1.6h88.6v-1.6z" fill="#ffe0c4"/><path d="M757.8 68.6v1.6h88.6v-1.6z" fill="#ffe0c8"/><path d="M757.8 70.2v1.6h88.6v-1.6z" fill="#ffe4cc"/><path d="M757.8 71.8v1.6h88.6v-1.6z" fill="#ffe0c4"/><path d="M757.8 73.4v1.6h88.6v-1.6z" fill="#ffe0c8"/><path d="M757.8 75v1.6h88.6v-1.6z" fill="#ffe0c4"/><path d="M757.8 76.6v1.6h88.6v-1.6z" fill="#ffd8b4"/><path d="M757.8 78.2v1.6h88.6v-1.6z" fill="#ffd4ac"/><path d="M757.8 79.8v1.6h88.6v-1.6z" fill="#ffe4c8"/><path d="M757.8 81.4v1.6h88.6v-1.6z" fill="#ffe0c8"/><path d="M757.8 83v1.6h88.6v-1.6z" fill="#ffc898"/><path d="M757.8 84.6v1.6h88.6v-1.6z" fill="#ffc08c"/><path d="M757.8 86.2v1.6h88.6v-1.6z" fill="#ffcca0"/><path d="M757.8 87.8v1.6h88.6v-1.6z" fill="#ffb874"/><path d="M757.8 89.4v1.6h88.6v-1.6z" fill="#ffc088"/><path d="M757.8 91v1.6h88.6v-1.6z" fill="#ffc084"/><path d="M757.8 92.6v1.6h88.6v-1.6z" fill="#ffb878"/><path d="M757.8 94.2v1.6h88.6v-1.6z" fill="#ffc490"/><path d="M757.8 95.8v1.6h88.6v-1.6z" fill="#ffbc7c"/><path d="M757.8 97.4v1.6h88.6v-1.6z" fill="#ffb87c"/><path d="M757.8 99v1.6h88.6v-1.6z" fill="#ffb878"/><path d="M757.8 100.6v1.6h88.6v-1.6z" fill="#ffd0a4"/><path d="M757.8 102.2v1.6h88.6v-1.6z" fill="#ffc48c"/><path d="M757.8 103.8v3.2h88.6v-3.2z" fill="#ffcca0"/><path d="M757.8 107v1.6h88.6v-1.6z" fill="#ffc490"/><path d="M757.8 108.6v1.6h88.6v-1.6z" fill="#ffcc9c"/><path d="M757.8 110.2v1.6h88.6v-1.6z" fill="#ffc894"/><path d="M757.8 111.8v1.6h88.6v-1.6z" fill="#ffc084"/><path d="M757.8 113.4v1.6h88.6v-1.6z" fill="#ffc494"/><path d="M757.8 115v1.6h88.6v-1.6z" fill="#ffb87c"/><path d="M757.8 116.6v1.6h88.6v-1.6z" fill="#ffa454"/><path d="M757.8 118.2v1.6h88.6v-1.6z" fill="#ffac64"/><path d="M757.8 119.8v1.6h88.6v-1.6z" fill="#ffb068"/><path d="M757.8 121.4v1.6h88.6v-1.6z" fill="#ffb474"/><path d="M757.8 123v1.6h88.6v-1.6z" fill="#ffb878"/><path d="M757.8 124.6v1.6h88.6v-1.6z" fill="#ffac5c"/><path d="M757.8 126.2v1.6h88.6v-1.6z" fill="#ffb87c"/><path d="M757.8 127.8v1.6h88.6v-1.6z" fill="#ffb470"/><path d="M757.8 129.4v1.6h88.6v-1.6z" fill="#ffb46c"/><path d="M757.8 131v1.6h88.6v-1.6z" fill="#ffb878"/><path d="M757.8 132.6v3.2h88.6v-3.2z" fill="#ffb474"/><path d="M757.8 135.8v1.6h88.6v-1.6z" fill="#ffa450"/><path d="M757.8 137.4v1.6h88.6v-1.6z" fill="#ffb068"/><path d="M757.8 139v1.6h88.6v-1.6z" fill="#ffa85c"/><path d="M757.8 140.6v1.6h88.6v-1.6z" fill="#ffa858"/><path d="M757.8 142.2v1.6h88.6v-1.6z" fill="#ffac64"/><path d="M757.8 143.8v1.6h88.6v-1.6z" fill="#ffac60"/><path d="M757.8 145.4v3.2h88.6v-3.2z" fill="#ffb878"/><path d="M757.8 148.6v3.2h88.6v-3.2z" fill="#fff8f0"/><path d="M757.8 151.8v1.6h88.6v-1.6z" fill="#fffcff"/><path d="M757.8 153.4v1.6h88.6v-1.6z" fill="#fff8f0"/><path d="M757.8 155v1.6h88.6v-1.6z" fill="#fff8f4"/><path d="M757.8 156.6v3.2h88.6v-3.2z" fill="#fff8f0"/><path d="M757.8 159.8v1.6h88.6v-1.6z" fill="#f8f4fc"/><path d="M757.8 161.4v1.6h88.6v-1.6z" fill="#e8dcf0"/><path d="M757.8 163v1.6h88.6v-1.6z" fill="#ece0f4"/><path d="M757.8 164.6v1.6h88.6v-1.6z" fill="#f4f0f8"/><path d="M757.8 166.2v1.6h88.6v-1.6z" fill="#e8e0f4"/><path d="M757.8 167.8v1.6h88.6v-1.6z" fill="#f0e8f4"/><path d="M757.8 169.4v1.6h88.6v-1.6z" fill="#c0a4dc"/><path d="M757.8 171v1.6h88.6v-1.6z" fill="#b898d4"/><path d="M757.8 172.6v1.6h88.6v-1.6z" fill="#c0a4dc"/><path d="M757.8 174.2v1.6h88.6v-1.6z" fill="#ccb4e0"/><path d="M757.8 175.8v1.6h88.6v-1.6z" fill="#c0a4dc"/><path d="M757.8 177.4v1.6h88.6v-1.6z" fill="#b898d4"/><path d="M757.8 179v1.6h88.6v-1.6z" fill="#f0e8f8"/><path d="M757.8 180.6v1.6h88.6v-1.6z" fill="#f4f0f8"/><path d="M757.8 182.2v1.6h88.6v-1.6z" fill="#f8f4fc"/><path d="M757.8 183.8v3.2h88.6v-3.2z" fill="#f4f0f8"/><path d="M757.8 187v1.6h88.6v-1.6z" fill="#e8dcf0"/><path d="M757.8 188.6v1.6h88.6v-1.6z" fill="#f0e8f8"/><path d="M757.8 190.2v1.6h88.6v-1.6z" fill="#f4f0f8"/><path d="M757.8 191.8v1.6h88.6v-1.6z" fill="#fffffc"/><path d="M757.8 193.4v1.6h88.6v-1.6z" fill="#fff4e8"/><path d="M757.8 195v1.6h88.6v-1.6z" fill="#fff0e4"/><path d="M757.8 196.6v1.6h88.6v-1.6z" fill="#fcf8fc"/><path d="M757.8 198.2v1.6h88.6v-1.6z" fill="#fffcf8"/><path d="M757.8 199.8v1.6h88.6v-1.6z" fill="#fff8f0"/><path d="M757.8 201.4v1.6h88.6v-1.6z" fill="#ffffff"/><path d="M757.8 203v1.6h88.6v-1.6z" fill="#fffcfc"/><path d="M757.8 204.6v1.6h88.6v-1.6z" fill="#fff8f4"/><path d="M757.8 206.2v1.6h88.6v-1.6z" fill="#dcc8e8"/><path d="M757.8 207.8v1.6h88.6v-1.6z" fill="#f0ecf8"/><path d="M757.8 209.4v1.6h88.6v-1.6z" fill="#d8c4e8"/><path d="M757.8 211v1.6h88.6v-1.6z" fill="#dcccec"/><path d="M757.8 212.6v1.6h88.6v-1.6z" fill="#e8e0f4"/><path d="M757.8 214.2v1.6h88.6v-1.6z" fill="#e0d0ec"/><path d="M757.8 215.8v1.6h88.6v-1.6z" fill="#ffd4ac"/><path d="M757.8 217.4v1.6h88.6v-1.6z" fill="#ffe4cc"/><path d="M757.8 219v1.6h88.6v-1.6z" fill="#ffd0a8"/><path d="M757.8 220.6v1.6h88.6v-1.6z" fill="#ffe4c8"/><path d="M757.8 222.2v1.6h88.6v-1.6z" fill="#ffd8b4"/><path d="M757.8 223.8v1.6h88.6v-1.6z" fill="#ffd4b0"/><path d="M757.8 225.4v1.6h88.6v-1.6z" fill="#fff0e4"/><path d="M757.8 227v1.6h88.6v-1.6z" fill="#ffe8d0"/><path d="M757.8 228.6v1.6h88.6v-1.6z" fill="#ffecdc"/><path d="M757.8 230.2v1.6h88.6v-1.6z" fill="#ffe4c8"/><path d="M757.8 231.8v1.6h88.6v-1.6z" fill="#ffcca0"/><path d="M757.8 233.4v1.6h88.6v-1.6z" fill="#ffd4ac"/><path d="M757.8 235v1.6h88.6v-1.6z" fill="#ffc898"/><path d="M757.8 236.6v3.2h88.6v-3.2z" fill="#ffd8b8"/><path d="M757.8 239.8v1.6h88.6v-1.6z" fill="#ffe0c4"/><path d="M757.8 241.4v1.6h88.6v-1.6z" fill="#ffecd8"/><path d="M757.8 243v1.6h88.6v-1.6z" fill="#ffbc84"/><path d="M757.8 244.6v1.6h88.6v-1.6z" fill="#ffbc80"/><path d="M757.8 246.2v1.6h88.6v-1.6z" fill="#ffb878"/><path d="M757.8 247.8v1.6h88.6v-1.6z" fill="#ffb470"/><path d="M757.8 249.4v1.6h88.6v-1.6z" fill="#ffb878"/><path d="M757.8 251v1.6h88.6v-1.6z" fill="#ffbc80"/><path d="M757.8 252.6v1.6h88.6v-1.6z" fill="#ffb878"/><path d="M757.8 254.2v1.6h88.6v-1.6z" fill="#ffac5c"/><path d="M757.8 255.8v1.6h88.6v-1.6z" fill="#ffb46c"/><path d="M757.8 257.4v1.6h88.6v-1.6z" fill="#ffc490"/><path d="M757.8 259v1.6h88.6v-1.6z" fill="#ffd4b0"/><path d="M757.8 260.6v1.6h88.6v-1.6z" fill="#ffcca0"/><path d="M757.8 262.2v1.6h88.6v-1.6z" fill="#ffd4ac"/><path d="M757.8 263.8v1.6h88.6v-1.6z" fill="#ffd0a8"/><path d="M757.8 265.4v1.6h88.6v-1.6z" fill="#ffe4c8"/><path d="M757.8 267v1.6h88.6v-1.6z" fill="#ffd8b4"/><path d="M757.8 268.6v3.2h88.6v-3.2z" fill="#ffd8b8"/><path d="M757.8 271.8v1.6h88.6v-1.6z" fill="#ffe0c8"/><path d="M757.8 273.4v1.6h88.6v-1.6z" fill="#ffe4cc"/><path d="M757.8 275v1.6h88.6v-1.6z" fill="#ffdcbc"/><path d="M757.8 276.6v1.6h88.6v-1.6z" fill="#ffd8b0"/><path d="M757.8 278.2v1.6h88.6v-1.6z" fill="#ffd8b8"/><path d="M757.8 279.8v3.2h88.6v-3.2z" fill="#ffdcbc"/><path d="M757.8 283v1.6h88.6v-1.6z" fill="#ffecd8"/><path d="M757.8 284.6v1.6h88.6v-1.6z" fill="#b494d4"/><path d="M757.8 286.2v1.6h88.6v-1.6z" fill="#b08cd0"/><path d="M757.8 287.8v1.6h88.6v-1.6z" fill="#ac84d0"/><path d="M757.8 289.4v1.6h88.6v-1.6z" fill="#ac88d0"/><path d="M757.8 291v1.6h88.6v-1.6z" fill="#b898d4"/><path d="M757.8 292.6v1.6h88.6v-1.6z" fill="#b090d4"/><path d="M757.8 294.2v1.6h88.6v-1.6z" fill="#a47ccc"/><path d="M757.8 295.8v1.6h88.6v-1.6z" fill="#c0a0d8"/><path d="M757.8 297.4v1.6h88.6v-1.6z" fill="#ccb8e4"/><path d="M757.8 299v1.6h88.6v-1.6z" fill="#e8dcf0"/><path d="M757.8 300.6v1.6h88.6v-1.6z" fill="#e4d4f0"/><path d="M757.8 302.2v1.6h88.6v-1.6z" fill="#d4c4e8"/><path d="M757.8 303.8v1.6h88.6v-1.6z" fill="#e4d4f0"/><path d="M757.8 305.4v1.6h88.6v-1.6z" fill="#e0d0ec"/><path d="M757.8 307v1.6h88.6v-1.6z" fill="#d8c8e8"/><path d="M757.8 308.6v1.6h88.6v-1.6z" fill="#d0bce4"/><path d="M757.8 310.2v1.6h88.6v-1.6z" fill="#d4c0e4"/><path d="M757.8 311.8v1.6h88.6v-1.6z" fill="#d4c4e8"/><path d="M757.8 313.4v1.6h88.6v-1.6z" fill="#d4c0e8"/><path d="M757.8 315v1.6h88.6v-1.6z" fill="#e0d0ec"/><path d="M757.8 316.6v1.6h88.6v-1.6z" fill="#e8dcf0"/><path d="M757.8 318.2v1.6h88.6v-1.6z" fill="#d0b8e4"/><path d="M757.8 319.8v1.6h88.6v-1.6z" fill="#e0d0ec"/><path d="M757.8 321.4v1.6h88.6v-1.6z" fill="#c8ace0"/><path d="M757.8 323v1.6h88.6v-1.6z" fill="#d0bce4"/><path d="M757.8 324.6v1.6h88.6v-1.6z" fill="#c4a8dc"/><path d="M757.8 326.2v1.6h88.6v-1.6z" fill="#c0a4dc"/><path d="M757.8 327.8v1.6h88.6v-1.6z" fill="#ccb8e4"/><path d="M757.8 329.4v1.6h88.6v-1.6z" fill="#c8b0e0"/><path d="M757.8 331v1.6h88.6v-1.6z" fill="#d8c4e8"/><path d="M757.8 332.6v1.6h88.6v-1.6z" fill="#d4c0e8"/><path d="M757.8 334.2v1.6h88.6v-1.6z" fill="#d8c8e8"/><path d="M757.8 335.8v1.6h88.6v-1.6z" fill="#d0bce4"/><path d="M757.8 337.4v1.6h88.6v-1.6z" fill="#d8c8e8"/><path d="M757.8 339v1.6h88.6v-1.6z" fill="#d4c4e8"/><path d="M757.8 340.6v1.6h88.6v-1.6z" fill="#d0bce4"/><path d="M757.8 342.2v1.6h88.6v-1.6z" fill="#dcccec"/><path d="M757.8 343.8v1.6h88.6v-1.6z" fill="#b490d4"/><path d="M757.8 345.4v1.6h88.6v-1.6z" fill="#c4acdc"/><path d="M757.8 347v1.6h88.6v-1.6z" fill="#c4a8dc"/><path d="M757.8 348.6v1.6h88.6v-1.6z" fill="#c4acdc"/><path d="M757.8 350.2v1.6h88.6v-1.6z" fill="#c4a8dc"/><path d="M757.8 351.8v1.6h88.6v-1.6z" fill="#c8ace0"/><path d="M757.8 353.4v1.6h88.6v-1.6z" fill="#bca0d8"/><path d="M757.8 355v1.6h88.6v-1.6z" fill="#b898d4"/><path d="M757.8 356.6v1.6h88.6v-1.6z" fill="#c0a4dc"/><path d="M757.8 358.2v1.6h88.6v-1.6z" fill="#b494d4"/><path d="M757.8 359.8v1.6h88.6v-1.6z" fill="#b898d4"/><path d="M757.8 361.4v1.6h88.6v-1.6z" fill="#ece0f4"/><path d="M757.8 363v1.6h88.6v-1.6z" fill="#e4d8f0"/><path d="M757.8 364.6v1.6h88.6v-1.6z" fill="#f0ecf8"/><path d="M757.8 366.2v1.6h88.6v-1.6z" fill="#e0d0ec"/><path d="M757.8 367.8v1.6h88.6v-1.6z" fill="#f0ecf8"/><path d="M757.8 369.4v1.6h88.6v-1.6z" fill="#e0d0ec"/><path d="M757.8 371v1.6h88.6v-1.6z" fill="#e4dcf0"/><path d="M757.8 372.6v3.2h88.6v-3.2z" fill="#e4d4f0"/><path d="M757.8 375.8v3.2h88.6v-3.2z" fill="#e4d8f0"/><path d="M757.8 379v1.6h88.6v-1.6z" fill="#ffe8d0"/><path d="M757.8 380.6v1.6h88.6v-1.6z" fill="#ffe4cc"/><path d="M757.8 382.2v3.2h88.6v-3.2z" fill="#fffcf8"/><path d="M757.8 385.4v1.6h88.6v-1.6z" fill="#fff8f4"/><path d="M757.8 387v1.6h88.6v-1.6z" fill="#ffece0"/><path d="M757.8 388.6v1.6h88.6v-1.6z" fill="#ffe8d4"/><path d="M757.8 390.2v3.2h88.6v-3.2z" fill="#ffecd8"/><path d="M757.8 393.4v3.2h88.6v-3.2z" fill="#fcfcff"/><path d="M757.8 396.6v1.6h88.6v-1.6z" fill="#f8f4fc"/><path d="M757.8 398.2v1.6h88.6v-1.6z" fill="#f8f8fc"/><path d="M757.8 399.8v1.6h88.6v-1.6z" fill="#fffcf8"/><path d="M757.8 401.4v1.6h88.6v-1.6z" fill="#fcf8fc"/><path d="M757.8 403v1.6h88.6v-1.6z" fill="#a078c8"/><path d="M757.8 404.6v1.6h88.6v-1.6z" fill="#986cc4"/><path d="M757.8 406.2v1.6h88.6v-1.6z" fill="#a478c8"/><path d="M757.8 407.8v1.6h88.6v-1.6z" fill="#a47ccc"/><path d="M757.8 409.4v1.6h88.6v-1.6z" fill="#9c70c4"/><path d="M757.8 411v3.2h88.6v-3.2z" fill="#9464c0"/><path d="M757.8 414.2v1.6h88.6v-1.6z" fill="#8850b8"/><path d="M757.8 415.8v1.6h88.6v-1.6z" fill="#9868c4"/><path d="M757.8 417.4v1.6h88.6v-1.6z" fill="#9060c0"/><path d="M757.8 419v1.6h88.6v-1.6z" fill="#9868c4"/><path d="M757.8 420.6v1.6h88.6v-1.6z" fill="#b490d4"/><path d="M757.8 422.2v1.6h88.6v-1.6z" fill="#b494d4"/><path d="M757.8 423.8v1.6h88.6v-1.6z" fill="#c4a8dc"/><path d="M757.8 425.4v1.6h88.6v-1.6z" fill="#bc9cd8"/><path d="M757.8 427v1.6h88.6v-1.6z" fill="#b08cd0"/><path d="M757.8 428.6v3.2h88.6v-3.2z" fill="#b89cd8"/><path d="M757.8 431.8v1.6h88.6v-1.6z" fill="#b894d4"/><path d="M757.8 433.4v1.6h88.6v-1.6z" fill="#c0a4dc"/><path d="M757.8 435v1.6h88.6v-1.6z" fill="#b494d4"/><path d="M757.8 436.6v1.6h88.6v-1.6z" fill="#ac88d0"/><path d="M757.8 438.2v1.6h88.6v-1.6z" fill="#b08cd0"/><path d="M757.8 439.8v1.6h88.6v-1.6z" fill="#bc9cd8"/><path d="M757.8 441.4v1.6h88.6v-1.6z" fill="#b08cd0"/><path d="M757.8 443v1.6h88.6v-1.6z" fill="#b088d0"/><path d="M757.8 444.6v1.6h88.6v-1.6z" fill="#a478c8"/><path d="M757.8 446.2v1.6h88.6v-1.6z" fill="#b08cd0"/><path d="M757.8 447.8v1.6h88.6v-1.6z" fill="#ac84d0"/><path d="M757.8 449.4v1.6h88.6v-1.6z" fill="#a880cc"/><path d="M757.8 451v1.6h88.6v-1.6z" fill="#a884cc"/><path d="M757.8 452.6v1.6h88.6v-1.6z" fill="#ac88d0"/><path d="M757.8 454.2v1.6h88.6v-1.6z" fill="#b494d4"/><path d="M757.8 455.8v1.6h88.6v-1.6z" fill="#b08cd0"/><path d="M757.8 457.4v1.6h88.6v-1.6z" fill="#ac88d0"/><path d="M757.8 459v1.6h88.6v-1.6z" fill="#b08cd0"/><path d="M757.8 460.6v1.6h88.6v-1.6z" fill="#b494d4"/><path d="M757.8 462.2v1.6h88.6v-1.6z" fill="#b490d4"/><path d="M757.8 463.8v1.6h88.6v-1.6z" fill="#bc9cd8"/><path d="M757.8 465.4v1.6h88.6v-1.6z" fill="#a884cc"/><path d="M757.8 467v1.6h88.6v-1.6z" fill="#b494d4"/><path d="M757.8 468.6v1.6h88.6v-1.6z" fill="#b08cd0"/><path d="M757.8 470.2v1.6h88.6v-1.6z" fill="#ac84d0"/><path d="M757.8 471.8v1.6h88.6v-1.6z" fill="#b490d4"/><path d="M757.8 473.4v1.6h88.6v-1.6z" fill="#b494d4"/><path d="M757.8 475v1.6h88.6v-1.6z" fill="#b894d4"/><path d="M757.8 476.6v1.6h88.6v-1.6z" fill="#b090d4"/><path d="M757.8 478.2v1.6h88.6v-1.6z" fill="#a880cc"/><path d="M757.8 479.8v3.2h88.6v-3.2z" fill="#ac88d0"/><path d="M757.8 483v1.6h88.6v-1.6z" fill="#b898d4"/><path d="M757.8 484.6v3.2h88.6v-3.2z" fill="#ac88d0"/><path d="M757.8 487.8v1.6h88.6v-1.6z" fill="#b898d8"/><path d="M757.8 489.4v1.6h88.6v-1.6z" fill="#ac88d0"/><path d="M757.8 491v1.6h88.6v-1.6z" fill="#a880cc"/><path d="M757.8 492.6v1.6h88.6v-1.6z" fill="#ac84cc"/><path d="M757.8 494.2v1.6h88.6v-1.6z" fill="#ac88d0"/><path d="M757.8 495.8v1.6h88.6v-1.6z" fill="#bc9cd8"/><path d="M757.8 497.4v1.6h88.6v-1.6z" fill="#b090d4"/><path d="M757.8 499v1.6h88.6v-1.6z" fill="#b898d8"/><path d="M757.8 500.6v1.6h88.6v-1.6z" fill="#c0a8dc"/><path d="M757.8 502.2v1.6h88.6v-1.6z" fill="#b898d8"/><path d="M757.8 503.8v1.6h88.6v-1.6z" fill="#c4a8dc"/><path d="M757.8 505.4v1.6h88.6v-1.6z" fill="#d0bce4"/><path d="M757.8 507v1.6h88.6v-1.6z" fill="#ccb4e0"/><path d="M757.8 508.6v1.6h88.6v-1.6z" fill="#d4c4e8"/><path d="M757.8 510.2v1.6h88.6v-1.6z" fill="#c4acdc"/><path d="M757.8 511.8v1.6h88.6v-1.6z" fill="#c8ace0"/><path d="M757.8 513.4v1.6h88.6v-1.6z" fill="#c8b4e0"/><path d="M757.8 515v1.6h88.6v-1.6z" fill="#d4c4e8"/><path d="M757.8 516.6v1.6h88.6v-1.6z" fill="#d0b8e4"/><path d="M757.8 518.2v1.6h88.6v-1.6z" fill="#d4c0e4"/><path d="M757.8 519.8v1.6h88.6v-1.6z" fill="#ccb8e4"/><path d="M757.8 521.4v1.6h88.6v-1.6z" fill="#d0b8e4"/><path d="M757.8 523v3.2h88.6v-3.2z" fill="#c8b0e0"/><path d="M757.8 526.2v1.6h88.6v-1.6z" fill="#d0bce4"/><path d="M757.8 527.8v1.6h88.6v-1.6z" fill="#d4c0e4"/><path d="M757.8 529.4v1.6h88.6v-1.6z" fill="#c8b0e0"/><path d="M757.8 531v1.6h88.6v-1.6z" fill="#d8c4e8"/><path d="M757.8 532.6v1.6h88.6v-1.6z" fill="#e4d4f0"/><path d="M757.8 534.2v1.6h88.6v-1.6z" fill="#d8c8e8"/><path d="M757.8 535.8v1.6h88.6v-1.6z" fill="#ccb4e0"/><path d="M757.8 537.4v1.6h88.6v-1.6z" fill="#d4c0e8"/><path d="M757.8 539v1.6h88.6v-1.6z" fill="#d0b8e4"/><path d="M757.8 540.6v1.6h88.6v-1.6z" fill="#b08cd0"/><path d="M757.8 542.2v3.2h88.6v-3.2z" fill="#b898d4"/><path d="M757.8 545.4v1.6h88.6v-1.6z" fill="#ac84d0"/><path d="M757.8 547v1.6h88.6v-1.6z" fill="#b08cd0"/><path d="M757.8 548.6v1.6h88.6v-1.6z" fill="#ac88d0"/><path d="M757.8 550.2v1.6h88.6v-1.6z" fill="#b090d4"/><path d="M757.8 551.8v1.6h88.6v-1.6z" fill="#bca0d8"/><path d="M757.8 553.4v1.6h88.6v-1.6z" fill="#b08cd0"/><path d="M757.8 555v1.6h88.6v-1.6z" fill="#b494d4"/><path d="M757.8 556.6v1.6h88.6v-1.6z" fill="#b490d4"/><path d="M757.8 558.2v1.6h88.6v-1.6z" fill="#b090d4"/><path d="M757.8 559.8v1.6h88.6v-1.6z" fill="#a880cc"/><path d="M757.8 561.4v1.6h88.6v-1.6z" fill="#b490d4"/><path d="M757.8 563v1.6h88.6v-1.6z" fill="#a47ccc"/><path d="M757.8 564.6v1.6h88.6v-1.6z" fill="#b08cd0"/><path d="M757.8 566.2v1.6h88.6v-1.6z" fill="#ac88d0"/><path d="M757.8 567.8v6.4h88.6v-6.4z" fill="#b08cd0"/><path d="M757.8 574.2v1.6h88.6v-1.6z" fill="#bc9cd8"/><path d="M757.8 575.8v1.6h88.6v-1.6z" fill="#bca0d8"/><path d="M757.8 577.4v1.6h88.6v-1.6z" fill="#c0a8dc"/><path d="M757.8 579v1.6h88.6v-1.6z" fill="#bc9cd8"/><path d="M757.8 580.6v1.6h88.6v-1.6z" fill="#dcccec"/><path d="M757.8 582.2v1.6h88.6v-1.6z" fill="#d4c0e8"/><path d="M757.8 583.8v4.8h88.6v-4.8z" fill="#d0bce4"/><path d="M757.8 588.6v1.6h88.6v-1.6z" fill="#d4c4e8"/><path d="M757.8 590.2v1.6h88.6v-1.6z" fill="#ccb8e0"/><path d="M757.8 591.8v1.6h88.6v-1.6z" fill="#ccb4e0"/><path d="M757.8 593.4v1.6h88.6v-1.6z" fill="#d8c4e8"/><path d="M757.8 595v3.2h88.6v-3.2z" fill="#fffcfc"/><path d="M757.8 598.2v1.6h88.6v-1.6z" fill="#d4c0e8"/><path d="M757.8 599.8v3.2h88.6v-3.2z" fill="#ccb4e0"/><path d="M757.8 603v3.2h88.6v-3.2z" fill="#d0bce4"/><path d="M757.8 606.2v1.6h88.6v-1.6z" fill="#c8b0e0"/><path d="M757.8 607.8v1.6h88.6v-1.6z" fill="#d0bce4"/><path d="M757.8 609.4v1.6h88.6v-1.6z" fill="#c4a8dc"/><path d="M757.8 611v1.6h88.6v-1.6z" fill="#fffffc"/><path d="M757.8 612.6v1.6h88.6v-1.6z" fill="#f4f0f8"/><path d="M757.8 614.2v3.2h88.6v-3.2z" fill="#f8f4fc"/><path d="M757.8 617.4v1.6h88.6v-1.6z" fill="#f4ecf8"/><path d="M757.8 619v1.6h88.6v-1.6z" fill="#f4f0f8"/><path d="M757.8 620.6v1.6h88.6v-1.6z" fill="#d0bce4"/><path d="M757.8 622.2v1.6h88.6v-1.6z" fill="#d8c4e8"/><path d="M757.8 623.8v3.2h88.6v-3.2z" fill="#d8c8e8"/><path d="M757.8 627v1.6h88.6v-1.6z" fill="#dccce8"/><path d="M757.8 628.6v1.6h88.6v-1.6z" fill="#d4c0e8"/><path d="M757.8 630.2v1.6h88.6v-1.6z" fill="#d4c0e4"/><path d="M757.8 631.8v1.6h88.6v-1.6z" fill="#d8c4e8"/><path d="M757.8 633.4v1.6h88.6v-1.6z" fill="#e4d4f0"/><path d="M757.8 635v1.6h88.6v-1.6z" fill="#e0d0ec"/><path d="M757.8 636.6v1.6h88.6v-1.6z" fill="#d4c4e8"/><path d="M757.8 638.2v1.6h88.6v-1.6z" fill="#fff0e0"/><path d="M757.8 639.8v1.6h88.6v-1.6z" fill="#fff4ec"/><path d="M757.8 641.4v1.6h88.6v-1.6z" fill="#fff4e8"/><path d="M757.8 643v3.2h88.6v-3.2z" fill="#fff4ec"/><path d="M757.8 646.2v1.6h88.6v-1.6z" fill="#f4ecf8"/><path d="M757.8 647.8v1.6h88.6v-1.6z" fill="#fffffc"/><path d="M757.8 649.4v1.6h88.6v-1.6z" fill="#f8f4fc"/><path d="M757.8 651v1.6h88.6v-1.6z" fill="#fff4e8"/><path d="M757.8 652.6v1.6h88.6v-1.6z" fill="#fff8f4"/><path d="M757.8 654.2v1.6h88.6v-1.6z" fill="#fffcfc"/><path d="M757.8 655.8v1.6h88.6v-1.6z" fill="#fffcf8"/><path d="M757.8 657.4v1.6h88.6v-1.6z" fill="#f8f4f8"/><path d="M757.8 659v1.6h88.6v-1.6z" fill="#fff4ec"/><path d="M757.8 660.6v1.6h88.6v-1.6z" fill="#fff8f0"/><path d="M757.8 662.2v1.6h88.6v-1.6z" fill="#ffecdc"/><path d="M757.8 663.8v1.6h88.6v-1.6z" fill="#fff0e8"/><path d="M757.8 665.4v1.6h88.6v-1.6z" fill="#ece4f4"/><path d="M757.8 667v1.6h88.6v-1.6z" fill="#e8e0f0"/><path d="M757.8 668.6v1.6h88.6v-1.6z" fill="#f0e8f4"/><path d="M757.8 670.2v1.6h88.6v-1.6z" fill="#e8dcf0"/><path d="M757.8 671.8v1.6h88.6v-1.6z" fill="#f0e8f4"/><path d="M757.8 673.4v1.6h88.6v-1.6z" fill="#ece0f4"/><path d="M757.8 675v1.6h88.6v-1.6z" fill="#e8e0f4"/><path d="M757.8 676.6v1.6h88.6v-1.6z" fill="#ece4f4"/><path d="M757.8 678.2v1.6h88.6v-1.6z" fill="#f4f0f8"/><path d="M757.8 679.8v1.6h88.6v-1.6z" fill="#e8dcf0"/><path d="M757.8 681.4v1.6h88.6v-1.6z" fill="#f0e8f4"/><path d="M757.8 683v1.6h88.6v-1.6z" fill="#ece4f4"/><path d="M757.8 684.6v0.4h88.6v-0.4z" fill="#e4dcf0"/><path d="M846.1 59v1.6h88.6v-1.6z" fill="#ffac60"/><path d="M846.1 60.6v1.6h88.6v-1.6z" fill="#ffb068"/><path d="M846.1 62.2v1.6h88.6v-1.6z" fill="#ffa454"/><path d="M846.1 63.8v1.6h88.6v-1.6z" fill="#ffb474"/><path d="M846.1 65.4v1.6h88.6v-1.6z" fill="#ffa454"/><path d="M846.1 67v1.6h88.6v-1.6z" fill="#ffb878"/><path d="M846.1 68.6v3.2h88.6v-3.2z" fill="#ffac60"/><path d="M846.1 71.8v3.2h88.6v-3.2z" fill="#ffb06c"/><path d="M846.1 75v1.6h88.6v-1.6z" fill="#ffa85c"/><path d="M846.1 76.6v1.6h88.6v-1.6z" fill="#ffb470"/><path d="M846.1 78.2v1.6h88.6v-1.6z" fill="#ffb06c"/><path d="M846.1 79.8v1.6h88.6v-1.6z" fill="#ffb068"/><path d="M846.1 81.4v1.6h88.6v-1.6z" fill="#ffac60"/><path d="M846.1 83v1.6h88.6v-1.6z" fill="#ffb46c"/><path d="M846.1 84.6v1.6h88.6v-1.6z" fill="#ffb470"/><path d="M846.1 86.2v1.6h88.6v-1.6z" fill="#ffbc84"/><path d="M846.1 87.8v1.6h88.6v-1.6z" fill="#ffb878"/><path d="M846.1 89.4v1.6h88.6v-1.6z" fill="#ffc898"/><path d="M846.1 91v1.6h88.6v-1.6z" fill="#ffbc80"/><path d="M846.1 92.6v1.6h88.6v-1.6z" fill="#ffc088"/><path d="M846.1 94.2v1.6h88.6v-1.6z" fill="#ffbc7c"/><path d="M846.1 95.8v1.6h88.6v-1.6z" fill="#ffc088"/><path d="M846.1 97.4v1.6h88.6v-1.6z" fill="#ffb474"/><path d="M846.1 99v1.6h88.6v-1.6z" fill="#ffb87c"/><path d="M846.1 100.6v1.6h88.6v-1.6z" fill="#ffc48c"/><path d="M846.1 102.2v1.6h88.6v-1.6z" fill="#ffa858"/><path d="M846.1 103.8v1.6h88.6v-1.6z" fill="#ffb878"/><path d="M846.1 105.4v1.6h88.6v-1.6z" fill="#ffb470"/><path d="M846.1 107v1.6h88.6v-1.6z" fill="#ffbc80"/><path d="M846.1 108.6v1.6h88.6v-1.6z" fill="#ffc088"/><path d="M846.1 110.2v1.6h88.6v-1.6z" fill="#ffc48c"/><path d="M846.1 111.8v1.6h88.6v-1.6z" fill="#ffb878"/><path d="M846.1 113.4v1.6h88.6v-1.6z" fill="#ffb474"/><path d="M846.1 115v1.6h88.6v-1.6z" fill="#ffb470"/><path d="M846.1 116.6v1.6h88.6v-1.6z" fill="#ffdcc0"/><path d="M846.1 118.2v1.6h88.6v-1.6z" fill="#ffd0a8"/><path d="M846.1 119.8v1.6h88.6v-1.6z" fill="#ffe4c8"/><path d="M846.1 121.4v1.6h88.6v-1.6z" fill="#ffcca0"/><path d="M846.1 123v1.6h88.6v-1.6z" fill="#ffdcbc"/><path d="M846.1 124.6v1.6h88.6v-1.6z" fill="#ffd8b4"/><path d="M846.1 126.2v1.6h88.6v-1.6z" fill="#ffdcbc"/><path d="M846.1 127.8v1.6h88.6v-1.6z" fill="#ffdcb8"/><path d="M846.1 129.4v1.6h88.6v-1.6z" fill="#ffe0c0"/><path d="M846.1 131v1.6h88.6v-1.6z" fill="#ffcca0"/><path d="M846.1 132.6v1.6h88.6v-1.6z" fill="#ffdcb8"/><path d="M846.1 134.2v1.6h88.6v-1.6z" fill="#ffd0a8"/><path d="M846.1 135.8v1.6h88.6v-1.6z" fill="#ffe4cc"/><path d="M846.1 137.4v1.6h88.6v-1.6z" fill="#ffe4c8"/><path d="M846.1 139v1.6h88.6v-1.6z" fill="#ffe8d0"/><path d="M846.1 140.6v1.6h88.6v-1.6z" fill="#ffe8d4"/><path d="M846.1 142.2v1.6h88.6v-1.6z" fill="#ffecdc"/><path d="M846.1 143.8v1.6h88.6v-1.6z" fill="#ffe4cc"/><path d="M846.1 145.4v1.6h88.6v-1.6z" fill="#ffe0c8"/><path d="M846.1 147v1.6h88.6v-1.6z" fill="#ffece0"/><path d="M846.1 148.6v1.6h88.6v-1.6z" fill="#ff9430"/><path d="M846.1 150.2v1.6h88.6v-1.6z" fill="#ff9438"/><path d="M846.1 151.8v1.6h88.6v-1.6z" fill="#ff9028"/><path d="M846.1 153.4v1.6h88.6v-1.6z" fill="#ff9838"/><path d="M846.1 155v1.6h88.6v-1.6z" fill="#ff9030"/><path d="M846.1 156.6v1.6h88.6v-1.6z" fill="#ff9430"/><path d="M846.1 158.2v1.6h88.6v-1.6z" fill="#ff9434"/><path d="M846.1 159.8v1.6h88.6v-1.6z" fill="#ff9840"/><path d="M846.1 161.4v1.6h88.6v-1.6z" fill="#ff8c28"/><path d="M846.1 163v1.6h88.6v-1.6z" fill="#ff9430"/><path d="M846.1 164.6v1.6h88.6v-1.6z" fill="#ff902c"/><path d="M846.1 166.2v1.6h88.6v-1.6z" fill="#ff8c24"/><path d="M846.1 167.8v1.6h88.6v-1.6z" fill="#ff9430"/><path d="M846.1 169.4v1.6h88.6v-1.6z" fill="#ff9434"/><path d="M846.1 171v3.2h88.6v-3.2z" fill="#ff983c"/><path d="M846.1 174.2v1.6h88.6v-1.6z" fill="#ffa454"/><path d="M846.1 175.8v1.6h88.6v-1.6z" fill="#ffa04c"/><path d="M846.1 177.4v1.6h88.6v-1.6z" fill="#ff9c44"/><path d="M846.1 179v1.6h88.6v-1.6z" fill="#ffa04c"/><path d="M846.1 180.6v1.6h88.6v-1.6z" fill="#ff9840"/><path d="M846.1 182.2v1.6h88.6v-1.6z" fill="#ff9c44"/><path d="M846.1 183.8v1.6h88.6v-1.6z" fill="#ffa04c"/><path d="M846.1 185.4v1.6h88.6v-1.6z" fill="#ff9c48"/><path d="M846.1 187v1.6h88.6v-1.6z" fill="#ffa450"/><path d="M846.1 188.6v1.6h88.6v-1.6z" fill="#ff9c40"/><path d="M846.1 190.2v1.6h88.6v-1.6z" fill="#ffa450"/><path d="M846.1 191.8v1.6h88.6v-1.6z" fill="#ff9840"/><path d="M846.1 193.4v1.6h88.6v-1.6z" fill="#ff9434"/><path d="M846.1 195v1.6h88.6v-1.6z" fill="#ffa858"/><path d="M846.1 196.6v1.6h88.6v-1.6z" fill="#ff9438"/><path d="M846.1 198.2v1.6h88.6v-1.6z" fill="#ffa454"/><path d="M846.1 199.8v1.6h88.6v-1.6z" fill="#ff9c44"/><path d="M846.1 201.4v1.6h88.6v-1.6z" fill="#ff9434"/><path d="M846.1 203v1.6h88.6v-1.6z" fill="#ff983c"/><path d="M846.1 204.6v1.6h88.6v-1.6z" fill="#ff9c44"/><path d="M846.1 206.2v1.6h88.6v-1.6z" fill="#ffe0c8"/><path d="M846.1 207.8v1.6h88.6v-1.6z" fill="#ffe4cc"/><path d="M846.1 209.4v1.6h88.6v-1.6z" fill="#ffe0c8"/><path d="M846.1 211v1.6h88.6v-1.6z" fill="#ffecd8"/><path d="M846.1 212.6v1.6h88.6v-1.6z" fill="#ffecdc"/><path d="M846.1 214.2v1.6h88.6v-1.6z" fill="#fff8f0"/><path d="M846.1 215.8v1.6h88.6v-1.6z" fill="#ffd4ac"/><path d="M846.1 217.4v1.6h88.6v-1.6z" fill="#ffe8d4"/><path d="M846.1 219v1.6h88.6v-1.6z" fill="#ffd0a8"/><path d="M846.1 220.6v1.6h88.6v-1.6z" fill="#ffdcbc"/><path d="M846.1 222.2v1.6h88.6v-1.6z" fill="#ffc490"/><path d="M846.1 223.8v1.6h88.6v-1.6z" fill="#ffcca0"/><path d="M846.1 225.4v1.6h88.6v-1.6z" fill="#ffc898"/><path d="M846.1 227v3.2h88.6v-3.2z" fill="#ffc894"/><path d="M846.1 230.2v1.6h88.6v-1.6z" fill="#ffc898"/><path d="M846.1 231.8v1.6h88.6v-1.6z" fill="#ffd4b0"/><path d="M846.1 233.4v1.6h88.6v-1.6z" fill="#ffcca0"/><path d="M846.1 235v1.6h88.6v-1.6z" fill="#ffd0a4"/><path d="M846.1 236.6v1.6h88.6v-1.6z" fill="#ffd4ac"/><path d="M846.1 238.2v1.6h88.6v-1.6z" fill="#ffd4b0"/><path d="M846.1 239.8v1.6h88.6v-1.6z" fill="#ffdcb8"/><path d="M846.1 241.4v1.6h88.6v-1.6z" fill="#ffd4ac"/><path d="M846.1 243v1.6h88.6v-1.6z" fill="#9060c0"/><path d="M846.1 244.6v1.6h88.6v-1.6z" fill="#844cb8"/><path d="M846.1 246.2v1.6h88.6v-1.6z" fill="#8850b8"/><path d="M846.1 247.8v1.6h88.6v-1.6z" fill="#8450b8"/><path d="M846.1 249.4v1.6h88.6v-1.6z" fill="#8c58bc"/><path d="M846.1 251v1.6h88.6v-1.6z" fill="#8854bc"/><path d="M846.1 252.6v1.6h88.6v-1.6z" fill="#9c70c4"/><path d="M846.1 254.2v1.6h88.6v-1.6z" fill="#8c58bc"/><path d="M846.1 255.8v1.6h88.6v-1.6z" fill="#9c70c8"/><path d="M846.1 257.4v1.6h88.6v-1.6z" fill="#9464c0"/><path d="M846.1 259v1.6h88.6v-1.6z" fill="#9468c0"/><path d="M846.1 260.6v1.6h88.6v-1.6z" fill="#a074c8"/><path d="M846.1 262.2v1.6h88.6v-1.6z" fill="#8c58bc"/><path d="M846.1 263.8v1.6h88.6v-1.6z" fill="#8850b8"/><path d="M846.1 265.4v1.6h88.6v-1.6z" fill="#6c28a8"/><path d="M846.1 267v1.6h88.6v-1.6z" fill="#7438b0"/><path d="M846.1 268.6v1.6h88.6v-1.6z" fill="#7838b0"/><path d="M846.1 270.2v3.2h88.6v-3.2z" fill="#783cb0"/><path d="M846.1 273.4v3.2h88.6v-3.2z" fill="#7030ac"/><path d="M846.1 276.6v1.6h88.6v-1.6z" fill="#783cb0"/><path d="M846.1 278.2v1.6h88.6v-1.6z" fill="#7438b0"/><path d="M846.1 279.8v1.6h88.6v-1.6z" fill="#7838b0"/><path d="M846.1 281.4v1.6h88.6v-1.6z" fill="#7c40b4"/><path d="M846.1 283v1.6h88.6v-1.6z" fill="#783cb0"/><path d="M846.1 284.6v1.6h88.6v-1.6z" fill="#d0b8e4"/><path d="M846.1 286.2v1.6h88.6v-1.6z" fill="#c4a8dc"/><path d="M846.1 287.8v1.6h88.6v-1.6z" fill="#c8b0e0"/><path d="M846.1 289.4v1.6h88.6v-1.6z" fill="#b89cd8"/><path d="M846.1 291v1.6h88.6v-1.6z" fill="#d4c4e8"/><path d="M846.1 292.6v1.6h88.6v-1.6z" fill="#c4a8dc"/><path d="M846.1 294.2v1.6h88.6v-1.6z" fill="#d8c4e8"/><path d="M846.1 295.8v1.6h88.6v-1.6z" fill="#c8b0e0"/><path d="M846.1 297.4v1.6h88.6v-1.6z" fill="#a078c8"/><path d="M846.1 299v1.6h88.6v-1.6z" fill="#ac84d0"/><path d="M846.1 300.6v3.2h88.6v-3.2z" fill="#a47ccc"/><path d="M846.1 303.8v1.6h88.6v-1.6z" fill="#a078c8"/><path d="M846.1 305.4v1.6h88.6v-1.6z" fill="#a074c8"/><path d="M846.1 307v1.6h88.6v-1.6z" fill="#9c6cc4"/><path d="M846.1 308.6v1.6h88.6v-1.6z" fill="#986cc4"/><path d="M846.1 310.2v1.6h88.6v-1.6z" fill="#9464c0"/><path d="M846.1 311.8v1.6h88.6v-1.6z" fill="#a074c8"/><path d="M846.1 313.4v1.6h88.6v-1.6z" fill="#9c70c8"/><path d="M846.1 315v1.6h88.6v-1.6z" fill="#ac88d0"/><path d="M846.1 316.6v1.6h88.6v-1.6z" fill="#b090d4"/><path d="M846.1 318.2v1.6h88.6v-1.6z" fill="#b08cd0"/><path d="M846.1 319.8v1.6h88.6v-1.6z" fill="#986cc4"/><path d="M846.1 321.4v1.6h88.6v-1.6z" fill="#a074c8"/><path d="M846.1 323v1.6h88.6v-1.6z" fill="#a478c8"/><path d="M846.1 324.6v1.6h88.6v-1.6z" fill="#9c70c4"/><path d="M846.1 326.2v1.6h88.6v-1.6z" fill="#b490d4"/><path d="M846.1 327.8v1.6h88.6v-1.6z" fill="#b08cd0"/><path d="M846.1 329.4v1.6h88.6v-1.6z" fill="#ac88d0"/><path d="M846.1 331v1.6h88.6v-1.6z" fill="#b89cd8"/><path d="M846.1 332.6v1.6h88.6v-1.6z" fill="#b08cd0"/><path d="M846.1 334.2v1.6h88.6v-1.6z" fill="#ac84d0"/><path d="M846.1 335.8v1.6h88.6v-1.6z" fill="#b08cd0"/><path d="M846.1 337.4v1.6h88.6v-1.6z" fill="#ac84d0"/><path d="M846.1 339v1.6h88.6v-1.6z" fill="#b090d4"/><path d="M846.1 340.6v1.6h88.6v-1.6z" fill="#a880cc"/><path d="M846.1 342.2v1.6h88.6v-1.6z" fill="#b08cd0"/><path d="M846.1 343.8v1.6h88.6v-1.6z" fill="#a880cc"/><path d="M846.1 345.4v1.6h88.6v-1.6z" fill="#a47ccc"/><path d="M846.1 347v1.6h88.6v-1.6z" fill="#a478c8"/><path d="M846.1 348.6v1.6h88.6v-1.6z" fill="#a47ccc"/><path d="M846.1 350.2v1.6h88.6v-1.6z" fill="#9c70c4"/><path d="M846.1 351.8v1.6h88.6v-1.6z" fill="#ac88d0"/><path d="M846.1 353.4v1.6h88.6v-1.6z" fill="#a880cc"/><path d="M846.1 355v1.6h88.6v-1.6z" fill="#b898d4"/><path d="M846.1 356.6v1.6h88.6v-1.6z" fill="#ac88d0"/><path d="M846.1 358.2v1.6h88.6v-1.6z" fill="#b494d4"/><path d="M846.1 359.8v1.6h88.6v-1.6z" fill="#b08cd0"/><path d="M846.1 361.4v1.6h88.6v-1.6z" fill="#c4a8dc"/><path d="M846.1 363v1.6h88.6v-1.6z" fill="#b898d4"/><path d="M846.1 364.6v1.6h88.6v-1.6z" fill="#b89cd8"/><path d="M846.1 366.2v1.6h88.6v-1.6z" fill="#b494d4"/><path d="M846.1 367.8v1.6h88.6v-1.6z" fill="#ac84d0"/><path d="M846.1 369.4v3.2h88.6v-3.2z" fill="#c0a4dc"/><path d="M846.1 372.6v1.6h88.6v-1.6z" fill="#ccb4e0"/><path d="M846.1 374.2v1.6h88.6v-1.6z" fill="#d0b8e4"/><path d="M846.1 375.8v1.6h88.6v-1.6z" fill="#c0a4dc"/><path d="M846.1 377.4v1.6h88.6v-1.6z" fill="#c8b0e0"/><path d="M846.1 379v1.6h88.6v-1.6z" fill="#c4acdc"/><path d="M846.1 380.6v1.6h88.6v-1.6z" fill="#c4a8dc"/><path d="M846.1 382.2v1.6h88.6v-1.6z" fill="#c0a4d8"/><path d="M846.1 383.8v1.6h88.6v-1.6z" fill="#c4acdc"/><path d="M846.1 385.4v1.6h88.6v-1.6z" fill="#d4c0e4"/><path d="M846.1 387v1.6h88.6v-1.6z" fill="#a47ccc"/><path d="M846.1 388.6v1.6h88.6v-1.6z" fill="#a078c8"/><path d="M846.1 390.2v1.6h88.6v-1.6z" fill="#905cc0"/><path d="M846.1 391.8v1.6h88.6v-1.6z" fill="#8854bc"/><path d="M846.1 393.4v1.6h88.6v-1.6z" fill="#a078c8"/><path d="M846.1 395v1.6h88.6v-1.6z" fill="#9c70c4"/><path d="M846.1 396.6v1.6h88.6v-1.6z" fill="#a074c8"/><path d="M846.1 398.2v1.6h88.6v-1.6z" fill="#9c70c8"/><path d="M846.1 399.8v1.6h88.6v-1.6z" fill="#986cc4"/><path d="M846.1 401.4v1.6h88.6v-1.6z" fill="#9c70c8"/><path d="M846.1 403v1.6h88.6v-1.6z" fill="#c4a8dc"/><path d="M846.1 404.6v1.6h88.6v-1.6z" fill="#d0bce4"/><path d="M846.1 406.2v1.6h88.6v-1.6z" fill="#ccb4e0"/><path d="M846.1 407.8v1.6h88.6v-1.6z" fill="#bca0d8"/><path d="M846.1 409.4v1.6h88.6v-1.6z" fill="#c0a4dc"/><path d="M846.1 411v1.6h88.6v-1.6z" fill="#ccb4e0"/><path d="M846.1 412.6v1.6h88.6v-1.6z" fill="#c8b0e0"/><path d="M846.1 414.2v1.6h88.6v-1.6z" fill="#c4a8dc"/><path d="M846.1 415.8v1.6h88.6v-1.6z" fill="#c0a4dc"/><path d="M846.1 417.4v1.6h88.6v-1.6z" fill="#b490d4"/><path d="M846.1 419v1.6h88.6v-1.6z" fill="#b898d8"/><path d="M846.1 420.6v1.6h88.6v-1.6z" fill="#b090d4"/><path d="M846.1 422.2v1.6h88.6v-1.6z" fill="#a47ccc"/><path d="M846.1 423.8v6.4h88.6v-6.4z" fill="#b898d4"/><path d="M846.1 430.2v1.6h88.6v-1.6z" fill="#c0a4d8"/><path d="M846.1 431.8v1.6h88.6v-1.6z" fill="#b494d4"/><path d="M846.1 433.4v1.6h88.6v-1.6z" fill="#b08cd0"/><path d="M846.1 435v1.6h88.6v-1.6z" fill="#ac88d0"/><path d="M846.1 436.6v1.6h88.6v-1.6z" fill="#ac84d0"/><path d="M846.1 438.2v1.6h88.6v-1.6z" fill="#b89cd8"/><path d="M846.1 439.8v1.6h88.6v-1.6z" fill="#c0a0d8"/><path d="M846.1 441.4v1.6h88.6v-1.6z" fill="#c4a8dc"/><path d="M846.1 443v1.6h88.6v-1.6z" fill="#d0b8e4"/><path d="M846.1 444.6v1.6h88.6v-1.6z" fill="#c4ace0"/><path d="M846.1 446.2v3.2h88.6v-3.2z" fill="#c4acdc"/><path d="M846.1 449.4v1.6h88.6v-1.6z" fill="#c0a8dc"/><path d="M846.1 451v1.6h88.6v-1.6z" fill="#a478c8"/><path d="M846.1 452.6v1.6h88.6v-1.6z" fill="#b490d4"/><path d="M846.1 454.2v1.6h88.6v-1.6z" fill="#b08cd0"/><path d="M846.1 455.8v1.6h88.6v-1.6z" fill="#a880cc"/><path d="M846.1 457.4v1.6h88.6v-1.6z" fill="#bc9cd8"/><path d="M846.1 459v1.6h88.6v-1.6z" fill="#c0a4dc"/><path d="M846.1 460.6v1.6h88.6v-1.6z" fill="#b494d4"/><path d="M846.1 462.2v1.6h88.6v-1.6z" fill="#c4a8dc"/><path d="M846.1 463.8v1.6h88.6v-1.6z" fill="#ac84d0"/><path d="M846.1 465.4v1.6h88.6v-1.6z" fill="#b490d4"/><path d="M846.1 467v1.6h88.6v-1.6z" fill="#bca0d8"/><path d="M846.1 468.6v1.6h88.6v-1.6z" fill="#bc9cd8"/><path d="M846.1 470.2v1.6h88.6v-1.6z" fill="#b494d4"/><path d="M846.1 471.8v1.6h88.6v-1.6z" fill="#b898d8"/><path d="M846.1 473.4v1.6h88.6v-1.6z" fill="#ac88d0"/><path d="M846.1 475v4.8h88.6v-4.8z" fill="#b494d4"/><path d="M846.1 479.8v1.6h88.6v-1.6z" fill="#b08cd0"/><path d="M846.1 481.4v1.6h88.6v-1.6z" fill="#b090d4"/><path d="M846.1 483v1.6h88.6v-1.6z" fill="#b08cd0"/><path d="M846.1 484.6v1.6h88.6v-1.6z" fill="#b490d4"/><path d="M846.1 486.2v1.6h88.6v-1.6z" fill="#a47ccc"/><path d="M846.1 487.8v1.6h88.6v-1.6z" fill="#b494d4"/><path d="M846.1 489.4v1.6h88.6v-1.6z" fill="#9c70c8"/><path d="M846.1 491v1.6h88.6v-1.6z" fill="#a074c8"/><path d="M846.1 492.6v1.6h88.6v-1.6z" fill="#a078c8"/><path d="M846.1 494.2v1.6h88.6v-1.6z" fill="#a478c8"/><path d="M846.1 495.8v1.6h88.6v-1.6z" fill="#9c6cc4"/><path d="M846.1 497.4v1.6h88.6v-1.6z" fill="#a074c8"/><path d="M846.1 499v1.6h88.6v-1.6z" fill="#a47ccc"/><path d="M846.1 500.6v1.6h88.6v-1.6z" fill="#a078c8"/><path d="M846.1 502.2v3.2h88.6v-3.2z" fill="#a47ccc"/><path d="M846.1 505.4v1.6h88.6v-1.6z" fill="#905cbc"/><path d="M846.1 507v1.6h88.6v-1.6z" fill="#8c58bc"/><path d="M846.1 508.6v1.6h88.6v-1.6z" fill="#905cc0"/><path d="M846.1 510.2v1.6h88.6v-1.6z" fill="#9464c0"/><path d="M846.1 511.8v1.6h88.6v-1.6z" fill="#8c58bc"/><path d="M846.1 513.4v1.6h88.6v-1.6z" fill="#9868c4"/><path d="M846.1 515v1.6h88.6v-1.6z" fill="#8c58bc"/><path d="M846.1 516.6v3.2h88.6v-3.2z" fill="#9060c0"/><path d="M846.1 519.8v1.6h88.6v-1.6z" fill="#905cbc"/><path d="M846.1 521.4v1.6h88.6v-1.6z" fill="#8450b8"/><path d="M846.1 523v3.2h88.6v-3.2z" fill="#8854bc"/><path d="M846.1 526.2v1.6h88.6v-1.6z" fill="#9464c0"/><path d="M846.1 527.8v1.6h88.6v-1.6z" fill="#905cc0"/><path d="M846.1 529.4v1.6h88.6v-1.6z" fill="#844cb8"/><path d="M846.1 531v1.6h88.6v-1.6z" fill="#905cc0"/><path d="M846.1 532.6v1.6h88.6v-1.6z" fill="#9060c0"/><path d="M846.1 534.2v1.6h88.6v-1.6z" fill="#8854bc"/><path d="M846.1 535.8v1.6h88.6v-1.6z" fill="#8c58bc"/><path d="M846.1 537.4v1.6h88.6v-1.6z" fill="#905cc0"/><path d="M846.1 539v1.6h88.6v-1.6z" fill="#8c54bc"/><path d="M846.1 540.6v1.6h88.6v-1.6z" fill="#a074c8"/><path d="M846.1 542.2v1.6h88.6v-1.6z" fill="#a880cc"/><path d="M846.1 543.8v1.6h88.6v-1.6z" fill="#a478c8"/><path d="M846.1 545.4v3.2h88.6v-3.2z" fill="#a47ccc"/><path d="M846.1 548.6v1.6h88.6v-1.6z" fill="#ac88d0"/><path d="M846.1 550.2v1.6h88.6v-1.6z" fill="#a078c8"/><path d="M846.1 551.8v1.6h88.6v-1.6z" fill="#a074c8"/><path d="M846.1 553.4v1.6h88.6v-1.6z" fill="#986cc4"/><path d="M846.1 555v1.6h88.6v-1.6z" fill="#a47ccc"/><path d="M846.1 556.6v1.6h88.6v-1.6z" fill="#9c70c4"/><path d="M846.1 558.2v1.6h88.6v-1.6z" fill="#9c6cc4"/><path d="M846.1 559.8v1.6h88.6v-1.6z" fill="#a47ccc"/><path d="M846.1 561.4v1.6h88.6v-1.6z" fill="#a880cc"/><path d="M846.1 563v1.6h88.6v-1.6z" fill="#986cc4"/><path d="M846.1 564.6v1.6h88.6v-1.6z" fill="#a074c8"/><path d="M846.1 566.2v1.6h88.6v-1.6z" fill="#a884cc"/><path d="M846.1 567.8v1.6h88.6v-1.6z" fill="#9c70c8"/><path d="M846.1 569.4v1.6h88.6v-1.6z" fill="#ac84d0"/><path d="M846.1 571v1.6h88.6v-1.6z" fill="#a074c8"/><path d="M846.1 572.6v1.6h88.6v-1.6z" fill="#ac88d0"/><path d="M846.1 574.2v1.6h88.6v-1.6z" fill="#986cc4"/><path d="M846.1 575.8v1.6h88.6v-1.6z" fill="#9060c0"/><path d="M846.1 577.4v1.6h88.6v-1.6z" fill="#9464c0"/><path d="M846.1 579v1.6h88.6v-1.6z" fill="#ac88d0"/><path d="M846.1 580.6v1.6h88.6v-1.6z" fill="#9464c0"/><path d="M846.1 582.2v3.2h88.6v-3.2z" fill="#9468c4"/><path d="M846.1 585.4v1.6h88.6v-1.6z" fill="#9464c0"/><path d="M846.1 587v3.2h88.6v-3.2z" fill="#986cc4"/><path d="M846.1 590.2v3.2h88.6v-3.2z" fill="#9464c0"/><path d="M846.1 593.4v6.4h88.6v-6.4z" fill="#a074c8"/><path d="M846.1 599.8v1.6h88.6v-1.6z" fill="#9464c0"/><path d="M846.1 601.4v1.6h88.6v-1.6z" fill="#986cc4"/><path d="M846.1 603v1.6h88.6v-1.6z" fill="#9c6cc4"/><path d="M846.1 604.6v1.6h88.6v-1.6z" fill="#905cc0"/><path d="M846.1 606.2v1.6h88.6v-1.6z" fill="#9c70c8"/><path d="M846.1 607.8v1.6h88.6v-1.6z" fill="#8c58bc"/><path d="M846.1 609.4v1.6h88.6v-1.6z" fill="#9060c0"/><path d="M846.1 611v1.6h88.6v-1.6z" fill="#9464c0"/><path d="M846.1 612.6v3.2h88.6v-3.2z" fill="#8048b4"/><path d="M846.1 615.8v1.6h88.6v-1.6z" fill="#844cb8"/><path d="M846.1 617.4v1.6h88.6v-1.6z" fill="#8850b8"/><path d="M846.1 619v3.2h88.6v-3.2z" fill="#8044b4"/><path d="M846.1 622.2v1.6h88.6v-1.6z" fill="#783cb0"/><path d="M846.1 623.8v1.6h88.6v-1.6z" fill="#7840b4"/><path d="M846.1 625.4v3.2h88.6v-3.2z" fill="#844cb8"/><path d="M846.1 628.6v1.6h88.6v-1.6z" fill="#8c58bc"/><path d="M846.1 630.2v1.6h88.6v-1.6z" fill="#8850b8"/><path d="M846.1 631.8v1.6h88.6v-1.6z" fill="#7c44b4"/><path d="M846.1 633.4v1.6h88.6v-1.6z" fill="#8850b8"/><path d="M846.1 635v1.6h88.6v-1.6z" fill="#7c44b4"/><path d="M846.1 636.6v1.6h88.6v-1.6z" fill="#8044b4"/><path d="M846.1 638.2v4.8h88.6v-4.8z" fill="#7c40b4"/><path d="M846.1 643v1.6h88.6v-1.6z" fill="#783cb0"/><path d="M846.1 644.6v3.2h88.6v-3.2z" fill="#7030ac"/><path d="M846.1 647.8v3.2h88.6v-3.2z" fill="#7438b0"/><path d="M846.1 651v1.6h88.6v-1.6z" fill="#783cb0"/><path d="M846.1 652.6v1.6h88.6v-1.6z" fill="#6c2cac"/><path d="M846.1 654.2v1.6h88.6v-1.6z" fill="#7034ac"/><path d="M846.1 655.8v1.6h88.6v-1.6z" fill="#7838b0"/><path d="M846.1 657.4v1.6h88.6v-1.6z" fill="#7030ac"/><path d="M846.1 659v1.6h88.6v-1.6z" fill="#7434ac"/><path d="M846.1 660.6v1.6h88.6v-1.6z" fill="#7438b0"/><path d="M846.1 662.2v1.6h88.6v-1.6z" fill="#783cb0"/><path d="M846.1 663.8v3.2h88.6v-3.2z" fill="#7438b0"/><path d="M846.1 667v1.6h88.6v-1.6z" fill="#7434b0"/><path d="M846.1 668.6v1.6h88.6v-1.6z" fill="#8854bc"/><path d="M846.1 670.2v1.6h88.6v-1.6z" fill="#8850b8"/><path d="M846.1 671.8v1.6h88.6v-1.6z" fill="#8854bc"/><path d="M846.1 673.4v1.6h88.6v-1.6z" fill="#844cb8"/><path d="M846.1 675v1.6h88.6v-1.6z" fill="#8450b8"/><path d="M846.1 676.6v1.6h88.6v-1.6z" fill="#8048b8"/><path d="M846.1 678.2v1.6h88.6v-1.6z" fill="#8048b4"/><path d="M846.1 679.8v4.8h88.6v-4.8z" fill="#8048b8"/><path d="M846.1 684.6v0.4h88.6v-0.4z" fill="#844cb8"/><path d="M581.2 59L534.3 59L543.5 61.2L543.5 59L546.3 62L544.9 62L546.8 65.1L548.9 65.1L551.2 68.1L550 68.1L551.2 71.1L550 71.1L551.5 74.1L551.5 74.1L553.6 77.2L551.2 77.2L552.6 80.2L549 80.2L551.6 84.2L551.8 84.2L554.4 88.1L554.1 88.1L556.3 92.1L552.2 92.1L554.9 95.4L554.2 95.4L555.6 98.6L557.8 98.6L560.6 101.9L554.7 101.9L556.8 104.9L558.5 104.9L559.9 107.9L561.1 107.9L563.5 110.9L562.9 110.9L565.7 113.9L557.9 113.9L559.2 114.5L559.7 114.5L560.8 115L561.6 115L534.7 115L543.4 117.2L543.4 115L546 118.2L546.2 118.2L547.8 121.4L547.5 121.4L550 124.5L547.6 124.5L550.6 127.7L546.5 127.7L549.2 131.9L549.3 131.9L551.8 136.1L548.5 136.1L549.6 140L550.6 140L552 144L555.3 144L556.7 148L561.4 148L537.3 148L544.7 150.2L544.7 148L547.3 151.2L548 151.2L550.5 154.5L553 154.5L555.7 157.7L553.6 157.7L556.5 161L553.6 161L555.8 164.1L559.3 164.1L561 167.2L562.2 167.2L564.3 170.2L560 170.2L561.3 171.1L562 171.1L563.3 172L563.7 172L538.8 172L545 174.2L545 172L546.8 175.1L547 175.1L549.2 178.2L550.1 178.2L552 181.3L550.1 181.3L551.3 184.5L552.9 184.5L554 187.6L553 187.6L555.6 190.7L553.2 190.7L555.6 193.8L551.2 193.8L553.8 197.5L553.6 197.5L555.5 201.3L555.9 201.3L558.6 205L560 205L533.4 205L542.8 207.2L542.8 205L544.8 208.1L546.7 208.1L548.7 211.2L547.2 211.2L549 214.3L548.5 214.3L550.2 217.4L552.7 217.4L555.7 220.5L553.4 220.5L555.4 223.6L554.3 223.6L555.5 226.7L552.4 226.7L555.1 230.6L556.3 230.6L558.9 234.5L560.5 234.5L562.9 238.5L557.6 238.5L559.3 241L562.5 241L564.1 243.5L563 243.5L536.9 243.5L544.1 245.7L544.1 243.5L546.2 246.5L545.6 246.5L547.7 249.6L547.8 249.6L550.2 252.6L550 252.6L552.6 255.6L552 255.6L554.6 258.7L552.6 258.7L554.9 261.7L555.3 261.7L557.9 264.7L551.4 264.7L554.2 268L555.5 268L558.5 271.2L558.4 271.2L560.4 274.4L559.1 274.4L560.4 277.6L555.9 277.6L557.9 281.1L561.1 281.1L563.5 284.5L563.2 284.5L533.4 284.5L541.7 286.7L541.7 284.5L543.9 288L545.7 288L547.9 291.4L547.2 291.4L548.2 294.9L547.1 294.9L549 298.4L550.3 298.4L551.7 301.8L547.4 301.8L548.5 305.3L550.6 305.3L552.1 308.9L551.1 308.9L552.4 312.4L553.7 312.4L555.1 315.9L555.1 315.9L556.2 319.4L553.2 319.4L555.4 322.9L557 322.9L558.4 326.5L559.9 326.5L560.9 330L562.1 330L535.7 330L542.1 332.2L542.1 330L543.2 333.3L544.9 333.3L546.1 336.5L545.6 336.5L547.3 339.8L546.6 339.8L549.6 343.1L548.3 343.1L550.1 346.4L549.2 346.4L551.5 349.6L545.3 349.6L547.5 352.9L547.9 352.9L550.9 356.2L550.1 356.2L552.4 359.5L549.3 359.5L552.1 362.8L547.4 362.8L549.5 366.8L550.7 366.8L552 370.8L548.7 370.8L550.4 374.2L551.2 374.2L552.7 377.5L552.1 377.5L555 380.9L553.6 380.9L556.6 384.3L556.5 384.3L558.7 387.6L551.3 387.6L553.3 391.5L554.5 391.5L556.2 395.4L558.2 395.4L560.2 399.3L553.2 399.3L554.5 401.1L556.7 401.1L558.6 403L560.7 403L538.1 403L544.1 405.2L544.1 403L547 406.1L547.7 406.1L549.2 409.2L547.5 409.2L548.8 412.3L550.9 412.3L552.5 415.4L551 415.4L553 418.5L548.3 418.5L550.8 421.9L550.2 421.9L552.7 425.3L552.3 425.3L554.3 428.7L553.9 428.7L555.5 432.1L556 432.1L557.9 435.5L552.9 435.5L555.1 438.7L554.8 438.7L556.3 442L557.7 442L560.6 445.3L560.8 445.3L562.9 448.5L556.5 448.5L558.3 452.6L561 452.6L563.4 456.7L558.7 456.7L561.5 458.4L561.6 458.4L563.4 460L564 460L532.5 460L541.8 462.2L541.8 460L544.2 464.5L545.9 464.5L547.5 468.9L543.9 468.9L545.2 472.1L546.7 472.1L548.8 475.2L548.1 475.2L549.8 478.4L548.5 478.4L550.7 481.5L551.8 481.5L553 484.7L551.5 484.7L554.1 487.9L548.4 487.9L549.4 491.3L552 491.3L555 494.7L554.3 494.7L556.7 498.1L552.9 498.1L555.6 501.6L554.8 501.6L557.1 505L563 505L536.7 505L543.8 507.2L543.8 505L546.1 508.5L546 508.5L547.3 512L547.6 512L548.7 515.4L547 515.4L548.7 518.9L547.8 518.9L548.9 522.4L550.2 522.4L552.7 525.9L547.5 525.9L549.4 529.2L549.4 529.2L551.6 532.6L550.8 532.6L553.7 536L551.4 536L552.5 539.4L553.3 539.4L554.6 542.8L554 542.8L556 546.2L551.1 546.2L553.4 549.8L553.5 549.8L555.6 553.4L555.1 553.4L557.6 557L560.8 557L534.1 557L541.5 559.2L541.5 557L544 560.1L544.6 560.1L545.8 563.1L545.8 563.1L547 566.2L545.3 566.2L547.5 569.2L546.8 569.2L549.6 572.3L548.7 572.3L550.3 575.3L546.4 575.3L548.9 578.5L547.7 578.5L549 581.7L551.5 581.7L553.8 584.9L550.4 584.9L551.6 588.1L553.8 588.1L556.1 591.3L554.4 591.3L555.7 594.5L561.5 595L535.1 595L542.4 597.2L542.4 595L544.2 598.3L544 598.3L546.7 601.6L546.8 601.6L549.4 605L547.4 605L550.1 608.3L548.9 608.3L551 611.6L546.1 611.6L547.9 614.8L547.8 614.8L548.9 618L549.5 618L550.6 621.2L553 621.2L554.9 624.4L554 624.4L555 627.6L549.7 627.6L552 630.7L552.7 630.7L554.6 633.8L553.3 633.8L554.6 636.9L555.1 636.9L556.9 640L560.6 640L537.5 640L544.5 642.2L544.5 640L546.1 644L546.7 644L548.7 647.9L547.5 647.9L550.4 651.9L547 651.9L549.4 655.2L550.7 655.2L552.6 658.5L553.1 658.5L554.4 661.8L553.9 661.8L555.5 665L549.7 665L551.1 668.5L551.7 668.5L552.8 672L553.2 672L554.4 675.5L555.1 675.5L558.1 679L556.4 679L558 682.5L553.4 682.5L555.8 683.7L556.9 683.7L558.2 685L559.8 685L581.2 686z" fill="#808080"/><path d="M531.6 60.5L531.6 71.4M531.6 60.5L545.5 60.5M534.6 62.1L534.6 67M534.6 62.1L540.6 62.1M534.6 67L541.6 67M531.6 71.4L533.5 71.4M533.5 71.4L533.5 85.4M533.5 71.4L544.6 71.4M536.6 73.5L536.6 79.8M536.6 73.5L542.6 73.5M536.6 79.8L543.6 79.8M533.5 85.4L536.6 85.4M536.6 85.4L536.6 101.3M536.6 85.4L548.2 85.4M540.3 87.8L540.3 94.9M540.3 87.8L546.3 87.8M540.3 94.9L547.3 94.9M536.6 101.3L538.7 101.3M538.7 101.3L538.7 108.9M538.7 101.3L552.2 101.3M542.7 102.4L542.7 105.9M542.7 102.4L548.7 102.4M542.7 105.9L549.7 105.9M538.7 108.9L542.7 108.9M542.7 108.9L542.7 113M542.7 108.9L552.9 108.9M545.8 109.5L545.8 111.4M545.8 109.5L551.8 109.5M545.8 111.4L552.8 111.4M542.7 113L545.5 113M529.2 116.5L529.2 125.8M529.2 116.5L540.3 116.5M532.9 117.9L532.9 122.1M532.9 117.9L538.9 117.9M532.9 122.1L539.9 122.1M529.2 125.8L531.2 125.8M531.2 125.8L531.2 133.1M531.2 125.8L545 125.8M534.5 126.9L534.5 130.2M534.5 126.9L540.5 126.9M534.5 130.2L541.5 130.2M531.2 133.1L534.2 133.1M534.2 133.1L534.2 143.8M534.2 133.1L545.8 133.1M537.4 134.7L537.4 139.5M537.4 134.7L543.4 134.7M537.4 139.5L544.4 139.5M534.2 143.8L536.7 143.8M529.4 149.5L529.4 161.4M529.4 149.5L543 149.5M533.6 151.3L533.6 156.6M533.6 151.3L539.6 151.3M533.6 156.6L540.6 156.6M529.4 161.4L533.3 161.4M533.3 161.4L533.3 170M533.3 161.4L542.4 161.4M537.4 162.7L537.4 166.6M537.4 162.7L543.4 162.7M537.4 166.6L544.4 166.6M533.3 170L536.3 170M529 126.5L529 156.4M529 126.5L529.2 126.5M529 156.4L529.4 156.4M528.5 73L528.5 141.5M528.5 73L531.6 73M528.5 141.5L529 141.5M531.9 173.5L531.9 188.7M531.9 173.5L542.4 173.5M535.8 175.8L535.8 182.6M535.8 175.8L541.8 175.8M535.8 182.6L542.8 182.6M531.9 188.7L535.7 188.7M535.7 188.7L535.7 197.7M535.7 188.7L545.3 188.7M539.3 190.1L539.3 194.1M539.3 190.1L545.3 190.1M539.3 194.1L546.3 194.1M535.7 197.7L537.7 197.7M537.7 197.7L537.7 203M537.7 197.7L550.8 197.7M541.3 198.5L541.3 200.9M541.3 198.5L547.3 198.5M541.3 200.9L548.3 200.9M537.7 203L539.8 203M529.3 206.5L529.3 215.7M529.3 206.5L538.7 206.5M533.2 207.9L533.2 212M533.2 207.9L539.2 207.9M533.2 212L540.2 212M529.3 215.7L532.5 215.7M532.5 215.7L532.5 224.9M532.5 215.7L541.8 215.7M536.9 217.1L536.9 221.2M536.9 217.1L542.9 217.1M536.9 221.2L543.9 221.2M532.5 224.9L534.4 224.9M534.4 224.9L534.4 233.7M534.4 224.9L544.9 224.9M538.2 226.2L538.2 230.2M538.2 226.2L544.2 226.2M538.2 230.2L545.2 230.2M534.4 233.7L536.5 233.7M536.5 233.7L536.5 241.5M536.5 233.7L547 233.7M541 234.9L541 238.4M541 234.9L547 234.9M541 238.4L548 238.4M536.5 241.5L539.6 241.5M532.6 245L532.6 257.9M532.6 245L545.4 245M536.7 246.9L536.7 252.7M536.7 246.9L542.7 246.9M536.7 252.7L543.7 252.7M532.6 257.9L535.4 257.9M535.4 257.9L535.4 272.2M535.4 257.9L547.7 257.9M540.4 260L540.4 266.5M540.4 260L546.4 260M540.4 266.5L547.4 266.5M535.4 272.2L539 272.2M539 272.2L539 282.5M539 272.2L549.3 272.2M543.6 273.8L543.6 278.4M543.6 273.8L549.6 273.8M543.6 278.4L550.6 278.4M539 282.5L541.7 282.5M529.5 218.5L529.5 257.5M529.5 218.5L529.3 218.5M529.5 257.5L532.6 257.5M529 183.6L529 238M529 183.6L531.9 183.6M529 238L529.5 238M529.7 286L529.7 295.4M529.7 286L542.1 286M533.2 287.4L533.2 291.6M533.2 287.4L539.2 287.4M533.2 291.6L540.2 291.6M529.7 295.4L531.6 295.4M531.6 295.4L531.6 309.2M531.6 295.4L543.4 295.4M534.7 297.4L534.7 303.7M534.7 297.4L540.7 297.4M534.7 303.7L541.7 303.7M531.6 309.2L533.6 309.2M533.6 309.2L533.6 317.4M533.6 309.2L544.3 309.2M538.3 310.5L538.3 314.1M538.3 310.5L544.3 310.5M538.3 314.1L545.3 314.1M533.6 317.4L537.6 317.4M537.6 317.4L537.6 328M537.6 317.4L547.8 317.4M541.5 319L541.5 323.8M541.5 319L547.5 319M541.5 323.8L548.5 323.8M537.6 328L540.3 328M530.3 331.5L530.3 338.6M530.3 331.5L542.2 331.5M535 332.6L535 335.8M535 332.6L541 332.6M535 335.8L542 335.8M530.3 338.6L533.9 338.6M533.9 338.6L533.9 346.5M533.9 338.6L545.5 338.6M537.2 339.8L537.2 343.3M537.2 339.8L543.2 339.8M537.2 343.3L544.2 343.3M533.9 346.5L537.4 346.5M537.4 346.5L537.4 357.5M537.4 346.5L551.1 346.5M542 348.1L542 353.1M542 348.1L548 348.1M542 353.1L549 353.1M537.4 357.5L539.5 357.5M539.5 357.5L539.5 367.3M539.5 357.5L553 357.5M543.4 359L543.4 363.4M543.4 359L549.4 359M543.4 363.4L550.4 363.4M539.5 367.3L542.3 367.3M542.3 367.3L542.3 378.3M542.3 367.3L555.1 367.3M547.2 369L547.2 373.9M547.2 369L553.2 369M547.2 373.9L554.2 373.9M542.3 378.3L545.4 378.3M545.4 378.3L545.4 394M545.4 378.3L557.4 378.3M548.6 380.7L548.6 387.7M548.6 380.7L554.6 380.7M548.6 387.7L555.6 387.7M545.4 394L549.1 394M549.1 394L549.1 401M549.1 394L558.4 394M554.1 395.1L554.1 398.2M554.1 395.1L560.1 395.1M554.1 398.2L561.1 398.2M549.1 401L551 401M529 298.5L529 344M529 298.5L529.7 298.5M529 344L530.3 344M528.5 210.8L528.5 321.2M528.5 210.8L529 210.8M528.5 321.2L529 321.2M528 107.2L528 266M528 107.2L528.5 107.2M528 266L528.5 266M529.9 404.5L529.9 414M529.9 404.5L539.9 404.5M534 405.9L534 410.2M534 405.9L540 405.9M534 410.2L541 410.2M529.9 414L532.5 414M532.5 414L532.5 427.8M532.5 414L542.7 414M536.2 416.1L536.2 422.2M536.2 416.1L542.2 416.1M536.2 422.2L543.2 422.2M532.5 427.8L534.9 427.8M534.9 427.8L534.9 443.6M534.9 427.8L548.1 427.8M539.6 430.1L539.6 437.3M539.6 430.1L545.6 430.1M539.6 437.3L546.6 437.3M534.9 443.6L538.2 443.6M538.2 443.6L538.2 454.2M538.2 443.6L547.9 443.6M542.9 445.2L542.9 450M542.9 445.2L548.9 445.2M542.9 450L549.9 450M538.2 454.2L541.2 454.2M541.2 454.2L541.2 458M541.2 454.2L551 454.2M544.4 454.8L544.4 456.5M544.4 454.8L550.4 454.8M544.4 456.5L551.4 456.5M541.2 458L544.7 458M532.6 461.5L532.6 470.3M532.6 461.5L545.6 461.5M536.2 462.8L536.2 466.8M536.2 462.8L542.2 462.8M536.2 466.8L543.2 466.8M532.6 470.3L536 470.3M536 470.3L536 485.1M536 470.3L548.2 470.3M540.6 472.5L540.6 479.2M540.6 472.5L546.6 472.5M540.6 479.2L547.6 479.2M536 485.1L538.7 485.1M538.7 485.1L538.7 492.2M538.7 485.1L550.3 485.1M542.9 486.1L542.9 489.3M542.9 486.1L548.9 486.1M542.9 489.3L549.9 489.3M538.7 492.2L541 492.2M541 492.2L541 502.7M541 492.2L551.6 492.2M544 493.7L544 498.5M544 493.7L550 493.7M544 498.5L551 498.5M541 502.7L543.5 502.7M530.5 506.5L530.5 517.8M530.5 506.5L543 506.5M534.3 508.2L534.3 513.3M534.3 508.2L540.3 508.2M534.3 513.3L541.3 513.3M530.5 517.8L534.7 517.8M534.7 517.8L534.7 532.1M534.7 517.8L548.3 517.8M539.1 519.9L539.1 526.4M539.1 519.9L545.1 519.9M539.1 526.4L546.1 526.4M534.7 532.1L538.1 532.1M538.1 532.1L538.1 544M538.1 532.1L551.1 532.1M541.8 533.9L541.8 539.2M541.8 533.9L547.8 533.9M541.8 539.2L548.8 539.2M538.1 544L541.3 544M541.3 544L541.3 555M541.3 544L552.9 544M544.9 545.6L544.9 550.6M544.9 545.6L550.9 545.6M544.9 550.6L551.9 550.6M541.3 555L543.3 555M529 474L529 519M529 474L532.6 474M529 519L530.5 519M528.5 417L528.5 496.5M528.5 417L529.9 417M528.5 496.5L529 496.5M532.5 558.5L532.5 574M532.5 558.5L543.5 558.5M537.4 560.8L537.4 567.8M537.4 560.8L543.4 560.8M537.4 567.8L544.4 567.8M532.5 574L534.3 574M534.3 574L534.3 589.3M534.3 574L544.5 574M537.4 576.3L537.4 583.2M537.4 576.3L543.4 576.3M537.4 583.2L544.4 583.2M534.3 589.3L536.3 589.3M536.3 589.3L536.3 593M536.3 589.3L546.8 589.3M540 589.9L540 591.5M540 589.9L546 589.9M540 591.5L547 591.5M536.3 593L540 593M532.7 596.5L532.7 609M532.7 596.5L544.5 596.5M536.7 598.4L536.7 604M536.7 598.4L542.7 598.4M536.7 604L543.7 604M532.7 609L534.7 609M534.7 609L534.7 617M534.7 609L545.5 609M539.3 610.2L539.3 613.8M539.3 610.2L545.3 610.2M539.3 613.8L546.3 613.8M534.7 617L537.6 617M537.6 617L537.6 632.8M537.6 617L549.9 617M541.3 619.4L541.3 626.5M541.3 619.4L547.3 619.4M541.3 626.5L548.3 626.5M537.6 632.8L541.2 632.8M541.2 632.8L541.2 638M541.2 632.8L551.2 632.8M545.5 633.5L545.5 635.9M545.5 633.5L551.5 633.5M545.5 635.9L552.5 635.9M541.2 638L543.7 638M529 570.3L529 609M529 570.3L532.5 570.3M529 609L532.7 609M532.4 641.5L532.4 656.5M532.4 641.5L544.8 641.5M537.3 643.8L537.3 650.5M537.3 643.8L543.3 643.8M537.3 650.5L544.3 650.5M532.4 656.5L534.8 656.5M534.8 656.5L534.8 664.4M534.8 656.5L545.2 656.5M539.4 657.7L539.4 661.2M539.4 657.7L545.4 657.7M539.4 661.2L546.4 661.2M534.8 664.4L538.5 664.4M538.5 664.4L538.5 672.1M538.5 664.4L552.2 664.4M541.6 665.6L541.6 669M541.6 665.6L547.6 665.6M541.6 669L548.6 669M538.5 672.1L541.3 672.1M541.3 672.1L541.3 680.8M541.3 672.1L553.6 672.1M545.4 673.4L545.4 677.3M545.4 673.4L551.4 673.4M545.4 677.3L552.4 677.3M541.3 680.8L544.6 680.8M528.5 589.6L528.5 654M528.5 589.6L529 589.6M528.5 654L532.4 654M528 456.8L528 621.8M528 456.8L528.5 456.8M528 621.8L528.5 621.8M525.5 186.6L525.5 539.3M525.5 186.6L528 186.6M525.5 539.3L528 539.3" stroke="#808080" stroke-width="1.55" fill="none"/><defs><linearGradient id="cb" x1="0" y1="0" x2="0" y2="1"><stop offset="0" stop-color="#ff8212"/><stop offset="0.5" stop-color="#fff"/><stop offset="1" stop-color="#6c2aaa"/></linearGradient></defs><rect x="39.5" y="514.5" width="13.5" height="198.5" fill="url(#cb)"/><text x="33" y="506" font-size="19.5" textLength="24.5" lengthAdjust="spacingAndGlyphs">1.5</text><text x="27.5" y="735" font-size="19.5" textLength="36" lengthAdjust="spacingAndGlyphs">−1.5</text><text font-size="21.5" textLength="237" lengthAdjust="spacingAndGlyphs" transform="translate(18 732.5) rotate(-90)">Standardized expression</text><text x="177.8" y="710.8" font-size="24" text-anchor="middle" textLength="59.5" lengthAdjust="spacingAndGlyphs">SoftY</text><text x="266" y="710.8" font-size="24" text-anchor="middle" textLength="57" lengthAdjust="spacingAndGlyphs">StiffY</text><text x="354.4" y="710.8" font-size="24" text-anchor="middle" textLength="62" lengthAdjust="spacingAndGlyphs">SoftA</text><text x="442.7" y="710.8" font-size="24" text-anchor="middle" textLength="62" lengthAdjust="spacingAndGlyphs">StiffA</text><text x="625.7" y="710.8" font-size="24" text-anchor="middle" textLength="59.5" lengthAdjust="spacingAndGlyphs">SoftY</text><text x="714.1" y="710.8" font-size="24" text-anchor="middle" textLength="57" lengthAdjust="spacingAndGlyphs">StiffY</text><text x="802.5" y="710.8" font-size="24" text-anchor="middle" textLength="62" lengthAdjust="spacingAndGlyphs">SoftA</text><text x="890.8" y="710.8" font-size="24" text-anchor="middle" textLength="62" lengthAdjust="spacingAndGlyphs">StiffA</text><path d="M150 721.3L468 721.3" stroke="#000" stroke-width="1.5"/><path d="M598 721.3L916 721.3" stroke="#000" stroke-width="1.5"/><text x="185" y="765" font-size="24.5" textLength="122.5" lengthAdjust="spacingAndGlyphs">Young CFs</text><g transform="translate(366 755) rotate(0)"><path d="M-50.5 -14.3C-30.3 -15.2 -15.1 -22.5 -1 -23C12.6 -23 25.2 -14.3 47 -18.4C40.4 -6.9 42.9 4.6 50.5 12C30.3 15.2 15.1 23 0 23C-15.1 23 -30.3 16.1 -48.5 17C-45.5 11.5 -40.4 4.6 -35.3 1.2C-40.4 -3.4 -45.5 -9.2 -50.5 -14.3z" fill="#6699c8"/><ellipse cx="-2.5" cy="0.7" rx="16.7" ry="12.4" fill="#c5d8ea"/></g><text x="647" y="765.5" font-size="24.5" textLength="109.5" lengthAdjust="spacingAndGlyphs">Aged CFs</text><g transform="translate(810.5 752.5) rotate(0)"><path d="M-50.5 -14.9C-30.3 -15.8 -15.1 -23.5 -1 -24C12.6 -24 25.2 -14.9 47 -19.2C40.4 -7.2 42.9 4.8 50.5 12.5C30.3 15.8 15.1 24 0 24C-15.1 24 -30.3 16.8 -48.5 17.8C-45.5 12 -40.4 4.8 -35.3 1.2C-40.4 -3.6 -45.5 -9.6 -50.5 -14.9z" fill="#033572"/><ellipse cx="-2.5" cy="0.7" rx="16.7" ry="13" fill="#809abb"/></g><text x="980" y="29" font-size="40" font-weight="bold" stroke="#000" stroke-width="1.4">c</text><g transform="translate(1025.6 162.2) rotate(0)"><path d="M-45 -12.9C-27 -13.7 -13.5 -20.4 -0.9 -20.8C11.2 -20.8 22.5 -12.9 41.9 -16.6C36 -6.2 38.2 4.2 45 10.8C27 13.7 13.5 20.8 0 20.8C-13.5 20.8 -27 14.6 -43.2 15.4C-40.5 10.4 -36 4.2 -31.5 1C-36 -3.1 -40.5 -8.3 -45 -12.9z" fill="#e6e6e6" stroke="#111" stroke-width="1.2" stroke-dasharray="4 2.5"/><ellipse cx="-2.2" cy="0.6" rx="14.9" ry="11.2" fill="#e6e6e6" stroke="#666" stroke-width="1.2" stroke-dasharray="4 2.5"/></g><text x="1029.7" y="214.6" font-size="24.5" text-anchor="middle" textLength="29" lengthAdjust="spacingAndGlyphs">CF</text><text x="1118.5" y="160.4" font-size="20" text-anchor="middle">?</text><path d="M1093 131.8L1131.6 117.7" stroke="#3f4d63" stroke-width="3.2"/><path d="M1141 114.3L1130.8 124.2L1132.1 117.6L1126.8 113.3z" fill="#3f4d63"/><path d="M1093 174L1131.6 187.8" stroke="#3f4d63" stroke-width="3.2"/><path d="M1141 191.2L1126.8 192.3L1132.1 188L1130.7 181.4z" fill="#3f4d63"/><path d="M1149 88L1160 80L1152 68L1164 72L1159 59L1172 66L1181 56L1192 64L1214 66L1229 65L1225 73L1246 82L1236 86L1241 92L1233 93L1237 100L1229 99L1234 106L1217 101L1205 104L1186 103L1176 96L1163 91z" fill="#2fa9a7" stroke="#000" stroke-width="1.2" stroke-linejoin="round"/><ellipse cx="1200" cy="83.5" rx="15.3" ry="12.2" fill="#a8dcd9" stroke="#000" stroke-width="1"/><text x="1198.6" y="138.2" font-size="24.5" text-anchor="middle" textLength="107" lengthAdjust="spacingAndGlyphs">Activated</text><g transform="translate(1198.5 205.8) rotate(0)"><path d="M-45.2 -15C-27.1 -16 -13.6 -23.8 -0.9 -24.2C11.3 -24.2 22.6 -15 42.1 -19.4C36.2 -7.3 38.5 4.9 45.2 12.6C27.1 16 13.6 24.2 0 24.2C-13.6 24.2 -27.1 17 -43.4 17.9C-40.7 12.1 -36.2 4.9 -31.7 1.2C-36.2 -3.6 -40.7 -9.7 -45.2 -15z" fill="#808080" stroke="#111" stroke-width="1.2"/><ellipse cx="-2.3" cy="0.7" rx="14.9" ry="13.1" fill="#bfbfbf" stroke="#222" stroke-width="1.2"/></g><text x="1198.8" y="257" font-size="24.5" text-anchor="middle" textLength="118.5" lengthAdjust="spacingAndGlyphs">Senescent</text><path d="M1198.3 262V294" stroke="#3f4d63" stroke-width="3.4" stroke-dasharray="7.5 5"/><path d="M1198.3 309.5L1192 294.5L1198.3 297.5L1204.6 294.5z" fill="#3f4d63"/><g transform="translate(1197.5 339.3) rotate(0)"><path d="M-45.5 -12.9C-27.3 -13.7 -13.7 -20.3 -0.9 -20.8C11.4 -20.8 22.8 -12.9 42.3 -16.6C36.4 -6.2 38.7 4.2 45.5 10.8C27.3 13.7 13.7 20.8 0 20.8C-13.7 20.8 -27.3 14.5 -43.7 15.4C-41 10.4 -36.4 4.2 -31.8 1C-36.4 -3.1 -41 -8.3 -45.5 -12.9z" fill="#b5cde6"/><ellipse cx="-2.3" cy="0.6" rx="15" ry="11.2" fill="#e1ebf5"/></g><text x="1199" y="386.4" font-size="24.5" text-anchor="middle" textLength="140.5" lengthAdjust="spacingAndGlyphs">Rejuvenated</text><text x="1381.5" y="52.2" font-size="24.5" text-anchor="middle" textLength="72" lengthAdjust="spacingAndGlyphs">Young</text><text x="1381.5" y="79.6" font-size="24.5" text-anchor="middle" textLength="42" lengthAdjust="spacingAndGlyphs">CFs</text><g transform="translate(1485 59) rotate(0)"><path d="M-50.2 -14.4C-30.1 -15.3 -15.1 -22.8 -1 -23.2C12.6 -23.2 25.1 -14.4 46.7 -18.6C40.2 -7 42.7 4.7 50.2 12.1C30.1 15.3 15.1 23.2 0 23.2C-15.1 23.2 -30.1 16.3 -48.2 17.2C-45.2 11.6 -40.2 4.7 -35.2 1.2C-40.2 -3.5 -45.2 -9.3 -50.2 -14.4z" fill="#6699c8"/><ellipse cx="-2.5" cy="0.7" rx="16.6" ry="12.6" fill="#c5d8ea"/></g><path d="M1431.4 320V107Q1431.4 100 1438.4 100H1443.6Q1450.6 100 1450.6 107V320z" fill="#000"/><path d="M1431.4 300L1431.4 307.5C1424 308 1420 313 1419.5 321L1417.5 349C1416 358 1410 361 1405.5 363.7C1400 367 1396 371 1394.4 375.5C1393 379 1392 382 1392 384.6C1386 385.5 1385.5 389 1385.5 393C1385.5 398 1389 400.6 1393 400.6H1489C1493 400.6 1496.5 398 1496.5 393C1496.5 389 1496 385.5 1490 384.6C1490 382 1489 379 1487.6 375.5C1486 371 1482 367 1476.5 363.7C1472 361 1466 358 1464.5 349L1462.5 321C1462 313 1458 308 1450.6 307.5L1450.6 300z" fill="#000"/><path d="M1349 147.6H1533.5" stroke="#000" stroke-width="12.2"/><path d="M1450.6 131L1459.5 141.5V153.7L1450.6 165.5H1431.4L1422.5 153.7V141.5L1431.4 131z" fill="#000"/><path d="M1346.5 152.5L1296 297.8M1352.5 152.5L1403 297.8" stroke="#000" stroke-width="3"/><path d="M1300.5 303.8C1303.5 312.8 1308.5 317.8 1317.5 317.8H1381.5C1390.5 317.8 1395.5 312.8 1398.5 303.8" stroke="#000" stroke-width="3" fill="#fff"/><rect x="1292" y="295.8" width="115" height="8.6" rx="4.3" fill="#fff" stroke="#000" stroke-width="3"/><path d="M1530.2 152.5L1479.7 297.8M1536.2 152.5L1586.7 297.8" stroke="#000" stroke-width="3"/><path d="M1484.2 303.8C1487.2 312.8 1492.2 317.8 1501.2 317.8H1565.2C1574.2 317.8 1579.2 312.8 1582.2 303.8" stroke="#000" stroke-width="3" fill="#fff"/><rect x="1475.7" y="295.8" width="115" height="8.6" rx="4.3" fill="#fff" stroke="#000" stroke-width="3"/><circle cx="1349.5" cy="148.5" r="6" fill="#fff" stroke="#000" stroke-width="3"/><circle cx="1533.2" cy="148.5" r="6" fill="#fff" stroke="#000" stroke-width="3"/><defs><pattern id="psoft" x="10.1" y="3.2" width="20.55" height="20.55" patternUnits="userSpaceOnUse"><rect width="20.55" height="20.55" fill="#92dfc0"/><path d="M-1 -1L21.55 21.55" stroke="#fff" stroke-opacity="0.62" stroke-width="1.15"/><path d="M21.55 -1L-1 21.55" stroke="#fff" stroke-opacity="0.62" stroke-width="1.15"/></pattern><pattern id="pstiff" x="9.3" y="2.6" width="20.55" height="20.55" patternUnits="userSpaceOnUse"><rect width="20.55" height="20.55" fill="#63a09b"/><path d="M-1 -1L21.55 21.55" stroke="#fff" stroke-opacity="0.58" stroke-width="3.1"/><path d="M21.55 -1L-1 21.55" stroke="#fff" stroke-opacity="0.58" stroke-width="3.1"/></pattern></defs><g transform="translate(1322.1 232.2)"><rect width="59.8" height="60.7" fill="url(#pstiff)"/></g><g transform="translate(1506.7 238.8) scale(1.000)" clip-path="url(#ec1)"><clipPath id="ec1"><rect width="50" height="50"/></clipPath><path d="M9.5 -1C9.5 10 10.5 20 13.2 33S17 46 18.8 51" stroke="#4f489f" stroke-width="5.8"/><path d="M9.5 -1C9.5 10 10.5 20 13.2 33S17 46 18.8 51" stroke="#9a96c9" stroke-width="3.5"/><path d="M0 40.2C9 39.5 17 37 25.3 34.4S40 32 51 33.6" stroke="#4f489f" stroke-width="6.6"/><path d="M0 40.2C9 39.5 17 37 25.3 34.4S40 32 51 33.6" stroke="#9a96c9" stroke-width="4.3"/><path d="M25 -1C24.5 8 24.5 16 27 24S33 39 40.5 51" stroke="#4f489f" stroke-width="6.8"/><path d="M25 -1C24.5 8 24.5 16 27 24S33 39 40.5 51" stroke="#9a96c9" stroke-width="4.5"/><path d="M-1 13C6 16.5 14 17.6 22 17S40 12 51 5.6" stroke="#4f489f" stroke-width="7.2"/><path d="M-1 13C6 16.5 14 17.6 22 17S40 12 51 5.6" stroke="#9a96c9" stroke-width="4.9"/></g><text x="1351.8" y="345.4" font-size="24.5" text-anchor="middle" textLength="96" lengthAdjust="spacingAndGlyphs">Stiffness</text><text x="1535" y="345.4" font-size="24.5" text-anchor="middle" textLength="99.5" lengthAdjust="spacingAndGlyphs">ECM age</text><text x="1704" y="51.4" font-size="24.5" text-anchor="middle" textLength="58" lengthAdjust="spacingAndGlyphs">Aged</text><text x="1704" y="79.6" font-size="24.5" text-anchor="middle" textLength="42" lengthAdjust="spacingAndGlyphs">CFs</text><g transform="translate(1797.8 61) rotate(0)"><path d="M-50.8 -15.2C-30.4 -16.2 -15.2 -24 -1 -24.5C12.7 -24.5 25.4 -15.2 47.2 -19.6C40.6 -7.3 43.1 4.9 50.8 12.7C30.4 16.2 15.2 24.5 0 24.5C-15.2 24.5 -30.4 17.1 -48.7 18.1C-45.7 12.2 -40.6 4.9 -35.5 1.2C-40.6 -3.7 -45.7 -9.8 -50.8 -15.2z" fill="#033572"/><ellipse cx="-2.5" cy="0.7" rx="16.7" ry="13.2" fill="#809abb"/></g><path d="M1753.6 320V107Q1753.6 100 1760.6 100H1765.8Q1772.8 100 1772.8 107V320z" fill="#000"/><path d="M1753.6 300L1753.6 307.5C1746.2 308 1742.2 313 1741.7 321L1739.7 349C1738.2 358 1732.2 361 1727.7 363.7C1722.2 367 1718.2 371 1716.6 375.5C1715.2 379 1714.2 382 1714.2 384.6C1708.2 385.5 1707.7 389 1707.7 393C1707.7 398 1711.2 400.6 1715.2 400.6H1811.2C1815.2 400.6 1818.7 398 1818.7 393C1818.7 389 1818.2 385.5 1812.2 384.6C1812.2 382 1811.2 379 1809.8 375.5C1808.2 371 1804.2 367 1798.7 363.7C1794.2 361 1788.2 358 1786.7 349L1784.7 321C1784.2 313 1780.2 308 1772.8 307.5L1772.8 300z" fill="#000"/><path d="M1676.8 113.6L1847.2 186.5" stroke="#000" stroke-width="13"/><path d="M1767.2 128L1782.2 158L1759.2 172L1744.2 142z" fill="#000"/><path d="M1674 117.8L1623.5 263.2M1680 117.8L1730.5 263.2" stroke="#000" stroke-width="3"/><path d="M1628 269.2C1631 278.2 1636 283.2 1645 283.2H1709C1718 283.2 1723 278.2 1726 269.2" stroke="#000" stroke-width="3" fill="#fff"/><rect x="1619.5" y="261.2" width="115" height="8.6" rx="4.3" fill="#fff" stroke="#000" stroke-width="3"/><path d="M1844.2 190.5L1793.7 335.2M1850.2 190.5L1900.7 335.2" stroke="#000" stroke-width="3"/><path d="M1798.2 341.2C1801.2 350.2 1806.2 355.2 1815.2 355.2H1879.2C1888.2 355.2 1893.2 350.2 1896.2 341.2" stroke="#000" stroke-width="3" fill="#fff"/><rect x="1789.7" y="333.2" width="115" height="8.6" rx="4.3" fill="#fff" stroke="#000" stroke-width="3"/><circle cx="1677" cy="113.8" r="6" fill="#fff" stroke="#000" stroke-width="3"/><circle cx="1847.2" cy="186.5" r="6" fill="#fff" stroke="#000" stroke-width="3"/><g transform="translate(1648.1 194.2)"><rect width="59.8" height="60.7" fill="url(#pstiff)"/></g><g transform="translate(1816.9 275.8) scale(1.000)" clip-path="url(#ec2)"><clipPath id="ec2"><rect width="50" height="50"/></clipPath><path d="M9.5 -1C9.5 10 10.5 20 13.2 33S17 46 18.8 51" stroke="#4f489f" stroke-width="5.8"/><path d="M9.5 -1C9.5 10 10.5 20 13.2 33S17 46 18.8 51" stroke="#9a96c9" stroke-width="3.5"/><path d="M0 40.2C9 39.5 17 37 25.3 34.4S40 32 51 33.6" stroke="#4f489f" stroke-width="6.6"/><path d="M0 40.2C9 39.5 17 37 25.3 34.4S40 32 51 33.6" stroke="#9a96c9" stroke-width="4.3"/><path d="M25 -1C24.5 8 24.5 16 27 24S33 39 40.5 51" stroke="#4f489f" stroke-width="6.8"/><path d="M25 -1C24.5 8 24.5 16 27 24S33 39 40.5 51" stroke="#9a96c9" stroke-width="4.5"/><path d="M-1 13C6 16.5 14 17.6 22 17S40 12 51 5.6" stroke="#4f489f" stroke-width="7.2"/><path d="M-1 13C6 16.5 14 17.6 22 17S40 12 51 5.6" stroke="#9a96c9" stroke-width="4.9"/></g><text x="1677.8" y="311.8" font-size="24.5" text-anchor="middle" textLength="96" lengthAdjust="spacingAndGlyphs">Stiffness</text><text x="1872.5" y="382" font-size="24.5" text-anchor="middle" textLength="99.5" lengthAdjust="spacingAndGlyphs">ECM age</text><text x="0" y="848" font-size="40" font-weight="bold" stroke="#000" stroke-width="1.2">d</text><rect x="113.3" y="820.7" width="96.6" height="32.7" fill="#ffe3ca"/><rect x="209.5" y="820.7" width="96.6" height="32.7" fill="#ffc088"/><rect x="305.7" y="820.7" width="96.6" height="32.7" fill="#ffffff"/><rect x="401.9" y="820.7" width="96.6" height="32.7" fill="#ffd3ac"/><rect x="498.1" y="820.7" width="96.6" height="32.7" fill="#6c2aaa"/><rect x="594.2" y="820.7" width="96.6" height="32.7" fill="#fffefd"/><rect x="690.4" y="820.7" width="96.6" height="32.7" fill="#ffa453"/><rect x="786.6" y="820.7" width="96.6" height="32.7" fill="#b28fd2"/><rect x="113.3" y="853" width="96.6" height="32.7" fill="#ede4f4"/><rect x="209.5" y="853" width="96.6" height="32.7" fill="#fffdfb"/><rect x="305.7" y="853" width="96.6" height="32.7" fill="#ff881e"/><rect x="401.9" y="853" width="96.6" height="32.7" fill="#ff8b24"/><rect x="498.1" y="853" width="96.6" height="32.7" fill="#d3bfe6"/><rect x="594.2" y="853" width="96.6" height="32.7" fill="#9f75c8"/><rect x="690.4" y="853" width="96.6" height="32.7" fill="#f6f2fa"/><rect x="786.6" y="853" width="96.6" height="32.7" fill="#d1bde5"/><rect x="113.3" y="885.4" width="96.6" height="32.7" fill="#ffebd9"/><rect x="209.5" y="885.4" width="96.6" height="32.7" fill="#ffa859"/><rect x="305.7" y="885.4" width="96.6" height="32.7" fill="#ffab5f"/><rect x="401.9" y="885.4" width="96.6" height="32.7" fill="#ffa453"/><rect x="498.1" y="885.4" width="96.6" height="32.7" fill="#b28fd2"/><rect x="594.2" y="885.4" width="96.6" height="32.7" fill="#b28fd2"/><rect x="690.4" y="885.4" width="96.6" height="32.7" fill="#b694d4"/><rect x="786.6" y="885.4" width="96.6" height="32.7" fill="#d1bde5"/><rect x="113.3" y="917.7" width="96.6" height="32.7" fill="#d7c4e8"/><rect x="209.5" y="917.7" width="96.6" height="32.7" fill="#ff881e"/><rect x="305.7" y="917.7" width="96.6" height="32.7" fill="#6c2aaa"/><rect x="401.9" y="917.7" width="96.6" height="32.7" fill="#ffe9d6"/><rect x="498.1" y="917.7" width="96.6" height="32.7" fill="#ffdab8"/><rect x="594.2" y="917.7" width="96.6" height="32.7" fill="#e0d2ed"/><rect x="690.4" y="917.7" width="96.6" height="32.7" fill="#ffc48e"/><rect x="786.6" y="917.7" width="96.6" height="32.7" fill="#fdfcfe"/><rect x="113.3" y="950" width="96.6" height="32.7" fill="#d7c4e8"/><rect x="209.5" y="950" width="96.6" height="32.7" fill="#bd9fd9"/><rect x="305.7" y="950" width="96.6" height="32.7" fill="#9465c1"/><rect x="401.9" y="950" width="96.6" height="32.7" fill="#e0d2ed"/><rect x="498.1" y="950" width="96.6" height="32.7" fill="#ffd3ac"/><rect x="594.2" y="950" width="96.6" height="32.7" fill="#ff9b41"/><rect x="690.4" y="950" width="96.6" height="32.7" fill="#fff6ed"/><rect x="786.6" y="950" width="96.6" height="32.7" fill="#ff9b41"/><rect x="113.3" y="982.4" width="96.6" height="32.7" fill="#fff1e5"/><rect x="209.5" y="982.4" width="96.6" height="32.7" fill="#915fbf"/><rect x="305.7" y="982.4" width="96.6" height="32.7" fill="#8955bb"/><rect x="401.9" y="982.4" width="96.6" height="32.7" fill="#ffe0c4"/><rect x="498.1" y="982.4" width="96.6" height="32.7" fill="#ffba7d"/><rect x="594.2" y="982.4" width="96.6" height="32.7" fill="#ff9b41"/><rect x="690.4" y="982.4" width="96.6" height="32.7" fill="#ffe9d6"/><rect x="786.6" y="982.4" width="96.6" height="32.7" fill="#ffe3ca"/><rect x="113.3" y="1014.7" width="96.6" height="32.7" fill="#6c2aaa"/><rect x="209.5" y="1014.7" width="96.6" height="32.7" fill="#ffecdb"/><rect x="305.7" y="1014.7" width="96.6" height="32.7" fill="#fff9f3"/><rect x="401.9" y="1014.7" width="96.6" height="32.7" fill="#ff881e"/><rect x="498.1" y="1014.7" width="96.6" height="32.7" fill="#d7c4e8"/><rect x="594.2" y="1014.7" width="96.6" height="32.7" fill="#d7c4e8"/><rect x="690.4" y="1014.7" width="96.6" height="32.7" fill="#ffd8b6"/><rect x="786.6" y="1014.7" width="96.6" height="32.7" fill="#ffc48e"/><rect x="113.3" y="1047" width="96.6" height="32.7" fill="#986ac4"/><rect x="209.5" y="1047" width="96.6" height="32.7" fill="#c8afdf"/><rect x="305.7" y="1047" width="96.6" height="32.7" fill="#aa85ce"/><rect x="401.9" y="1047" width="96.6" height="32.7" fill="#fff6ed"/><rect x="498.1" y="1047" width="96.6" height="32.7" fill="#ffc088"/><rect x="594.2" y="1047" width="96.6" height="32.7" fill="#fff9f3"/><rect x="690.4" y="1047" width="96.6" height="32.7" fill="#ff8b24"/><rect x="786.6" y="1047" width="96.6" height="32.7" fill="#ffc088"/><rect x="113.3" y="1079.3" width="96.6" height="32.7" fill="#a37aca"/><rect x="209.5" y="1079.3" width="96.6" height="32.7" fill="#bd9fd9"/><rect x="305.7" y="1079.3" width="96.6" height="32.7" fill="#fdfcfe"/><rect x="401.9" y="1079.3" width="96.6" height="32.7" fill="#ffffff"/><rect x="498.1" y="1079.3" width="96.6" height="32.7" fill="#e0d2ed"/><rect x="594.2" y="1079.3" width="96.6" height="32.7" fill="#f0eaf6"/><rect x="690.4" y="1079.3" width="96.6" height="32.7" fill="#ff8b24"/><rect x="786.6" y="1079.3" width="96.6" height="32.7" fill="#ff8b24"/><text x="895" y="845.4" font-size="24" font-style="italic" textLength="65" lengthAdjust="spacingAndGlyphs">Trp53</text><text x="895" y="877.7" font-size="24" font-style="italic" textLength="27" lengthAdjust="spacingAndGlyphs">Il6</text><text x="895" y="910" font-size="24" font-style="italic" textLength="55" lengthAdjust="spacingAndGlyphs">Ccn1</text><text x="895" y="942.4" font-size="24" font-style="italic" textLength="55" lengthAdjust="spacingAndGlyphs">H2ax</text><text x="895" y="974.7" font-size="24" font-style="italic" textLength="84" lengthAdjust="spacingAndGlyphs">Cdkn2a</text><text x="895" y="1007" font-size="24" font-style="italic" textLength="51" lengthAdjust="spacingAndGlyphs">Mtor</text><text x="895" y="1039.3" font-size="24" font-style="italic" textLength="80" lengthAdjust="spacingAndGlyphs">Cdkn1a</text><text x="895" y="1071.7" font-size="24" font-style="italic" textLength="56" lengthAdjust="spacingAndGlyphs">Mfn2</text><text x="895" y="1104" font-size="24" font-style="italic" textLength="70" lengthAdjust="spacingAndGlyphs">Timp3</text><path d="M113.3 869.2H100V901.5H113.3M113.3 836.9H95.5V885.4H100M113.3 966.2H105.5V998.5H113.3M113.3 1063.2H109V1095.5H113.3M113.3 1030.8H105V1079.3H109M105.5 982.4H100.5V1055.1H105M113.3 933.9H95.5V1018.7H100.5M95.5 861.1H90.5V976.3H95.5" stroke="#808080" stroke-width="1.5" fill="none"/><defs><linearGradient id="cb2" x1="0" y1="0" x2="0" y2="1"><stop offset="0" stop-color="#ff8212"/><stop offset="0.5" stop-color="#fff"/><stop offset="1" stop-color="#6c2aaa"/></linearGradient></defs><rect x="39.5" y="934" width="13.5" height="199" fill="url(#cb2)"/><text x="30" y="926.5" font-size="19.5" textLength="31" lengthAdjust="spacingAndGlyphs">2.0</text><text x="25.5" y="1154.5" font-size="19.5" textLength="40.5" lengthAdjust="spacingAndGlyphs">−2.0</text><text font-size="21.5" textLength="237" lengthAdjust="spacingAndGlyphs" transform="translate(18 1154) rotate(-90)">Standardized expression</text><text x="159.9" y="1138" font-size="24" text-anchor="middle" textLength="59.5" lengthAdjust="spacingAndGlyphs">SoftY</text><text x="256.1" y="1138" font-size="24" text-anchor="middle" textLength="57" lengthAdjust="spacingAndGlyphs">StiffY</text><text x="352.3" y="1138" font-size="24" text-anchor="middle" textLength="62" lengthAdjust="spacingAndGlyphs">SoftA</text><text x="448.5" y="1138" font-size="24" text-anchor="middle" textLength="62" lengthAdjust="spacingAndGlyphs">StiffA</text><text x="544.7" y="1138" font-size="24" text-anchor="middle" textLength="59.5" lengthAdjust="spacingAndGlyphs">SoftY</text><text x="640.8" y="1138" font-size="24" text-anchor="middle" textLength="57" lengthAdjust="spacingAndGlyphs">StiffY</text><text x="737" y="1138" font-size="24" text-anchor="middle" textLength="62" lengthAdjust="spacingAndGlyphs">SoftA</text><text x="833.2" y="1138" font-size="24" text-anchor="middle" textLength="62" lengthAdjust="spacingAndGlyphs">StiffA</text><path d="M135 1151L476.5 1151" stroke="#000" stroke-width="1.5"/><path d="M520 1151L861 1151" stroke="#000" stroke-width="1.5"/><text x="195" y="1193" font-size="24.5" textLength="122.5" lengthAdjust="spacingAndGlyphs">Young CFs</text><g transform="translate(376 1181) rotate(0)"><path d="M-50.5 -14.3C-30.3 -15.2 -15.1 -22.5 -1 -23C12.6 -23 25.2 -14.3 47 -18.4C40.4 -6.9 42.9 4.6 50.5 12C30.3 15.2 15.1 23 0 23C-15.1 23 -30.3 16.1 -48.5 17C-45.5 11.5 -40.4 4.6 -35.3 1.2C-40.4 -3.4 -45.5 -9.2 -50.5 -14.3z" fill="#6699c8"/><ellipse cx="-2.5" cy="0.7" rx="16.7" ry="12.4" fill="#c5d8ea"/></g><text x="588" y="1193.5" font-size="24.5" textLength="109.5" lengthAdjust="spacingAndGlyphs">Aged CFs</text><g transform="translate(748 1180) rotate(0)"><path d="M-50.5 -14.9C-30.3 -15.8 -15.1 -23.5 -1 -24C12.6 -24 25.2 -14.9 47 -19.2C40.4 -7.2 42.9 4.8 50.5 12.5C30.3 15.8 15.1 24 0 24C-15.1 24 -30.3 16.8 -48.5 17.8C-45.5 12 -40.4 4.8 -35.3 1.2C-40.4 -3.6 -45.5 -9.6 -50.5 -14.9z" fill="#033572"/><ellipse cx="-2.5" cy="0.7" rx="16.7" ry="13" fill="#809abb"/></g><text x="1013.5" y="452.5" font-size="40" font-weight="bold" stroke="#000" stroke-width="1.4">e</text><path d="M1124.4 621.4L1124.5 621.4L1127.5 621.3L1130.5 621.3L1133.5 621.3L1136.4 621.3L1139.4 621.3L1142.4 621.3L1145.4 621.3L1148.4 621.2L1151.4 621.2L1154.3 621.2L1157.3 621.1L1160.3 621.1L1163.3 621.1L1166.3 621L1169.3 621L1172.3 620.9L1175.2 620.8L1178.2 620.8L1181.2 620.7L1184.2 620.6L1187.2 620.5L1190.2 620.4L1193.2 620.3L1196.1 620.2L1199.1 620.1L1202.1 619.9L1205.1 619.8L1208.1 619.6L1211.1 619.5L1214 619.3L1217 619.1L1220 618.9L1223 618.7L1226 618.5L1229 618.3L1232 618.1L1234.9 617.8L1237.9 617.5L1240.9 617.2L1243.9 616.9L1246.9 616.6L1249.9 616.2L1252.9 615.8L1255.8 615.4L1258.8 615L1261.8 614.5L1264.8 613.9L1267.8 613.4L1270.8 612.8L1273.7 612.1L1276.7 611.4L1279.7 610.7L1282.7 609.9L1285.7 609.1L1288.7 608.2L1291.7 607.2L1294.6 606.3L1297.6 605.3L1300.6 604.2L1303.6 603.2L1306.6 602L1309.6 600.9L1312.6 599.7L1315.5 598.5L1318.5 597.2L1321.5 595.8L1324.5 594.4L1327.5 592.9L1330.5 591.2L1333.4 589.5L1336.4 587.5L1339.4 585.4L1342.4 583L1345.4 580.4L1348.4 577.6L1351.4 574.6L1354.3 571.3L1357.3 567.8L1360.3 564.2L1363.3 560.5L1366.3 556.8L1369.3 553.2L1372.3 549.8L1375.2 546.6L1378.2 543.8L1381.2 541.4L1384.2 539.6L1387.2 538.3L1390.2 537.5L1393.1 537.2L1396.1 537.3L1399.1 537.6L1402.1 537.9L1405.1 538L1408.1 537.8L1411.1 536.9L1414 535.1L1417 532.5L1420 528.8L1423 524.3L1426 519.1L1429 513.4L1432 507.8L1434.9 502.5L1437.9 498.3L1440.9 495.4L1443.9 494.3L1446.9 495.2L1449.9 498.2L1452.8 503.3L1455.8 510.3L1458.8 518.8L1461.8 528.4L1464.8 538.7L1467.8 549.1L1470.8 559.3L1473.7 568.9L1476.7 577.5L1479.7 585.1L1482.7 591.6L1485.7 596.9L1488.7 601.2L1491.7 604.6L1494.6 607.1L1497.6 609L1500.6 610.4L1503.6 611.4L1506.6 612.2L1509.6 612.7L1512.5 613.1L1515.5 613.4L1518.5 613.7L1521.5 614L1524.5 614.2L1527.5 614.5L1530.5 614.8L1533.4 615.1L1536.4 615.4L1539.4 615.7L1542.4 616L1545.4 616.3L1548.4 616.7L1551.4 617L1554.3 617.3L1557.3 617.6L1560.3 617.9L1563.3 618.2L1566.3 618.5L1569.3 618.8L1572.2 619L1575.2 619.3L1578.2 619.5L1581.2 619.7L1584.2 619.9L1587.2 620.1L1590.2 620.2L1593.1 620.4L1596.1 620.5L1599.1 620.6L1602.1 620.7L1605.1 620.8L1608.1 620.9L1611.1 621L1614 621L1617 621.1L1620 621.1L1623 621.2L1626 621.2L1629 621.3L1631.9 621.3L1634.9 621.3L1637.9 621.3L1640.9 621.3L1643.9 621.3L1646.9 621.4L1649.9 621.4L1652.8 621.4L1655.8 621.4L1658.8 621.4L1661.8 621.4L1664.8 621.4L1667.8 621.4L1670.8 621.4L1673.7 621.4L1676.7 621.4L1679.7 621.4L1682.7 621.4L1685.7 621.4L1688.7 621.4L1691.6 621.4L1694.6 621.4L1697.6 621.4L1700.6 621.4L1703.6 621.4L1706.6 621.4L1709.6 621.4L1712.5 621.4L1715.5 621.4L1718.5 621.4L1721.5 621.4L1721.3 621.4z" fill="rgba(141,212,205,0.52)"/><path d="M1124.4 621.4L1124.5 621.4L1127.5 621.4L1130.5 621.4L1133.5 621.4L1136.4 621.4L1139.4 621.4L1142.4 621.4L1145.4 621.4L1148.4 621.4L1151.4 621.4L1154.3 621.4L1157.3 621.4L1160.3 621.4L1163.3 621.4L1166.3 621.4L1169.3 621.4L1172.3 621.4L1175.2 621.4L1178.2 621.4L1181.2 621.4L1184.2 621.4L1187.2 621.4L1190.2 621.4L1193.2 621.4L1196.1 621.4L1199.1 621.4L1202.1 621.4L1205.1 621.4L1208.1 621.4L1211.1 621.4L1214 621.4L1217 621.4L1220 621.4L1223 621.4L1226 621.4L1229 621.4L1232 621.4L1234.9 621.4L1237.9 621.4L1240.9 621.4L1243.9 621.4L1246.9 621.4L1249.9 621.4L1252.9 621.3L1255.8 621.3L1258.8 621.3L1261.8 621.2L1264.8 621.2L1267.8 621.1L1270.8 620.9L1273.7 620.7L1276.7 620.4L1279.7 620L1282.7 619.5L1285.7 619L1288.7 618.4L1291.7 617.8L1294.6 617.3L1297.6 616.9L1300.6 616.6L1303.6 616.5L1306.6 616.5L1309.6 616.6L1312.6 616.6L1315.5 616.5L1318.5 616.4L1321.5 616.1L1324.5 615.7L1327.5 615.1L1330.5 614.5L1333.4 613.7L1336.4 612.9L1339.4 612L1342.4 611L1345.4 609.9L1348.4 608.7L1351.4 607.4L1354.3 606L1357.3 604.5L1360.3 602.9L1363.3 601.2L1366.3 599.4L1369.3 597.5L1372.3 595.6L1375.2 593.5L1378.2 591.5L1381.2 589.4L1384.2 587.2L1387.2 584.8L1390.2 582.2L1393.1 578.9L1396.1 574.5L1399.1 568.4L1402.1 560L1405.1 548.6L1408.1 533.9L1411.1 516.3L1414 496.7L1417 477.2L1420 460.1L1423 448.1L1426 443.2L1429 446.4L1432 457.6L1434.9 475.2L1437.9 496.7L1440.9 519.6L1443.9 541.3L1446.9 560.3L1449.9 575.7L1452.8 587.5L1455.8 596L1458.8 601.9L1461.8 606L1464.8 608.8L1467.8 610.8L1470.8 612.2L1473.7 613.4L1476.7 614.3L1479.7 615.1L1482.7 615.8L1485.7 616.3L1488.7 616.9L1491.7 617.3L1494.6 617.7L1497.6 618.1L1500.6 618.4L1503.6 618.8L1506.6 619L1509.6 619.3L1512.5 619.5L1515.5 619.8L1518.5 620L1521.5 620.1L1524.5 620.3L1527.5 620.5L1530.5 620.6L1533.4 620.7L1536.4 620.8L1539.4 620.9L1542.4 621L1545.4 621.1L1548.4 621.1L1551.4 621.2L1554.3 621.2L1557.3 621.3L1560.3 621.3L1563.3 621.3L1566.3 621.3L1569.3 621.3L1572.2 621.4L1575.2 621.4L1578.2 621.4L1581.2 621.4L1584.2 621.4L1587.2 621.4L1590.2 621.4L1593.1 621.4L1596.1 621.4L1599.1 621.4L1602.1 621.4L1605.1 621.4L1608.1 621.4L1611.1 621.4L1614 621.4L1617 621.4L1620 621.4L1623 621.4L1626 621.4L1629 621.4L1631.9 621.4L1634.9 621.4L1637.9 621.4L1640.9 621.4L1643.9 621.4L1646.9 621.4L1649.9 621.4L1652.8 621.4L1655.8 621.4L1658.8 621.4L1661.8 621.4L1664.8 621.4L1667.8 621.4L1670.8 621.4L1673.7 621.4L1676.7 621.4L1679.7 621.4L1682.7 621.4L1685.7 621.4L1688.7 621.4L1691.6 621.4L1694.6 621.4L1697.6 621.4L1700.6 621.4L1703.6 621.4L1706.6 621.4L1709.6 621.4L1712.5 621.4L1715.5 621.4L1718.5 621.4L1721.5 621.4L1721.3 621.4z" fill="rgba(160,105,180,0.55)"/><path d="M1721.3 621.4L1721.3 620.9L1721.3 623.3L1721.3 625.7L1721.3 628.1L1721.3 630.5L1721.3 632.9L1721.3 635.3L1721.3 637.7L1721.3 640.1L1721.3 642.5L1721.3 644.9L1721.3 647.3L1721.3 649.7L1721.3 652.1L1721.3 654.5L1721.3 656.9L1721.3 659.3L1721.3 661.7L1721.3 664.1L1721.3 666.5L1721.3 668.9L1721.3 671.3L1721.3 673.7L1721.3 676.1L1721.3 678.5L1721.3 680.9L1721.3 683.3L1721.3 685.7L1721.3 688.1L1721.3 690.5L1721.3 692.9L1721.3 695.3L1721.3 697.7L1721.3 700.1L1721.3 702.5L1721.3 704.9L1721.3 707.3L1721.3 709.7L1721.4 712.1L1721.4 714.5L1721.4 716.9L1721.4 719.3L1721.4 721.7L1721.5 724.1L1721.5 726.5L1721.5 728.9L1721.6 731.3L1721.6 733.7L1721.7 736.1L1721.8 738.5L1721.9 740.9L1722 743.3L1722.1 745.7L1722.2 748.1L1722.3 750.5L1722.5 752.9L1722.6 755.3L1722.8 757.7L1723 760.1L1723.2 762.5L1723.4 764.9L1723.6 767.3L1723.8 769.7L1724.1 772.1L1724.3 774.5L1724.6 776.9L1724.9 779.3L1725.2 781.7L1725.6 784.1L1726 786.5L1726.4 788.9L1726.8 791.3L1727.3 793.7L1727.8 796.1L1728.4 798.5L1729 800.9L1729.6 803.3L1730.3 805.7L1731.1 808.1L1731.9 810.5L1732.7 812.9L1733.6 815.3L1734.6 817.7L1735.5 820.1L1736.5 822.5L1737.4 824.9L1738.4 827.3L1739.3 829.7L1740.2 832.1L1741 834.5L1741.8 836.9L1742.4 839.3L1743.1 841.7L1743.6 844.1L1744.1 846.5L1744.7 848.9L1745.3 851.3L1746 853.7L1747 856.1L1748.4 858.5L1750.3 860.9L1753 863.3L1756.7 865.7L1761.5 868.1L1767.6 870.5L1775 872.9L1783.9 875.3L1794.1 877.7L1805.3 880.1L1817.4 882.5L1829.9 884.9L1842.3 887.3L1854.2 889.7L1865 892.1L1874.4 894.5L1882.1 896.9L1887.8 899.3L1891.6 901.7L1893.5 904.1L1893.7 906.5L1892.5 908.9L1890.1 911.3L1886.9 913.7L1883.1 916.1L1878.8 918.5L1874.2 920.9L1869.4 923.3L1864.3 925.7L1859 928.1L1853.5 930.5L1847.7 932.9L1841.8 935.3L1835.8 937.7L1829.6 940.1L1823.3 942.5L1817 944.9L1810.6 947.3L1804.3 949.7L1798.1 952.1L1791.9 954.5L1785.8 956.9L1779.9 959.3L1774 961.7L1768.4 964.1L1763 966.5L1757.8 968.9L1753 971.3L1748.4 973.7L1744.3 976.1L1740.5 978.5L1737.1 980.9L1734.2 983.3L1731.7 985.7L1729.5 988.1L1727.7 990.5L1726.2 992.9L1725 995.3L1724.1 997.7L1723.3 1000.1L1722.8 1002.5L1722.4 1004.9L1722 1007.3L1721.8 1009.7L1721.7 1012.1L1721.5 1014.5L1721.5 1016.9L1721.4 1019.3L1721.4 1021.7L1721.3 1024.1L1721.3 1026.5L1721.3 1028.9L1721.3 1031.3L1721.3 1033.7L1721.3 1036.1L1721.3 1038.5L1721.3 1040.9L1721.3 1043.3L1721.3 1045.7L1721.3 1048.1L1721.3 1050.5L1721.3 1052.9L1721.3 1055.3L1721.3 1057.7L1721.3 1060.1L1721.3 1062.5L1721.3 1064.9L1721.3 1067.3L1721.3 1069.7L1721.3 1072.1L1721.3 1074.5L1721.3 1076.9L1721.3 1079.3L1721.3 1081.7L1721.3 1084.1L1721.3 1086.5L1721.3 1088.9L1721.3 1091.3L1721.3 1093.7L1721.3 1096.1L1721.3 1098.5L1721.3 1100.9L1721.3 1100.6z" fill="rgba(141,212,205,0.52)"/><path d="M1721.3 621.4L1721.3 620.9L1721.3 623.3L1721.3 625.7L1721.3 628.1L1721.3 630.5L1721.3 632.9L1721.3 635.3L1721.3 637.7L1721.3 640.1L1721.3 642.5L1721.3 644.9L1721.3 647.3L1721.3 649.7L1721.3 652.1L1721.3 654.5L1721.3 656.9L1721.3 659.3L1721.3 661.7L1721.3 664.1L1721.3 666.5L1721.3 668.9L1721.3 671.3L1721.3 673.7L1721.3 676.1L1721.3 678.5L1721.3 680.9L1721.3 683.3L1721.3 685.7L1721.3 688.1L1721.3 690.5L1721.3 692.9L1721.3 695.3L1721.3 697.7L1721.3 700.1L1721.3 702.5L1721.3 704.9L1721.3 707.3L1721.3 709.7L1721.3 712.1L1721.3 714.5L1721.3 716.9L1721.3 719.3L1721.3 721.7L1721.3 724.1L1721.3 726.5L1721.3 728.9L1721.3 731.3L1721.3 733.7L1721.3 736.1L1721.3 738.5L1721.3 740.9L1721.3 743.3L1721.3 745.7L1721.3 748.1L1721.3 750.5L1721.4 752.9L1721.4 755.3L1721.4 757.7L1721.4 760.1L1721.4 762.5L1721.5 764.9L1721.5 767.3L1721.6 769.7L1721.6 772.1L1721.7 774.5L1721.8 776.9L1721.9 779.3L1722 781.7L1722.2 784.1L1722.4 786.5L1722.6 788.9L1722.9 791.3L1723.2 793.7L1723.5 796.1L1723.9 798.5L1724.4 800.9L1724.9 803.3L1725.5 805.7L1726.2 808.1L1727 810.5L1727.8 812.9L1728.8 815.3L1729.9 817.7L1731.1 820.1L1732.4 822.5L1733.8 824.9L1735.4 827.3L1737.2 829.7L1739.2 832.1L1741.4 834.5L1743.9 836.9L1746.8 839.3L1750.2 841.7L1754 844.1L1758.6 846.5L1763.9 848.9L1770.2 851.3L1777.5 853.7L1785.8 856.1L1795.4 858.5L1805.9 860.9L1817.5 863.3L1829.7 865.7L1842.3 868.1L1854.9 870.5L1866.9 872.9L1877.8 875.3L1887.1 877.7L1894.3 880.1L1899 882.5L1901.1 884.9L1900.3 887.3L1896.8 889.7L1890.9 892.1L1883 894.5L1873.5 896.9L1863.1 899.3L1852.3 901.7L1841.6 904.1L1831.5 906.5L1822.5 908.9L1814.7 911.3L1808.5 913.7L1803.9 916.1L1800.8 918.5L1799.3 920.9L1799.2 923.3L1800.4 925.7L1802.5 928.1L1805.5 930.5L1809.1 932.9L1812.9 935.3L1816.9 937.7L1820.6 940.1L1824 942.5L1826.8 944.9L1828.8 947.3L1829.9 949.7L1830.1 952.1L1829.3 954.5L1827.5 956.9L1824.9 959.3L1821.5 961.7L1817.5 964.1L1813 966.5L1808.1 968.9L1803 971.3L1797.8 973.7L1792.7 976.1L1787.7 978.5L1783 980.9L1778.4 983.3L1774.2 985.7L1770.2 988.1L1766.4 990.5L1763 992.9L1759.7 995.3L1756.7 997.7L1753.9 1000.1L1751.2 1002.5L1748.8 1004.9L1746.5 1007.3L1744.4 1009.7L1742.5 1012.1L1740.7 1014.5L1739.1 1016.9L1737.6 1019.3L1736.3 1021.7L1735.2 1024.1L1734.2 1026.5L1733.3 1028.9L1732.5 1031.3L1731.8 1033.7L1731.3 1036.1L1730.7 1038.5L1730.3 1040.9L1729.9 1043.3L1729.5 1045.7L1729.2 1048.1L1728.9 1050.5L1728.6 1052.9L1728.3 1055.3L1728 1057.7L1727.7 1060.1L1727.4 1062.5L1727.1 1064.9L1726.8 1067.3L1726.5 1069.7L1726.2 1072.1L1725.9 1074.5L1725.6 1076.9L1725.3 1079.3L1725 1081.7L1724.7 1084.1L1724.4 1086.5L1724.1 1088.9L1723.8 1091.3L1723.6 1093.7L1723.3 1096.1L1723.1 1098.5L1722.9 1100.9L1721.3 1100.6z" fill="rgba(160,105,180,0.55)"/><path d="M1124.4 908.9H1721.3M1423 621.4V1100.6" stroke="#8c8c8c" stroke-width="1.5" stroke-dasharray="8.5 6"/><path d="M1434 957h0M1474 903h0M1486 1036h0M1476 843h0M1500 885h0M1291 951h0M1369 885h0M1441 927h0M1460 871h0M1377 960h0M1414 987h0M1378 968h0M1418 831h0M1405 908h0M1344 858h0M1355 980h0M1453 899h0M1429 903h0M1427 968h0M1390 856h0M1322 948h0M1353 927h0M1457 897h0M1362 923h0M1358 966h0M1344 915h0M1382 946h0M1439 872h0M1343 908h0M1470 915h0M1402 838h0M1474 809h0M1415 943h0M1348 895h0M1400 847h0M1366 995h0M1345 881h0M1383 942h0M1497 847h0M1372 900h0M1477 963h0M1422 923h0M1393 977h0M1472 884h0M1385 923h0M1407 898h0M1366 886h0M1361 991h0M1411 919h0M1307 914h0M1448 834h0M1438 921h0M1386 946h0M1439 943h0M1315 919h0M1357 906h0M1380 927h0M1454 883h0M1393 946h0M1404 939h0M1449 915h0M1493 919h0M1451 917h0M1478 866h0M1354 910h0M1336 899h0M1345 898h0M1361 844h0M1472 905h0M1458 957h0M1380 965h0M1449 901h0M1382 876h0M1433 1015h0M1471 919h0M1437 881h0M1344 934h0M1461 981h0M1391 914h0M1452 928h0M1430 868h0M1514 936h0M1386 876h0M1446 867h0M1436 876h0M1390 968h0M1448 946h0M1429 802h0M1373 863h0M1441 866h0M1337 963h0M1412 926h0M1383 978h0M1408 859h0M1328 860h0M1468 878h0M1392 1028h0M1420 966h0M1357 950h0M1332 884h0M1383 870h0M1416 921h0M1425 940h0M1252 839h0M1438 893h0M1380 799h0M1426 871h0M1373 861h0M1338 842h0M1401 914h0M1396 948h0M1409 896h0M1395 884h0M1497 932h0M1434 886h0M1410 914h0M1343 951h0M1381 937h0M1384 824h0M1444 941h0M1445 930h0M1380 1008h0M1406 963h0M1417 918h0M1401 926h0M1293 910h0M1434 959h0M1396 897h0M1430 938h0M1400 954h0M1445 980h0M1314 987h0M1479 932h0M1428 891h0M1376 877h0M1385 868h0M1504 798h0M1461 886h0M1436 900h0M1322 946h0M1312 897h0M1443 867h0M1406 957h0M1391 872h0M1484 888h0M1426 960h0M1435 907h0M1462 900h0M1509 978h0M1380 928h0M1344 885h0M1588 843h0M1424 870h0M1450 906h0M1456 1009h0M1461 951h0M1460 876h0M1412 889h0M1478 911h0M1430 827h0M1450 896h0M1467 849h0M1420 958h0M1533 892h0M1446 921h0M1395 929h0M1464 933h0M1319 860h0M1387 937h0M1519 935h0M1456 924h0M1443 905h0M1399 961h0M1406 950h0M1376 912h0M1436 922h0M1411 914h0M1484 955h0M1443 965h0M1351 978h0M1344 925h0M1486 930h0M1408 909h0M1409 915h0M1399 884h0M1458 876h0M1485 956h0M1419 851h0M1467 922h0M1409 964h0M1396 995h0M1471 888h0M1344 936h0M1467 847h0M1411 991h0M1508 828h0M1418 906h0M1419 858h0M1443 877h0M1413 862h0M1433 880h0M1437 944h0M1355 897h0M1355 869h0M1382 934h0M1410 843h0M1460 891h0M1393 971h0M1436 947h0M1400 947h0M1437 910h0M1309 951h0M1477 931h0M1469 871h0M1401 866h0M1559 907h0M1430 874h0M1454 831h0M1475 911h0M1431 903h0M1424 942h0M1367 849h0M1339 899h0M1383 875h0M1455 965h0M1477 856h0M1412 915h0M1342 950h0M1413 958h0M1416 924h0M1438 870h0M1440 900h0M1328 837h0M1409 984h0M1441 867h0M1484 936h0M1342 862h0M1302 912h0M1347 921h0M1337 808h0M1392 957h0M1456 964h0M1464 945h0M1306 891h0M1295 927h0M1440 971h0M1418 939h0M1444 978h0M1446 898h0M1426 920h0M1472 819h0M1493 950h0M1381 814h0M1356 899h0M1319 962h0M1433 928h0M1430 899h0M1342 890h0M1452 894h0M1382 935h0M1314 858h0M1259 869h0M1361 755h0M1373 789h0M1234 954h0M1537 861h0M1532 959h0M1537 989h0M1527 1021h0M1537 816h0M1463 784h0" stroke="#8ed5ce" stroke-opacity="0.62" stroke-width="8.6" stroke-linecap="round"/><path d="M1402 849h0M1439 888h0M1417 911h0M1474 923h0M1451 931h0M1398 893h0M1474 905h0M1391 947h0M1458 870h0M1362 996h0M1375 897h0M1408 902h0M1491 988h0M1400 1009h0M1448 910h0M1390 877h0M1429 856h0M1458 868h0M1429 911h0M1474 894h0M1422 933h0M1477 1006h0M1372 966h0M1393 906h0M1425 873h0M1382 980h0M1311 870h0M1469 864h0M1484 962h0M1457 923h0M1353 897h0M1471 992h0M1482 902h0M1398 967h0M1469 959h0M1494 877h0M1437 850h0M1455 900h0M1353 885h0M1411 916h0M1352 944h0M1566 964h0M1478 925h0M1400 922h0M1395 900h0M1359 972h0M1419 915h0M1461 891h0M1443 977h0M1423 943h0M1401 928h0M1361 841h0M1369 868h0M1477 944h0M1423 947h0M1449 912h0M1418 856h0M1403 942h0M1379 923h0M1389 923h0M1431 962h0M1374 923h0M1468 885h0M1394 880h0M1458 859h0M1460 825h0M1374 895h0M1419 856h0M1464 908h0M1396 1008h0M1466 974h0M1404 885h0M1366 898h0M1431 929h0M1401 948h0M1453 928h0M1471 850h0M1363 949h0M1536 957h0M1443 875h0M1414 906h0M1366 936h0M1372 896h0M1419 885h0M1334 959h0M1427 926h0M1391 887h0M1408 919h0M1373 974h0M1408 1015h0M1431 874h0M1424 842h0M1498 925h0M1409 912h0M1439 928h0M1340 940h0M1391 881h0M1442 971h0M1384 847h0M1517 947h0M1442 845h0M1445 834h0M1441 933h0M1373 904h0M1388 970h0M1460 1021h0M1428 911h0M1424 947h0M1434 918h0M1489 847h0M1352 977h0M1408 926h0M1424 950h0M1457 920h0M1411 829h0M1355 887h0M1434 943h0M1352 915h0M1468 901h0M1441 946h0M1293 910h0M1425 920h0M1311 862h0M1449 928h0M1358 885h0M1425 984h0M1452 938h0M1414 865h0M1559 846h0M1378 922h0M1457 923h0M1436 898h0M1415 889h0M1439 826h0M1438 864h0M1423 938h0M1369 885h0M1388 933h0M1294 926h0M1401 970h0M1405 898h0M1413 955h0M1436 882h0M1388 915h0M1375 934h0M1493 892h0M1479 893h0M1562 911h0M1406 930h0M1436 881h0M1420 917h0M1422 895h0M1474 875h0M1345 813h0M1448 957h0M1440 964h0M1458 840h0M1511 925h0M1416 985h0M1392 953h0M1403 919h0M1378 899h0M1427 904h0M1385 868h0M1508 925h0M1393 942h0M1328 831h0M1507 962h0M1477 997h0M1445 922h0M1381 959h0M1411 909h0M1426 968h0M1461 881h0M1399 942h0M1386 865h0M1409 856h0M1413 897h0M1346 927h0M1408 842h0M1364 945h0M1423 997h0M1491 937h0M1416 907h0M1378 980h0M1422 932h0M1403 966h0M1406 866h0M1422 901h0M1501 896h0M1491 943h0M1331 950h0M1436 985h0M1421 913h0M1398 862h0M1488 915h0M1374 910h0M1390 914h0M1427 903h0M1456 927h0M1299 845h0M1431 896h0M1429 916h0M1392 924h0M1442 933h0M1487 861h0M1430 885h0M1495 870h0M1516 929h0M1365 825h0M1415 941h0M1412 878h0M1432 914h0M1503 910h0M1429 953h0M1422 882h0M1406 915h0M1448 924h0M1399 939h0M1451 887h0M1419 913h0M1451 915h0M1487 888h0M1403 878h0M1324 912h0M1380 885h0M1370 965h0M1441 858h0M1383 907h0M1387 980h0M1422 953h0M1445 883h0M1407 902h0M1426 856h0M1368 920h0M1504 983h0M1300 942h0M1405 926h0M1358 886h0M1406 932h0M1391 902h0M1460 866h0M1480 939h0M1426 929h0M1380 979h0M1442 911h0M1468 885h0M1415 904h0M1429 929h0M1402 850h0M1396 898h0M1306 891h0M1492 970h0M1495 988h0M1449 926h0M1355 941h0M1474 909h0M1412 903h0M1395 943h0M1395 922h0M1289 859h0M1284 880h0M1338 784h0M1378 803h0M1264 944h0M1542 869h0M1518 957h0M1562 990h0M1513 1041h0M1513 794h0M1443 789h0" stroke="#8ed5ce" stroke-opacity="0.62" stroke-width="8.6" stroke-linecap="round"/><path d="M1304 918h0M1449 892h0M1446 852h0M1372 880h0M1552 983h0M1498 943h0M1483 869h0M1352 938h0M1456 895h0M1380 841h0M1379 898h0M1433 892h0M1480 917h0M1356 895h0M1397 921h0M1513 944h0M1417 883h0M1382 922h0M1449 929h0M1466 924h0M1414 922h0M1413 788h0M1434 911h0M1392 856h0M1403 922h0M1315 996h0M1529 946h0M1427 813h0M1422 951h0M1404 867h0M1460 869h0M1426 913h0M1437 863h0M1458 866h0M1438 912h0M1367 950h0M1387 906h0M1373 972h0M1346 917h0M1440 950h0M1424 948h0M1426 860h0M1361 1013h0M1452 897h0M1399 944h0M1344 943h0M1464 952h0M1430 950h0M1418 905h0M1424 969h0M1385 926h0M1452 877h0M1453 883h0M1442 958h0M1422 849h0M1371 911h0M1439 879h0M1435 908h0M1438 915h0M1423 823h0M1419 835h0M1428 955h0M1369 941h0M1294 880h0M1440 881h0M1438 929h0M1414 972h0M1305 1024h0M1433 927h0M1436 1033h0M1387 898h0M1439 919h0M1406 884h0M1400 936h0M1418 913h0M1336 945h0M1448 876h0M1438 864h0M1395 944h0M1406 932h0M1423 947h0M1365 893h0M1399 872h0M1464 891h0M1350 952h0M1441 871h0M1320 967h0M1317 954h0M1438 944h0M1432 1004h0M1440 898h0M1450 929h0M1417 961h0M1415 934h0M1397 901h0M1433 886h0M1385 902h0M1385 929h0M1404 1008h0M1459 970h0M1426 931h0M1389 931h0M1369 941h0M1452 881h0M1489 905h0M1422 900h0M1481 914h0M1442 913h0M1443 826h0M1382 956h0M1438 928h0M1368 915h0M1481 931h0M1389 855h0M1396 930h0M1450 900h0M1409 961h0M1469 956h0M1386 932h0M1337 911h0M1497 865h0M1531 903h0M1359 919h0M1409 906h0M1459 902h0M1458 981h0M1328 1005h0M1420 920h0M1380 914h0M1345 863h0M1337 885h0M1461 842h0M1442 832h0M1424 863h0M1317 893h0M1429 969h0M1570 955h0M1472 905h0M1515 902h0M1458 931h0M1380 938h0M1399 932h0M1430 932h0M1424 863h0M1450 818h0M1347 964h0M1387 891h0M1369 936h0M1316 956h0M1441 945h0M1395 868h0M1568 928h0M1430 946h0M1371 911h0M1370 872h0M1442 889h0M1497 967h0M1483 899h0M1340 901h0M1488 858h0M1443 842h0M1401 924h0M1456 898h0M1335 926h0M1467 910h0M1386 963h0M1418 992h0M1437 918h0M1514 914h0M1467 859h0M1384 937h0M1446 932h0M1379 904h0M1458 962h0M1475 886h0M1426 895h0M1344 866h0M1487 858h0M1416 886h0M1409 881h0M1417 958h0M1460 945h0M1378 966h0M1401 897h0M1387 968h0M1470 847h0M1413 954h0M1324 900h0M1427 914h0M1442 936h0M1401 851h0M1465 856h0M1369 882h0M1453 901h0M1451 868h0M1432 867h0M1349 928h0M1465 924h0M1352 931h0M1426 954h0M1409 962h0M1441 804h0M1384 964h0M1374 891h0M1395 877h0M1423 926h0M1489 887h0M1390 902h0M1435 900h0M1454 896h0M1369 960h0M1314 871h0M1340 910h0M1406 914h0M1424 988h0M1438 920h0M1378 904h0M1383 1012h0M1441 931h0M1418 978h0M1410 991h0M1351 879h0M1470 885h0M1483 961h0M1404 926h0M1379 874h0M1258 871h0M1425 903h0M1295 930h0M1463 892h0M1388 927h0M1421 861h0M1417 862h0M1416 925h0M1416 934h0M1492 904h0M1401 888h0M1450 932h0M1519 977h0M1305 928h0M1460 867h0M1411 977h0M1476 885h0M1456 852h0M1478 914h0M1322 991h0M1449 887h0M1387 961h0M1319 964h0M1442 825h0M1442 1040h0M1480 900h0M1465 953h0M1408 873h0M1363 981h0M1477 897h0M1383 898h0M1444 930h0M1438 880h0M1417 913h0M1269 853h0M1319 832h0M1333 797h0M1368 813h0M1522 885h0M1547 962h0M1542 986h0M1518 997h0M1522 818h0M1498 808h0" stroke="#8ed5ce" stroke-opacity="0.62" stroke-width="8.6" stroke-linecap="round"/><path d="M1418 880h0M1443 963h0M1345 806h0M1341 973h0M1439 907h0M1394 911h0M1438 864h0M1403 841h0M1361 1062h0M1400 879h0M1406 971h0M1423 962h0M1399 1018h0M1400 974h0M1393 870h0M1437 987h0M1399 1001h0M1418 917h0M1425 902h0M1353 966h0M1412 994h0M1407 952h0M1428 893h0M1440 878h0M1417 1045h0M1350 1029h0M1446 829h0M1432 904h0M1390 941h0M1396 972h0M1412 859h0M1374 919h0M1387 814h0M1416 996h0M1420 831h0M1425 917h0M1418 907h0M1416 891h0M1410 941h0M1416 911h0M1428 943h0M1459 919h0M1450 906h0M1418 904h0M1367 975h0M1461 904h0M1457 846h0M1423 900h0M1431 1016h0M1431 905h0M1462 889h0M1449 828h0M1427 846h0M1426 849h0M1444 942h0M1352 913h0M1406 961h0M1403 889h0M1451 860h0M1439 840h0M1443 861h0M1429 984h0M1431 940h0M1455 891h0M1413 858h0M1438 940h0M1424 1059h0M1422 989h0M1432 934h0M1408 889h0M1375 1035h0M1398 997h0M1429 921h0M1410 897h0M1405 889h0M1423 919h0M1410 913h0M1428 972h0M1398 939h0M1423 834h0M1429 979h0M1456 963h0M1418 872h0M1462 865h0M1428 904h0M1416 930h0M1412 962h0M1451 863h0M1421 880h0M1427 949h0M1388 978h0M1398 959h0M1359 849h0M1385 947h0M1385 968h0M1412 946h0M1433 887h0M1404 986h0M1417 1037h0M1436 861h0M1428 808h0M1425 975h0M1440 883h0M1417 897h0M1424 962h0M1443 877h0M1420 890h0M1444 921h0M1399 871h0M1419 969h0M1438 856h0M1440 852h0M1416 983h0M1384 990h0M1403 915h0M1428 876h0M1439 871h0M1431 927h0M1383 1013h0M1409 877h0M1394 988h0M1442 904h0M1375 964h0M1452 845h0M1416 972h0M1415 940h0M1437 874h0M1431 1006h0M1407 880h0M1454 909h0M1420 844h0M1437 883h0M1447 878h0M1450 935h0M1440 860h0M1421 937h0M1422 974h0M1438 983h0M1427 868h0M1413 907h0M1419 885h0M1415 840h0M1440 931h0M1421 872h0M1402 942h0M1395 870h0M1408 823h0M1451 880h0M1406 975h0M1438 944h0M1404 929h0M1407 834h0M1409 976h0M1422 878h0M1424 874h0M1435 851h0M1376 913h0M1412 995h0M1436 840h0M1410 965h0M1450 733h0M1438 784h0M1314 845h0M1435 1053h0M1393 1062h0M1485 962h0" stroke="#a163b4" stroke-opacity="0.6" stroke-width="8.6" stroke-linecap="round"/><path d="M1409 946h0M1404 927h0M1405 839h0M1406 954h0M1425 889h0M1435 857h0M1417 989h0M1407 936h0M1385 871h0M1412 877h0M1437 903h0M1395 948h0M1436 942h0M1426 946h0M1435 954h0M1412 959h0M1399 1010h0M1431 874h0M1427 916h0M1454 972h0M1423 874h0M1402 891h0M1462 1000h0M1415 862h0M1429 947h0M1436 914h0M1453 896h0M1432 855h0M1413 876h0M1446 856h0M1431 971h0M1428 1023h0M1463 954h0M1450 789h0M1414 940h0M1395 897h0M1426 878h0M1431 859h0M1441 969h0M1380 960h0M1426 974h0M1436 864h0M1419 865h0M1445 840h0M1421 986h0M1429 989h0M1339 914h0M1411 848h0M1447 845h0M1411 894h0M1423 879h0M1451 890h0M1433 980h0M1421 1030h0M1451 913h0M1409 879h0M1499 891h0M1379 951h0M1408 926h0M1425 869h0M1380 962h0M1376 937h0M1418 876h0M1431 888h0M1385 944h0M1452 917h0M1419 885h0M1442 958h0M1438 973h0M1387 862h0M1410 966h0M1398 905h0M1434 895h0M1457 890h0M1436 895h0M1416 904h0M1449 869h0M1425 909h0M1402 910h0M1347 1006h0M1441 909h0M1419 878h0M1433 886h0M1406 952h0M1390 848h0M1408 1016h0M1426 942h0M1411 940h0M1415 986h0M1410 933h0M1397 926h0M1394 895h0M1425 882h0M1436 834h0M1390 946h0M1458 956h0M1467 919h0M1380 902h0M1428 870h0M1414 893h0M1446 894h0M1443 892h0M1403 929h0M1409 969h0M1401 852h0M1391 854h0M1317 849h0M1441 886h0M1401 902h0M1437 881h0M1429 883h0M1403 851h0M1444 909h0M1418 883h0M1354 1019h0M1440 877h0M1435 902h0M1427 916h0M1403 910h0M1401 986h0M1423 923h0M1428 920h0M1426 859h0M1413 859h0M1418 993h0M1442 880h0M1391 963h0M1407 848h0M1422 884h0M1410 910h0M1435 1037h0M1394 971h0M1417 930h0M1410 959h0M1430 929h0M1443 855h0M1415 1033h0M1425 986h0M1415 1019h0M1452 911h0M1339 852h0M1471 899h0M1449 949h0M1397 865h0M1434 963h0M1381 917h0M1397 945h0M1444 891h0M1386 977h0M1443 917h0M1444 977h0M1430 904h0M1446 899h0M1427 984h0M1440 999h0M1453 854h0M1423 899h0M1436 903h0M1445 937h0M1437 922h0M1447 765h0M1383 782h0M1241 936h0M1418 1085h0M1403 1067h0M1478 974h0" stroke="#a163b4" stroke-opacity="0.6" stroke-width="8.6" stroke-linecap="round"/><path d="M1381 942h0M1415 884h0M1416 930h0M1420 862h0M1443 940h0M1434 903h0M1419 936h0M1389 970h0M1427 875h0M1444 1025h0M1376 977h0M1433 1017h0M1427 953h0M1403 994h0M1460 845h0M1459 973h0M1402 917h0M1425 910h0M1419 979h0M1398 829h0M1420 886h0M1438 923h0M1425 979h0M1373 880h0M1426 927h0M1407 866h0M1403 966h0M1416 888h0M1415 878h0M1421 825h0M1420 965h0M1426 918h0M1417 982h0M1421 949h0M1427 875h0M1356 851h0M1448 903h0M1440 944h0M1429 937h0M1411 942h0M1400 962h0M1432 913h0M1430 865h0M1408 986h0M1413 916h0M1420 976h0M1446 858h0M1433 942h0M1411 884h0M1424 981h0M1404 914h0M1419 977h0M1383 984h0M1415 896h0M1426 873h0M1440 893h0M1428 1021h0M1440 897h0M1446 963h0M1443 984h0M1411 988h0M1434 897h0M1402 891h0M1418 1025h0M1421 913h0M1425 908h0M1421 878h0M1415 963h0M1443 867h0M1411 865h0M1414 979h0M1428 888h0M1396 1003h0M1420 793h0M1454 949h0M1412 984h0M1459 914h0M1425 853h0M1410 874h0M1461 854h0M1413 1030h0M1425 848h0M1416 944h0M1454 949h0M1411 975h0M1427 996h0M1408 805h0M1453 897h0M1418 904h0M1408 874h0M1408 950h0M1411 870h0M1425 937h0M1441 922h0M1428 877h0M1479 907h0M1348 1027h0M1409 991h0M1415 832h0M1449 855h0M1415 959h0M1418 985h0M1428 846h0M1417 853h0M1392 896h0M1416 961h0M1404 883h0M1422 872h0M1442 920h0M1430 904h0M1440 867h0M1417 914h0M1385 976h0M1413 979h0M1419 837h0M1358 923h0M1393 992h0M1379 940h0M1412 953h0M1394 847h0M1421 953h0M1399 965h0M1423 930h0M1393 943h0M1415 1031h0M1425 892h0M1453 933h0M1456 908h0M1431 929h0M1389 925h0M1378 951h0M1398 1019h0M1397 917h0M1428 875h0M1448 888h0M1426 858h0M1438 899h0M1440 946h0M1419 984h0M1444 942h0M1448 867h0M1415 927h0M1395 942h0M1404 898h0M1453 891h0M1439 929h0M1424 843h0M1389 987h0M1304 893h0M1404 946h0M1415 859h0M1434 933h0M1431 904h0M1438 955h0M1465 910h0M1416 953h0M1454 826h0M1425 911h0M1388 935h0M1436 975h0M1421 760h0M1388 813h0M1269 944h0M1373 1077h0M1368 1082h0" stroke="#a163b4" stroke-opacity="0.6" stroke-width="8.6" stroke-linecap="round"/><path d="M1416 925h0M1436 883h0M1430 881h0M1493 934h0M1445 939h0M1432 916h0M1433 893h0M1448 864h0M1373 1007h0M1423 845h0M1412 979h0M1456 980h0M1400 938h0M1432 871h0M1425 863h0M1447 863h0M1432 847h0M1462 874h0M1405 929h0M1448 946h0M1413 915h0M1424 891h0M1429 874h0M1343 899h0M1448 889h0M1410 1056h0M1411 968h0M1457 912h0M1395 921h0M1447 860h0M1441 856h0M1418 941h0M1436 895h0M1441 866h0M1444 886h0M1415 888h0M1408 879h0M1423 969h0M1432 872h0M1418 861h0M1464 930h0M1399 821h0M1363 952h0M1447 949h0M1437 1022h0M1426 902h0M1455 870h0M1439 964h0M1431 962h0M1424 901h0M1405 954h0M1419 939h0M1408 933h0M1437 829h0M1439 936h0M1409 954h0M1399 933h0M1426 918h0M1439 868h0M1421 881h0M1389 984h0M1482 995h0M1434 881h0M1431 905h0M1428 940h0M1443 900h0M1413 883h0M1435 852h0M1422 938h0M1438 1016h0M1428 888h0M1430 886h0M1405 955h0M1329 1044h0M1430 951h0M1466 869h0M1433 926h0M1428 928h0M1454 856h0M1405 875h0M1421 829h0M1425 841h0M1353 1056h0M1380 1007h0M1400 835h0M1374 933h0M1438 864h0M1428 862h0M1426 930h0M1442 878h0M1401 926h0M1408 904h0M1441 976h0M1401 972h0M1427 939h0M1390 922h0M1436 842h0M1430 865h0M1374 953h0M1420 868h0M1461 854h0M1428 956h0M1429 880h0M1394 1021h0M1444 879h0M1381 843h0M1410 934h0M1433 826h0M1450 904h0M1428 953h0M1426 904h0M1410 939h0M1406 939h0M1435 908h0M1412 803h0M1430 886h0M1446 901h0M1349 829h0M1408 930h0M1386 931h0M1478 850h0M1444 912h0M1429 889h0M1475 856h0M1420 879h0M1420 1018h0M1408 910h0M1438 923h0M1356 900h0M1427 880h0M1376 916h0M1414 923h0M1415 877h0M1398 928h0M1425 937h0M1424 837h0M1414 966h0M1424 1003h0M1413 876h0M1459 971h0M1421 864h0M1432 865h0M1399 930h0M1396 879h0M1371 993h0M1419 970h0M1387 863h0M1442 881h0M1427 874h0M1409 926h0M1415 875h0M1423 894h0M1397 1039h0M1392 950h0M1414 948h0M1400 1003h0M1439 921h0M1456 839h0M1431 848h0M1421 875h0M1420 776h0M1366 826h0M1478 1038h0M1381 1058h0M1375 1091h0" stroke="#a163b4" stroke-opacity="0.6" stroke-width="8.6" stroke-linecap="round"/><path d="M1432 895h0M1449 896h0M1376 977h0M1411 953h0M1438 857h0M1413 948h0M1412 910h0M1437 874h0M1432 997h0M1426 912h0M1415 882h0M1436 893h0M1402 950h0M1414 936h0M1414 959h0M1442 841h0M1424 951h0M1411 954h0M1404 980h0M1437 880h0M1406 941h0M1421 876h0M1401 935h0M1431 890h0M1412 963h0M1457 977h0M1434 867h0M1434 888h0M1411 945h0M1438 883h0M1420 978h0M1445 906h0M1431 888h0M1438 869h0M1442 978h0M1408 925h0M1396 951h0M1427 891h0M1438 864h0M1440 899h0M1433 981h0M1436 941h0M1415 910h0M1423 883h0M1419 890h0M1445 893h0M1424 888h0M1420 914h0M1418 924h0M1436 912h0M1439 888h0M1440 844h0M1440 985h0M1389 948h0M1450 870h0M1429 890h0M1439 867h0M1435 950h0M1430 869h0M1424 955h0M1400 922h0M1434 884h0M1406 990h0M1438 877h0M1426 994h0M1422 847h0M1440 898h0M1395 942h0M1441 894h0M1414 932h0M1429 925h0M1433 967h0M1452 928h0M1429 910h0M1431 924h0M1453 863h0M1435 943h0M1421 983h0M1418 876h0M1419 997h0M1436 957h0M1416 938h0M1438 902h0M1437 852h0M1422 928h0M1428 945h0M1428 901h0M1425 917h0M1440 899h0M1436 975h0M1433 944h0M1426 963h0M1417 902h0M1432 848h0M1420 880h0M1406 937h0M1419 920h0M1423 963h0M1445 948h0M1418 894h0M1415 888h0M1442 885h0M1394 912h0M1414 918h0M1427 883h0M1424 932h0M1427 874h0M1419 916h0M1446 890h0M1429 915h0M1432 961h0M1420 870h0M1399 916h0M1428 894h0M1426 897h0M1448 907h0M1402 961h0M1440 884h0M1425 967h0M1438 887h0M1445 912h0M1431 922h0M1418 906h0M1428 880h0M1439 866h0M1417 909h0M1439 876h0M1430 856h0M1437 887h0M1445 878h0M1449 854h0M1421 847h0M1406 936h0M1404 931h0M1440 896h0M1444 961h0M1410 936h0M1431 899h0M1434 849h0M1443 908h0" stroke="#a163b4" stroke-opacity="0.6" stroke-width="8.6" stroke-linecap="round"/><path d="M1422 877h0M1431 946h0M1442 883h0M1441 908h0M1430 867h0M1419 868h0M1412 892h0M1434 878h0M1407 953h0M1432 875h0M1436 887h0M1438 901h0M1454 877h0M1413 858h0M1440 883h0M1431 897h0M1418 897h0M1425 888h0M1419 980h0M1437 871h0M1416 849h0M1445 906h0M1421 900h0M1435 874h0M1389 974h0M1438 925h0M1417 891h0M1402 985h0M1427 888h0M1437 944h0M1450 875h0M1423 904h0M1407 964h0M1420 906h0M1410 916h0M1435 879h0M1439 879h0M1454 868h0M1442 856h0M1402 937h0M1392 936h0M1441 864h0M1426 881h0M1428 869h0M1415 977h0M1440 880h0M1436 902h0M1430 982h0M1412 951h0M1423 991h0M1432 885h0M1435 944h0M1424 901h0M1423 892h0M1439 921h0M1440 889h0M1409 947h0M1423 888h0M1449 892h0M1448 902h0M1424 929h0M1412 887h0M1431 873h0M1429 879h0M1424 878h0M1406 931h0M1429 840h0M1456 898h0M1438 900h0M1424 940h0M1421 890h0M1417 967h0M1428 968h0M1426 892h0M1427 964h0M1440 895h0M1427 876h0M1429 986h0M1408 990h0M1401 939h0M1412 984h0M1407 869h0M1442 857h0M1453 860h0M1420 883h0M1450 889h0M1436 893h0M1431 863h0M1420 907h0M1398 954h0M1403 970h0M1450 888h0M1437 890h0M1437 864h0M1428 880h0M1419 970h0M1443 877h0M1460 1013h0M1402 952h0M1437 872h0M1430 928h0M1407 944h0M1443 882h0M1433 898h0M1395 926h0M1438 908h0M1410 859h0M1413 882h0M1442 935h0M1389 967h0M1426 846h0M1435 892h0M1452 905h0M1421 927h0M1436 951h0M1425 876h0M1439 871h0M1424 858h0M1423 904h0M1429 902h0M1407 918h0M1430 879h0M1442 891h0M1413 882h0M1395 1006h0M1430 950h0M1387 931h0M1429 948h0M1401 939h0M1411 973h0M1449 893h0M1405 971h0M1426 929h0M1425 960h0M1420 887h0M1405 947h0M1445 949h0M1416 945h0M1426 913h0M1447 928h0" stroke="#a163b4" stroke-opacity="0.6" stroke-width="8.6" stroke-linecap="round"/><path d="M1426 897h0M1419 958h0M1400 940h0M1448 860h0M1453 890h0M1429 972h0M1418 878h0M1415 967h0M1419 866h0M1409 919h0M1401 1009h0M1415 896h0M1428 887h0M1421 935h0M1432 875h0M1416 875h0M1412 946h0M1444 904h0M1411 958h0M1445 865h0M1430 985h0M1431 930h0M1407 979h0M1425 879h0M1426 902h0M1406 941h0M1388 958h0M1423 929h0M1427 881h0M1426 897h0M1418 943h0M1413 943h0M1417 954h0M1447 841h0M1424 944h0M1442 966h0M1446 964h0M1415 841h0M1442 878h0M1406 947h0M1446 870h0M1424 962h0M1399 947h0M1439 949h0M1421 888h0M1433 857h0M1420 879h0M1419 954h0M1414 926h0M1424 886h0M1457 895h0M1425 895h0M1446 910h0M1443 890h0M1435 892h0M1437 920h0M1446 873h0M1419 939h0M1417 894h0M1428 861h0M1426 888h0M1426 866h0M1453 866h0M1385 922h0M1424 896h0M1425 912h0M1413 923h0M1425 843h0M1415 988h0M1427 869h0M1443 873h0M1419 986h0M1439 916h0M1419 883h0M1446 882h0M1432 848h0M1446 909h0M1433 919h0M1453 898h0M1435 859h0M1422 971h0M1429 924h0M1435 922h0M1412 943h0M1448 859h0M1419 978h0M1425 875h0M1423 876h0M1433 963h0M1444 938h0M1446 998h0M1440 857h0M1435 858h0M1449 882h0M1434 866h0M1428 854h0M1412 939h0M1410 959h0M1392 912h0M1425 940h0M1411 939h0M1427 864h0M1434 898h0M1412 918h0M1430 874h0M1428 905h0M1409 969h0M1417 894h0M1403 938h0M1426 974h0M1426 958h0M1445 968h0M1421 871h0M1404 952h0M1431 897h0M1419 923h0M1441 940h0M1455 940h0M1414 970h0M1441 871h0M1450 922h0M1401 978h0M1439 889h0M1434 884h0M1438 885h0M1444 903h0M1460 838h0M1430 961h0M1406 899h0M1419 885h0M1417 952h0M1436 952h0M1392 967h0M1448 910h0M1435 880h0M1437 944h0M1435 879h0M1399 944h0M1446 917h0M1393 916h0" stroke="#a163b4" stroke-opacity="0.6" stroke-width="8.6" stroke-linecap="round"/><path d="M1423 808.1V1014.5" stroke="#4a3a55" stroke-opacity="0.55" stroke-width="1.5" stroke-dasharray="8.5 6" stroke-dashoffset="2"/><path d="M1333.5 908.9H1457.8" stroke="#4a3a55" stroke-opacity="0.5" stroke-width="1.5" stroke-dasharray="8.5 6"/><path d="M1124.4 621.4H1721.3V1100.6M1124.4 621.4V1100.6H1721.3" stroke="#222" stroke-width="1.5"/><path d="M1118.4 1100.9H1124.4M1118.4 1004.9H1124.4M1118.4 908.9H1124.4M1118.4 812.9H1124.4M1118.4 716.9H1124.4M1118.4 620.9H1124.4M1124.5 1100.6V1106.6M1224 1100.6V1106.6M1323.5 1100.6V1106.6M1423 1100.6V1106.6M1522.5 1100.6V1106.6M1622 1100.6V1106.6M1721.5 1100.6V1106.6" stroke="#222" stroke-width="1.5"/><text x="1110.5" y="1107.9" font-size="20" text-anchor="end">−2</text><text x="1110.5" y="1011.9" font-size="20" text-anchor="end">−1</text><text x="1110.5" y="915.9" font-size="20" text-anchor="end">0</text><text x="1110.5" y="819.9" font-size="20" text-anchor="end">1</text><text x="1110.5" y="723.9" font-size="20" text-anchor="end">2</text><text x="1110.5" y="627.9" font-size="20" text-anchor="end">3</text><text x="1121.5" y="1132.5" font-size="20" text-anchor="middle">−3</text><text x="1221" y="1132.5" font-size="20" text-anchor="middle">−2</text><text x="1320.5" y="1132.5" font-size="20" text-anchor="middle">−1</text><text x="1423" y="1132.5" font-size="20" text-anchor="middle">0</text><text x="1522.5" y="1132.5" font-size="20" text-anchor="middle">1</text><text x="1622" y="1132.5" font-size="20" text-anchor="middle">2</text><text x="1721.5" y="1132.5" font-size="20" text-anchor="middle">3</text><circle cx="1391.4" cy="682.3" r="4.5" fill="#b184c0" stroke="#4d4d4d" stroke-width="1.2"/><text x="1332.5" y="677.6" font-size="20.5" font-style="italic" textLength="50" lengthAdjust="spacingAndGlyphs">Ccn3</text><circle cx="1233" cy="782.2" r="4.5" fill="#a6dcd7" stroke="#4d4d4d" stroke-width="1.2"/><text x="1165.7" y="775" font-size="20.5" font-style="italic" textLength="54.5" lengthAdjust="spacingAndGlyphs">Pygo1</text><circle cx="1379.2" cy="770.7" r="4.5" fill="#a6dcd7" stroke="#4d4d4d" stroke-width="1.2"/><text x="1382" y="765.4" font-size="20.5" font-style="italic" textLength="36.5" lengthAdjust="spacingAndGlyphs">Cilp</text><circle cx="1220" cy="824.4" r="4.5" fill="#a6dcd7" stroke="#4d4d4d" stroke-width="1.2"/><text x="1130.3" y="815.8" font-size="20.5" font-style="italic" textLength="92" lengthAdjust="spacingAndGlyphs">Adamts15</text><circle cx="1295.1" cy="841.7" r="4.5" fill="#a6dcd7" stroke="#4d4d4d" stroke-width="1.2"/><text x="1238.6" y="836.6" font-size="20.5" font-style="italic" textLength="47" lengthAdjust="spacingAndGlyphs">Tgfbi</text><circle cx="1458.8" cy="794.7" r="4.5" fill="#b184c0" stroke="#4d4d4d" stroke-width="1.2"/><text x="1458.7" y="789.4" font-size="20.5" font-style="italic" textLength="58.5" lengthAdjust="spacingAndGlyphs">Timp3</text><circle cx="1479.7" cy="804.3" r="4.5" fill="#a6dcd7" stroke="#4d4d4d" stroke-width="1.2"/><text x="1488" y="811.4" font-size="20.5" font-style="italic" textLength="69.5" lengthAdjust="spacingAndGlyphs">Col12a1</text><circle cx="1454.8" cy="834" r="4.5" fill="#a6dcd7" stroke="#4d4d4d" stroke-width="1.2"/><text x="1464.6" y="838" font-size="20.5" font-style="italic" textLength="32" lengthAdjust="spacingAndGlyphs">Lox</text><circle cx="1559.3" cy="851.3" r="4.5" fill="#a6dcd7" stroke="#4d4d4d" stroke-width="1.2"/><text x="1567.6" y="849.2" font-size="20.5" font-style="italic" textLength="60.5" lengthAdjust="spacingAndGlyphs">Npas3</text><circle cx="1487.7" cy="867.6" r="4.5" fill="#a6dcd7" stroke="#4d4d4d" stroke-width="1.2"/><text x="1494.7" y="879" font-size="20.5" font-style="italic" textLength="69.5" lengthAdjust="spacingAndGlyphs">Mmp16</text><circle cx="1470.8" cy="904.1" r="4.5" fill="#a6dcd7" stroke="#4d4d4d" stroke-width="1.2"/><text x="1477.8" y="906" font-size="20.5" font-style="italic" textLength="40.5" lengthAdjust="spacingAndGlyphs">Flnb</text><circle cx="1484.7" cy="939.6" r="4.5" fill="#a6dcd7" stroke="#4d4d4d" stroke-width="1.2"/><text x="1493" y="940.5" font-size="20.5" font-style="italic" textLength="57.5" lengthAdjust="spacingAndGlyphs">Ccnd1</text><circle cx="1458.8" cy="1024.1" r="4.5" fill="#b184c0" stroke="#4d4d4d" stroke-width="1.2"/><text x="1465.2" y="1026" font-size="20.5" font-style="italic" textLength="48.5" lengthAdjust="spacingAndGlyphs">Fgfr2</text><circle cx="1632" cy="1049.1" r="4.5" fill="#a6dcd7" stroke="#4d4d4d" stroke-width="1.2"/><text x="1635.3" y="1042.4" font-size="20.5" font-style="italic" textLength="68" lengthAdjust="spacingAndGlyphs">Apol9a</text><circle cx="1418" cy="1062.5" r="4.5" fill="#b184c0" stroke="#4d4d4d" stroke-width="1.2"/><text x="1424.5" y="1069.3" font-size="20.5" font-style="italic" textLength="73" lengthAdjust="spacingAndGlyphs">Col27a1</text><circle cx="1380.2" cy="1089.4" r="4.5" fill="#b184c0" stroke="#4d4d4d" stroke-width="1.2"/><text x="1305.3" y="1096.3" font-size="20.5" font-style="italic" textLength="57.5" lengthAdjust="spacingAndGlyphs">Sned1</text><circle cx="1366.3" cy="982.3" r="4.5" fill="#b184c0" stroke="#4d4d4d" stroke-width="1.2"/><text x="1275.2" y="1016.6" font-size="20.5" font-style="italic" textLength="57" lengthAdjust="spacingAndGlyphs">Sned1</text><circle cx="1347.4" cy="997.2" r="4.5" fill="#a6dcd7" stroke="#4d4d4d" stroke-width="1.2"/><circle cx="1184.2" cy="942.5" r="4.5" fill="#b184c0" stroke="#4d4d4d" stroke-width="1.2"/><text x="1128.8" y="931.1" font-size="20.5" font-style="italic" textLength="67" lengthAdjust="spacingAndGlyphs">Cmpk2</text><circle cx="1215" cy="955" r="4.5" fill="#a6dcd7" stroke="#4d4d4d" stroke-width="1.2"/><text x="1161.6" y="977.7" font-size="20.5" font-style="italic" textLength="46" lengthAdjust="spacingAndGlyphs">Saa3</text><text x="1289" y="495.5" font-size="24.5" textLength="96" lengthAdjust="spacingAndGlyphs">Aged CF</text><text x="1488" y="500.5" font-size="24.5" textLength="109" lengthAdjust="spacingAndGlyphs">Young CF</text><path d="M1382 502L1417.2 524.5M1485.7 502.6L1451.4 524.5" stroke="#000" stroke-width="1.3"/><circle cx="1589" cy="652" r="6.1" fill="#9ad8d2"/><circle cx="1589" cy="679.8" r="6.1" fill="#ab7cbd"/><text x="1604.5" y="660" font-size="21" textLength="93" lengthAdjust="spacingAndGlyphs">Young CF</text><text x="1604.5" y="687" font-size="21" textLength="82" lengthAdjust="spacingAndGlyphs">Aged CF</text><text x="1423" y="1172.4" font-size="24.5" text-anchor="middle" textLength="177" lengthAdjust="spacingAndGlyphs">Stiffness-driven</text><text x="1423" y="1205.4" font-size="24.5" text-anchor="middle" textLength="243" lengthAdjust="spacingAndGlyphs">log<tspan font-size="15" dy="5">2</tspan><tspan dy="-5">[FC] (normalized)</tspan></text><text font-size="24.5" text-anchor="middle" textLength="128" lengthAdjust="spacingAndGlyphs" transform="translate(1035 860) rotate(-90)">ECM-driven</text><text transform="translate(1066.7 860) rotate(-90)" font-size="24.5" text-anchor="middle" textLength="243" lengthAdjust="spacingAndGlyphs">log<tspan font-size="15" dy="5">2</tspan><tspan dy="-5">[FC] (normalized)</tspan></text><text x="112.5" y="1279.8" font-size="40" font-weight="bold" stroke="#000" stroke-width="1.3">f</text><text x="390.5" y="1277" font-size="40" font-weight="bold" stroke="#000" stroke-width="1.3">g</text><text x="672.5" y="1279.8" font-size="40" font-weight="bold" stroke="#000" stroke-width="1.3">h</text><text x="946.5" y="1279.8" font-size="40" font-weight="bold" stroke="#000" stroke-width="1.3">i</text><text x="1237" y="1277.5" font-size="40" font-weight="bold" stroke="#000" stroke-width="1.3">j</text><text x="265.5" y="1274" font-size="24" text-anchor="middle" font-style="italic" textLength="65" lengthAdjust="spacingAndGlyphs">Trp53</text><text x="547.5" y="1274" font-size="24" text-anchor="middle" font-style="italic" textLength="81" lengthAdjust="spacingAndGlyphs">Cdkn1a</text><text x="825.2" y="1274" font-size="24" text-anchor="middle" font-style="italic" textLength="54.5" lengthAdjust="spacingAndGlyphs">Ccn1</text><text x="1105" y="1274" font-size="24" text-anchor="middle" font-style="italic" textLength="70" lengthAdjust="spacingAndGlyphs">Timp3</text><text font-size="24.5" text-anchor="middle" textLength="122.5" lengthAdjust="spacingAndGlyphs" transform="translate(29.3 1496) rotate(-90)">Young CFs</text><text font-size="24.5" text-anchor="middle" textLength="108.5" lengthAdjust="spacingAndGlyphs" transform="translate(32.5 1754.7) rotate(-90)">Aged CFs</text><path d="M50 1346L50 1563.7" stroke="#333" stroke-width="1.5"/><path d="M50 1609.8L50 1827" stroke="#333" stroke-width="1.5"/><g transform="translate(19 1392) rotate(-90)"><path d="M-34.8 -9.9C-20.8 -10.6 -10.4 -15.7 -0.7 -16C8.7 -16 17.4 -9.9 32.3 -12.8C27.8 -4.8 29.5 3.2 34.8 8.3C20.8 10.6 10.4 16 0 16C-10.4 16 -20.8 11.2 -33.4 11.8C-31.3 8 -27.8 3.2 -24.3 0.8C-27.8 -2.4 -31.3 -6.4 -34.8 -9.9z" fill="#6699c8"/><ellipse cx="-1.7" cy="0.5" rx="11.5" ry="8.6" fill="#c5d8ea"/></g><g transform="translate(22.3 1657) rotate(-90)"><path d="M-34.8 -11.6C-20.8 -12.4 -10.4 -18.4 -0.7 -18.8C8.7 -18.8 17.4 -11.6 32.3 -15C27.8 -5.6 29.5 3.8 34.8 9.8C20.8 12.4 10.4 18.8 0 18.8C-10.4 18.8 -20.8 13.1 -33.4 13.9C-31.3 9.4 -27.8 3.8 -24.3 0.9C-27.8 -2.8 -31.3 -7.5 -34.8 -11.6z" fill="#033572"/><ellipse cx="-1.7" cy="0.6" rx="11.5" ry="10.1" fill="#809abb"/></g><text font-size="24.5" text-anchor="middle" textLength="32" lengthAdjust="spacingAndGlyphs" transform="translate(86.4 1451.6) rotate(-90)">FC</text><text font-size="24.5" text-anchor="middle" textLength="32" lengthAdjust="spacingAndGlyphs" transform="translate(86.4 1706.4) rotate(-90)">FC</text><rect x="172.4" y="1415.3" width="31.6" height="143.7" fill="#88d5cf" stroke="#222" stroke-width="1.2"/><path d="M188.2 1415.3V1413.3M179.7 1413.3H196.7" stroke="#222" stroke-width="1.4"/><rect x="222.2" y="1408" width="31.6" height="151.1" fill="#43ab9b" stroke="#222" stroke-width="1.2"/><path d="M238 1408V1400.4M229.5 1400.4H246.5" stroke="#222" stroke-width="1.4"/><rect x="272" y="1420.3" width="31.6" height="138.8" fill="#c2acd6" stroke="#222" stroke-width="1.2"/><path d="M287.8 1420.3V1413M279.3 1413H296.3" stroke="#222" stroke-width="1.4"/><rect x="321.7" y="1412.7" width="31.6" height="146.4" fill="#9b5db3" stroke="#222" stroke-width="1.2"/><path d="M337.5 1412.7V1398.9M329 1398.9H346" stroke="#222" stroke-width="1.4"/><circle cx="178.6" cy="1416.5" r="6.6" stroke="#555" stroke-width="1.15"/><circle cx="197.6" cy="1413" r="6.6" stroke="#555" stroke-width="1.15"/><circle cx="228.3" cy="1417.4" r="6.6" stroke="#555" stroke-width="1.15"/><circle cx="237.7" cy="1393.3" r="6.6" stroke="#555" stroke-width="1.15"/><circle cx="247.4" cy="1411.5" r="6.6" stroke="#555" stroke-width="1.15"/><circle cx="278.1" cy="1409.2" r="6.6" stroke="#555" stroke-width="1.15"/><circle cx="297.1" cy="1416.5" r="6.6" stroke="#555" stroke-width="1.15"/><circle cx="287.5" cy="1432" r="6.6" stroke="#555" stroke-width="1.15"/><circle cx="337.2" cy="1389.5" r="6.6" stroke="#555" stroke-width="1.15"/><circle cx="337.2" cy="1415.9" r="6.6" stroke="#555" stroke-width="1.15"/><circle cx="337.2" cy="1432.6" r="6.6" stroke="#555" stroke-width="1.15"/><path d="M155.2 1342.1V1559M148.4 1559H371.8M148.4 1342.1H155.2M148.4 1414.4H155.2M148.4 1486.7H155.2" stroke="#222" stroke-width="1.5"/><text x="137.7" y="1349.3" font-size="20" text-anchor="end" textLength="30.6" lengthAdjust="spacingAndGlyphs">1.5</text><text x="137.7" y="1421.6" font-size="20" text-anchor="end" textLength="30.6" lengthAdjust="spacingAndGlyphs">1.0</text><text x="137.7" y="1493.9" font-size="20" text-anchor="end" textLength="30.6" lengthAdjust="spacingAndGlyphs">0.5</text><text x="137.7" y="1566.2" font-size="20" text-anchor="end" textLength="11.5" lengthAdjust="spacingAndGlyphs">0</text><rect x="172.4" y="1685" width="31.6" height="131.7" fill="#88d5cf" stroke="#222" stroke-width="1.2"/><path d="M188.2 1685V1673.6M179.7 1673.6H196.7" stroke="#222" stroke-width="1.4"/><rect x="222.2" y="1661" width="31.6" height="155.7" fill="#43ab9b" stroke="#222" stroke-width="1.2"/><path d="M238 1661V1644.9M229.5 1644.9H246.5" stroke="#222" stroke-width="1.4"/><rect x="272" y="1642.6" width="31.6" height="174.2" fill="#c2acd6" stroke="#222" stroke-width="1.2"/><path d="M287.8 1642.6V1629.7M279.3 1629.7H296.3" stroke="#222" stroke-width="1.4"/><rect x="321.7" y="1673.6" width="31.6" height="143.1" fill="#9b5db3" stroke="#222" stroke-width="1.2"/><path d="M337.5 1673.6V1666.6M329 1666.6H346" stroke="#222" stroke-width="1.4"/><circle cx="178.6" cy="1671.2" r="6.6" stroke="#555" stroke-width="1.15"/><circle cx="197.6" cy="1677.7" r="6.6" stroke="#555" stroke-width="1.15"/><circle cx="187.9" cy="1703.4" r="6.6" stroke="#555" stroke-width="1.15"/><circle cx="237.7" cy="1634.1" r="6.6" stroke="#555" stroke-width="1.15"/><circle cx="237.7" cy="1659.5" r="6.6" stroke="#555" stroke-width="1.15"/><circle cx="237.7" cy="1685.9" r="6.6" stroke="#555" stroke-width="1.15"/><circle cx="278.1" cy="1623.8" r="6.6" stroke="#555" stroke-width="1.15"/><circle cx="297.1" cy="1637" r="6.6" stroke="#555" stroke-width="1.15"/><circle cx="287.5" cy="1662.5" r="6.6" stroke="#555" stroke-width="1.15"/><circle cx="337.2" cy="1659.5" r="6.6" stroke="#555" stroke-width="1.15"/><circle cx="327.9" cy="1680" r="6.6" stroke="#555" stroke-width="1.15"/><circle cx="346.9" cy="1677.7" r="6.6" stroke="#555" stroke-width="1.15"/><path d="M155.2 1599.5V1816.7M148.4 1816.7H371.8M148.4 1599.5H155.2M148.4 1672.1H155.2M148.4 1744.4H155.2" stroke="#222" stroke-width="1.5"/><text x="137.7" y="1606.7" font-size="20" text-anchor="end" textLength="30.6" lengthAdjust="spacingAndGlyphs">1.5</text><text x="137.7" y="1679.3" font-size="20" text-anchor="end" textLength="30.6" lengthAdjust="spacingAndGlyphs">1.0</text><text x="137.7" y="1751.6" font-size="20" text-anchor="end" textLength="30.6" lengthAdjust="spacingAndGlyphs">0.5</text><text x="137.7" y="1823.9" font-size="20" text-anchor="end" textLength="11.5" lengthAdjust="spacingAndGlyphs">0</text><text transform="translate(199.2 1835.7) rotate(-45)" font-size="20.5" text-anchor="end" textLength="52.1" lengthAdjust="spacingAndGlyphs">SoftY</text><text transform="translate(249 1835.7) rotate(-45)" font-size="20.5" text-anchor="end" textLength="50.6" lengthAdjust="spacingAndGlyphs">StiffY</text><text transform="translate(298.8 1835.7) rotate(-45)" font-size="20.5" text-anchor="end" textLength="52.1" lengthAdjust="spacingAndGlyphs">SoftA</text><text transform="translate(348.5 1835.7) rotate(-45)" font-size="20.5" text-anchor="end" textLength="50.6" lengthAdjust="spacingAndGlyphs">StiffA</text><text x="238.5" y="1598.7" font-size="17" text-anchor="middle"><tspan font-style="italic">P</tspan> = 0.0262</text><path d="M188.2 1605.4H288.8" stroke="#222" stroke-width="1.4"/><rect x="456.4" y="1451" width="31.6" height="106.9" fill="#88d5cf" stroke="#222" stroke-width="1.2"/><path d="M472.2 1451V1445.5M463.7 1445.5H480.7" stroke="#222" stroke-width="1.4"/><rect x="506.1" y="1404.5" width="31.6" height="153.4" fill="#43ab9b" stroke="#222" stroke-width="1.2"/><path d="M521.9 1404.5V1399.8M513.4 1399.8H530.4" stroke="#222" stroke-width="1.4"/><rect x="556.2" y="1409.4" width="31.6" height="148.4" fill="#c2acd6" stroke="#222" stroke-width="1.2"/><path d="M572 1409.4V1395.4M563.5 1395.4H580.5" stroke="#222" stroke-width="1.4"/><rect x="606" y="1370.5" width="31.6" height="187.4" fill="#9b5db3" stroke="#222" stroke-width="1.2"/><path d="M621.8 1370.5V1357M613.3 1357H630.3" stroke="#222" stroke-width="1.4"/><circle cx="462.2" cy="1454.8" r="6.6" stroke="#555" stroke-width="1.15"/><circle cx="481.2" cy="1445.2" r="6.6" stroke="#555" stroke-width="1.15"/><circle cx="512" cy="1408.6" r="6.6" stroke="#555" stroke-width="1.15"/><circle cx="521.3" cy="1396.9" r="6.6" stroke="#555" stroke-width="1.15"/><circle cx="531" cy="1405.1" r="6.6" stroke="#555" stroke-width="1.15"/><circle cx="562.3" cy="1395.4" r="6.6" stroke="#555" stroke-width="1.15"/><circle cx="581.4" cy="1396" r="6.6" stroke="#555" stroke-width="1.15"/><circle cx="571.7" cy="1432.9" r="6.6" stroke="#555" stroke-width="1.15"/><circle cx="621.8" cy="1350" r="6.6" stroke="#555" stroke-width="1.15"/><circle cx="621.8" cy="1366.1" r="6.6" stroke="#555" stroke-width="1.15"/><circle cx="621.8" cy="1391.9" r="6.6" stroke="#555" stroke-width="1.15"/><path d="M439.1 1341.2V1557.9M432.3 1557.9H655.4M432.3 1341.2H439.1M432.3 1395.4H439.1M432.3 1449.6H439.1M432.3 1503.7H439.1" stroke="#222" stroke-width="1.5"/><text x="421.6" y="1348.4" font-size="20" text-anchor="end" textLength="30.6" lengthAdjust="spacingAndGlyphs">2.0</text><text x="421.6" y="1402.6" font-size="20" text-anchor="end" textLength="30.6" lengthAdjust="spacingAndGlyphs">1.5</text><text x="421.6" y="1456.8" font-size="20" text-anchor="end" textLength="30.6" lengthAdjust="spacingAndGlyphs">1.0</text><text x="421.6" y="1510.9" font-size="20" text-anchor="end" textLength="30.6" lengthAdjust="spacingAndGlyphs">0.5</text><text x="421.6" y="1565.1" font-size="20" text-anchor="end" textLength="11.5" lengthAdjust="spacingAndGlyphs">0</text><rect x="456.4" y="1699.3" width="31.6" height="117.4" fill="#88d5cf" stroke="#222" stroke-width="1.2"/><path d="M472.2 1699.3V1691.1M463.7 1691.1H480.7" stroke="#222" stroke-width="1.4"/><rect x="506.1" y="1698.8" width="31.6" height="118" fill="#43ab9b" stroke="#222" stroke-width="1.2"/><path d="M521.9 1698.8V1692.6M513.4 1692.6H530.4" stroke="#222" stroke-width="1.4"/><rect x="556.2" y="1678.3" width="31.6" height="138.5" fill="#c2acd6" stroke="#222" stroke-width="1.2"/><path d="M572 1678.3V1670.9M563.5 1670.9H580.5" stroke="#222" stroke-width="1.4"/><rect x="606" y="1673.6" width="31.6" height="143.1" fill="#9b5db3" stroke="#222" stroke-width="1.2"/><path d="M621.8 1673.6V1665.4M613.3 1665.4H630.3" stroke="#222" stroke-width="1.4"/><circle cx="462.2" cy="1690.3" r="6.6" stroke="#555" stroke-width="1.15"/><circle cx="481.2" cy="1692.3" r="6.6" stroke="#555" stroke-width="1.15"/><circle cx="471.9" cy="1712.8" r="6.6" stroke="#555" stroke-width="1.15"/><circle cx="512" cy="1688.8" r="6.6" stroke="#555" stroke-width="1.15"/><circle cx="531" cy="1695.2" r="6.6" stroke="#555" stroke-width="1.15"/><circle cx="512" cy="1707.8" r="6.6" stroke="#555" stroke-width="1.15"/><circle cx="571.7" cy="1664.5" r="6.6" stroke="#555" stroke-width="1.15"/><circle cx="562.3" cy="1685.3" r="6.6" stroke="#555" stroke-width="1.15"/><circle cx="581.4" cy="1680" r="6.6" stroke="#555" stroke-width="1.15"/><circle cx="621.8" cy="1659.5" r="6.6" stroke="#555" stroke-width="1.15"/><circle cx="612.1" cy="1683.5" r="6.6" stroke="#555" stroke-width="1.15"/><circle cx="631.1" cy="1673.6" r="6.6" stroke="#555" stroke-width="1.15"/><path d="M439.1 1599.5V1816.7M432.3 1816.7H655.4M432.3 1599.5H439.1M432.3 1672.1H439.1M432.3 1744.4H439.1" stroke="#222" stroke-width="1.5"/><text x="421.6" y="1606.7" font-size="20" text-anchor="end" textLength="30.6" lengthAdjust="spacingAndGlyphs">1.5</text><text x="421.6" y="1679.3" font-size="20" text-anchor="end" textLength="30.6" lengthAdjust="spacingAndGlyphs">1.0</text><text x="421.6" y="1751.6" font-size="20" text-anchor="end" textLength="30.6" lengthAdjust="spacingAndGlyphs">0.5</text><text x="421.6" y="1823.9" font-size="20" text-anchor="end" textLength="11.5" lengthAdjust="spacingAndGlyphs">0</text><text transform="translate(483.2 1835.7) rotate(-45)" font-size="20.5" text-anchor="end" textLength="52.1" lengthAdjust="spacingAndGlyphs">SoftY</text><text transform="translate(532.9 1835.7) rotate(-45)" font-size="20.5" text-anchor="end" textLength="50.6" lengthAdjust="spacingAndGlyphs">StiffY</text><text transform="translate(583 1835.7) rotate(-45)" font-size="20.5" text-anchor="end" textLength="52.1" lengthAdjust="spacingAndGlyphs">SoftA</text><text transform="translate(632.8 1835.7) rotate(-45)" font-size="20.5" text-anchor="end" textLength="50.6" lengthAdjust="spacingAndGlyphs">StiffA</text><text x="572.6" y="1300.9" font-size="17" text-anchor="middle"><tspan font-style="italic">P</tspan> = 0.0403</text><path d="M522.2 1307.9H622.6" stroke="#222" stroke-width="1.4"/><text x="497.6" y="1328.2" font-size="17" text-anchor="middle"><tspan font-style="italic">P</tspan> = 0.0192</text><path d="M472.5 1334.8H522.8" stroke="#222" stroke-width="1.4"/><text x="597.5" y="1328.2" font-size="17" text-anchor="middle"><tspan font-style="italic">P</tspan> = 0.0255</text><path d="M572.6 1334.8H622.6" stroke="#222" stroke-width="1.4"/><text x="522.2" y="1358" font-size="17" text-anchor="middle"><tspan font-style="italic" font-weight="bold">P</tspan> = 0.0287</text><path d="M472.5 1366.4H572.6" stroke="#222" stroke-width="1.4"/><text x="572.3" y="1623.8" font-size="17" text-anchor="middle"><tspan font-style="italic">P</tspan> = 0.0272</text><path d="M522.2 1631H622.6" stroke="#222" stroke-width="1.4"/><rect x="733.6" y="1414.4" width="31.6" height="143.4" fill="#88d5cf" stroke="#222" stroke-width="1.2"/><path d="M749.4 1414.4V1406.5M740.9 1406.5H757.9" stroke="#222" stroke-width="1.4"/><rect x="783.4" y="1364.7" width="31.6" height="193.2" fill="#43ab9b" stroke="#222" stroke-width="1.2"/><path d="M799.2 1364.7V1362.6M790.7 1362.6H807.7" stroke="#222" stroke-width="1.4"/><rect x="833.4" y="1370.8" width="31.6" height="187.1" fill="#c2acd6" stroke="#222" stroke-width="1.2"/><path d="M849.2 1370.8V1359.7M840.7 1359.7H857.7" stroke="#222" stroke-width="1.4"/><rect x="883.3" y="1367.3" width="31.6" height="190.6" fill="#9b5db3" stroke="#222" stroke-width="1.2"/><path d="M899.1 1367.3V1359.1M890.6 1359.1H907.6" stroke="#222" stroke-width="1.4"/><circle cx="739.7" cy="1420.3" r="6.6" stroke="#555" stroke-width="1.15"/><circle cx="758.8" cy="1406.5" r="6.6" stroke="#555" stroke-width="1.15"/><circle cx="789.5" cy="1366.1" r="6.6" stroke="#555" stroke-width="1.15"/><circle cx="799.2" cy="1361.7" r="6.6" stroke="#555" stroke-width="1.15"/><circle cx="809.1" cy="1363.2" r="6.6" stroke="#555" stroke-width="1.15"/><circle cx="849.2" cy="1350" r="6.6" stroke="#555" stroke-width="1.15"/><circle cx="839.3" cy="1379.9" r="6.6" stroke="#555" stroke-width="1.15"/><circle cx="858.9" cy="1378.7" r="6.6" stroke="#555" stroke-width="1.15"/><circle cx="899.1" cy="1351.5" r="6.6" stroke="#555" stroke-width="1.15"/><circle cx="889.8" cy="1374.3" r="6.6" stroke="#555" stroke-width="1.15"/><circle cx="908.8" cy="1372" r="6.6" stroke="#555" stroke-width="1.15"/><path d="M716.6 1341.2V1557.9M709.8 1557.9H932.9M709.8 1341.2H716.6M709.8 1413.5H716.6M709.8 1485.6H716.6" stroke="#222" stroke-width="1.5"/><text x="699.1" y="1348.4" font-size="20" text-anchor="end" textLength="30.6" lengthAdjust="spacingAndGlyphs">1.5</text><text x="699.1" y="1420.7" font-size="20" text-anchor="end" textLength="30.6" lengthAdjust="spacingAndGlyphs">1.0</text><text x="699.1" y="1492.8" font-size="20" text-anchor="end" textLength="30.6" lengthAdjust="spacingAndGlyphs">0.5</text><text x="699.1" y="1565.1" font-size="20" text-anchor="end" textLength="11.5" lengthAdjust="spacingAndGlyphs">0</text><rect x="733.6" y="1696.4" width="31.6" height="120.3" fill="#88d5cf" stroke="#222" stroke-width="1.2"/><path d="M749.4 1696.4V1693.2M740.9 1693.2H757.9" stroke="#222" stroke-width="1.4"/><rect x="783.4" y="1698.2" width="31.6" height="118.6" fill="#43ab9b" stroke="#222" stroke-width="1.2"/><path d="M799.2 1698.2V1693.8M790.7 1693.8H807.7" stroke="#222" stroke-width="1.4"/><rect x="833.4" y="1693.5" width="31.6" height="123.2" fill="#c2acd6" stroke="#222" stroke-width="1.2"/><path d="M849.2 1693.5V1686.5M840.7 1686.5H857.7" stroke="#222" stroke-width="1.4"/><rect x="883.3" y="1673.6" width="31.6" height="143.1" fill="#9b5db3" stroke="#222" stroke-width="1.2"/><path d="M899.1 1673.6V1668.9M890.6 1668.9H907.6" stroke="#222" stroke-width="1.4"/><circle cx="739.7" cy="1701.1" r="6.6" stroke="#555" stroke-width="1.15"/><circle cx="749.1" cy="1690.3" r="6.6" stroke="#555" stroke-width="1.15"/><circle cx="758.8" cy="1694.7" r="6.6" stroke="#555" stroke-width="1.15"/><circle cx="789.5" cy="1702.6" r="6.6" stroke="#555" stroke-width="1.15"/><circle cx="799.2" cy="1690.3" r="6.6" stroke="#555" stroke-width="1.15"/><circle cx="809.1" cy="1697" r="6.6" stroke="#555" stroke-width="1.15"/><circle cx="839.3" cy="1682.4" r="6.6" stroke="#555" stroke-width="1.15"/><circle cx="839.3" cy="1703.4" r="6.6" stroke="#555" stroke-width="1.15"/><circle cx="858.9" cy="1694.7" r="6.6" stroke="#555" stroke-width="1.15"/><circle cx="889.8" cy="1678.6" r="6.6" stroke="#555" stroke-width="1.15"/><circle cx="899.1" cy="1668.3" r="6.6" stroke="#555" stroke-width="1.15"/><circle cx="908.8" cy="1669.8" r="6.6" stroke="#555" stroke-width="1.15"/><path d="M716.6 1599.5V1816.7M709.8 1816.7H932.9M709.8 1599.5H716.6M709.8 1672.1H716.6M709.8 1744.4H716.6" stroke="#222" stroke-width="1.5"/><text x="699.1" y="1606.7" font-size="20" text-anchor="end" textLength="30.6" lengthAdjust="spacingAndGlyphs">1.5</text><text x="699.1" y="1679.3" font-size="20" text-anchor="end" textLength="30.6" lengthAdjust="spacingAndGlyphs">1.0</text><text x="699.1" y="1751.6" font-size="20" text-anchor="end" textLength="30.6" lengthAdjust="spacingAndGlyphs">0.5</text><text x="699.1" y="1823.9" font-size="20" text-anchor="end" textLength="11.5" lengthAdjust="spacingAndGlyphs">0</text><text transform="translate(760.4 1835.7) rotate(-45)" font-size="20.5" text-anchor="end" textLength="52.1" lengthAdjust="spacingAndGlyphs">SoftY</text><text transform="translate(810.2 1835.7) rotate(-45)" font-size="20.5" text-anchor="end" textLength="50.6" lengthAdjust="spacingAndGlyphs">StiffY</text><text transform="translate(860.2 1835.7) rotate(-45)" font-size="20.5" text-anchor="end" textLength="52.1" lengthAdjust="spacingAndGlyphs">SoftA</text><text transform="translate(910.1 1835.7) rotate(-45)" font-size="20.5" text-anchor="end" textLength="50.6" lengthAdjust="spacingAndGlyphs">StiffA</text><text x="799.4" y="1301.8" font-size="17" text-anchor="middle"><tspan font-style="italic">P</tspan> = 0.0050</text><path d="M749 1310H849.2" stroke="#222" stroke-width="1.4"/><text x="774" y="1333.2" font-size="17" text-anchor="middle"><tspan font-style="italic" font-weight="bold">P</tspan> = 0.0025</text><path d="M749 1340.4H799.4" stroke="#222" stroke-width="1.4"/><text x="849.2" y="1592" font-size="17" text-anchor="middle"><tspan font-style="italic">P</tspan> = 0.0021</text><path d="M799.4 1599.7H899" stroke="#222" stroke-width="1.4"/><text x="874" y="1625" font-size="17" text-anchor="middle"><tspan font-style="italic">P</tspan> = 0.0066</text><path d="M848.6 1633.4H899" stroke="#222" stroke-width="1.4"/><rect x="1011.8" y="1504.3" width="31.6" height="52.7" fill="#88d5cf" stroke="#222" stroke-width="1.2"/><path d="M1027.6 1504.3V1497.9M1019.1 1497.9H1036.1" stroke="#222" stroke-width="1.4"/><rect x="1061.9" y="1474.1" width="31.6" height="82.8" fill="#43ab9b" stroke="#222" stroke-width="1.2"/><path d="M1077.7 1474.1V1472.4M1069.2 1472.4H1086.2" stroke="#222" stroke-width="1.4"/><rect x="1112" y="1409.2" width="31.6" height="147.8" fill="#c2acd6" stroke="#222" stroke-width="1.2"/><path d="M1127.8 1409.2V1397.4M1119.3 1397.4H1136.3" stroke="#222" stroke-width="1.4"/><rect x="1161.7" y="1406.2" width="31.6" height="150.8" fill="#9b5db3" stroke="#222" stroke-width="1.2"/><path d="M1177.5 1406.2V1393.9M1169 1393.9H1186" stroke="#222" stroke-width="1.4"/><circle cx="1018" cy="1509.6" r="6.6" stroke="#555" stroke-width="1.15"/><circle cx="1037" cy="1497.3" r="6.6" stroke="#555" stroke-width="1.15"/><circle cx="1067.8" cy="1476.8" r="6.6" stroke="#555" stroke-width="1.15"/><circle cx="1077.7" cy="1470.9" r="6.6" stroke="#555" stroke-width="1.15"/><circle cx="1087.4" cy="1473" r="6.6" stroke="#555" stroke-width="1.15"/><circle cx="1127.5" cy="1391.6" r="6.6" stroke="#555" stroke-width="1.15"/><circle cx="1127.5" cy="1407.7" r="6.6" stroke="#555" stroke-width="1.15"/><circle cx="1127.5" cy="1426.7" r="6.6" stroke="#555" stroke-width="1.15"/><circle cx="1177.2" cy="1384.6" r="6.6" stroke="#555" stroke-width="1.15"/><circle cx="1186.9" cy="1409.2" r="6.6" stroke="#555" stroke-width="1.15"/><circle cx="1167.9" cy="1423.2" r="6.6" stroke="#555" stroke-width="1.15"/><path d="M994.9 1340.4V1557M988.1 1557H1211.8M988.1 1340.4H994.9M988.1 1394.5H994.9M988.1 1448.7H994.9M988.1 1502.8H994.9" stroke="#222" stroke-width="1.5"/><text x="977.4" y="1347.6" font-size="20" text-anchor="end" textLength="30.6" lengthAdjust="spacingAndGlyphs">4.0</text><text x="977.4" y="1401.7" font-size="20" text-anchor="end" textLength="30.6" lengthAdjust="spacingAndGlyphs">3.0</text><text x="977.4" y="1455.9" font-size="20" text-anchor="end" textLength="30.6" lengthAdjust="spacingAndGlyphs">2.0</text><text x="977.4" y="1510" font-size="20" text-anchor="end" textLength="30.6" lengthAdjust="spacingAndGlyphs">1.0</text><text x="977.4" y="1564.2" font-size="20" text-anchor="end" textLength="11.5" lengthAdjust="spacingAndGlyphs">0</text><rect x="1011.8" y="1757.9" width="31.6" height="58.8" fill="#88d5cf" stroke="#222" stroke-width="1.2"/><path d="M1027.6 1757.9V1755.6M1019.1 1755.6H1036.1" stroke="#222" stroke-width="1.4"/><rect x="1061.9" y="1749.7" width="31.6" height="67" fill="#43ab9b" stroke="#222" stroke-width="1.2"/><path d="M1077.7 1749.7V1745M1069.2 1745H1086.2" stroke="#222" stroke-width="1.4"/><rect x="1112" y="1668.9" width="31.6" height="147.8" fill="#c2acd6" stroke="#222" stroke-width="1.2"/><path d="M1127.8 1668.9V1661M1119.3 1661H1136.3" stroke="#222" stroke-width="1.4"/><rect x="1161.7" y="1673.6" width="31.6" height="143.1" fill="#9b5db3" stroke="#222" stroke-width="1.2"/><path d="M1177.5 1673.6V1670.4M1169 1670.4H1186" stroke="#222" stroke-width="1.4"/><circle cx="1018" cy="1759.1" r="6.6" stroke="#555" stroke-width="1.15"/><circle cx="1027.4" cy="1754.7" r="6.6" stroke="#555" stroke-width="1.15"/><circle cx="1037" cy="1756.1" r="6.6" stroke="#555" stroke-width="1.15"/><circle cx="1067.8" cy="1753.2" r="6.6" stroke="#555" stroke-width="1.15"/><circle cx="1077.7" cy="1740.6" r="6.6" stroke="#555" stroke-width="1.15"/><circle cx="1087.4" cy="1751.7" r="6.6" stroke="#555" stroke-width="1.15"/><circle cx="1127.5" cy="1654.3" r="6.6" stroke="#555" stroke-width="1.15"/><circle cx="1118.1" cy="1674.8" r="6.6" stroke="#555" stroke-width="1.15"/><circle cx="1137.1" cy="1672.7" r="6.6" stroke="#555" stroke-width="1.15"/><circle cx="1167.9" cy="1677.1" r="6.6" stroke="#555" stroke-width="1.15"/><circle cx="1177.2" cy="1668.3" r="6.6" stroke="#555" stroke-width="1.15"/><circle cx="1186.9" cy="1671.2" r="6.6" stroke="#555" stroke-width="1.15"/><path d="M994.9 1599.5V1816.7M988.1 1816.7H1211.8M988.1 1599.5H994.9M988.1 1672.1H994.9M988.1 1744.4H994.9" stroke="#222" stroke-width="1.5"/><text x="977.4" y="1606.7" font-size="20" text-anchor="end" textLength="30.6" lengthAdjust="spacingAndGlyphs">1.5</text><text x="977.4" y="1679.3" font-size="20" text-anchor="end" textLength="30.6" lengthAdjust="spacingAndGlyphs">1.0</text><text x="977.4" y="1751.6" font-size="20" text-anchor="end" textLength="30.6" lengthAdjust="spacingAndGlyphs">0.5</text><text x="977.4" y="1823.9" font-size="20" text-anchor="end" textLength="11.5" lengthAdjust="spacingAndGlyphs">0</text><text transform="translate(1038.6 1835.7) rotate(-45)" font-size="20.5" text-anchor="end" textLength="52.1" lengthAdjust="spacingAndGlyphs">SoftY</text><text transform="translate(1088.7 1835.7) rotate(-45)" font-size="20.5" text-anchor="end" textLength="50.6" lengthAdjust="spacingAndGlyphs">StiffY</text><text transform="translate(1138.8 1835.7) rotate(-45)" font-size="20.5" text-anchor="end" textLength="52.1" lengthAdjust="spacingAndGlyphs">SoftA</text><text transform="translate(1188.5 1835.7) rotate(-45)" font-size="20.5" text-anchor="end" textLength="50.6" lengthAdjust="spacingAndGlyphs">StiffA</text><text x="1128.3" y="1327.8" font-size="17" text-anchor="middle"><tspan font-style="italic" font-weight="bold">P</tspan> = 0.0008</text><path d="M1077.7 1335.7H1178.7" stroke="#222" stroke-width="1.4"/><text x="1078" y="1364.7" font-size="17" text-anchor="middle"><tspan font-style="italic">P</tspan> = 0.0002</text><path d="M1028 1372.9H1128.6" stroke="#222" stroke-width="1.4"/><text x="1128.3" y="1598.6" font-size="17" text-anchor="middle"><tspan font-style="italic">P</tspan> &lt; 0.0001</text><path d="M1077.7 1605.9H1178" stroke="#222" stroke-width="1.4"/><text x="1078" y="1630.8" font-size="17" text-anchor="middle"><tspan font-style="italic">P</tspan> &lt; 0.0001</text><path d="M1028 1638.7H1128.6" stroke="#222" stroke-width="1.4"/><text font-size="24.5" text-anchor="middle" textLength="236" lengthAdjust="spacingAndGlyphs" transform="translate(1259 1449) rotate(-90)">TIMP3 intensity (a.u.)</text><text font-size="24.5" text-anchor="middle" textLength="236" lengthAdjust="spacingAndGlyphs" transform="translate(1259 1707) rotate(-90)">TIMP3 intensity (a.u.)</text><path d="M1307.8 1340.4V1557.3M1301 1557.3H1542M1301 1340.4H1307.8M1301 1394.5H1307.8M1301 1448.7H1307.8M1301 1502.8H1307.8" stroke="#222" stroke-width="1.5"/><text x="1290.3" y="1347.6" font-size="20" text-anchor="end">4</text><text x="1290.3" y="1401.7" font-size="20" text-anchor="end">3</text><text x="1290.3" y="1455.9" font-size="20" text-anchor="end">2</text><text x="1290.3" y="1510" font-size="20" text-anchor="end">1</text><text x="1290.3" y="1564.5" font-size="20" text-anchor="end">0</text><path d="M1360 1533.1h0M1344.5 1455.1h0M1344.5 1500.5h0M1336.8 1511.5h0M1346.3 1534.8h0M1336.8 1552h0M1335.4 1552h0M1341.9 1496.3h0M1357.4 1535.1h0M1332.8 1535.1h0M1350 1508.8h0M1349.5 1525.8h0M1354.6 1552h0M1340.5 1509.7h0M1327.6 1538.5h0M1347.1 1541.5h0M1336.7 1528.7h0M1343.4 1498h0M1335.6 1512h0M1327.3 1526.2h0M1353.9 1529.7h0M1346.4 1532.2h0M1358.7 1543.2h0M1353 1537.1h0M1342.9 1496.1h0M1353.5 1529.7h0M1357 1534.2h0M1349.7 1508.6h0M1356.7 1523.7h0M1354 1551.2h0M1331.8 1529.6h0M1332.7 1546.1h0M1328.3 1543h0M1344.8 1533.9h0M1355.7 1536h0M1341.6 1552h0M1343.3 1537.7h0M1330.3 1528.7h0M1344.2 1474.6h0M1341.2 1528.1h0M1341.9 1541.2h0M1346.7 1503.6h0M1344.1 1485h0M1335.9 1539.3h0M1359.9 1543h0M1344.3 1499.9h0M1335.1 1531.1h0M1352.8 1518.1h0M1350.5 1540.1h0M1347.5 1510.1h0M1343 1531.1h0M1344.7 1499.7h0M1345.4 1552h0M1345.1 1527.4h0M1354.4 1526.8h0M1351.8 1520.2h0M1352.5 1519.8h0M1351.2 1515.8h0M1344.6 1488.4h0M1343.6 1497.8h0M1343 1552h0M1345.8 1505.3h0M1343.9 1497.8h0M1341.6 1552h0M1351.6 1537.6h0M1336.6 1514.1h0M1350.1 1528.5h0M1328 1526.2h0M1329.8 1535.2h0M1332 1539.2h0M1340.4 1550.3h0M1346.8 1538.1h0M1340 1534.9h0M1340.1 1534.1h0M1327.3 1541.3h0M1331.3 1522.2h0M1358.2 1524.3h0M1343.3 1484.6h0M1338.9 1507.6h0M1345.5 1523.6h0M1343.1 1474.5h0M1328.5 1522.2h0M1335.3 1516.1h0M1356.8 1526.4h0M1336.6 1525h0M1340 1521.1h0M1342.9 1483h0M1343.5 1503.5h0M1343.3 1516.9h0M1343 1552h0M1337.1 1523.1h0M1345.8 1501h0M1357 1523.1h0M1334.7 1527.2h0M1338.6 1552h0M1342.9 1552h0M1335.1 1515.5h0M1343 1489.7h0M1344.6 1528.2h0M1339.1 1544.9h0M1335.6 1524.2h0M1359 1532.3h0M1353.1 1527.1h0M1346.3 1533.7h0M1356.3 1523.2h0M1340.3 1522.2h0M1353.4 1522.1h0M1353.9 1545.9h0M1352.3 1523.6h0M1333.9 1519.4h0" stroke="#7ad0c8" stroke-opacity="0.5" stroke-width="5" stroke-linecap="round"/><path d="M1343.5 1399.2V1523.3M1343.5 1542.6V1552M1334.5 1399.2H1352.5M1334.5 1552H1352.5" stroke="#111" stroke-width="1.4"/><rect x="1325.8" y="1523.3" width="35.5" height="19.3" fill="#88d5cf" stroke="#111" stroke-width="1.4" fill-opacity="0.72"/><path d="M1325.8 1534.4H1361.2M1343.5 1527.1V1534.1M1340 1530.6H1347" stroke="#111" stroke-width="1.4"/><path d="M1393.1 1514.5h0M1400.5 1524.5h0M1402.4 1507.2h0M1402.5 1519.1h0M1414.8 1522.9h0M1395.8 1493.2h0M1411.9 1519.9h0M1390.1 1547.8h0M1401.2 1535.7h0M1385 1525.5h0M1393.2 1535.3h0M1380.9 1530.9h0M1383.7 1527.9h0M1395.5 1502.2h0M1396.6 1498.1h0M1404.7 1531.2h0M1410 1518.6h0M1401 1517.7h0M1405.4 1519.6h0M1383.9 1526h0M1389.3 1514.3h0M1401.2 1544.8h0M1383.5 1526.3h0M1388 1524.2h0M1399.8 1499.9h0M1405.8 1530.6h0M1401 1548.1h0M1391.5 1551.4h0M1395.1 1497.7h0M1394.9 1508.2h0M1392.5 1520.1h0M1388.7 1544.9h0M1397.2 1493h0M1397.4 1480.8h0M1395.4 1509.8h0M1382.6 1519.6h0M1397.1 1551.4h0M1386.4 1512h0M1395.5 1543.3h0M1385.7 1517.5h0M1393.5 1536.1h0M1394 1501.9h0M1389.4 1527.8h0M1396.8 1536.9h0M1410.5 1540.4h0M1403.5 1523.4h0M1403.3 1535.4h0M1403.9 1527h0M1383.4 1517.6h0M1383.1 1536.7h0M1392 1541.5h0M1389.3 1527.1h0M1387.9 1525.2h0M1412.2 1521.5h0M1394.6 1496.7h0M1404.3 1544.3h0M1409 1545.1h0M1392 1533.8h0M1397.3 1551.4h0M1394.4 1498.2h0M1385 1541.8h0M1394 1533.3h0M1414.7 1532.6h0M1397.7 1530.3h0M1390.8 1523.8h0M1399 1528.1h0M1396.7 1475.5h0M1398.4 1514.1h0M1401.1 1517.6h0M1408.2 1515.1h0M1393.5 1505.8h0M1391.1 1536.9h0M1390.5 1532.6h0M1391.9 1505h0M1399.6 1541.2h0M1382.4 1536.2h0M1390.3 1537.6h0M1382.5 1531.8h0M1399.2 1520.6h0M1397.8 1477.8h0M1399.2 1497h0M1413.2 1522.7h0M1407.8 1521.2h0M1385.8 1519.3h0M1403.7 1534.2h0M1383.2 1538.2h0M1382.1 1521.8h0M1392.1 1528.1h0M1396.8 1485.5h0M1392.5 1523.5h0M1404.5 1546.6h0M1382.5 1525.7h0M1395.7 1539h0M1398.1 1482.9h0M1396.3 1517.2h0M1396.5 1551.4h0M1398.7 1491.2h0M1383.6 1522.8h0M1412.6 1519.6h0M1400.3 1531.3h0M1388.4 1538.9h0M1387.7 1520.3h0M1390.5 1515.5h0M1391.8 1546.4h0M1397.9 1494.2h0M1391.6 1507.5h0M1386.8 1519.9h0M1405.6 1529.4h0M1393.9 1510.5h0M1403 1551.4h0M1379.5 1533.2h0M1399.9 1517h0M1382 1520.4h0M1393.4 1536.6h0M1415 1525.3h0M1399.8 1496.9h0M1407.4 1521.3h0M1399.8 1514.9h0M1384.5 1518.5h0M1392 1527.7h0M1390.2 1530.4h0M1396.9 1476.4h0M1400.5 1549h0M1402.5 1504.7h0M1400.7 1540.5h0M1397.7 1510.8h0M1398.9 1523h0M1389.7 1551.4h0M1410.6 1537.5h0M1397.7 1485.4h0M1398.7 1544.8h0M1393.9 1541.9h0M1389.3 1522.6h0M1409.4 1540.1h0M1390.5 1514.1h0M1398.9 1512.5h0M1397.2 1490.2h0M1398.1 1514.5h0M1400.8 1520.4h0M1393.8 1503.5h0M1400.3 1541.8h0M1388.1 1540.4h0M1404 1517h0M1397 1513.1h0M1400.5 1501h0M1413.1 1526.1h0M1396.6 1520.9h0M1393.3 1505.3h0M1401.4 1535.5h0M1406.8 1533.3h0M1400.1 1504.8h0M1398.5 1474h0M1383.4 1535.2h0M1386.4 1527.8h0M1402.1 1509.9h0M1393.9 1534.3h0M1400.9 1524.5h0M1404 1533.8h0M1390.8 1551.4h0M1401.8 1510.5h0M1393 1540.3h0M1402.2 1503.6h0M1404.6 1525.3h0M1397.6 1491.2h0M1397.9 1515.9h0M1396.1 1551h0M1388.9 1526.6h0M1396.6 1524.7h0M1400 1497.3h0M1392.1 1525.8h0M1397.1 1472.2h0M1388.1 1529.9h0M1384.3 1517.4h0M1411.9 1539.8h0M1389.6 1523.7h0M1404.3 1526.7h0M1405.3 1541.6h0M1400.8 1533.5h0M1393.6 1500.1h0M1404.2 1514.4h0M1406.5 1546.5h0M1408.2 1511.7h0M1404.5 1514.5h0M1414.4 1524.5h0M1389.6 1521.9h0M1391.6 1542.7h0M1395.9 1534.9h0M1393.2 1534.8h0M1386.4 1512.6h0M1409.2 1514.6h0M1412.1 1535.5h0M1387.9 1510.6h0M1405.5 1519.8h0M1407.4 1533.7h0M1398.2 1493.6h0M1383.2 1525.1h0M1396.7 1520.2h0M1412.5 1538.1h0M1398.9 1519.8h0M1386.3 1518.3h0M1407.6 1528.7h0M1397.6 1527.6h0M1397.4 1530.4h0M1393.2 1524.9h0M1395.9 1540.2h0M1413.3 1530.7h0M1405.1 1508.7h0M1412.7 1519.3h0M1387 1544.5h0M1401 1551.4h0M1394.5 1506.3h0M1403.7 1548.5h0M1399.5 1520.1h0M1396.1 1541.6h0M1386.3 1539.4h0M1391.8 1513.1h0M1388.8 1533.7h0M1397.7 1475.5h0M1389.2 1522.4h0M1396.1 1511h0M1382.4 1521.1h0M1398.8 1512.9h0M1397.3 1551.4h0M1387 1512.4h0M1400.1 1544.8h0M1390.1 1543.3h0M1403.3 1519.9h0M1381.4 1532.3h0M1402.5 1512.7h0M1399.6 1506.8h0M1396.8 1488.5h0M1385 1544.3h0M1397.3 1457.5h0M1386.9 1526.4h0M1383.8 1537.6h0M1381.9 1526.2h0M1388.7 1515.4h0M1397.2 1516h0M1407 1512.9h0M1389.2 1534.8h0M1397.9 1501.6h0M1394.6 1522.8h0M1387.2 1514.9h0M1392.8 1519.8h0M1402.5 1524.9h0M1396.5 1482.3h0M1401.8 1521.1h0M1399.6 1515.8h0M1401.2 1542h0M1388.9 1523.4h0M1381.3 1526.4h0M1394.2 1534.4h0M1393.9 1503h0M1406.2 1518.3h0M1395.4 1513.5h0M1379.7 1528.9h0M1397.8 1527.6h0M1408.3 1513.7h0M1389.3 1547.2h0M1386.2 1542.7h0" stroke="#2e9a8a" stroke-opacity="0.5" stroke-width="5" stroke-linecap="round"/><path d="M1397.4 1427.9V1518.9M1397.4 1536.5V1551.4M1388.4 1427.9H1406.4M1388.4 1551.4H1406.4" stroke="#111" stroke-width="1.4"/><rect x="1379.7" y="1518.9" width="35.5" height="17.6" fill="#43ab9b" stroke="#111" stroke-width="1.4" fill-opacity="0.72"/><path d="M1379.7 1529.2H1415.2M1397.4 1522.8V1529.8M1393.9 1526.3H1400.9" stroke="#111" stroke-width="1.4"/><path d="M1449.8 1487.3h0M1468.9 1520.5h0M1466.8 1530.6h0M1454.9 1545.3h0M1452 1494.6h0M1443.7 1552h0M1454.7 1486.5h0M1451.6 1529.3h0M1450.5 1524.9h0M1453.3 1497.1h0M1459.7 1533.1h0M1461.1 1550.6h0M1449.6 1529h0M1464.4 1531.8h0M1454.6 1522.8h0M1446.5 1517.7h0M1461.5 1523.8h0M1454.8 1516.8h0M1456 1490.6h0M1445.4 1527.8h0M1450 1499.6h0M1445.7 1496.9h0M1432.9 1526.6h0M1451.1 1466h0M1459.8 1505h0M1446.9 1510.2h0M1451.9 1467.4h0M1438.9 1523.5h0M1456.4 1552h0M1434.5 1524.9h0M1441.3 1516.8h0M1464.7 1522.9h0M1447.9 1537.2h0M1445.5 1503.5h0M1453.2 1550.4h0M1451.7 1522h0M1447.3 1515.7h0M1456.3 1551.6h0M1442.7 1523h0M1440.3 1513.3h0M1444.7 1552h0M1449.3 1528h0M1449.4 1481.1h0M1461.2 1518.8h0M1458.6 1537.4h0M1452.2 1481.6h0M1446.3 1552h0M1449.9 1491.1h0M1441.4 1520.3h0M1449 1530.8h0M1439.1 1523.1h0M1455.3 1489.2h0M1449.8 1529h0M1438.5 1542.4h0M1465 1528.3h0M1456.4 1499.2h0M1451.4 1468.7h0M1456.3 1510.3h0M1441 1516.3h0M1445 1507.3h0M1452.9 1526.7h0M1448.8 1501.5h0M1440.4 1512.6h0M1435 1515.4h0M1434.1 1518.2h0M1468.5 1529h0M1448.3 1486.9h0M1442.9 1552h0M1451.1 1502.3h0M1451.2 1488.4h0M1448.4 1489.8h0M1449.7 1512h0M1463.3 1521.4h0M1452.7 1539.6h0M1438.4 1513.7h0M1451.1 1482.8h0M1446.6 1543.8h0M1443.7 1502.1h0M1461.2 1546.7h0M1436.9 1537.5h0M1442.4 1507.2h0M1449.7 1528.9h0M1444 1519.5h0M1445.1 1514h0M1445.9 1521.1h0M1439.8 1509.4h0M1450.2 1532h0M1458.6 1550.4h0M1464.8 1518h0M1444.2 1508.1h0M1451.7 1522.5h0M1451.7 1552h0M1453 1488.9h0M1448.3 1517.4h0M1463.6 1537.8h0M1447.4 1538.9h0M1449.7 1516.4h0M1437 1513.1h0M1435.4 1526.6h0M1452.7 1488.2h0M1450 1522.9h0M1445.4 1521.6h0M1455.5 1491.9h0M1464.6 1523.3h0M1455.3 1510.5h0M1466 1527.8h0M1466.9 1534h0M1454 1485.3h0M1452.9 1483.6h0M1446.3 1546.1h0M1450.5 1491.6h0M1454.4 1546.3h0M1445.1 1511.1h0M1461.8 1513h0M1454.6 1526.2h0M1461.4 1545.5h0M1455.2 1513.8h0M1464.6 1540h0M1452.4 1511.7h0M1441.3 1525.4h0" stroke="#c3a9d8" stroke-opacity="0.5" stroke-width="5" stroke-linecap="round"/><path d="M1451.6 1413.8V1512.5M1451.6 1535.3V1552M1442.6 1413.8H1460.6M1442.6 1552H1460.6" stroke="#111" stroke-width="1.4"/><rect x="1433.8" y="1512.5" width="35.5" height="22.8" fill="#c2acd6" stroke="#111" stroke-width="1.4" fill-opacity="0.72"/><path d="M1433.8 1525.4H1469.3M1451.6 1517.2V1524.2M1448.1 1520.7H1455.1" stroke="#111" stroke-width="1.4"/><path d="M1504.2 1520.7h0M1493.5 1517.5h0M1498.2 1539.9h0M1491.1 1526.2h0M1517.7 1521.9h0M1505.1 1437.8h0M1493.5 1526.8h0M1505.4 1532.7h0M1517.2 1517.9h0M1506.3 1454.3h0M1506.1 1490.7h0M1489 1522.4h0M1491.1 1520.4h0M1500.8 1529.4h0M1506.3 1451.7h0M1499.1 1529.7h0M1517.7 1519h0M1505.2 1475.8h0M1499.8 1546.6h0M1498.3 1528.5h0M1508.7 1533.4h0M1510.3 1548h0M1508.9 1533.8h0M1514.3 1524h0M1511 1541.5h0M1497.2 1512.7h0M1514.3 1521.2h0M1504.8 1525.6h0M1507.8 1533.9h0M1510.7 1517h0M1509.4 1524.5h0M1496.3 1543.5h0M1492.4 1518.6h0M1490.1 1517.7h0M1497.1 1526.4h0M1502 1530.9h0M1507.2 1494.8h0M1488.8 1533.9h0M1503.6 1521.5h0M1505.4 1551.1h0M1512.2 1540.1h0M1506.6 1544.8h0M1504.6 1474.5h0M1511.5 1522h0M1509.9 1521.9h0M1510.7 1514.7h0M1510.8 1511h0M1507.8 1505.4h0M1500.9 1549.9h0M1506.5 1536.5h0M1521.7 1523.1h0M1507.4 1511.2h0M1510.9 1499.2h0M1511.3 1547.9h0M1511.1 1502.6h0M1505.2 1521.1h0M1515 1515.9h0M1504.7 1431.9h0M1509.9 1551.1h0M1511.9 1509.3h0M1517.4 1517.2h0M1516.6 1509.5h0M1506.9 1506.2h0M1522.9 1528.3h0M1494.4 1523.2h0M1497.4 1527.4h0M1511.8 1531.5h0M1518.5 1517.5h0M1500.8 1522.1h0M1493.4 1537.3h0M1520.1 1517.6h0M1501.4 1550.2h0M1493.9 1516h0M1498.7 1515.4h0M1503.4 1528.9h0M1506.7 1509.1h0M1504 1487.9h0M1505.5 1439.4h0M1513.7 1524.8h0M1506.4 1408.1h0M1520.3 1521.7h0M1504.7 1485.6h0M1502.3 1495.4h0M1506.5 1523.3h0M1505 1514.4h0M1510.2 1551.1h0M1496.4 1521.4h0M1509.8 1518.7h0M1506.4 1517.4h0M1498 1508.2h0M1490.2 1538.1h0M1500.5 1537.6h0M1495.5 1520.9h0M1505.7 1484.6h0M1507 1551.1h0M1511.3 1543h0M1508.4 1551.1h0M1504.3 1505.6h0M1501.1 1504.7h0M1506.5 1521.9h0M1510 1498.4h0M1514.8 1537.8h0M1505.4 1551.1h0M1502.9 1501.7h0M1506.9 1487.4h0M1506.2 1446.1h0M1520.7 1523.5h0M1496.6 1548.2h0M1495.8 1522.4h0M1501.3 1534.8h0M1506.7 1497.5h0M1506.7 1476.6h0M1494.7 1532.2h0M1513.3 1515.2h0M1504.5 1504.5h0M1495.4 1530.9h0M1513 1551.1h0M1502.7 1535.6h0M1493.5 1530.7h0M1506.7 1481.9h0M1510.2 1517.5h0M1498.2 1530h0M1505.3 1514h0M1504.9 1516.7h0M1506.7 1461.9h0M1508.6 1537.1h0M1502.8 1521.2h0M1489.9 1518.2h0M1488.6 1522.1h0M1511.3 1537.2h0M1514.1 1507.4h0M1496.2 1535.9h0M1508.5 1506.1h0M1515 1544.9h0M1518.1 1525.5h0M1509.8 1519.8h0M1500.9 1513.7h0M1507.5 1499.3h0M1500.6 1507.8h0M1492.4 1519.4h0M1506.6 1494.9h0M1506.9 1463.4h0M1502.2 1513h0M1507.1 1506.1h0M1511.8 1544.5h0M1508.9 1522.5h0M1513.9 1533.2h0M1492.3 1532.5h0M1501.5 1526.5h0M1509.7 1502.8h0M1498.6 1516.4h0M1507.6 1507.9h0M1505 1429.7h0M1505.5 1466.7h0M1507.5 1524h0M1519 1537.4h0M1508.2 1506.4h0M1496.9 1527.5h0M1493.5 1524.4h0M1512.6 1530h0M1503.4 1500.8h0M1515.1 1529.1h0M1499.8 1500.3h0M1515.9 1541.1h0M1506.2 1502.1h0M1505.3 1459.6h0M1503.8 1499.6h0M1503.3 1493h0M1499.9 1551.1h0M1519.3 1539.5h0M1496 1527.8h0M1519.6 1514.1h0M1508.6 1551.1h0M1511.4 1510.5h0M1507.5 1504h0M1508.1 1511.9h0M1489.6 1533.4h0M1503 1547h0M1507.8 1521.8h0M1498.8 1527.7h0M1506.8 1502.2h0M1508 1523.1h0M1515 1511.3h0M1490.4 1516.2h0M1506.2 1466.6h0M1496.8 1509.4h0M1498.6 1516.3h0M1517 1511.6h0M1520.9 1538h0M1500.8 1551.1h0M1506.9 1493.2h0M1508.7 1538.1h0M1503 1530.7h0M1504.8 1478.1h0M1491.1 1524.7h0M1519.6 1540.7h0M1509.7 1547.8h0M1505.2 1493.4h0M1493.2 1527.5h0M1506.4 1540.5h0M1491.2 1527.2h0M1491.2 1535.4h0M1497 1526.6h0M1506.8 1458.8h0M1504.9 1514.5h0M1505.6 1436.6h0M1500.8 1526.1h0M1506.2 1460.4h0M1503.1 1538.7h0M1508.8 1529.7h0M1510.2 1497.5h0M1512.3 1533.6h0M1505.1 1551.1h0M1522.2 1527.3h0M1511 1517.3h0M1521.1 1520.2h0M1504.6 1429.5h0M1499.7 1526.5h0M1501.3 1498.7h0M1492.1 1523.4h0M1493.2 1527.1h0M1493.6 1517.9h0M1506.2 1479.4h0M1505.1 1461.2h0M1518.8 1516.9h0M1515.4 1537.3h0M1508.3 1536.1h0M1498.1 1513.8h0M1503.2 1515.9h0M1506.7 1496.6h0" stroke="#9a5bb2" stroke-opacity="0.5" stroke-width="5" stroke-linecap="round"/><path d="M1505.7 1406.5V1517.2M1505.7 1536.5V1551.1M1496.7 1406.5H1514.7M1496.7 1551.1H1514.7" stroke="#111" stroke-width="1.4"/><rect x="1488" y="1517.2" width="35.5" height="19.3" fill="#9b5db3" stroke="#111" stroke-width="1.4" fill-opacity="0.72"/><path d="M1488 1527.4H1523.5M1505.7 1519.5V1526.5M1502.2 1523H1509.2" stroke="#111" stroke-width="1.4"/><text x="1397.7" y="1346.2" font-size="17" text-anchor="middle"><tspan font-style="italic">P</tspan> = 0.0001</text><path d="M1344.4 1355.6H1451.3" stroke="#222" stroke-width="1.4"/><text x="1369.3" y="1375" font-size="17" text-anchor="middle"><tspan font-style="italic">P</tspan> = 0.0210</text><path d="M1344.4 1382.2H1397.4" stroke="#222" stroke-width="1.4"/><path d="M1307.8 1599.5V1816.7M1301 1816.7H1542M1301 1599.5H1307.8M1301 1672.1H1307.8M1301 1744.4H1307.8" stroke="#222" stroke-width="1.5"/><text x="1290.3" y="1606.7" font-size="20" text-anchor="end">4</text><text x="1290.3" y="1662.2" font-size="20" text-anchor="end">3</text><text x="1290.3" y="1716.5" font-size="20" text-anchor="end">2</text><text x="1290.3" y="1770.1" font-size="20" text-anchor="end">1</text><text x="1290.3" y="1824.8" font-size="20" text-anchor="end">0</text><path d="M1332.4 1798.9h0M1331.5 1812.7h0M1345.7 1815.3h0M1344.5 1791.2h0M1343.4 1809.1h0M1342 1813.8h0M1334.8 1799.2h0M1345.2 1798.7h0M1347 1796.1h0M1338.8 1802.7h0M1338.2 1793h0M1357.9 1799.7h0M1343.2 1801.7h0M1335.1 1798.6h0M1330.4 1806.7h0M1338.7 1803.7h0M1333.3 1808.3h0M1343.2 1781.2h0M1345.4 1788.3h0M1342.1 1794.3h0M1361.6 1806.5h0M1348.9 1801.2h0M1351.7 1796.9h0M1343.3 1780.6h0M1332.2 1813.2h0M1359.1 1800.1h0M1329.9 1808.8h0M1340.9 1802.6h0M1353.9 1806h0M1342.6 1788.8h0M1338.4 1797h0M1358.5 1810.1h0M1351.8 1795.3h0M1353.4 1813.8h0M1341.1 1792.7h0M1345.1 1809.5h0M1339.2 1791.2h0M1341.9 1790.2h0M1333.8 1808h0M1343.3 1792.9h0M1344.8 1811.8h0M1335.5 1803.8h0M1338.3 1815.3h0M1347.7 1801.7h0M1353.4 1800.6h0M1353.2 1797.3h0M1330.2 1808h0M1358.1 1797.1h0M1356.6 1805.5h0M1339.2 1815.3h0M1339.9 1808.3h0M1331.2 1808.7h0M1358.4 1798.6h0M1338.5 1815.3h0M1341.7 1794.5h0M1349.1 1815.3h0M1330.4 1804.6h0M1356.7 1796.8h0M1341.3 1803h0M1334.1 1796.6h0M1350.1 1812h0M1349 1805.3h0M1328.4 1799h0M1350.4 1797.1h0M1343.8 1808.7h0M1346.7 1788.9h0M1330.3 1806.9h0M1353.8 1798.9h0M1338.7 1794.2h0M1356.4 1813.4h0" stroke="#7ad0c8" stroke-opacity="0.5" stroke-width="5" stroke-linecap="round"/><path d="M1343.5 1776.3V1797.7M1343.5 1808.8V1815.3M1334.5 1776.3H1352.5M1334.5 1815.3H1352.5" stroke="#111" stroke-width="1.4"/><rect x="1325.8" y="1797.7" width="35.5" height="11.1" fill="#88d5cf" stroke="#111" stroke-width="1.4" fill-opacity="0.72"/><path d="M1325.8 1804.4H1361.2M1343.5 1798.9V1805.9M1340 1802.4H1347" stroke="#111" stroke-width="1.4"/><text transform="translate(1354.5 1835.7) rotate(-45)" font-size="20.5" text-anchor="end" textLength="52.1" lengthAdjust="spacingAndGlyphs">SoftY</text><path d="M1408.8 1816.7h0M1387.8 1795.9h0M1399.2 1815h0M1397.4 1758.9h0M1387.9 1808.8h0M1400.7 1800.4h0M1397.7 1765.2h0M1398.6 1802.4h0M1398.1 1792.6h0M1400.7 1816.7h0M1396.8 1785.3h0M1400.9 1794.8h0M1403.9 1816.7h0M1398.5 1777h0M1388.3 1795.3h0M1387.3 1802.5h0M1385 1792.1h0M1401.7 1794.3h0M1387.2 1794.8h0M1404.8 1814.8h0M1394.9 1776.7h0M1394.2 1798.3h0M1401.6 1816.7h0M1402.2 1815.4h0M1395.4 1788h0M1404.5 1785.9h0M1392.2 1809.9h0M1392.4 1789.8h0M1395.4 1776h0M1409.8 1792.8h0M1386.3 1794h0M1393.8 1816.7h0M1395 1802.6h0M1385.7 1807.5h0M1415 1805.1h0M1412 1805.1h0M1397.6 1811.7h0M1398.8 1811.2h0M1409.4 1798.6h0M1395.3 1816.7h0M1388.4 1799.1h0M1393.1 1793.3h0M1390.4 1816.7h0M1391.4 1798h0M1399.3 1782h0M1401.6 1784.5h0M1389.5 1809h0M1394.8 1816.7h0M1410.6 1813.3h0M1392.5 1805.6h0M1394 1799.6h0M1391.7 1791.8h0M1394.3 1788.9h0M1387.7 1811.1h0M1383.5 1801.7h0M1407.3 1803.6h0M1401.6 1781.1h0M1390.9 1787.7h0M1390.6 1805.4h0M1411 1797h0M1405 1804.9h0M1399.2 1816.7h0M1404.9 1791.6h0M1408.2 1794.6h0M1385.1 1815h0M1396.7 1806.6h0M1400.3 1785.5h0M1402 1788.7h0M1396.4 1807.7h0M1390.4 1816.7h0M1398.2 1767.3h0M1400.5 1806.4h0M1413.1 1805h0M1386.6 1816.7h0M1392.9 1813.5h0M1406.9 1809h0M1393.4 1809.7h0M1407.3 1800.3h0M1399.8 1807.6h0M1399.2 1783.3h0M1397.6 1791.7h0M1400 1783.1h0M1390.5 1810h0M1391.7 1816.7h0M1399.2 1788.6h0M1402.2 1783.8h0M1396.5 1777.2h0M1390.7 1787h0M1409.4 1802.4h0M1393.3 1780.7h0M1379.8 1802.8h0M1392.4 1811.8h0M1396.2 1773.6h0M1411.1 1797.6h0M1409.4 1794.8h0M1399.9 1799h0M1399.1 1792.2h0M1394.8 1815.4h0M1395.4 1787.4h0M1388.6 1814.8h0M1405.6 1794.5h0M1382.7 1808.7h0M1391.6 1803.3h0M1397.7 1796.2h0M1400.4 1809.5h0M1401.1 1790.1h0M1392.2 1796.5h0M1381 1805.7h0M1388.9 1816.7h0M1409.5 1791.7h0M1386.6 1801.2h0M1396.2 1810.7h0M1394.4 1780.2h0M1408.1 1792.3h0M1402.8 1791.5h0M1407.7 1802.3h0M1405.3 1810.3h0M1388.4 1798.2h0M1399 1798h0M1404.8 1806.2h0M1398.2 1798.3h0M1407.5 1798.9h0M1389.9 1802.5h0M1387.6 1807.4h0M1388.2 1810.7h0M1409.1 1797.9h0M1396 1780.6h0M1383.3 1796h0M1405.4 1816h0M1401.2 1783.7h0M1412.3 1797.7h0M1385.5 1801.2h0M1406.5 1792.3h0M1401.7 1798.6h0M1399.7 1796.3h0M1403.7 1811.3h0M1384.8 1805.2h0M1411.8 1808.7h0M1402.5 1786.8h0M1393.9 1792.5h0M1399.9 1801.9h0M1398.9 1816.7h0M1403.5 1785.8h0M1410.7 1796.5h0M1400.5 1807.8h0M1394.9 1781h0M1387.2 1804h0M1397.5 1782h0M1407.2 1808.3h0M1385.9 1796.4h0M1381.6 1797.4h0M1380.4 1807.5h0M1404.3 1811.1h0M1379.6 1800.6h0M1396.4 1816.7h0M1387 1816.7h0M1395.1 1800.9h0M1392 1809.6h0M1381.4 1808.7h0M1399.7 1777.1h0M1404.3 1793.1h0M1405.2 1805.3h0M1390.3 1789.9h0M1390 1813.5h0M1405.4 1809.5h0M1411.3 1796.7h0M1401.3 1803.4h0M1391.6 1793h0M1403.3 1790.2h0M1393 1815.7h0M1411 1801.3h0M1395.8 1794.4h0M1385.7 1803.7h0M1398.4 1761.1h0M1402 1781.4h0M1408.5 1800.5h0M1397.5 1816.7h0M1399.9 1790.2h0M1397.5 1796.6h0M1405.5 1815.3h0M1395.4 1783.1h0M1403.3 1816.7h0M1398.2 1763.8h0M1401.8 1802.7h0M1407.1 1792.2h0M1394.4 1804.3h0M1393.5 1792.1h0M1402.5 1799.3h0M1387.7 1816.7h0M1408.1 1806.1h0M1405 1795.2h0M1399.7 1794h0M1396.1 1777.3h0M1385.7 1794.5h0M1411.3 1801.3h0M1396.2 1801.2h0M1391.1 1789.1h0M1415 1805.2h0M1382.7 1804.9h0M1412.5 1810.4h0M1397.6 1762.6h0M1410.8 1808.4h0M1403 1793.5h0M1388.7 1791.4h0M1406 1799.7h0M1402.6 1816.7h0M1396.1 1779.6h0M1392.6 1786.9h0M1399.2 1792.1h0M1413.5 1803.4h0M1386.9 1790.2h0M1400 1779.8h0M1408.1 1800.7h0M1401 1801.7h0M1398.2 1759.3h0M1396.1 1795.8h0M1387.9 1816.7h0M1400.9 1809.2h0M1380.4 1798.3h0M1393.6 1810.7h0" stroke="#2e9a8a" stroke-opacity="0.5" stroke-width="5" stroke-linecap="round"/><path d="M1397.4 1735.9V1794.2M1397.4 1808.2V1816.7M1388.4 1735.9H1406.4M1388.4 1816.7H1406.4" stroke="#111" stroke-width="1.4"/><rect x="1379.7" y="1794.2" width="35.5" height="14.1" fill="#43ab9b" stroke="#111" stroke-width="1.4" fill-opacity="0.72"/><path d="M1379.7 1803.6H1415.2M1397.4 1796V1803M1393.9 1799.5H1400.9" stroke="#111" stroke-width="1.4"/><text transform="translate(1408.4 1835.7) rotate(-45)" font-size="20.5" text-anchor="end" textLength="50.6" lengthAdjust="spacingAndGlyphs">StiffY</text><path d="M1463.2 1794.5h0M1452.4 1781.9h0M1445.4 1801.7h0M1445.3 1796.3h0M1450.6 1741.2h0M1452.7 1765.2h0M1452.8 1755.3h0M1442.7 1811.8h0M1464 1802.7h0M1450.7 1800.5h0M1444.3 1791.1h0M1460.4 1798.3h0M1463.8 1792.7h0M1452.5 1759.4h0M1460.3 1796.5h0M1463.6 1802.9h0M1458.4 1788.4h0M1451.9 1717.8h0M1440.4 1798.7h0M1448.4 1800.4h0M1459.4 1805.2h0M1452.4 1764.7h0M1454.2 1793.5h0M1441.6 1794.9h0M1447.4 1803.7h0M1450.7 1786.8h0M1468.7 1799.8h0M1450.7 1760.3h0M1456.1 1806.4h0M1454.8 1794h0M1451 1750.7h0M1447.4 1811.8h0M1468.3 1804.1h0M1448.8 1790.5h0M1451.7 1790.1h0M1460.1 1793.9h0M1450.4 1727.8h0M1455.4 1807.1h0M1455.7 1805.9h0M1462.8 1804h0M1436.4 1795.6h0M1438.5 1795.9h0M1448.7 1811.8h0M1451.4 1772.3h0M1440.8 1800.4h0M1452.3 1694.5h0M1452 1694.3h0M1453 1811.8h0M1461.1 1811.8h0M1452.5 1794h0M1459.1 1807.6h0M1447.3 1811.8h0M1446.9 1811.8h0M1451.8 1694.3h0M1434.2 1800.9h0M1438.3 1804.5h0M1440.6 1798.7h0M1468.2 1804.6h0M1464.8 1793.1h0M1452.6 1763.6h0M1446.5 1793.9h0M1449.9 1784.1h0M1450.1 1780.7h0M1456.7 1811.8h0M1465.6 1801.6h0M1451.9 1804.8h0M1450.8 1750.6h0M1455.1 1796.1h0M1448.8 1790.6h0M1447.6 1808.6h0" stroke="#c3a9d8" stroke-opacity="0.5" stroke-width="5" stroke-linecap="round"/><path d="M1451.6 1666.9V1793.6M1451.6 1804.4V1811.8M1442.6 1666.9H1460.6M1442.6 1811.8H1460.6" stroke="#111" stroke-width="1.4"/><rect x="1433.8" y="1793.6" width="35.5" height="10.8" fill="#c2acd6" stroke="#111" stroke-width="1.4" fill-opacity="0.72"/><path d="M1433.8 1800.6H1469.3M1451.6 1791.6V1798.6M1448.1 1795.1H1455.1" stroke="#111" stroke-width="1.4"/><text transform="translate(1462.6 1835.7) rotate(-45)" font-size="20.5" text-anchor="end" textLength="52.1" lengthAdjust="spacingAndGlyphs">SoftA</text><path d="M1506.4 1775.5h0M1506.1 1771.6h0M1515.1 1800.6h0M1507.5 1816.7h0M1520.1 1804.3h0M1509.5 1802.1h0M1502.6 1813.7h0M1498.5 1790.4h0M1505.8 1762.5h0M1514.9 1816.7h0M1492.4 1798.4h0M1508.5 1778.5h0M1502.9 1779.6h0M1505.3 1759.5h0M1506.4 1810.5h0M1502.5 1803.2h0M1502.8 1816.3h0M1500.8 1803.5h0M1491.3 1801.4h0M1508.4 1791.3h0M1506.3 1811.3h0M1492.1 1800h0M1491.3 1804.2h0M1506.8 1782.8h0M1517.2 1794.2h0M1503.7 1791.5h0M1514 1804.5h0M1503.8 1801.8h0M1520.6 1796h0M1508.4 1781.5h0M1500.6 1816.7h0M1493.3 1797.1h0M1498 1791.2h0M1500.9 1810.6h0M1511.8 1816.7h0M1512 1787.2h0M1498.7 1791.1h0M1497.9 1795.4h0M1495 1796.4h0M1504.5 1816.7h0M1505.8 1785h0M1511.2 1796h0M1496.9 1816.7h0M1502.3 1816.7h0M1496.8 1790.7h0M1510.4 1788.8h0M1506.1 1804.2h0M1513.5 1806.1h0M1505.2 1816.2h0M1500.3 1785.5h0M1510.6 1814.7h0M1493.7 1807.5h0M1509.8 1783.6h0M1490.3 1809.3h0M1521.5 1804.6h0M1502.4 1809.7h0M1509 1805.1h0M1491.8 1800.3h0M1512.7 1797.2h0M1506.4 1775.5h0M1504.6 1816.7h0M1506.4 1801.3h0M1505 1791.9h0M1515.2 1789.3h0M1513 1794h0M1511.1 1782.4h0M1504.9 1700.8h0M1506 1730.9h0M1499.9 1786.2h0M1493.1 1808.6h0M1518 1807.1h0M1505.6 1764.3h0M1506.2 1805.7h0M1495.3 1791.9h0M1519.1 1799.2h0M1507 1789.5h0M1505.8 1760.5h0M1511.7 1816.7h0M1496.9 1816.7h0M1495.7 1806h0M1508.6 1788.1h0M1497.2 1809.4h0M1506.2 1761.3h0M1489.4 1807.1h0M1509.1 1790.7h0M1506.2 1756.1h0M1493.2 1809h0M1488.2 1799.8h0M1509.4 1795.4h0M1513.1 1800.4h0M1498.4 1786.5h0M1509 1787.2h0M1498.8 1793.3h0M1499.4 1810.6h0M1518 1806.1h0M1506.9 1705.6h0M1513.9 1800h0M1500.4 1796.3h0M1504.3 1816.7h0M1499.7 1815.3h0M1505.8 1768.9h0M1513.1 1798.8h0M1505.8 1802.9h0M1489.3 1796.6h0M1498.5 1798.2h0M1498.6 1790.2h0M1488.4 1805.1h0M1510.2 1798.2h0M1508.5 1810.9h0M1513.9 1787.1h0M1515 1814.6h0M1509.7 1801.7h0M1507.7 1775.1h0M1496.1 1790.8h0M1495.8 1800.2h0M1516.6 1794.9h0M1519.7 1811.1h0M1511.3 1786.4h0M1498.9 1816.7h0M1506.9 1760.4h0M1507.4 1782.9h0M1506.2 1768.7h0M1510.5 1816.7h0M1512.1 1807.8h0M1491.4 1796.3h0M1513.6 1804h0M1511.1 1815h0M1509.5 1783.8h0M1520.3 1797.5h0M1519.6 1803h0M1504.7 1766.1h0M1517.5 1807.8h0M1489.8 1801.4h0M1503.7 1780.1h0M1493.9 1805.7h0M1501.6 1793.9h0M1500.1 1789.6h0M1522.3 1805.1h0M1504.3 1792h0M1510.1 1807.3h0M1510.2 1780.5h0M1511.4 1810.7h0M1501.6 1785.5h0M1510.9 1801.3h0M1505.7 1726.9h0M1511 1808.4h0M1506.2 1772.1h0M1514.6 1789.3h0M1502.6 1787.5h0M1521.2 1801.7h0M1505.6 1793.3h0M1499.6 1812.3h0M1503.5 1777h0M1519.9 1810.6h0M1493.5 1797.9h0M1521.8 1802.6h0M1505 1769.6h0M1503.2 1778.2h0M1518.1 1807.7h0M1502.5 1816.7h0M1505.3 1755.7h0M1505.1 1768.7h0M1501.2 1784.6h0M1492 1794.8h0M1492.2 1796.4h0M1500.9 1815.8h0M1499.2 1800.7h0M1512 1795.8h0M1505.3 1769.2h0M1505.7 1795.7h0M1500.3 1807.7h0M1509.5 1811h0M1506.6 1771.4h0M1510.6 1781.6h0M1502.1 1789h0M1506.5 1772.9h0M1516.2 1788.2h0M1508.9 1807.8h0M1517.2 1801.6h0M1512.8 1798.5h0M1515.6 1799.4h0M1506.6 1780.3h0M1510.1 1781.8h0M1506.7 1748.4h0M1519.6 1807.6h0M1519 1805.2h0M1510.4 1815.2h0M1502.7 1816.7h0M1515.8 1792.3h0M1515.9 1792.4h0M1503.2 1780.7h0M1502.6 1793.1h0M1492.6 1809h0M1499 1806.2h0M1519.9 1804.3h0M1518.8 1792.3h0M1516.4 1799.1h0M1521.1 1807.2h0M1521.9 1802.4h0M1495.3 1795.8h0" stroke="#9a5bb2" stroke-opacity="0.5" stroke-width="5" stroke-linecap="round"/><path d="M1505.7 1700.8V1793M1505.7 1806.5V1816.7M1496.7 1700.8H1514.7M1496.7 1816.7H1514.7" stroke="#111" stroke-width="1.4"/><rect x="1488" y="1793" width="35.5" height="13.5" fill="#9b5db3" stroke="#111" stroke-width="1.4" fill-opacity="0.72"/><path d="M1488 1801.8H1523.5M1505.7 1792.2V1799.2M1502.2 1795.7H1509.2" stroke="#111" stroke-width="1.4"/><text transform="translate(1516.7 1835.7) rotate(-45)" font-size="20.5" text-anchor="end" textLength="50.6" lengthAdjust="spacingAndGlyphs">StiffA</text><text x="1397.7" y="1605.4" font-size="17" text-anchor="middle"><tspan font-style="italic">P</tspan> = 0.0026</text><path d="M1339 1614.7H1449" stroke="#222" stroke-width="1.4"/><text x="1559" y="1279.8" font-size="40" font-weight="bold" stroke="#000" stroke-width="1.3">k</text><defs><filter id="kb" x="-5%" y="-5%" width="110%" height="110%"><feTurbulence type="fractalNoise" baseFrequency="0.05" numOctaves="2" seed="4" result="n"/><feDisplacementMap in="SourceGraphic" in2="n" scale="8" xChannelSelector="R" yChannelSelector="G"/><feGaussianBlur stdDeviation="0.85"/></filter><clipPath id="k1c"><rect x="1689" y="1344.8" width="238.4" height="232.4"/></clipPath><clipPath id="k2c"><rect x="1689" y="1590.2" width="238.4" height="231.8"/></clipPath></defs><rect x="1689" y="1344.8" width="238.4" height="232.4" fill="#0a0012"/><rect x="1689" y="1590.2" width="238.4" height="231.8" fill="#0a0012"/><g clip-path="url(#k1c)" filter="url(#kb)"><path d="M1782.8 1395Q1781.6 1389.5 1786.8 1393.9Q1792 1398.4 1800.5 1397Q1809 1395.6 1803 1399.8Q1797 1404 1802.1 1408.3Q1807.2 1412.6 1800 1410.4Q1792.7 1408.2 1790.1 1414.4Q1787.5 1420.6 1786.9 1413.4Q1786.4 1406.3 1777.5 1403.8Q1768.6 1401.3 1776.3 1400.9Q1784 1400.5 1782.8 1395z" fill="#a82cb2" fill-opacity="0.72" stroke="#f050f8" stroke-width="1.1" stroke-opacity="0.9" stroke-linejoin="round"/><ellipse cx="1790.8" cy="1404" rx="2.9" ry="2" fill="#5b6fe0" fill-opacity="0.85" transform="rotate(22.9 1790.8 1404)"/><path d="M1818.6 1399.5Q1818.3 1392 1823.3 1399.6Q1828.3 1407.2 1834.1 1402.3Q1839.8 1397.5 1837.3 1404.8Q1834.8 1412.2 1846.7 1416.3Q1858.5 1420.4 1846.9 1419.9Q1835.3 1419.5 1839.8 1427.5Q1844.3 1435.5 1834.7 1428.9Q1825.2 1422.4 1818.7 1429.5Q1812.1 1436.5 1815.3 1427.2Q1818.5 1417.9 1808.4 1420.1Q1798.3 1422.3 1806.8 1418Q1815.3 1413.6 1806.2 1408.3Q1797.2 1403.1 1808.1 1405Q1819 1407 1818.6 1399.5z" fill="#a82cb2" fill-opacity="0.72" stroke="#f050f8" stroke-width="1.1" stroke-opacity="0.9" stroke-linejoin="round"/><ellipse cx="1824.4" cy="1413.8" rx="4.5" ry="3.1" fill="#5b6fe0" fill-opacity="0.85" transform="rotate(11.5 1824.4 1413.8)"/><path d="M1695.2 1412.1Q1689.1 1407 1694.2 1407.4Q1699.2 1407.8 1699.7 1402.9Q1700.3 1398 1703.5 1406.3Q1706.6 1414.7 1715 1421.7Q1723.4 1428.8 1716.2 1426.3Q1708.9 1423.8 1708.6 1431.2Q1708.3 1438.6 1704.8 1427.9Q1701.2 1417.3 1695.2 1412.1z" fill="#a82cb2" fill-opacity="0.72" stroke="#f050f8" stroke-width="1.1" stroke-opacity="0.9" stroke-linejoin="round"/><ellipse cx="1704" cy="1416" rx="2.2" ry="1.6" fill="#5b6fe0" fill-opacity="0.85" transform="rotate(57.3 1704 1416)"/><path d="M1769.6 1449Q1775 1454.6 1767.9 1450.9Q1760.9 1447.2 1755.2 1449Q1749.5 1450.9 1750.5 1445.8Q1751.4 1440.7 1743.2 1435.3Q1734.9 1429.9 1743.1 1432.7Q1751.3 1435.4 1750.5 1429.4Q1749.8 1423.3 1754.6 1429.2Q1759.3 1435.1 1765.7 1435.9Q1772.2 1436.8 1768.2 1440.1Q1764.3 1443.5 1769.6 1449z" fill="#a82cb2" fill-opacity="0.72" stroke="#f050f8" stroke-width="1.1" stroke-opacity="0.9" stroke-linejoin="round"/><ellipse cx="1757" cy="1440" rx="2.6" ry="1.8" fill="#5b6fe0" fill-opacity="0.85" transform="rotate(34.4 1757 1440)"/><path d="M1840.7 1442Q1847.3 1442.6 1839.5 1445.7Q1831.8 1448.9 1829.5 1453.9Q1827.3 1458.9 1824.4 1455.4Q1821.5 1451.8 1810.6 1454.6Q1799.8 1457.4 1810.5 1451Q1821.1 1444.6 1817.1 1439Q1813 1433.3 1819.9 1436.7Q1826.9 1440.1 1833.3 1435.4Q1839.7 1430.6 1836.9 1436.1Q1834.1 1441.5 1840.7 1442z" fill="#a82cb2" fill-opacity="0.72" stroke="#f050f8" stroke-width="1.1" stroke-opacity="0.9" stroke-linejoin="round"/><ellipse cx="1826.8" cy="1445" rx="2.9" ry="2" fill="#5b6fe0" fill-opacity="0.85" transform="rotate(-22.9 1826.8 1445)"/><path d="M1887.9 1468.6Q1892 1475.2 1885.1 1470.4Q1878.2 1465.7 1875.1 1475.5Q1872 1485.3 1871.7 1475.7Q1871.5 1466 1864.4 1466Q1857.4 1466 1862.4 1461.7Q1867.4 1457.5 1861.7 1450Q1855.9 1442.5 1863.3 1447.8Q1870.7 1453.1 1870.8 1442.5Q1871 1431.9 1875.5 1442.6Q1880 1453.2 1885.5 1452.3Q1891.1 1451.4 1887.5 1456.7Q1883.9 1462 1887.9 1468.6z" fill="#a82cb2" fill-opacity="0.72" stroke="#f050f8" stroke-width="1.1" stroke-opacity="0.9" stroke-linejoin="round"/><ellipse cx="1875" cy="1459.4" rx="3.8" ry="2.6" fill="#5b6fe0" fill-opacity="0.85" transform="rotate(51.6 1875 1459.4)"/><path d="M1843.6 1486Q1844.4 1491.6 1840.8 1486.7Q1837.2 1481.9 1833.1 1485.1Q1828.9 1488.3 1831.3 1482.4Q1833.8 1476.5 1827.7 1471.7Q1821.6 1466.9 1827.7 1469.1Q1833.8 1471.4 1833.9 1465.4Q1834 1459.5 1836.8 1464.3Q1839.6 1469.2 1845.2 1467.6Q1850.8 1466.1 1847.1 1470.8Q1843.5 1475.5 1849.8 1478.6Q1856 1481.8 1849.4 1481.1Q1842.8 1480.4 1843.6 1486z" fill="#a82cb2" fill-opacity="0.72" stroke="#f050f8" stroke-width="1.1" stroke-opacity="0.9" stroke-linejoin="round"/><ellipse cx="1838.8" cy="1476" rx="2.9" ry="2" fill="#5fd6b0" fill-opacity="0.85" transform="rotate(45.8 1838.8 1476)"/><path d="M1729 1502.1Q1727.4 1506.7 1725.5 1501.2Q1723.7 1495.7 1718.5 1492.6Q1713.4 1489.6 1717.9 1489.6Q1722.4 1489.7 1721.3 1485.4Q1720.1 1481.1 1724.9 1485.1Q1729.7 1489.2 1735.6 1487.7Q1741.4 1486.3 1737.2 1490.2Q1732.9 1494.1 1738.4 1497.9Q1743.8 1501.7 1737.2 1499.6Q1730.6 1497.4 1729 1502.1z" fill="#a82cb2" fill-opacity="0.72" stroke="#f050f8" stroke-width="1.1" stroke-opacity="0.9" stroke-linejoin="round"/><ellipse cx="1728" cy="1493" rx="2.2" ry="1.6" fill="#5b6fe0" fill-opacity="0.85" transform="rotate(28.6 1728 1493)"/><path d="M1808 1493.6Q1813.6 1486.3 1811.4 1494.7Q1809.3 1503.1 1819.9 1502.9Q1830.6 1502.6 1821.4 1505.7Q1812.2 1508.8 1819.8 1515.1Q1827.4 1521.4 1818.7 1517.2Q1809.9 1513.1 1808.5 1520.6Q1807.1 1528.1 1804.6 1520.7Q1802.1 1513.3 1795.6 1518.9Q1789.2 1524.5 1792.3 1516.2Q1795.5 1507.9 1786 1502.8Q1776.5 1497.6 1786.9 1500.5Q1797.2 1503.3 1792.7 1496.2Q1788.2 1489 1795.3 1494.9Q1802.3 1500.9 1808 1493.6z" fill="#a82cb2" fill-opacity="0.72" stroke="#f050f8" stroke-width="1.1" stroke-opacity="0.9" stroke-linejoin="round"/><ellipse cx="1805" cy="1507.5" rx="3.5" ry="2.4" fill="#5b6fe0" fill-opacity="0.85" transform="rotate(28.6 1805 1507.5)"/><path d="M1753.8 1506.2Q1760.4 1494.4 1756.5 1506.4Q1752.7 1518.5 1755.3 1524.7Q1757.9 1530.9 1752.4 1531.2Q1746.9 1531.4 1742 1540.2Q1737 1548.9 1739.5 1538.9Q1742.1 1528.8 1739.1 1525Q1736.1 1521.2 1741.6 1519.5Q1747.2 1517.9 1753.8 1506.2z" fill="#a82cb2" fill-opacity="0.72" stroke="#f050f8" stroke-width="1.1" stroke-opacity="0.9" stroke-linejoin="round"/><ellipse cx="1747.5" cy="1524" rx="2.2" ry="1.6" fill="#5b6fe0" fill-opacity="0.85" transform="rotate(-63 1747.5 1524)"/><path d="M1703.5 1515.9Q1702.6 1507.7 1706.3 1515.6Q1710 1523.4 1714.8 1518.8Q1719.5 1514.1 1716.7 1522.1Q1714 1530 1721 1537.4Q1728 1544.8 1720.2 1540.9Q1712.4 1536.9 1709.7 1543.7Q1706.9 1550.4 1706 1541.7Q1705.1 1532.9 1699.3 1528.6Q1693.5 1524.2 1699 1524.1Q1704.5 1524 1703.5 1515.9z" fill="#a82cb2" fill-opacity="0.72" stroke="#f050f8" stroke-width="1.1" stroke-opacity="0.9" stroke-linejoin="round"/><ellipse cx="1709" cy="1529" rx="2.9" ry="2" fill="#5b6fe0" fill-opacity="0.85" transform="rotate(68.8 1709 1529)"/><path d="M1892.8 1523.5Q1884.5 1523.6 1890.8 1520.8Q1897.1 1518.1 1890.8 1512.9Q1884.5 1507.7 1893.9 1509.6Q1903.4 1511.6 1904.4 1506.7Q1905.4 1501.7 1908.2 1507.6Q1911.1 1513.6 1921.9 1514.7Q1932.8 1515.9 1922.8 1518.3Q1912.9 1520.7 1919.4 1528.3Q1925.9 1535.9 1917.8 1531.6Q1909.7 1527.2 1906.4 1531.2Q1903 1535.3 1902.1 1529.3Q1901.1 1523.3 1892.8 1523.5z" fill="#a82cb2" fill-opacity="0.72" stroke="#f050f8" stroke-width="1.1" stroke-opacity="0.9" stroke-linejoin="round"/><ellipse cx="1906" cy="1519.5" rx="3.5" ry="2.4" fill="#5b6fe0" fill-opacity="0.85" transform="rotate(17.2 1906 1519.5)"/><path d="M1846.5 1525.5Q1848.9 1522.3 1849.8 1527.9Q1850.7 1533.5 1858.4 1537.7Q1866.1 1542 1860.9 1542.1Q1855.7 1542.2 1860.2 1550.2Q1864.6 1558.2 1857.2 1550.1Q1849.7 1541.9 1842.1 1541.5Q1834.4 1541 1838.7 1537.9Q1842.9 1534.8 1837.2 1528.8Q1831.5 1522.8 1837.8 1525.7Q1844.1 1528.7 1846.5 1525.5z" fill="#a82cb2" fill-opacity="0.72" stroke="#f050f8" stroke-width="1.1" stroke-opacity="0.9" stroke-linejoin="round"/><ellipse cx="1848.5" cy="1536" rx="2.2" ry="1.6" fill="#5b6fe0" fill-opacity="0.85" transform="rotate(45.8 1848.5 1536)"/><path d="M1868 1571.4Q1861.1 1574.8 1864 1569.1Q1866.9 1563.4 1854.9 1558.7Q1842.8 1553.9 1854.6 1555.3Q1866.5 1556.6 1867.3 1550.1Q1868.2 1543.7 1871.3 1551.3Q1874.4 1558.9 1885.5 1559.2Q1896.7 1559.5 1889.5 1563.3Q1882.3 1567.1 1885.6 1573.4Q1888.8 1579.6 1881.8 1573.8Q1874.8 1568 1868 1571.4z" fill="#a82cb2" fill-opacity="0.72" stroke="#f050f8" stroke-width="1.1" stroke-opacity="0.9" stroke-linejoin="round"/><ellipse cx="1872.5" cy="1562.8" rx="2.9" ry="2" fill="#5fd6b0" fill-opacity="0.85" transform="rotate(28.6 1872.5 1562.8)"/><path d="M1800.5 1555.4Q1807.1 1556.1 1804.3 1559.1Q1801.4 1562.1 1808.7 1570.3Q1816 1578.5 1806.5 1571.9Q1797 1565.2 1791.4 1564.3Q1785.7 1563.4 1787.5 1560.5Q1789.2 1557.6 1782.4 1549.7Q1775.6 1541.9 1784.7 1548.3Q1793.9 1554.7 1800.5 1555.4z" fill="#a82cb2" fill-opacity="0.72" stroke="#f050f8" stroke-width="1.1" stroke-opacity="0.9" stroke-linejoin="round"/><ellipse cx="1795.6" cy="1560" rx="2.2" ry="1.6" fill="#5b6fe0" fill-opacity="0.85" transform="rotate(34.4 1795.6 1560)"/><path d="M1695 1563.5Q1691.7 1566.7 1691.5 1562.4Q1691.2 1558 1684.1 1557.1Q1676.9 1556.2 1684.7 1554.6Q1692.4 1553 1692.4 1547.9Q1692.5 1542.9 1695 1547.3Q1697.6 1551.7 1704.9 1548.9Q1712.3 1546.1 1707.3 1551.2Q1702.3 1556.4 1706.8 1560.5Q1711.3 1564.7 1704.8 1562.5Q1698.3 1560.3 1695 1563.5z" fill="#a82cb2" fill-opacity="0.72" stroke="#f050f8" stroke-width="1.1" stroke-opacity="0.9" stroke-linejoin="round"/><ellipse cx="1697" cy="1555.6" rx="2.6" ry="1.8" fill="#5fd6b0" fill-opacity="0.85" transform="rotate(11.5 1697 1555.6)"/><path d="M1712.8 1348.9Q1721.1 1349.4 1713.8 1351.7Q1706.5 1354 1707.3 1358.4Q1708.1 1362.8 1703.3 1359.4Q1698.5 1356 1692.3 1358.2Q1686.2 1360.4 1689.8 1355.6Q1693.5 1350.9 1688.6 1346.7Q1683.8 1342.6 1690.6 1345Q1697.4 1347.3 1701.1 1342.5Q1704.7 1337.7 1704.7 1343Q1704.6 1348.3 1712.8 1348.9z" fill="#a82cb2" fill-opacity="0.72" stroke="#f050f8" stroke-width="1.1" stroke-opacity="0.9" stroke-linejoin="round"/><ellipse cx="1699.4" cy="1351" rx="2.6" ry="1.8" fill="#5b6fe0" fill-opacity="0.85" transform="rotate(17.2 1699.4 1351)"/><path d="M1732.8 1348Q1731.5 1344.8 1738.6 1347.8Q1745.7 1350.9 1757.6 1350.4Q1769.5 1350 1759.9 1352.7Q1750.2 1355.4 1753.1 1359.5Q1755.9 1363.7 1748.1 1360Q1740.3 1356.4 1730.3 1356.9Q1720.3 1357.3 1727.2 1354.3Q1734.1 1351.2 1732.8 1348z" fill="#a82cb2" fill-opacity="0.72" stroke="#f050f8" stroke-width="1.1" stroke-opacity="0.9" stroke-linejoin="round"/><path d="M1780.9 1374Q1785.5 1380.6 1780.8 1376.8Q1776 1372.9 1775 1377.7Q1773.9 1382.6 1772.3 1375.3Q1770.7 1368.1 1766.3 1361.7Q1761.9 1355.3 1766.5 1358.6Q1771.1 1361.8 1773.9 1358Q1776.6 1354.2 1776.5 1360.8Q1776.3 1367.3 1780.9 1374z" fill="#a82cb2" fill-opacity="0.72" stroke="#f050f8" stroke-width="1.1" stroke-opacity="0.9" stroke-linejoin="round"/><ellipse cx="1774" cy="1368" rx="2.2" ry="1.6" fill="#5b6fe0" fill-opacity="0.85" transform="rotate(63 1774 1368)"/><path d="M1793.8 1373.2Q1790.1 1367.5 1796 1371.3Q1801.9 1375.1 1806.4 1374.7Q1810.8 1374.4 1808.8 1377.6Q1806.7 1380.8 1811.9 1386.6Q1817.1 1392.3 1810.3 1388Q1803.4 1383.6 1799 1385.6Q1794.6 1387.6 1796 1383.2Q1797.4 1378.9 1793.8 1373.2z" fill="#a82cb2" fill-opacity="0.72" stroke="#f050f8" stroke-width="1.1" stroke-opacity="0.9" stroke-linejoin="round"/><ellipse cx="1802.8" cy="1380" rx="2.2" ry="1.6" fill="#5b6fe0" fill-opacity="0.85" transform="rotate(40.1 1802.8 1380)"/><path d="M1842.9 1385.4Q1839.9 1391.9 1840.9 1384.6Q1841.9 1377.3 1838.3 1374.9Q1834.8 1372.5 1839.1 1371Q1843.4 1369.5 1844.9 1361.6Q1846.4 1353.7 1846.9 1360.1Q1847.5 1366.5 1853.1 1363.7Q1858.7 1360.9 1854.6 1366.4Q1850.5 1371.9 1852.2 1378Q1853.8 1384.1 1849.8 1381.5Q1845.9 1378.9 1842.9 1385.4z" fill="#a82cb2" fill-opacity="0.72" stroke="#f050f8" stroke-width="1.1" stroke-opacity="0.9" stroke-linejoin="round"/><ellipse cx="1846" cy="1372" rx="2.2" ry="1.6" fill="#5b6fe0" fill-opacity="0.85" transform="rotate(-68.8 1846 1372)"/><path d="M1889.4 1415.2Q1887 1410.6 1891.9 1413.6Q1896.8 1416.6 1903 1415.6Q1909.2 1414.7 1904.7 1417.6Q1900.3 1420.6 1903.6 1424.8Q1907 1428.9 1901.2 1426.2Q1895.3 1423.4 1890.4 1424.3Q1885.5 1425.2 1888.6 1422.5Q1891.7 1419.8 1889.4 1415.2z" fill="#a82cb2" fill-opacity="0.72" stroke="#f050f8" stroke-width="1.1" stroke-opacity="0.9" stroke-linejoin="round"/><ellipse cx="1896" cy="1420" rx="2.2" ry="1.6" fill="#5fd6b0" fill-opacity="0.85" transform="rotate(11.5 1896 1420)"/><path d="M1911.6 1473Q1907.3 1471.3 1911.1 1469Q1914.9 1466.7 1914.8 1458.4Q1914.7 1450.1 1916.9 1457.7Q1919.1 1465.3 1923.8 1467.6Q1928.5 1469.9 1924.9 1471.8Q1921.3 1473.7 1920.9 1481.4Q1920.4 1489 1918.1 1481.9Q1915.9 1474.7 1911.6 1473z" fill="#a82cb2" fill-opacity="0.72" stroke="#f050f8" stroke-width="1.1" stroke-opacity="0.9" stroke-linejoin="round"/><path d="M1850.4 1495.1Q1852.7 1493.2 1853.1 1496.1Q1853.6 1498.9 1857.7 1502.3Q1861.9 1505.8 1856.9 1504.5Q1851.9 1503.1 1849 1505.7Q1846.1 1508.3 1846.7 1504.6Q1847.2 1501 1844.2 1498.8Q1841.1 1496.7 1844.6 1496.8Q1848.1 1497 1850.4 1495.1z" fill="#a82cb2" fill-opacity="0.72" stroke="#f050f8" stroke-width="1.1" stroke-opacity="0.9" stroke-linejoin="round"/><ellipse cx="1850" cy="1500" rx="2.2" ry="1.6" fill="#5b6fe0" fill-opacity="0.85" transform="rotate(17.2 1850 1500)"/><path d="M1760.6 1467.8Q1756.1 1464.1 1760.5 1464.9Q1764.8 1465.6 1765.6 1461.8Q1766.5 1458 1768.4 1463.6Q1770.3 1469.3 1774.4 1472.9Q1778.5 1476.6 1774.4 1475Q1770.2 1473.5 1769.3 1477Q1768.3 1480.6 1766.7 1476Q1765 1471.4 1760.6 1467.8z" fill="#a82cb2" fill-opacity="0.72" stroke="#f050f8" stroke-width="1.1" stroke-opacity="0.9" stroke-linejoin="round"/><ellipse cx="1768" cy="1470" rx="2.2" ry="1.6" fill="#5b6fe0" fill-opacity="0.85" transform="rotate(51.6 1768 1470)"/><path d="M1908.2 1555.6Q1899.8 1553.2 1906.8 1552.8Q1913.8 1552.3 1912 1546.3Q1910.2 1540.3 1915.5 1546.4Q1920.9 1552.5 1928.3 1554.4Q1935.7 1556.3 1929.5 1557.7Q1923.3 1559 1922.1 1563.4Q1921 1567.8 1918.8 1563Q1916.6 1558.1 1908.2 1555.6z" fill="#a82cb2" fill-opacity="0.72" stroke="#f050f8" stroke-width="1.1" stroke-opacity="0.9" stroke-linejoin="round"/><ellipse cx="1918" cy="1555" rx="2.2" ry="1.6" fill="#5b6fe0" fill-opacity="0.85" transform="rotate(34.4 1918 1555)"/><path d="M1843.3 1568.9Q1844.4 1572.9 1839.8 1569Q1835.2 1565.1 1829.2 1563.5Q1823.1 1562 1826.6 1560.7Q1830.2 1559.4 1827.2 1554.9Q1824.3 1550.4 1830.9 1555.2Q1837.6 1560.1 1842.6 1560Q1847.7 1559.8 1845 1562.4Q1842.3 1564.9 1843.3 1568.9z" fill="#a82cb2" fill-opacity="0.72" stroke="#f050f8" stroke-width="1.1" stroke-opacity="0.9" stroke-linejoin="round"/><path d="M1695.3 1485.8Q1693.3 1481.5 1696.3 1483.4Q1699.3 1485.3 1701.5 1481.5Q1703.8 1477.7 1703.5 1484Q1703.1 1490.3 1706.6 1495Q1710.1 1499.6 1705.3 1496.9Q1700.6 1494.2 1698.2 1497Q1695.9 1499.8 1696.6 1495Q1697.3 1490.1 1695.3 1485.8z" fill="#a82cb2" fill-opacity="0.72" stroke="#f050f8" stroke-width="1.1" stroke-opacity="0.9" stroke-linejoin="round"/><path d="M1689.5 1455L1722 1487" stroke="#d43cd8" stroke-width="1"/></g><g clip-path="url(#k2c)" filter="url(#kb)"><path d="M1808 1665L1818 1657L1835 1655L1850 1650L1853 1657L1862 1647L1880 1643L1895 1645L1900 1652L1912 1646L1930 1650V1704C1915 1712 1903 1722 1901 1737C1900 1748 1902 1757 1912 1764L1921 1765.5L1905 1772L1893 1785L1878 1800L1876 1785L1868 1775L1867 1769C1873 1760 1874 1748 1874 1737C1874 1728 1875 1720 1873 1714C1868 1704 1856 1695 1845 1693L1828 1692L1821 1697L1822 1690L1835 1683L1836 1675L1825 1670z" fill="#ab2fb8" fill-opacity="0.9" stroke="#f050f8" stroke-width="1.2"/><path d="M1808 1665L1797 1689M1842 1742L1874 1735" stroke="#e040f0" stroke-width="1.2"/><path d="M1850 1675C1865 1690 1880 1700 1886 1720M1895 1660C1892 1685 1890 1700 1888 1720M1887 1722C1886 1745 1884 1765 1886 1785" stroke="#e9a6ea" stroke-width="5" stroke-opacity="0.35"/><ellipse cx="1884" cy="1722" rx="8" ry="9" fill="#f3c6f3" fill-opacity="0.7"/><ellipse cx="1877" cy="1716" rx="4.5" ry="6" fill="#5fd0e0" fill-opacity="0.9" transform="rotate(-25 1877 1716)"/><ellipse cx="1750" cy="1706" rx="26" ry="35" fill="#8a2896" fill-opacity="0.9" stroke="#e846ea" stroke-width="2.2" transform="rotate(-8 1750 1706)"/><ellipse cx="1751" cy="1704" rx="19" ry="27" fill="#4a1858" fill-opacity="0.85" stroke="#e04ae6" stroke-width="2.4" transform="rotate(-8 1751 1704)"/><ellipse cx="1749.5" cy="1702" rx="5" ry="5.5" fill="#7fe8e8"/><ellipse cx="1763" cy="1717" rx="2" ry="3.5" fill="#7fe8c8"/><path d="M1692 1676L1705 1672L1716 1670L1722 1678L1721 1700L1716 1716L1708 1728L1706 1738L1694 1740L1689 1734L1696 1722L1700 1704L1698 1690z" fill="#a02aa8" fill-opacity="0.8" stroke="#e846ea" stroke-width="1.2"/><ellipse cx="1708.4" cy="1701.4" rx="3.2" ry="4.5" fill="#4f7fe0" fill-opacity="0.9"/><path d="M1723.1 1601.1Q1731.7 1599.4 1725.6 1604.5Q1719.5 1609.7 1731.6 1614.4Q1743.8 1619.2 1731.4 1617.3Q1719 1615.5 1721.9 1624.1Q1724.9 1632.8 1717.7 1625.9Q1710.5 1619 1708.2 1627.5Q1705.8 1636 1704.4 1626.1Q1703 1616.2 1690 1619.9Q1677 1623.5 1686.7 1618.3Q1696.4 1613 1685.5 1609.6Q1674.6 1606.2 1686.7 1605.5Q1698.8 1604.9 1689.1 1595.8Q1679.3 1586.7 1691.7 1594.6Q1704.1 1602.5 1708.6 1594Q1713.1 1585.5 1713.8 1594.1Q1714.5 1602.8 1723.1 1601.1z" fill="#a82cb2" fill-opacity="0.72" stroke="#f050f8" stroke-width="1.1" stroke-opacity="0.9" stroke-linejoin="round"/><ellipse cx="1708" cy="1610" rx="4.8" ry="3.3" fill="#5fd6b0" fill-opacity="0.85" transform="rotate(17.2 1708 1610)"/><ellipse cx="1781" cy="1616.5" rx="14" ry="12" fill="#c040cc" fill-opacity="0.9" stroke="#e846ea" stroke-width="2" transform="rotate(-25 1781 1616.5)"/><circle cx="1781" cy="1617" r="4.2" fill="#4dff88"/><circle cx="1779" cy="1615" r="2.5" fill="#9fe8ff" fill-opacity="0.8"/><path d="M1842.8 1612.1Q1840.6 1615.3 1841.1 1611.3Q1841.5 1607.3 1837.2 1604.9Q1832.8 1602.5 1837.5 1602.9Q1842.3 1603.2 1842.6 1599.5Q1842.9 1595.8 1844.4 1599.7Q1845.9 1603.7 1850.1 1603.9Q1854.3 1604.1 1851.3 1605.6Q1848.3 1607.1 1850.3 1610.3Q1852.3 1613.5 1848.7 1611.2Q1845.1 1608.8 1842.8 1612.1z" fill="#a82cb2" fill-opacity="0.72" stroke="#f050f8" stroke-width="1.1" stroke-opacity="0.9" stroke-linejoin="round"/><circle cx="1844.8" cy="1606" r="2.3" fill="#f4d8f4"/><path d="M1704.8 1644.1Q1703.6 1641.3 1707.1 1642.8Q1710.6 1644.4 1715.1 1641.2Q1719.6 1638 1717.1 1642Q1714.6 1646 1719.3 1646.8Q1724 1647.7 1718.4 1648.8Q1712.8 1649.8 1710.6 1652.8Q1708.4 1655.7 1708.2 1652.6Q1708 1649.5 1703 1650.5Q1698 1651.4 1702 1649.2Q1705.9 1647 1704.8 1644.1z" fill="#a82cb2" fill-opacity="0.72" stroke="#f050f8" stroke-width="1.1" stroke-opacity="0.9" stroke-linejoin="round"/><ellipse cx="1710.5" cy="1647" rx="2.2" ry="1.6" fill="#5b6fe0" fill-opacity="0.85" transform="rotate(-17.2 1710.5 1647)"/><path d="M1730.7 1775.4Q1722.9 1776.4 1729.6 1773Q1736.3 1769.5 1729.5 1763.8Q1722.7 1758.1 1730 1760.9Q1737.3 1763.7 1735.7 1756.4Q1734.1 1749.1 1738 1756.7Q1741.8 1764.3 1748.2 1759.8Q1754.5 1755.2 1751.1 1761.5Q1747.7 1767.8 1755.4 1767.6Q1763.1 1767.5 1755.4 1769.7Q1747.7 1772 1752 1779.2Q1756.2 1786.3 1749.8 1781.1Q1743.3 1775.9 1741.1 1783.7Q1738.9 1791.6 1738.7 1783Q1738.6 1774.5 1730.7 1775.4z" fill="#a82cb2" fill-opacity="0.72" stroke="#f050f8" stroke-width="1.1" stroke-opacity="0.9" stroke-linejoin="round"/><ellipse cx="1742" cy="1770" rx="3.5" ry="2.4" fill="#5b6fe0" fill-opacity="0.85" transform="rotate(51.6 1742 1770)"/><path d="M1806.6 1769.9Q1802.7 1775.1 1804.8 1769.1Q1807 1763.1 1804.2 1761.5Q1801.5 1760 1805.9 1758.2Q1810.2 1756.4 1813 1751.1Q1815.7 1745.8 1815 1750.4Q1814.3 1754.9 1817.8 1753.2Q1821.3 1751.6 1817.6 1755.8Q1813.9 1760.1 1814.6 1765.5Q1815.2 1771 1812.9 1767.9Q1810.6 1764.8 1806.6 1769.9z" fill="#a82cb2" fill-opacity="0.72" stroke="#f050f8" stroke-width="1.1" stroke-opacity="0.9" stroke-linejoin="round"/><circle cx="1810.5" cy="1762" r="2.4" fill="#ffe8ff"/><path d="M1826.1 1796.2Q1826 1789.3 1830.7 1795.1Q1835.4 1800.9 1845.2 1797.8Q1855.1 1794.8 1849 1800.6Q1843 1806.3 1851.9 1809.4Q1860.8 1812.5 1850.2 1813Q1839.6 1813.4 1838 1818.8Q1836.3 1824.2 1833.5 1819Q1830.7 1813.7 1820.1 1817.4Q1809.6 1821.1 1817.1 1815.4Q1824.5 1809.7 1813.4 1805.7Q1802.3 1801.7 1814.2 1802.4Q1826.2 1803 1826.1 1796.2z" fill="#a82cb2" fill-opacity="0.72" stroke="#f050f8" stroke-width="1.1" stroke-opacity="0.9" stroke-linejoin="round"/><ellipse cx="1832" cy="1808" rx="3.5" ry="2.4" fill="#5fd6b0" fill-opacity="0.85" transform="rotate(0 1832 1808)"/><path d="M1912.9 1804.2Q1909.5 1801.6 1914.1 1802Q1918.7 1802.4 1919.8 1798.7Q1921 1795.1 1923 1799.2Q1925 1803.4 1931.1 1804.2Q1937.2 1805 1931.3 1806.9Q1925.3 1808.9 1926.6 1812.3Q1928 1815.7 1924.2 1812.8Q1920.3 1810 1915.1 1812.6Q1909.9 1815.3 1913.1 1811Q1916.4 1806.8 1912.9 1804.2z" fill="#a82cb2" fill-opacity="0.72" stroke="#f050f8" stroke-width="1.1" stroke-opacity="0.9" stroke-linejoin="round"/><ellipse cx="1921" cy="1806" rx="2.2" ry="1.6" fill="#5fd6b0" fill-opacity="0.85" transform="rotate(28.6 1921 1806)"/><path d="M1924.3 1597Q1926.9 1593.8 1926.3 1598.8Q1925.7 1603.8 1931.9 1607.4Q1938.2 1611 1932.1 1610.6Q1926 1610.2 1926.4 1617.6Q1926.7 1625 1923.2 1617.7Q1919.7 1610.5 1915 1611.4Q1910.4 1612.4 1913.4 1608.7Q1916.3 1604.9 1913.5 1599.4Q1910.8 1593.8 1916.2 1597Q1921.6 1600.2 1924.3 1597z" fill="#a82cb2" fill-opacity="0.72" stroke="#f050f8" stroke-width="1.1" stroke-opacity="0.9" stroke-linejoin="round"/><path d="M1911.5 1727.9Q1907.9 1724.7 1912.9 1725.3Q1917.9 1725.9 1920.7 1721.3Q1923.5 1716.7 1923.8 1721.8Q1924.2 1726.9 1930.4 1728.6Q1936.5 1730.3 1930.7 1731.1Q1924.8 1731.9 1926 1737.2Q1927.1 1742.5 1924 1738Q1920.9 1733.4 1915.4 1735.9Q1909.9 1738.4 1912.5 1734.8Q1915 1731.1 1911.5 1727.9z" fill="#a82cb2" fill-opacity="0.72" stroke="#f050f8" stroke-width="1.1" stroke-opacity="0.9" stroke-linejoin="round"/></g><rect x="1830" y="1346" width="97.4" height="21.5" fill="#000"/><rect x="1854" y="1390" width="73.4" height="22" fill="#000"/><text x="1925.5" y="1365.7" font-size="24.5" text-anchor="end" style="fill:#0a14ff" textLength="92" lengthAdjust="spacingAndGlyphs">Nucleus</text><text x="1925.5" y="1387.3" font-size="24.5" text-anchor="end" style="fill:#ff1cff" textLength="58" lengthAdjust="spacingAndGlyphs">Actin</text><text x="1925.5" y="1410" font-size="24.5" text-anchor="end" style="fill:#0af20a" textLength="69" lengthAdjust="spacingAndGlyphs">TIMP3</text><rect x="1881.4" y="1808.5" width="38.5" height="8.1" fill="#fff"/><path d="M1589 1356.5L1589 1574" stroke="#333" stroke-width="1.5"/><path d="M1589.7 1603.3L1589.7 1820.5" stroke="#333" stroke-width="1.5"/><text x="1645.4" y="1372" font-size="24.5" text-anchor="middle" textLength="45.5" lengthAdjust="spacingAndGlyphs">Soft</text><g transform="translate(1615.3 1379.2)"><rect width="59.8" height="60.7" fill="url(#psoft)"/></g><text x="1645.3" y="1479.7" font-size="24.5" text-anchor="middle" textLength="72" lengthAdjust="spacingAndGlyphs">Young</text><text x="1645.3" y="1507.5" font-size="24.5" text-anchor="middle" textLength="51.5" lengthAdjust="spacingAndGlyphs">ECM</text><g transform="translate(1620 1518) scale(1.000)" clip-path="url(#ec3)"><clipPath id="ec3"><rect width="50" height="50"/></clipPath><path d="M9.5 -1C9.5 10 10.5 20 13.2 33S17 46 18.8 51" stroke="#aea9df" stroke-width="5.8"/><path d="M9.5 -1C9.5 10 10.5 20 13.2 33S17 46 18.8 51" stroke="#d0ccef" stroke-width="4"/><path d="M0 40.2C9 39.5 17 37 25.3 34.4S40 32 51 33.6" stroke="#aea9df" stroke-width="6.6"/><path d="M0 40.2C9 39.5 17 37 25.3 34.4S40 32 51 33.6" stroke="#d0ccef" stroke-width="4.8"/><path d="M25 -1C24.5 8 24.5 16 27 24S33 39 40.5 51" stroke="#aea9df" stroke-width="6.8"/><path d="M25 -1C24.5 8 24.5 16 27 24S33 39 40.5 51" stroke="#d0ccef" stroke-width="5"/><path d="M-1 13C6 16.5 14 17.6 22 17S40 12 51 5.6" stroke="#aea9df" stroke-width="7.2"/><path d="M-1 13C6 16.5 14 17.6 22 17S40 12 51 5.6" stroke="#d0ccef" stroke-width="5.4"/></g><text x="1645.5" y="1617" font-size="24.5" text-anchor="middle" textLength="44.5" lengthAdjust="spacingAndGlyphs">Stiff</text><g transform="translate(1616 1624.4)"><rect width="59.8" height="60.7" fill="url(#pstiff)"/></g><text x="1645.8" y="1725.4" font-size="24.5" text-anchor="middle" textLength="58" lengthAdjust="spacingAndGlyphs">Aged</text><text x="1645.8" y="1753.2" font-size="24.5" text-anchor="middle" textLength="51.5" lengthAdjust="spacingAndGlyphs">ECM</text><g transform="translate(1621 1762.9) scale(1.000)" clip-path="url(#ec4)"><clipPath id="ec4"><rect width="50" height="50"/></clipPath><path d="M9.5 -1C9.5 10 10.5 20 13.2 33S17 46 18.8 51" stroke="#4f489f" stroke-width="5.8"/><path d="M9.5 -1C9.5 10 10.5 20 13.2 33S17 46 18.8 51" stroke="#9a96c9" stroke-width="3.5"/><path d="M0 40.2C9 39.5 17 37 25.3 34.4S40 32 51 33.6" stroke="#4f489f" stroke-width="6.6"/><path d="M0 40.2C9 39.5 17 37 25.3 34.4S40 32 51 33.6" stroke="#9a96c9" stroke-width="4.3"/><path d="M25 -1C24.5 8 24.5 16 27 24S33 39 40.5 51" stroke="#4f489f" stroke-width="6.8"/><path d="M25 -1C24.5 8 24.5 16 27 24S33 39 40.5 51" stroke="#9a96c9" stroke-width="4.5"/><path d="M-1 13C6 16.5 14 17.6 22 17S40 12 51 5.6" stroke="#4f489f" stroke-width="7.2"/><path d="M-1 13C6 16.5 14 17.6 22 17S40 12 51 5.6" stroke="#9a96c9" stroke-width="4.9"/></g><text font-size="24.5" text-anchor="middle" textLength="59" lengthAdjust="spacingAndGlyphs" transform="translate(1579.5 1712.5) rotate(-90)">StiffA</text><text x="10.6" y="1936" font-size="33.5" font-weight="bold" stroke="#000" stroke-width="2">l</text><path d="M12 1928V1932Q12 1941.4 20.5 1941.4H23.2V1935.2Q19.3 1936.6 19.3 1931V1928z" fill="#000"/><text x="655" y="1939.8" font-size="40" font-weight="bold" stroke="#000" stroke-width="1.3">m</text><text x="1328" y="1940.6" font-size="40" font-weight="bold" stroke="#000" stroke-width="1.3">n</text><text x="183.5" y="1947" font-size="24.5" textLength="130.5" lengthAdjust="spacingAndGlyphs">Young ECM</text><g transform="translate(329.8 1912.5) scale(1.000)" clip-path="url(#ec5)"><clipPath id="ec5"><rect width="50" height="50"/></clipPath><path d="M9.5 -1C9.5 10 10.5 20 13.2 33S17 46 18.8 51" stroke="#aea9df" stroke-width="5.8"/><path d="M9.5 -1C9.5 10 10.5 20 13.2 33S17 46 18.8 51" stroke="#d0ccef" stroke-width="4"/><path d="M0 40.2C9 39.5 17 37 25.3 34.4S40 32 51 33.6" stroke="#aea9df" stroke-width="6.6"/><path d="M0 40.2C9 39.5 17 37 25.3 34.4S40 32 51 33.6" stroke="#d0ccef" stroke-width="4.8"/><path d="M25 -1C24.5 8 24.5 16 27 24S33 39 40.5 51" stroke="#aea9df" stroke-width="6.8"/><path d="M25 -1C24.5 8 24.5 16 27 24S33 39 40.5 51" stroke="#d0ccef" stroke-width="5"/><path d="M-1 13C6 16.5 14 17.6 22 17S40 12 51 5.6" stroke="#aea9df" stroke-width="7.2"/><path d="M-1 13C6 16.5 14 17.6 22 17S40 12 51 5.6" stroke="#d0ccef" stroke-width="5.4"/></g><text x="433.5" y="1947" font-size="24.5" textLength="118.5" lengthAdjust="spacingAndGlyphs">Aged ECM</text><g transform="translate(567 1912.5) scale(1.000)" clip-path="url(#ec6)"><clipPath id="ec6"><rect width="50" height="50"/></clipPath><path d="M9.5 -1C9.5 10 10.5 20 13.2 33S17 46 18.8 51" stroke="#4f489f" stroke-width="5.8"/><path d="M9.5 -1C9.5 10 10.5 20 13.2 33S17 46 18.8 51" stroke="#9a96c9" stroke-width="3.5"/><path d="M0 40.2C9 39.5 17 37 25.3 34.4S40 32 51 33.6" stroke="#4f489f" stroke-width="6.6"/><path d="M0 40.2C9 39.5 17 37 25.3 34.4S40 32 51 33.6" stroke="#9a96c9" stroke-width="4.3"/><path d="M25 -1C24.5 8 24.5 16 27 24S33 39 40.5 51" stroke="#4f489f" stroke-width="6.8"/><path d="M25 -1C24.5 8 24.5 16 27 24S33 39 40.5 51" stroke="#9a96c9" stroke-width="4.5"/><path d="M-1 13C6 16.5 14 17.6 22 17S40 12 51 5.6" stroke="#4f489f" stroke-width="7.2"/><path d="M-1 13C6 16.5 14 17.6 22 17S40 12 51 5.6" stroke="#9a96c9" stroke-width="4.9"/></g><rect x="158.4" y="1968" width="237" height="231.8" fill="#fbf9fd"/><ellipse cx="346" cy="2044.6" rx="2.4" ry="2" fill="#d86a9a" fill-opacity="0.8" transform="rotate(142 346 2044.6)"/><ellipse cx="392.3" cy="2024.7" rx="2.3" ry="1.5" fill="#9a7fd0" fill-opacity="0.75" transform="rotate(127 392.3 2024.7)"/><ellipse cx="201.3" cy="2154.7" rx="2.4" ry="1.7" fill="#9a7fd0" fill-opacity="0.75" transform="rotate(141 201.3 2154.7)"/><ellipse cx="341.3" cy="2091.6" rx="1.8" ry="1.3" fill="#d86a9a" fill-opacity="0.8" transform="rotate(143 341.3 2091.6)"/><ellipse cx="369.6" cy="2105.4" rx="1.7" ry="1.5" fill="#b79cdc" fill-opacity="0.75" transform="rotate(22 369.6 2105.4)"/><ellipse cx="183.3" cy="2075.1" rx="2.4" ry="1.6" fill="#d0244f" fill-opacity="0.95" transform="rotate(113 183.3 2075.1)"/><ellipse cx="306.3" cy="2178.7" rx="2" ry="1.8" fill="#c0a0d8" fill-opacity="0.75" transform="rotate(155 306.3 2178.7)"/><ellipse cx="284.1" cy="2020.5" rx="2.3" ry="1.5" fill="#c0a0d8" fill-opacity="0.75" transform="rotate(8 284.1 2020.5)"/><ellipse cx="173.5" cy="2113.8" rx="2.4" ry="2.3" fill="#9a7fd0" fill-opacity="0.75" transform="rotate(144 173.5 2113.8)"/><ellipse cx="320.4" cy="1983.6" rx="2.3" ry="1.9" fill="#9a7fd0" fill-opacity="0.75" transform="rotate(4 320.4 1983.6)"/><ellipse cx="356.2" cy="2177.7" rx="2.4" ry="2.2" fill="#a48ad4" fill-opacity="0.75" transform="rotate(37 356.2 2177.7)"/><ellipse cx="337.1" cy="2141.7" rx="1.6" ry="1.6" fill="#d0244f" fill-opacity="0.95" transform="rotate(29 337.1 2141.7)"/><ellipse cx="361" cy="2191" rx="2.5" ry="1.8" fill="#d0244f" fill-opacity="0.95" transform="rotate(22 361 2191)"/><ellipse cx="198.7" cy="2004.7" rx="2.5" ry="2.3" fill="#d0244f" fill-opacity="0.95" transform="rotate(147 198.7 2004.7)"/><ellipse cx="325.9" cy="2106.7" rx="1.9" ry="1.5" fill="#a48ad4" fill-opacity="0.75" transform="rotate(106 325.9 2106.7)"/><ellipse cx="229.6" cy="2033.4" rx="1.8" ry="1.2" fill="#a48ad4" fill-opacity="0.75" transform="rotate(36 229.6 2033.4)"/><ellipse cx="163.4" cy="2119.7" rx="1.8" ry="1.4" fill="#d86a9a" fill-opacity="0.8" transform="rotate(27 163.4 2119.7)"/><ellipse cx="381.2" cy="2057.8" rx="2.1" ry="1.5" fill="#c0a0d8" fill-opacity="0.75" transform="rotate(166 381.2 2057.8)"/><ellipse cx="260.3" cy="2027.7" rx="2.5" ry="1.9" fill="#9a7fd0" fill-opacity="0.75" transform="rotate(49 260.3 2027.7)"/><ellipse cx="340.6" cy="2190.1" rx="2.6" ry="2.1" fill="#c0a0d8" fill-opacity="0.75" transform="rotate(102 340.6 2190.1)"/><ellipse cx="385.3" cy="2028.6" rx="2.5" ry="2.4" fill="#9a7fd0" fill-opacity="0.75" transform="rotate(70 385.3 2028.6)"/><ellipse cx="317.4" cy="2003.7" rx="2.4" ry="2" fill="#a48ad4" fill-opacity="0.75" transform="rotate(150 317.4 2003.7)"/><ellipse cx="189.1" cy="2127.2" rx="2.4" ry="1.8" fill="#d86a9a" fill-opacity="0.8" transform="rotate(173 189.1 2127.2)"/><ellipse cx="280.5" cy="2111.9" rx="1.7" ry="1.3" fill="#a48ad4" fill-opacity="0.75" transform="rotate(165 280.5 2111.9)"/><ellipse cx="304.7" cy="2162.7" rx="2.3" ry="1.9" fill="#d0244f" fill-opacity="0.95" transform="rotate(136 304.7 2162.7)"/><ellipse cx="357.9" cy="1988.3" rx="1.6" ry="1.1" fill="#d0244f" fill-opacity="0.95" transform="rotate(163 357.9 1988.3)"/><ellipse cx="347.9" cy="2155.6" rx="2.2" ry="1.5" fill="#a48ad4" fill-opacity="0.75" transform="rotate(140 347.9 2155.6)"/><ellipse cx="392.2" cy="2135.8" rx="1.7" ry="1.4" fill="#b79cdc" fill-opacity="0.75" transform="rotate(82 392.2 2135.8)"/><ellipse cx="236.4" cy="2022.9" rx="2" ry="1.6" fill="#b79cdc" fill-opacity="0.75" transform="rotate(24 236.4 2022.9)"/><ellipse cx="210.3" cy="2109.6" rx="1.9" ry="1.9" fill="#9a7fd0" fill-opacity="0.75" transform="rotate(109 210.3 2109.6)"/><ellipse cx="205.6" cy="2084.1" rx="1.8" ry="1.8" fill="#b79cdc" fill-opacity="0.75" transform="rotate(88 205.6 2084.1)"/><ellipse cx="316.2" cy="2158.7" rx="2" ry="1.8" fill="#b79cdc" fill-opacity="0.75" transform="rotate(24 316.2 2158.7)"/><ellipse cx="272.2" cy="2124.9" rx="1.8" ry="1.3" fill="#d86a9a" fill-opacity="0.8" transform="rotate(107 272.2 2124.9)"/><ellipse cx="261.2" cy="2089.5" rx="2" ry="1.8" fill="#a48ad4" fill-opacity="0.75" transform="rotate(138 261.2 2089.5)"/><ellipse cx="243.6" cy="2081.7" rx="1.8" ry="1.5" fill="#c0a0d8" fill-opacity="0.75" transform="rotate(66 243.6 2081.7)"/><ellipse cx="167" cy="2105.3" rx="2" ry="1.7" fill="#a48ad4" fill-opacity="0.75" transform="rotate(99 167 2105.3)"/><ellipse cx="237.8" cy="2190.3" rx="2.2" ry="1.7" fill="#9a7fd0" fill-opacity="0.75" transform="rotate(31 237.8 2190.3)"/><ellipse cx="264.4" cy="2176" rx="2.1" ry="1.6" fill="#d86a9a" fill-opacity="0.8" transform="rotate(23 264.4 2176)"/><ellipse cx="365.3" cy="2120.7" rx="1.7" ry="1.4" fill="#a48ad4" fill-opacity="0.75" transform="rotate(25 365.3 2120.7)"/><ellipse cx="279.2" cy="2068.5" rx="2.2" ry="2.2" fill="#d86a9a" fill-opacity="0.8" transform="rotate(123 279.2 2068.5)"/><ellipse cx="186.2" cy="2196.2" rx="1.7" ry="1.4" fill="#9a7fd0" fill-opacity="0.75" transform="rotate(71 186.2 2196.2)"/><ellipse cx="255.1" cy="1988.4" rx="2" ry="1.9" fill="#d86a9a" fill-opacity="0.8" transform="rotate(179 255.1 1988.4)"/><rect x="403.8" y="1968" width="236.8" height="231.8" fill="#fbf9fd"/><ellipse cx="414.1" cy="2120.8" rx="2.3" ry="1.7" fill="#b79cdc" fill-opacity="0.75" transform="rotate(77 414.1 2120.8)"/><ellipse cx="418.9" cy="2094.2" rx="1.8" ry="1.6" fill="#d0244f" fill-opacity="0.95" transform="rotate(122 418.9 2094.2)"/><ellipse cx="624.9" cy="1996.8" rx="2.3" ry="1.6" fill="#c0a0d8" fill-opacity="0.75" transform="rotate(43 624.9 1996.8)"/><ellipse cx="435.1" cy="2083.2" rx="2.4" ry="2.2" fill="#d86a9a" fill-opacity="0.8" transform="rotate(84 435.1 2083.2)"/><ellipse cx="623.9" cy="2053.5" rx="2.5" ry="2.5" fill="#a48ad4" fill-opacity="0.75" transform="rotate(142 623.9 2053.5)"/><ellipse cx="464.5" cy="2189.2" rx="1.6" ry="1.5" fill="#b79cdc" fill-opacity="0.75" transform="rotate(172 464.5 2189.2)"/><ellipse cx="633.8" cy="2022.5" rx="2.4" ry="2.3" fill="#b79cdc" fill-opacity="0.75" transform="rotate(29 633.8 2022.5)"/><ellipse cx="556.1" cy="2081.4" rx="1.8" ry="1.3" fill="#c0a0d8" fill-opacity="0.75" transform="rotate(7 556.1 2081.4)"/><ellipse cx="595.2" cy="1982.3" rx="2" ry="1.5" fill="#d0244f" fill-opacity="0.95" transform="rotate(119 595.2 1982.3)"/><ellipse cx="524.2" cy="2158.3" rx="2.5" ry="1.7" fill="#c0a0d8" fill-opacity="0.75" transform="rotate(94 524.2 2158.3)"/><ellipse cx="513.3" cy="2168.5" rx="1.8" ry="1.3" fill="#d0244f" fill-opacity="0.95" transform="rotate(75 513.3 2168.5)"/><ellipse cx="619.9" cy="1996.9" rx="2.6" ry="1.8" fill="#a48ad4" fill-opacity="0.75" transform="rotate(68 619.9 1996.9)"/><ellipse cx="508.8" cy="2064.2" rx="1.8" ry="1.7" fill="#c0a0d8" fill-opacity="0.75" transform="rotate(47 508.8 2064.2)"/><ellipse cx="570.7" cy="2122.5" rx="1.6" ry="1.4" fill="#c0a0d8" fill-opacity="0.75" transform="rotate(54 570.7 2122.5)"/><ellipse cx="592.1" cy="2000.2" rx="2.4" ry="1.8" fill="#9a7fd0" fill-opacity="0.75" transform="rotate(151 592.1 2000.2)"/><ellipse cx="514.2" cy="2026.8" rx="2" ry="1.8" fill="#d86a9a" fill-opacity="0.8" transform="rotate(29 514.2 2026.8)"/><ellipse cx="525.1" cy="1977.2" rx="1.7" ry="1.3" fill="#b79cdc" fill-opacity="0.75" transform="rotate(134 525.1 1977.2)"/><ellipse cx="441.7" cy="2082.9" rx="1.9" ry="1.4" fill="#d0244f" fill-opacity="0.95" transform="rotate(110 441.7 2082.9)"/><ellipse cx="498.8" cy="2131.5" rx="1.8" ry="1.4" fill="#b79cdc" fill-opacity="0.75" transform="rotate(109 498.8 2131.5)"/><ellipse cx="432.3" cy="2095.1" rx="2.2" ry="1.5" fill="#b79cdc" fill-opacity="0.75" transform="rotate(77 432.3 2095.1)"/><ellipse cx="511.4" cy="2002.1" rx="1.7" ry="1.5" fill="#d0244f" fill-opacity="0.95" transform="rotate(68 511.4 2002.1)"/><ellipse cx="497.5" cy="2003.9" rx="2.3" ry="1.9" fill="#a48ad4" fill-opacity="0.75" transform="rotate(116 497.5 2003.9)"/><ellipse cx="500.6" cy="2028.5" rx="2.5" ry="1.8" fill="#a48ad4" fill-opacity="0.75" transform="rotate(14 500.6 2028.5)"/><ellipse cx="528.9" cy="2149.6" rx="2.4" ry="1.8" fill="#c0a0d8" fill-opacity="0.75" transform="rotate(110 528.9 2149.6)"/><ellipse cx="480" cy="2178.5" rx="1.9" ry="1.4" fill="#d86a9a" fill-opacity="0.8" transform="rotate(78 480 2178.5)"/><ellipse cx="566.2" cy="2034" rx="1.8" ry="1.7" fill="#d0244f" fill-opacity="0.95" transform="rotate(127 566.2 2034)"/><ellipse cx="522.5" cy="1998.5" rx="2.5" ry="2.4" fill="#a48ad4" fill-opacity="0.75" transform="rotate(145 522.5 1998.5)"/><ellipse cx="582.5" cy="2056.2" rx="2.3" ry="1.9" fill="#b79cdc" fill-opacity="0.75" transform="rotate(3 582.5 2056.2)"/><ellipse cx="497.1" cy="2184.8" rx="2.6" ry="2" fill="#d0244f" fill-opacity="0.95" transform="rotate(159 497.1 2184.8)"/><ellipse cx="582.4" cy="1989.6" rx="2.1" ry="1.8" fill="#c0a0d8" fill-opacity="0.75" transform="rotate(73 582.4 1989.6)"/><ellipse cx="616.1" cy="2027.3" rx="2.3" ry="2.3" fill="#9a7fd0" fill-opacity="0.75" transform="rotate(102 616.1 2027.3)"/><ellipse cx="582.1" cy="2140.8" rx="2" ry="1.6" fill="#c0a0d8" fill-opacity="0.75" transform="rotate(2 582.1 2140.8)"/><ellipse cx="545.1" cy="2161" rx="1.7" ry="1.3" fill="#b79cdc" fill-opacity="0.75" transform="rotate(69 545.1 2161)"/><ellipse cx="457.4" cy="2094.7" rx="2.6" ry="2" fill="#d86a9a" fill-opacity="0.8" transform="rotate(155 457.4 2094.7)"/><ellipse cx="613.3" cy="1985.1" rx="2" ry="1.3" fill="#b79cdc" fill-opacity="0.75" transform="rotate(149 613.3 1985.1)"/><ellipse cx="534.1" cy="2158.4" rx="2.1" ry="1.9" fill="#b79cdc" fill-opacity="0.75" transform="rotate(179 534.1 2158.4)"/><ellipse cx="455.8" cy="2097.2" rx="2.5" ry="2.2" fill="#d86a9a" fill-opacity="0.8" transform="rotate(129 455.8 2097.2)"/><ellipse cx="410.7" cy="2049.6" rx="1.8" ry="1.8" fill="#a48ad4" fill-opacity="0.75" transform="rotate(168 410.7 2049.6)"/><ellipse cx="549.5" cy="2126.9" rx="2.1" ry="1.4" fill="#a48ad4" fill-opacity="0.75" transform="rotate(79 549.5 2126.9)"/><ellipse cx="443.8" cy="2032.8" rx="2.3" ry="1.9" fill="#d0244f" fill-opacity="0.95" transform="rotate(30 443.8 2032.8)"/><ellipse cx="491.1" cy="2188.4" rx="2.5" ry="1.8" fill="#b79cdc" fill-opacity="0.75" transform="rotate(28 491.1 2188.4)"/><ellipse cx="517.4" cy="2104.7" rx="2" ry="1.5" fill="#d86a9a" fill-opacity="0.8" transform="rotate(29 517.4 2104.7)"/><ellipse cx="558.4" cy="2123" rx="2" ry="1.9" fill="#b79cdc" fill-opacity="0.75" transform="rotate(76 558.4 2123)"/><ellipse cx="431.2" cy="1976.9" rx="1.7" ry="1.3" fill="#b79cdc" fill-opacity="0.75" transform="rotate(112 431.2 1976.9)"/><ellipse cx="524.5" cy="2042.6" rx="1.6" ry="1.2" fill="#b79cdc" fill-opacity="0.75" transform="rotate(34 524.5 2042.6)"/><ellipse cx="534.7" cy="2090.2" rx="1.7" ry="1.3" fill="#d86a9a" fill-opacity="0.8" transform="rotate(44 534.7 2090.2)"/><ellipse cx="482.4" cy="2107.1" rx="1.6" ry="1.6" fill="#d0244f" fill-opacity="0.95" transform="rotate(26 482.4 2107.1)"/><ellipse cx="564.5" cy="2159.3" rx="1.8" ry="1.8" fill="#a48ad4" fill-opacity="0.75" transform="rotate(95 564.5 2159.3)"/><ellipse cx="507.6" cy="2014.2" rx="1.7" ry="1.1" fill="#a48ad4" fill-opacity="0.75" transform="rotate(0 507.6 2014.2)"/><ellipse cx="417.4" cy="2094.8" rx="1.7" ry="1.4" fill="#c0a0d8" fill-opacity="0.75" transform="rotate(166 417.4 2094.8)"/><ellipse cx="636.3" cy="2174.4" rx="2.3" ry="1.7" fill="#d0244f" fill-opacity="0.95" transform="rotate(166 636.3 2174.4)"/><ellipse cx="536" cy="2004.6" rx="2.1" ry="1.8" fill="#d0244f" fill-opacity="0.95" transform="rotate(52 536 2004.6)"/><ellipse cx="518.3" cy="2176.4" rx="2.5" ry="1.9" fill="#9a7fd0" fill-opacity="0.75" transform="rotate(152 518.3 2176.4)"/><ellipse cx="507.9" cy="2082.4" rx="2.3" ry="1.8" fill="#b79cdc" fill-opacity="0.75" transform="rotate(157 507.9 2082.4)"/><ellipse cx="477.6" cy="2130" rx="2.1" ry="2" fill="#d86a9a" fill-opacity="0.8" transform="rotate(44 477.6 2130)"/><rect x="158.4" y="2207.2" width="237" height="231.1" fill="#fbf9fd"/><ellipse cx="273.7" cy="2328.3" rx="2.3" ry="1.9" fill="#9a7fd0" fill-opacity="0.75" transform="rotate(59 273.7 2328.3)"/><ellipse cx="298.7" cy="2419.7" rx="2.1" ry="1.4" fill="#b79cdc" fill-opacity="0.75" transform="rotate(32 298.7 2419.7)"/><ellipse cx="165.8" cy="2393" rx="2.4" ry="2.3" fill="#d86a9a" fill-opacity="0.8" transform="rotate(99 165.8 2393)"/><ellipse cx="237.8" cy="2349.7" rx="2.4" ry="2.3" fill="#c0a0d8" fill-opacity="0.75" transform="rotate(1 237.8 2349.7)"/><ellipse cx="311.3" cy="2342.5" rx="2.2" ry="1.8" fill="#d0244f" fill-opacity="0.95" transform="rotate(140 311.3 2342.5)"/><ellipse cx="331.9" cy="2410.9" rx="2.1" ry="2" fill="#c0a0d8" fill-opacity="0.75" transform="rotate(14 331.9 2410.9)"/><ellipse cx="207.8" cy="2426" rx="2.3" ry="2.2" fill="#c0a0d8" fill-opacity="0.75" transform="rotate(60 207.8 2426)"/><ellipse cx="194.5" cy="2434.2" rx="1.7" ry="1.1" fill="#c0a0d8" fill-opacity="0.75" transform="rotate(172 194.5 2434.2)"/><ellipse cx="301.6" cy="2272.4" rx="1.9" ry="1.8" fill="#d86a9a" fill-opacity="0.8" transform="rotate(98 301.6 2272.4)"/><ellipse cx="380" cy="2242.1" rx="1.9" ry="1.5" fill="#a48ad4" fill-opacity="0.75" transform="rotate(175 380 2242.1)"/><ellipse cx="335.2" cy="2226.2" rx="1.7" ry="1.7" fill="#9a7fd0" fill-opacity="0.75" transform="rotate(72 335.2 2226.2)"/><ellipse cx="289" cy="2362.2" rx="1.9" ry="1.3" fill="#b79cdc" fill-opacity="0.75" transform="rotate(31 289 2362.2)"/><ellipse cx="209.4" cy="2223.9" rx="2.3" ry="1.8" fill="#9a7fd0" fill-opacity="0.75" transform="rotate(99 209.4 2223.9)"/><ellipse cx="183.7" cy="2410.2" rx="2.4" ry="1.8" fill="#d86a9a" fill-opacity="0.8" transform="rotate(166 183.7 2410.2)"/><ellipse cx="189.7" cy="2243.5" rx="2.4" ry="1.7" fill="#c0a0d8" fill-opacity="0.75" transform="rotate(104 189.7 2243.5)"/><ellipse cx="375.4" cy="2244" rx="1.9" ry="1.9" fill="#9a7fd0" fill-opacity="0.75" transform="rotate(7 375.4 2244)"/><ellipse cx="313.4" cy="2222.8" rx="2.2" ry="2" fill="#d0244f" fill-opacity="0.95" transform="rotate(19 313.4 2222.8)"/><ellipse cx="323.7" cy="2407.7" rx="2.3" ry="1.8" fill="#c0a0d8" fill-opacity="0.75" transform="rotate(57 323.7 2407.7)"/><ellipse cx="365" cy="2216.3" rx="1.7" ry="1.2" fill="#d86a9a" fill-opacity="0.8" transform="rotate(132 365 2216.3)"/><ellipse cx="385.6" cy="2248.3" rx="2.2" ry="1.9" fill="#d86a9a" fill-opacity="0.8" transform="rotate(64 385.6 2248.3)"/><ellipse cx="198.2" cy="2299.6" rx="2.2" ry="2.1" fill="#9a7fd0" fill-opacity="0.75" transform="rotate(91 198.2 2299.6)"/><ellipse cx="311.1" cy="2235.7" rx="1.9" ry="1.7" fill="#a48ad4" fill-opacity="0.75" transform="rotate(24 311.1 2235.7)"/><rect x="403.8" y="2207.2" width="236.8" height="231.1" fill="#fbf9fd"/><ellipse cx="475.1" cy="2431.1" rx="1.9" ry="1.8" fill="#c0a0d8" fill-opacity="0.75" transform="rotate(71 475.1 2431.1)"/><ellipse cx="505.5" cy="2359.2" rx="1.6" ry="1.5" fill="#a48ad4" fill-opacity="0.75" transform="rotate(6 505.5 2359.2)"/><ellipse cx="514.3" cy="2217.1" rx="2.4" ry="1.7" fill="#a48ad4" fill-opacity="0.75" transform="rotate(53 514.3 2217.1)"/><ellipse cx="517.2" cy="2248.3" rx="1.9" ry="1.5" fill="#d86a9a" fill-opacity="0.8" transform="rotate(178 517.2 2248.3)"/><ellipse cx="414.4" cy="2238.2" rx="1.7" ry="1.5" fill="#9a7fd0" fill-opacity="0.75" transform="rotate(129 414.4 2238.2)"/><ellipse cx="549.4" cy="2343.9" rx="1.7" ry="1.2" fill="#a48ad4" fill-opacity="0.75" transform="rotate(135 549.4 2343.9)"/><ellipse cx="626.4" cy="2271.6" rx="1.7" ry="1.5" fill="#d86a9a" fill-opacity="0.8" transform="rotate(162 626.4 2271.6)"/><ellipse cx="541.3" cy="2219.2" rx="1.7" ry="1.4" fill="#b79cdc" fill-opacity="0.75" transform="rotate(168 541.3 2219.2)"/><ellipse cx="612.5" cy="2271.1" rx="2.4" ry="1.9" fill="#d86a9a" fill-opacity="0.8" transform="rotate(147 612.5 2271.1)"/><ellipse cx="499.9" cy="2426.6" rx="1.9" ry="1.6" fill="#a48ad4" fill-opacity="0.75" transform="rotate(110 499.9 2426.6)"/><ellipse cx="468" cy="2348.9" rx="2" ry="1.8" fill="#9a7fd0" fill-opacity="0.75" transform="rotate(108 468 2348.9)"/><ellipse cx="636.2" cy="2395.5" rx="2" ry="1.5" fill="#c0a0d8" fill-opacity="0.75" transform="rotate(157 636.2 2395.5)"/><ellipse cx="407.5" cy="2340.9" rx="2.1" ry="1.7" fill="#d0244f" fill-opacity="0.95" transform="rotate(15 407.5 2340.9)"/><ellipse cx="409.2" cy="2369.8" rx="2" ry="1.9" fill="#d86a9a" fill-opacity="0.8" transform="rotate(72 409.2 2369.8)"/><ellipse cx="493.1" cy="2433.8" rx="2.1" ry="1.9" fill="#d0244f" fill-opacity="0.95" transform="rotate(41 493.1 2433.8)"/><ellipse cx="413.1" cy="2427.5" rx="1.7" ry="1.2" fill="#d86a9a" fill-opacity="0.8" transform="rotate(139 413.1 2427.5)"/><ellipse cx="477.3" cy="2296.6" rx="1.9" ry="1.3" fill="#c0a0d8" fill-opacity="0.75" transform="rotate(0 477.3 2296.6)"/><ellipse cx="581.9" cy="2337.2" rx="2.2" ry="2.1" fill="#d0244f" fill-opacity="0.95" transform="rotate(178 581.9 2337.2)"/><ellipse cx="617.2" cy="2217.8" rx="2.4" ry="2.1" fill="#a48ad4" fill-opacity="0.75" transform="rotate(114 617.2 2217.8)"/><ellipse cx="567.6" cy="2416.2" rx="2.3" ry="1.6" fill="#9a7fd0" fill-opacity="0.75" transform="rotate(36 567.6 2416.2)"/><ellipse cx="557.9" cy="2392" rx="2.5" ry="2.1" fill="#a48ad4" fill-opacity="0.75" transform="rotate(132 557.9 2392)"/><ellipse cx="544.6" cy="2280.3" rx="1.8" ry="1.3" fill="#d86a9a" fill-opacity="0.8" transform="rotate(53 544.6 2280.3)"/><ellipse cx="502" cy="2422" rx="1.8" ry="1.3" fill="#d0244f" fill-opacity="0.95" transform="rotate(27 502 2422)"/><ellipse cx="479.1" cy="2360.9" rx="2.5" ry="2.2" fill="#d86a9a" fill-opacity="0.8" transform="rotate(82 479.1 2360.9)"/><ellipse cx="475.3" cy="2304.4" rx="2.2" ry="1.9" fill="#d86a9a" fill-opacity="0.8" transform="rotate(175 475.3 2304.4)"/><ellipse cx="463.3" cy="2328.2" rx="2.5" ry="2.1" fill="#d86a9a" fill-opacity="0.8" transform="rotate(40 463.3 2328.2)"/><ellipse cx="410.1" cy="2239.8" rx="2.1" ry="1.4" fill="#d0244f" fill-opacity="0.95" transform="rotate(124 410.1 2239.8)"/><ellipse cx="448.4" cy="2224" rx="1.9" ry="1.7" fill="#a48ad4" fill-opacity="0.75" transform="rotate(112 448.4 2224)"/><ellipse cx="462.2" cy="2354.4" rx="1.8" ry="1.6" fill="#d0244f" fill-opacity="0.95" transform="rotate(83 462.2 2354.4)"/><ellipse cx="618.5" cy="2326.8" rx="2.1" ry="1.9" fill="#c0a0d8" fill-opacity="0.75" transform="rotate(144 618.5 2326.8)"/><ellipse cx="437.5" cy="2392.3" rx="1.7" ry="1.7" fill="#c0a0d8" fill-opacity="0.75" transform="rotate(91 437.5 2392.3)"/><ellipse cx="557.2" cy="2272.6" rx="2.2" ry="1.4" fill="#d0244f" fill-opacity="0.95" transform="rotate(23 557.2 2272.6)"/><ellipse cx="433.8" cy="2248.2" rx="2.5" ry="2.3" fill="#d86a9a" fill-opacity="0.8" transform="rotate(143 433.8 2248.2)"/><ellipse cx="633.7" cy="2220.5" rx="2" ry="1.9" fill="#d0244f" fill-opacity="0.95" transform="rotate(118 633.7 2220.5)"/><ellipse cx="418.8" cy="2397.3" rx="2.1" ry="1.7" fill="#d86a9a" fill-opacity="0.8" transform="rotate(79 418.8 2397.3)"/><ellipse cx="476.6" cy="2265.7" rx="2.3" ry="2" fill="#a48ad4" fill-opacity="0.75" transform="rotate(13 476.6 2265.7)"/><ellipse cx="552.7" cy="2396.6" rx="2.5" ry="2.1" fill="#d0244f" fill-opacity="0.95" transform="rotate(118 552.7 2396.6)"/><ellipse cx="625.4" cy="2286.1" rx="2.5" ry="2.1" fill="#9a7fd0" fill-opacity="0.75" transform="rotate(72 625.4 2286.1)"/><ellipse cx="437.6" cy="2258.8" rx="2.3" ry="2.1" fill="#d86a9a" fill-opacity="0.8" transform="rotate(45 437.6 2258.8)"/><ellipse cx="562.2" cy="2252.5" rx="2.4" ry="2" fill="#d86a9a" fill-opacity="0.8" transform="rotate(166 562.2 2252.5)"/><text x="166" y="1991.2" font-size="24.5" style="fill:#2e3192" textLength="91" lengthAdjust="spacingAndGlyphs">Nucleus</text><text x="166" y="2019.8" font-size="24.5" style="fill:#d2232a" textLength="42" lengthAdjust="spacingAndGlyphs">p53</text><path d="M60.3 2009L60.3 2361" stroke="#111" stroke-width="1.3"/><text x="114" y="2045.7" font-size="24.5" text-anchor="middle" textLength="45.5" lengthAdjust="spacingAndGlyphs">Soft</text><g transform="translate(84.2 2058)"><rect width="59.8" height="60.7" fill="url(#psoft)"/></g><text x="114" y="2283.3" font-size="24.5" text-anchor="middle" textLength="44.5" lengthAdjust="spacingAndGlyphs">Stiff</text><g transform="translate(84.2 2294)"><rect width="59.8" height="60.7" fill="url(#pstiff)"/></g><text font-size="24.5" text-anchor="middle" textLength="121" lengthAdjust="spacingAndGlyphs" transform="translate(34.5 2230) rotate(-90)">Young CFs</text><g transform="translate(28 2107.3) rotate(-90)"><path d="M-37.2 -10.7C-22.3 -11.4 -11.2 -16.9 -0.7 -17.2C9.3 -17.2 18.6 -10.7 34.6 -13.8C29.8 -5.2 31.7 3.5 37.2 9C22.3 11.4 11.2 17.2 0 17.2C-11.2 17.2 -22.3 12.1 -35.8 12.8C-33.5 8.6 -29.8 3.5 -26.1 0.9C-29.8 -2.6 -33.5 -6.9 -37.2 -10.7z" fill="#6699c8"/><ellipse cx="-1.9" cy="0.5" rx="12.3" ry="9.3" fill="#c5d8ea"/></g><text x="844.8" y="1942.5" font-size="24.5" textLength="131.5" lengthAdjust="spacingAndGlyphs">Young ECM</text><g transform="translate(991 1908.5) scale(1.000)" clip-path="url(#ec7)"><clipPath id="ec7"><rect width="50" height="50"/></clipPath><path d="M9.5 -1C9.5 10 10.5 20 13.2 33S17 46 18.8 51" stroke="#aea9df" stroke-width="5.8"/><path d="M9.5 -1C9.5 10 10.5 20 13.2 33S17 46 18.8 51" stroke="#d0ccef" stroke-width="4"/><path d="M0 40.2C9 39.5 17 37 25.3 34.4S40 32 51 33.6" stroke="#aea9df" stroke-width="6.6"/><path d="M0 40.2C9 39.5 17 37 25.3 34.4S40 32 51 33.6" stroke="#d0ccef" stroke-width="4.8"/><path d="M25 -1C24.5 8 24.5 16 27 24S33 39 40.5 51" stroke="#aea9df" stroke-width="6.8"/><path d="M25 -1C24.5 8 24.5 16 27 24S33 39 40.5 51" stroke="#d0ccef" stroke-width="5"/><path d="M-1 13C6 16.5 14 17.6 22 17S40 12 51 5.6" stroke="#aea9df" stroke-width="7.2"/><path d="M-1 13C6 16.5 14 17.6 22 17S40 12 51 5.6" stroke="#d0ccef" stroke-width="5.4"/></g><text x="1094.8" y="1942.5" font-size="24.5" textLength="118" lengthAdjust="spacingAndGlyphs">Aged ECM</text><g transform="translate(1228.2 1908.5) scale(1.000)" clip-path="url(#ec8)"><clipPath id="ec8"><rect width="50" height="50"/></clipPath><path d="M9.5 -1C9.5 10 10.5 20 13.2 33S17 46 18.8 51" stroke="#4f489f" stroke-width="5.8"/><path d="M9.5 -1C9.5 10 10.5 20 13.2 33S17 46 18.8 51" stroke="#9a96c9" stroke-width="3.5"/><path d="M0 40.2C9 39.5 17 37 25.3 34.4S40 32 51 33.6" stroke="#4f489f" stroke-width="6.6"/><path d="M0 40.2C9 39.5 17 37 25.3 34.4S40 32 51 33.6" stroke="#9a96c9" stroke-width="4.3"/><path d="M25 -1C24.5 8 24.5 16 27 24S33 39 40.5 51" stroke="#4f489f" stroke-width="6.8"/><path d="M25 -1C24.5 8 24.5 16 27 24S33 39 40.5 51" stroke="#9a96c9" stroke-width="4.5"/><path d="M-1 13C6 16.5 14 17.6 22 17S40 12 51 5.6" stroke="#4f489f" stroke-width="7.2"/><path d="M-1 13C6 16.5 14 17.6 22 17S40 12 51 5.6" stroke="#9a96c9" stroke-width="4.9"/></g><rect x="816.6" y="1970.7" width="236.8" height="231.5" fill="#fbf9fd"/><rect x="1062" y="1970.7" width="237.2" height="231.5" fill="#fbf9fd"/><rect x="816.6" y="2210.3" width="236.8" height="232.7" fill="#fbf9fd"/><rect x="1062" y="2210.3" width="237.2" height="232.7" fill="#fbf9fd"/><circle cx="882.3" cy="1972.6" r="1.3" fill="#a78bd6" fill-opacity="0.85"/><circle cx="924.8" cy="1980" r="2.6" fill="#b98cc8" fill-opacity="0.85"/><circle cx="963.8" cy="1998.5" r="3.2" fill="#d9759f" fill-opacity="0.85"/><circle cx="998.6" cy="2003.2" r="2.2" fill="#a78bd6" fill-opacity="0.85"/><circle cx="865.3" cy="2019.8" r="5.2" fill="#a78bd6" fill-opacity="0.85"/><circle cx="917" cy="2022.9" r="2.6" fill="#a78bd6" fill-opacity="0.85"/><circle cx="947.2" cy="2041.4" r="2.6" fill="#cbb8e6" fill-opacity="0.85"/><circle cx="1023.3" cy="2048.8" r="4.6" fill="#d9759f" fill-opacity="0.5"/><circle cx="1040.7" cy="2071.9" r="2.4" fill="#cbb8e6" fill-opacity="0.85"/><circle cx="948" cy="2083.5" r="2.4" fill="#d9759f" fill-opacity="0.85"/><circle cx="833.2" cy="2103.6" r="3" fill="#d9759f" fill-opacity="0.85"/><circle cx="868" cy="2107.5" r="2.6" fill="#a78bd6" fill-opacity="0.85"/><circle cx="886.1" cy="2105.6" r="3" fill="#a78bd6" fill-opacity="0.85"/><circle cx="923.2" cy="2125.3" r="2.8" fill="#a78bd6" fill-opacity="0.85"/><circle cx="1036.1" cy="2134.5" r="2" fill="#8f1f5a" fill-opacity="0.95"/><circle cx="910.5" cy="2151.2" r="2.6" fill="#d02a55" fill-opacity="0.95"/><circle cx="944.5" cy="2171.3" r="3.4" fill="#b98cc8" fill-opacity="0.85"/><circle cx="1020.6" cy="2166.6" r="1.8" fill="#8f1f5a" fill-opacity="0.95"/><circle cx="940.6" cy="2188.6" r="2.8" fill="#a78bd6" fill-opacity="0.85"/><circle cx="977.3" cy="2201.4" r="2" fill="#d9759f" fill-opacity="0.85"/><circle cx="1155.8" cy="1977.3" r="2.2" fill="#cbb8e6" fill-opacity="0.85"/><circle cx="1179" cy="1994.7" r="1.8" fill="#8f1f5a" fill-opacity="0.95"/><circle cx="1124.2" cy="2017.1" r="3.6" fill="#b98cc8" fill-opacity="0.85"/><circle cx="1232" cy="2010.1" r="2.8" fill="#a78bd6" fill-opacity="0.85"/><circle cx="1171.3" cy="2050.7" r="5" fill="#b98cc8" fill-opacity="0.85"/><circle cx="1224.6" cy="2056.5" r="1.8" fill="#a78bd6" fill-opacity="0.85"/><circle cx="1291.9" cy="2067.3" r="2.4" fill="#cbb8e6" fill-opacity="0.85"/><circle cx="1068.1" cy="2086.6" r="4.4" fill="#a78bd6" fill-opacity="0.85"/><circle cx="1088.2" cy="2086.6" r="3.2" fill="#8f1f5a" fill-opacity="0.95"/><circle cx="1224.6" cy="2077.7" r="2.4" fill="#a78bd6" fill-opacity="0.85"/><circle cx="1177.1" cy="2096.3" r="2" fill="#a78bd6" fill-opacity="0.85"/><circle cx="1084.4" cy="2136.5" r="5.6" fill="#cbb8e6" fill-opacity="0.85"/><circle cx="1156.6" cy="2131.8" r="4" fill="#8f1f5a" fill-opacity="0.95"/><circle cx="1245.9" cy="2128" r="2.4" fill="#cbb8e6" fill-opacity="0.85"/><circle cx="1218.4" cy="2154.3" r="3.8" fill="#d9759f" fill-opacity="0.85"/><circle cx="1290.3" cy="2152.3" r="4.6" fill="#d9759f" fill-opacity="0.45"/><circle cx="1126.9" cy="2171.3" r="2.8" fill="#d9759f" fill-opacity="0.85"/><circle cx="1262.1" cy="2187.1" r="2.2" fill="#cbb8e6" fill-opacity="0.85"/><circle cx="925.9" cy="2229.2" r="4.6" fill="#cbb8e6" fill-opacity="0.85"/><circle cx="1015.6" cy="2262.1" r="4.4" fill="#d9759f" fill-opacity="0.6"/><circle cx="1042.6" cy="2272.1" r="4.2" fill="#cbb8e6" fill-opacity="0.85"/><circle cx="902.8" cy="2276.7" r="3.6" fill="#cbb8e6" fill-opacity="0.85"/><circle cx="925.2" cy="2304.9" r="3.8" fill="#d02a55" fill-opacity="0.8"/><circle cx="877.6" cy="2361" r="2.4" fill="#d9759f" fill-opacity="0.85"/><circle cx="1017.5" cy="2364.8" r="2.6" fill="#a78bd6" fill-opacity="0.85"/><circle cx="876.9" cy="2403.1" r="2.4" fill="#d02a55" fill-opacity="0.95"/><circle cx="981.2" cy="2412.8" r="3.2" fill="#cbb8e6" fill-opacity="0.85"/><circle cx="1025.2" cy="2420.9" r="2.2" fill="#a78bd6" fill-opacity="0.85"/><circle cx="879.6" cy="2434" r="3.4" fill="#b98cc8" fill-opacity="0.85"/><circle cx="1077.8" cy="2249.7" r="6.2" fill="#d02a55" fill-opacity="0.95"/><circle cx="1241.6" cy="2255.5" r="2.8" fill="#d9759f" fill-opacity="0.6"/><circle cx="1161.6" cy="2290.3" r="3.4" fill="#b98cc8" fill-opacity="0.85"/><circle cx="1275.6" cy="2296.1" r="5.2" fill="#d02a55" fill-opacity="0.85"/><circle cx="1155.1" cy="2330.1" r="2.8" fill="#d9759f" fill-opacity="0.85"/><circle cx="1072" cy="2367.5" r="3" fill="#d9759f" fill-opacity="0.5"/><circle cx="1133.4" cy="2378" r="5" fill="#d02a55" fill-opacity="0.95"/><circle cx="1209.9" cy="2391.5" r="1.8" fill="#8f1f5a" fill-opacity="0.95"/><circle cx="1251.7" cy="2412.8" r="2.4" fill="#d02a55" fill-opacity="0.95"/><path d="M1020.1 2254.3L1034.1 2249.3L1025.6 2240.8z" fill="#111" transform="rotate(0 1027.6 2247.8)"/><path d="M1022.8 2292.9L1036.8 2287.9L1028.3 2279.4z" fill="#111" transform="rotate(0 1030.3 2286.4)"/><path d="M929.3 2297.9L943.3 2292.9L934.8 2284.4z" fill="#111" transform="rotate(0 936.8 2291.4)"/><path d="M881.7 2357L895.7 2352L887.2 2343.5z" fill="#111" transform="rotate(0 889.2 2350.5)"/><path d="M1022 2359.7L1036 2354.7L1027.5 2346.2z" fill="#111" transform="rotate(0 1029.5 2353.2)"/><path d="M881.7 2398L895.7 2393L887.2 2384.5z" fill="#111" transform="rotate(0 889.2 2391.5)"/><path d="M884.4 2429.7L898.4 2424.7L889.9 2416.2z" fill="#111" transform="rotate(0 891.9 2423.2)"/><rect x="1247.8" y="2426.7" width="38.3" height="7.4" fill="#000"/><path d="M718 2031.4L718 2383.8" stroke="#000" stroke-width="2.6"/><text x="771.4" y="2060.4" font-size="24.5" text-anchor="middle" textLength="45.5" lengthAdjust="spacingAndGlyphs">Soft</text><g transform="translate(741.3 2073.1)"><rect width="59.8" height="60.7" fill="url(#psoft)"/></g><text x="771" y="2306.5" font-size="24.5" text-anchor="middle" textLength="44.5" lengthAdjust="spacingAndGlyphs">Stiff</text><g transform="translate(741.3 2316.9)"><rect width="59.8" height="60.7" fill="url(#pstiff)"/></g><text font-size="24.5" text-anchor="middle" textLength="107" lengthAdjust="spacingAndGlyphs" transform="translate(691.5 2253) rotate(-90)">Aged CFs</text><g transform="translate(679 2144.4) rotate(-90)"><path d="M-43.5 -14.1C-26.1 -15 -13 -22.3 -0.9 -22.8C10.9 -22.8 21.8 -14.1 40.5 -18.2C34.8 -6.8 37 4.6 43.5 11.9C26.1 15 13 22.8 0 22.8C-13 22.8 -26.1 16 -41.8 16.9C-39.1 11.4 -34.8 4.6 -30.4 1.1C-34.8 -3.4 -39.1 -9.1 -43.5 -14.1z" fill="#033572"/><ellipse cx="-2.2" cy="0.7" rx="14.4" ry="12.3" fill="#809abb"/></g><text font-size="24.5" text-anchor="middle" textLength="165.5" lengthAdjust="spacingAndGlyphs" transform="translate(1349 2175.8) rotate(-90)">% p53 positive</text><path d="M1416.2 2046V2307.4M1408.7 2307.4H1899.3M1408.7 2176.7H1416.2M1408.7 2046H1416.2" stroke="#222" stroke-width="1.5"/><text x="1398" y="2314.6" font-size="20" text-anchor="end" textLength="12.2" lengthAdjust="spacingAndGlyphs">0</text><text x="1398" y="2183.9" font-size="20" text-anchor="end" textLength="24.5" lengthAdjust="spacingAndGlyphs">50</text><text x="1398" y="2053.2" font-size="20" text-anchor="end" textLength="36.7" lengthAdjust="spacingAndGlyphs">100</text><circle cx="1454.4" cy="2262.1" r="4.6" fill="#8fd8cf" fill-opacity="0.55"/><circle cx="1468.4" cy="2289.7" r="4.6" fill="#8fd8cf" fill-opacity="0.55"/><circle cx="1461.4" cy="2276.6" r="4.6" fill="#8fd8cf" fill-opacity="0.55"/><circle cx="1454.4" cy="2281.1" r="4.6" fill="#8fd8cf" fill-opacity="0.55"/><circle cx="1454.4" cy="2270.6" r="4.6" fill="#8fd8cf" fill-opacity="0.55"/><circle cx="1461.4" cy="2272.3" r="4.6" fill="#8fd8cf" fill-opacity="0.55"/><circle cx="1454.4" cy="2275.5" r="4.6" fill="#8fd8cf" fill-opacity="0.55"/><path d="M1454.4 2262.1V2272.1M1454.4 2289V2289.7M1444.4 2262.1H1464.4M1444.4 2289.7H1464.4" stroke="#111" stroke-width="1.4"/><rect x="1436.4" y="2272.1" width="36" height="16.9" fill="#88d5cf" stroke="#111" stroke-width="1.4" fill-opacity="0.8"/><path d="M1436.4 2286H1472.4M1454.4 2278.3V2284.9M1451.1 2281.6H1457.7" stroke="#111" stroke-width="1.3"/><text x="1454.9" y="2335.7" font-size="20" text-anchor="middle" textLength="50" lengthAdjust="spacingAndGlyphs">SoftY</text><circle cx="1512.1" cy="2242.6" r="4.6" fill="#4fb3a2" fill-opacity="0.55"/><circle cx="1512.1" cy="2269.5" r="4.6" fill="#4fb3a2" fill-opacity="0.55"/><circle cx="1505.1" cy="2267.3" r="4.6" fill="#4fb3a2" fill-opacity="0.55"/><circle cx="1498.1" cy="2257.7" r="4.6" fill="#4fb3a2" fill-opacity="0.55"/><circle cx="1512.1" cy="2268.4" r="4.6" fill="#4fb3a2" fill-opacity="0.55"/><circle cx="1498.1" cy="2252.6" r="4.6" fill="#4fb3a2" fill-opacity="0.55"/><circle cx="1526.1" cy="2246.9" r="4.6" fill="#4fb3a2" fill-opacity="0.55"/><path d="M1512.1 2242.6V2251.5M1512.1 2264V2269.5M1502.1 2242.6H1522.1M1502.1 2269.5H1522.1" stroke="#111" stroke-width="1.4"/><rect x="1494.1" y="2251.5" width="36" height="12.5" fill="#43ab9b" stroke="#111" stroke-width="1.4" fill-opacity="0.8"/><path d="M1494.1 2258.5H1530.1M1512.1 2255.2V2261.8M1508.8 2258.5H1515.4" stroke="#111" stroke-width="1.3"/><text x="1512.6" y="2335.7" font-size="20" text-anchor="middle" textLength="49.5" lengthAdjust="spacingAndGlyphs">StiffY</text><circle cx="1569.9" cy="2221" r="4.6" fill="#cdb7e2" fill-opacity="0.55"/><circle cx="1569.9" cy="2275" r="4.6" fill="#cdb7e2" fill-opacity="0.55"/><circle cx="1583.9" cy="2272.6" r="4.6" fill="#cdb7e2" fill-opacity="0.55"/><circle cx="1569.9" cy="2226.1" r="4.6" fill="#cdb7e2" fill-opacity="0.55"/><circle cx="1569.9" cy="2238.6" r="4.6" fill="#cdb7e2" fill-opacity="0.55"/><circle cx="1576.9" cy="2269.5" r="4.6" fill="#cdb7e2" fill-opacity="0.55"/><circle cx="1576.9" cy="2250.7" r="4.6" fill="#cdb7e2" fill-opacity="0.55"/><path d="M1569.9 2221V2239.7M1569.9 2266.2V2275M1559.9 2221H1579.9M1559.9 2275H1579.9" stroke="#111" stroke-width="1.4"/><rect x="1551.9" y="2239.7" width="36" height="26.5" fill="#c2acd6" stroke="#111" stroke-width="1.4" fill-opacity="0.8"/><path d="M1551.9 2255.1H1587.9M1569.9 2249.6V2256.2M1566.6 2252.9H1573.2" stroke="#111" stroke-width="1.3"/><text x="1570.4" y="2335.7" font-size="20" text-anchor="middle" textLength="52.5" lengthAdjust="spacingAndGlyphs">SoftA</text><circle cx="1642" cy="2197.1" r="4.6" fill="#a668bd" fill-opacity="0.55"/><circle cx="1614" cy="2257.4" r="4.6" fill="#a668bd" fill-opacity="0.55"/><circle cx="1614" cy="2203.3" r="4.6" fill="#a668bd" fill-opacity="0.55"/><circle cx="1628" cy="2249.7" r="4.6" fill="#a668bd" fill-opacity="0.55"/><circle cx="1642" cy="2228.1" r="4.6" fill="#a668bd" fill-opacity="0.55"/><circle cx="1628" cy="2233.2" r="4.6" fill="#a668bd" fill-opacity="0.55"/><circle cx="1614" cy="2247.4" r="4.6" fill="#a668bd" fill-opacity="0.55"/><path d="M1628 2197.1V2197.8M1628 2252.6V2257.4M1618 2197.1H1638M1618 2257.4H1638" stroke="#111" stroke-width="1.4"/><rect x="1610" y="2197.8" width="36" height="54.8" fill="#9b5db3" stroke="#111" stroke-width="1.4" fill-opacity="0.8"/><path d="M1610 2240.4H1646M1628 2225V2231.6M1624.7 2228.3H1631.3" stroke="#111" stroke-width="1.3"/><text x="1628.5" y="2335.7" font-size="20" text-anchor="middle" textLength="51" lengthAdjust="spacingAndGlyphs">StiffA</text><circle cx="1679" cy="2203.7" r="4.6" fill="#8fd8cf" fill-opacity="0.55"/><circle cx="1686" cy="2247.4" r="4.6" fill="#8fd8cf" fill-opacity="0.55"/><circle cx="1693" cy="2229" r="4.6" fill="#8fd8cf" fill-opacity="0.55"/><circle cx="1679" cy="2241" r="4.6" fill="#8fd8cf" fill-opacity="0.55"/><circle cx="1686" cy="2231.1" r="4.6" fill="#8fd8cf" fill-opacity="0.55"/><circle cx="1672" cy="2211.3" r="4.6" fill="#8fd8cf" fill-opacity="0.55"/><circle cx="1679" cy="2205.2" r="4.6" fill="#8fd8cf" fill-opacity="0.55"/><path d="M1686 2203.7V2207.4M1686 2243V2247.4M1676 2203.7H1696M1676 2247.4H1696" stroke="#111" stroke-width="1.4"/><rect x="1668" y="2207.4" width="36" height="35.7" fill="#88d5cf" stroke="#111" stroke-width="1.4" fill-opacity="0.8"/><path d="M1668 2221H1704M1686 2220.6V2227.2M1682.7 2223.9H1689.3" stroke="#111" stroke-width="1.3"/><text x="1686.5" y="2335.7" font-size="20" text-anchor="middle" textLength="50" lengthAdjust="spacingAndGlyphs">SoftY</text><circle cx="1736.8" cy="2133.5" r="4.6" fill="#4fb3a2" fill-opacity="0.55"/><circle cx="1736.8" cy="2209.9" r="4.6" fill="#4fb3a2" fill-opacity="0.55"/><circle cx="1743.8" cy="2154.3" r="4.6" fill="#4fb3a2" fill-opacity="0.55"/><circle cx="1729.8" cy="2146.4" r="4.6" fill="#4fb3a2" fill-opacity="0.55"/><circle cx="1729.8" cy="2188.6" r="4.6" fill="#4fb3a2" fill-opacity="0.55"/><circle cx="1743.8" cy="2208.2" r="4.6" fill="#4fb3a2" fill-opacity="0.55"/><circle cx="1729.8" cy="2182" r="4.6" fill="#4fb3a2" fill-opacity="0.55"/><path d="M1743.8 2133.5V2142.3M1743.8 2186.4V2209.9M1733.8 2133.5H1753.8M1733.8 2209.9H1753.8" stroke="#111" stroke-width="1.4"/><rect x="1725.8" y="2142.3" width="36" height="44.1" fill="#43ab9b" stroke="#111" stroke-width="1.4" fill-opacity="0.8"/><path d="M1725.8 2158.8H1761.8M1743.8 2159.9V2166.5M1740.5 2163.2H1747.1" stroke="#111" stroke-width="1.3"/><text x="1744.3" y="2335.7" font-size="20" text-anchor="middle" textLength="49.5" lengthAdjust="spacingAndGlyphs">StiffY</text><circle cx="1801.8" cy="2075.7" r="4.6" fill="#cdb7e2" fill-opacity="0.55"/><circle cx="1794.8" cy="2176.8" r="4.6" fill="#cdb7e2" fill-opacity="0.55"/><circle cx="1801.8" cy="2144.4" r="4.6" fill="#cdb7e2" fill-opacity="0.55"/><circle cx="1801.8" cy="2172.7" r="4.6" fill="#cdb7e2" fill-opacity="0.55"/><circle cx="1801.8" cy="2146.9" r="4.6" fill="#cdb7e2" fill-opacity="0.55"/><circle cx="1801.8" cy="2137.9" r="4.6" fill="#cdb7e2" fill-opacity="0.55"/><circle cx="1815.8" cy="2133.2" r="4.6" fill="#cdb7e2" fill-opacity="0.55"/><path d="M1801.8 2075.7V2093.8M1801.8 2164V2176.8M1791.8 2075.7H1811.8M1791.8 2176.8H1811.8" stroke="#111" stroke-width="1.4"/><rect x="1783.8" y="2093.8" width="36" height="70.2" fill="#c2acd6" stroke="#111" stroke-width="1.4" fill-opacity="0.8"/><path d="M1783.8 2146.3H1819.8M1801.8 2132V2138.6M1798.5 2135.3H1805.1" stroke="#111" stroke-width="1.3"/><text x="1802.3" y="2335.7" font-size="20" text-anchor="middle" textLength="52.5" lengthAdjust="spacingAndGlyphs">SoftA</text><circle cx="1845.6" cy="2046.3" r="4.6" fill="#a668bd" fill-opacity="0.55"/><circle cx="1859.6" cy="2199.3" r="4.6" fill="#a668bd" fill-opacity="0.55"/><circle cx="1859.6" cy="2055.4" r="4.6" fill="#a668bd" fill-opacity="0.55"/><circle cx="1852.6" cy="2075.2" r="4.6" fill="#a668bd" fill-opacity="0.55"/><circle cx="1845.6" cy="2124.2" r="4.6" fill="#a668bd" fill-opacity="0.55"/><circle cx="1859.6" cy="2075.2" r="4.6" fill="#a668bd" fill-opacity="0.55"/><circle cx="1859.6" cy="2071.9" r="4.6" fill="#a668bd" fill-opacity="0.55"/><path d="M1859.6 2046.3V2112.5M1859.6 2182V2199.3M1849.6 2046.3H1869.6M1849.6 2199.3H1869.6" stroke="#111" stroke-width="1.4"/><rect x="1841.6" y="2112.5" width="36" height="69.5" fill="#9b5db3" stroke="#111" stroke-width="1.4" fill-opacity="0.8"/><path d="M1841.6 2161.4H1877.6M1859.6 2143.4V2150M1856.3 2146.7H1862.9" stroke="#111" stroke-width="1.3"/><text x="1860.1" y="2335.7" font-size="20" text-anchor="middle" textLength="51" lengthAdjust="spacingAndGlyphs">StiffA</text><text x="1743.8" y="1936" font-size="21" text-anchor="middle"><tspan font-style="italic">P</tspan> &lt; 0.0001</text><path d="M1628 1945.2H1859.6" stroke="#222" stroke-width="1.4"/><text x="1686" y="1964.6" font-size="21" text-anchor="middle"><tspan font-style="italic">P</tspan> &lt; 0.0001</text><path d="M1569.9 1973.5H1801.8" stroke="#222" stroke-width="1.4"/><text x="1628" y="1993.2" font-size="21" text-anchor="middle"><tspan font-style="italic">P</tspan> &lt; 0.0001</text><path d="M1512.1 2001.8H1743.8" stroke="#222" stroke-width="1.4"/><text x="1570" y="2021.2" font-size="21" text-anchor="middle"><tspan font-style="italic">P</tspan> = 0.0032</text><path d="M1454.4 2030H1686" stroke="#222" stroke-width="1.4"/><text x="1744.9" y="2041.5" font-size="21" text-anchor="middle"><tspan font-style="italic">P</tspan> &lt; 0.0001</text><path d="M1686 2051.5H1801.8" stroke="#222" stroke-width="1.4"/><text x="1716.9" y="2075.7" font-size="21" text-anchor="middle"><tspan font-style="italic">P</tspan> = 0.0009</text><path d="M1689.7 2083.8H1743.8" stroke="#222" stroke-width="1.4"/><path d="M1437.9 2357.4H1647.4" stroke="#222" stroke-width="1.4"/><path d="M1671.3 2357.4H1881.6" stroke="#222" stroke-width="1.4"/><text x="1480" y="2386" font-size="24.5" text-anchor="middle" textLength="72" lengthAdjust="spacingAndGlyphs">Young</text><text x="1480" y="2414.7" font-size="24.5" text-anchor="middle" textLength="42" lengthAdjust="spacingAndGlyphs">CFs</text><g transform="translate(1581.8 2394.6) rotate(0)"><path d="M-51 -14.3C-30.6 -15.2 -15.3 -22.5 -1 -23C12.8 -23 25.5 -14.3 47.4 -18.4C40.8 -6.9 43.4 4.6 51 12C30.6 15.2 15.3 23 0 23C-15.3 23 -30.6 16.1 -49 17C-45.9 11.5 -40.8 4.6 -35.7 1.2C-40.8 -3.4 -45.9 -9.2 -51 -14.3z" fill="#6699c8"/><ellipse cx="-2.6" cy="0.7" rx="16.8" ry="12.4" fill="#c5d8ea"/></g><text x="1716.2" y="2386" font-size="24.5" text-anchor="middle" textLength="58" lengthAdjust="spacingAndGlyphs">Aged</text><text x="1716.2" y="2414.7" font-size="24.5" text-anchor="middle" textLength="42" lengthAdjust="spacingAndGlyphs">CFs</text><g transform="translate(1812.8 2393.6) rotate(0)"><path d="M-51.5 -15.3C-30.9 -16.3 -15.4 -24.3 -1 -24.8C12.9 -24.8 25.8 -15.3 47.9 -19.8C41.2 -7.4 43.8 5 51.5 12.9C30.9 16.3 15.4 24.8 0 24.8C-15.4 24.8 -30.9 17.3 -49.4 18.3C-46.4 12.4 -41.2 5 -36 1.2C-41.2 -3.7 -46.4 -9.9 -51.5 -15.3z" fill="#033572"/><ellipse cx="-2.6" cy="0.7" rx="17" ry="13.4" fill="#809abb"/></g></svg></body></html>
